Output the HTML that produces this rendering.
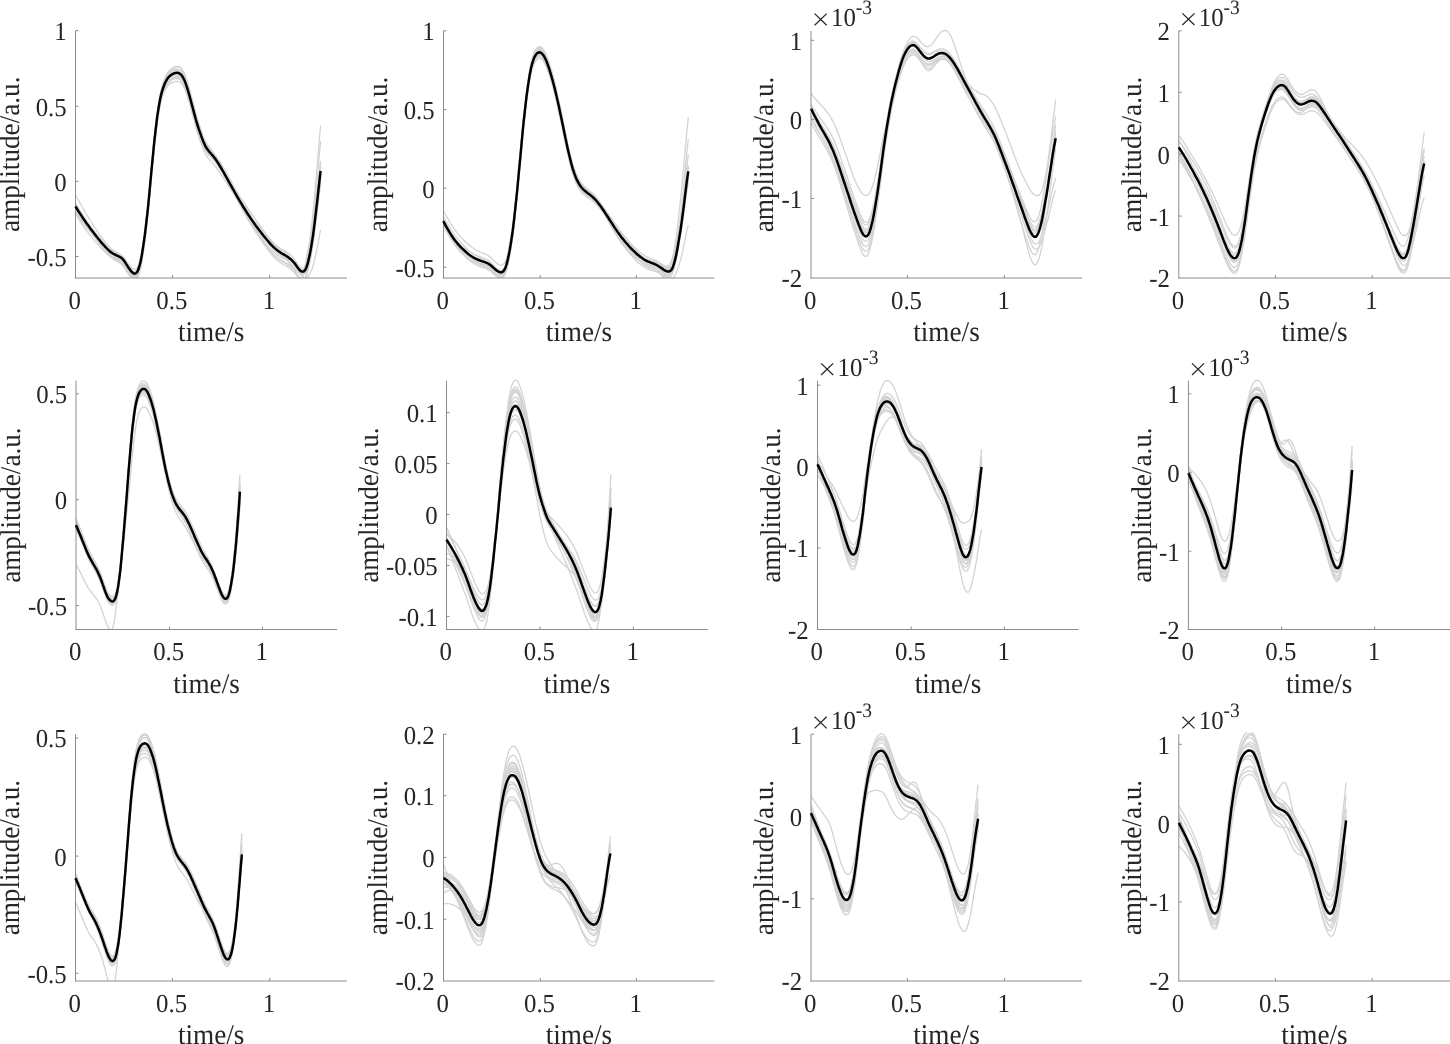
<!DOCTYPE html>
<html><head><meta charset="utf-8"><title>figure</title>
<style>
html,body{margin:0;padding:0;background:#fff;}
body{width:1450px;height:1044px;overflow:hidden;}
svg{display:block;will-change:transform;}
text{font-family:"Liberation Serif",serif;fill:#262626;text-rendering:geometricPrecision;}
.t{font-size:24.8px;}
.l{font-size:27.2px;}
.s{font-size:19.5px;}
.g{fill:none;stroke:#d3d3d3;stroke-width:1.3;stroke-linejoin:round;stroke-linecap:butt;}
.b{fill:none;stroke:#000;stroke-width:2.45;stroke-linejoin:round;stroke-linecap:butt;}
.a{stroke:#8c8c8c;stroke-width:1;fill:none;}
</style></head><body>
<svg width="1450" height="1044" viewBox="0 0 1450 1044">
<rect width="1450" height="1044" fill="#fff"/>

<g id="p1">
<clipPath id="c0"><rect x="75.5" y="28.6" width="271.5" height="249.4"/></clipPath>
<g clip-path="url(#c0)">
<path class="g" d="M75.5,194.5 77.1,197.5 78.6,200.4 80.2,203.3 81.7,206.0 83.2,208.7 84.8,211.4 86.3,214.0 87.9,216.5 89.4,219.0 90.9,221.5 92.5,223.9 94.0,226.3 95.6,228.6 97.1,231.0 98.7,233.2 100.2,235.4 101.7,237.5 103.3,239.5 104.8,241.5 106.4,243.4 107.9,245.2 109.4,246.9 111.0,248.4 112.5,249.7 114.1,250.8 115.6,251.7 117.1,252.6 118.7,253.5 120.2,254.4 121.8,255.7 123.3,257.3 124.8,259.5 126.4,262.0 127.9,264.6 129.5,267.0 131.0,269.0 132.6,270.7 134.1,271.6 135.6,271.5 137.2,269.9 138.7,266.4 140.3,260.8 141.8,253.0 143.3,243.2 144.9,232.0 146.4,219.2 148.0,204.7 149.5,188.8 151.0,172.1 152.6,155.5 154.1,139.7 155.7,125.4 157.2,112.8 158.8,102.2 160.3,93.9 161.8,87.4 163.4,82.3 164.9,78.2 166.5,75.0 168.0,72.5 169.5,70.6 171.1,69.2 172.6,68.1 174.2,67.4 175.7,66.9 177.2,66.8 178.8,67.0 180.3,67.9 181.9,69.6 183.4,72.2 185.0,75.7 186.5,80.0 188.0,85.0 189.6,90.5 191.1,96.3 192.7,102.2 194.2,108.2 195.7,113.9 197.3,119.4 198.8,124.4 200.4,129.1 201.9,133.5 203.4,137.7 205.0,141.3 206.5,144.3 208.1,146.7 209.6,148.8 211.1,150.7 212.7,152.7 214.2,154.9 215.8,157.2 217.3,159.7 218.9,162.3 220.4,165.1 221.9,167.9 223.5,170.8 225.0,173.7 226.6,176.7 228.1,179.7 229.6,182.7 231.2,185.7 232.7,188.7 234.3,191.7 235.8,194.7 237.3,197.6 238.9,200.5 240.4,203.4 242.0,206.3 243.5,209.0 245.1,211.8 246.6,214.5 248.1,217.1 249.7,219.7 251.2,222.2 252.8,224.7 254.3,227.1 255.8,229.4 257.4,231.7 258.9,233.9 260.5,236.1 262.0,238.2 263.5,240.2 265.1,242.3 266.6,244.2 268.2,246.1 269.7,248.0 271.3,249.7 272.8,251.3 274.3,252.8 275.9,254.1 277.4,255.2 279.0,256.2 280.5,257.1 282.0,257.9 283.6,258.6 285.1,259.2 286.7,259.8 288.2,260.5 289.7,261.2 291.3,262.1 292.8,263.2 294.4,264.5 295.9,266.0 297.4,267.6 299.0,269.0 300.5,269.9 302.1,269.9 303.6,268.9 305.2,265.8 306.7,260.0 308.2,251.5 309.8,240.9 311.3,228.4 312.9,214.0 314.4,197.8 315.9,180.3 317.5,162.0 319.0,143.4 320.6,125.0"/>
<path class="g" d="M75.5,203.5 77.1,206.3 78.6,209.1 80.2,211.7 81.7,214.3 83.2,216.8 84.8,219.3 86.3,221.7 87.9,224.1 89.4,226.4 90.9,228.7 92.5,230.9 94.0,233.2 95.6,235.4 97.1,237.5 98.7,239.6 100.2,241.6 101.7,243.6 103.3,245.5 104.8,247.3 106.4,249.1 107.9,250.7 109.4,252.3 111.0,253.7 112.5,254.8 114.1,255.8 115.6,256.6 117.1,257.4 118.7,258.1 120.2,259.0 121.8,260.1 123.3,261.7 124.8,263.8 126.4,266.3 127.9,268.8 129.5,271.1 131.0,273.1 132.6,274.7 134.1,275.6 135.6,275.5 137.2,273.8 138.7,270.3 140.3,264.7 141.8,256.8 143.3,247.0 144.9,235.7 146.4,222.9 148.0,208.4 149.5,192.4 151.0,175.7 152.6,159.0 154.1,143.2 155.7,128.8 157.2,116.2 158.8,105.6 160.3,97.2 161.8,90.7 163.4,85.5 164.9,81.4 166.5,78.1 168.0,75.6 169.5,73.7 171.1,72.3 172.6,71.2 174.2,70.4 175.7,69.9 177.2,69.8 178.8,70.0 180.3,70.9 181.9,72.6 183.4,75.2 185.0,78.6 186.5,82.9 188.0,87.8 189.6,93.3 191.1,99.0 192.7,105.0 194.2,110.8 195.7,116.5 197.3,122.0 198.8,127.0 200.4,131.6 201.9,136.0 203.4,140.1 205.0,143.7 206.5,146.6 208.1,149.0 209.6,151.0 211.1,152.9 212.7,154.9 214.2,157.0 215.8,159.3 217.3,161.8 218.9,164.3 220.4,167.1 221.9,169.9 223.5,172.8 225.0,175.7 226.6,178.7 228.1,181.7 229.6,184.7 231.2,187.7 232.7,190.7 234.3,193.7 235.8,196.7 237.3,199.7 238.9,202.6 240.4,205.4 242.0,208.3 243.5,211.1 245.1,213.8 246.6,216.5 248.1,219.1 249.7,221.7 251.2,224.2 252.8,226.7 254.3,229.1 255.8,231.4 257.4,233.7 258.9,236.0 260.5,238.1 262.0,240.3 263.5,242.4 265.1,244.4 266.6,246.4 268.2,248.4 269.7,250.3 271.3,252.0 272.8,253.7 274.3,255.2 275.9,256.6 277.4,257.8 279.0,258.9 280.5,259.8 282.0,260.7 283.6,261.5 285.1,262.3 286.7,263.0 288.2,263.8 289.7,264.7 291.3,265.7 292.8,266.9 294.4,268.4 295.9,270.1 297.4,271.9 299.0,273.5 300.5,274.6 302.1,274.8 303.6,274.1 305.2,271.4 306.7,266.2 308.2,258.5 309.8,248.9 311.3,237.4 312.9,224.1 314.4,209.1 315.9,192.8 317.5,175.7 319.0,158.3 320.6,141.0"/>
<path class="g" d="M75.5,209.5 77.1,212.0 78.6,214.5 80.2,216.9 81.7,219.2 83.2,221.5 84.8,223.7 86.3,225.9 87.9,228.0 89.4,230.1 90.9,232.2 92.5,234.3 94.0,236.3 95.6,238.3 97.1,240.3 98.7,242.2 100.2,244.1 101.7,245.9 103.3,247.6 104.8,249.3 106.4,251.0 107.9,252.5 109.4,254.0 111.0,255.2 112.5,256.3 114.1,257.2 115.6,257.9 117.1,258.6 118.7,259.3 120.2,260.1 121.8,261.2 123.3,262.8 124.8,264.9 126.4,267.3 127.9,269.7 129.5,272.1 131.0,274.1 132.6,275.7 134.1,276.6 135.6,276.5 137.2,274.9 138.7,271.5 140.3,266.0 141.8,258.3 143.3,248.7 144.9,237.7 146.4,225.1 148.0,210.8 149.5,195.2 151.0,178.7 152.6,162.3 154.1,146.9 155.7,132.8 157.2,120.5 158.8,110.2 160.3,102.2 161.8,96.0 163.4,91.1 164.9,87.3 166.5,84.3 168.0,82.1 169.5,80.4 171.1,79.2 172.6,78.3 174.2,77.7 175.7,77.3 177.2,77.3 178.8,77.6 180.3,78.6 181.9,80.3 183.4,82.8 185.0,86.3 186.5,90.5 188.0,95.4 189.6,100.7 191.1,106.4 192.7,112.2 194.2,117.9 195.7,123.5 197.3,128.7 198.8,133.6 200.4,138.0 201.9,142.1 203.4,146.0 205.0,149.3 206.5,152.0 208.1,154.1 209.6,155.8 211.1,157.4 212.7,159.0 214.2,160.8 215.8,162.8 217.3,164.9 218.9,167.1 220.4,169.5 221.9,171.9 223.5,174.4 225.0,176.9 226.6,179.5 228.1,182.0 229.6,184.6 231.2,187.2 232.7,189.7 234.3,192.2 235.8,194.6 237.3,197.0 238.9,199.4 240.4,201.7 242.0,204.0 243.5,206.2 245.1,208.4 246.6,210.5 248.1,212.6 249.7,214.6 251.2,216.7 252.8,218.6 254.3,220.6 255.8,222.4 257.4,224.3 258.9,226.1 260.5,227.9 262.0,229.7 263.5,231.5 265.1,233.3 266.6,235.1 268.2,236.9 269.7,238.6 271.3,240.3 272.8,241.9 274.3,243.5 275.9,244.9 277.4,246.3 279.0,247.6 280.5,248.8 282.0,250.0 283.6,251.3 285.1,252.5 286.7,253.8 288.2,255.3 289.7,256.9 291.3,258.7 292.8,260.9 294.4,263.3 295.9,266.1 297.4,269.0 299.0,272.0 300.5,274.4 302.1,276.2 303.6,277.3 305.2,278.1 306.7,277.8 308.2,276.3 309.8,274.0 311.3,270.7 312.9,266.3 314.4,260.5 315.9,253.8 317.5,246.3 319.0,238.2 320.6,230.0"/>
<path class="g" d="M75.5,208.5 77.1,210.8 78.6,213.0 80.2,215.2 81.7,217.3 83.2,219.4 84.8,221.4 86.3,223.4 87.9,225.3 89.4,227.3 90.9,229.2 92.5,231.1 94.0,233.0 95.6,234.9 97.1,236.7 98.7,238.5 100.2,240.3 101.7,242.0 103.3,243.7 104.8,245.3 106.4,246.9 107.9,248.3 109.4,249.7 111.0,251.0 112.5,252.0 114.1,252.8 115.6,253.6 117.1,254.2 118.7,254.9 120.2,255.7 121.8,256.8 123.3,258.4 124.8,260.5 126.4,263.0 127.9,265.5 129.5,267.8 131.0,269.9 132.6,271.6 134.1,272.6 135.6,272.6 137.2,271.1 138.7,267.9 140.3,262.6 141.8,255.2 143.3,246.0 144.9,235.2 146.4,223.0 148.0,209.2 149.5,193.9 151.0,177.9 152.6,161.9 154.1,146.9 155.7,133.3 157.2,121.5 158.8,111.6 160.3,103.9 161.8,98.1 163.4,93.6 164.9,90.1 166.5,87.5 168.0,85.5 169.5,84.1 171.1,83.1 172.6,82.3 174.2,81.8 175.7,81.4 177.2,81.4 178.8,81.6 180.3,82.4 181.9,84.0 183.4,86.3 185.0,89.5 186.5,93.5 188.0,98.1 189.6,103.1 191.1,108.5 192.7,113.9 194.2,119.3 195.7,124.5 197.3,129.4 198.8,133.8 200.4,137.9 201.9,141.6 203.4,145.1 205.0,148.1 206.5,150.5 208.1,152.2 209.6,153.6 211.1,155.0 212.7,156.4 214.2,158.0 215.8,159.8 217.3,161.7 218.9,163.9 220.4,166.2 221.9,168.6 223.5,171.2 225.0,173.8 226.6,176.6 228.1,179.3 229.6,182.1 231.2,185.0 232.7,187.8 234.3,190.6 235.8,193.4 237.3,196.1 238.9,198.9 240.4,201.6 242.0,204.2 243.5,206.9 245.1,209.5 246.6,212.0 248.1,214.5 249.7,217.0 251.2,219.4 252.8,221.8 254.3,224.1 255.8,226.4 257.4,228.6 258.9,230.8 260.5,232.9 262.0,235.1 263.5,237.1 265.1,239.2 266.6,241.2 268.2,243.2 269.7,245.1 271.3,246.9 272.8,248.6 274.3,250.2 275.9,251.7 277.4,253.0 279.0,254.2 280.5,255.3 282.0,256.3 283.6,257.2 285.1,258.2 286.7,259.1 288.2,260.1 289.7,261.2 291.3,262.5 292.8,263.9 294.4,265.7 295.9,267.6 297.4,269.7 299.0,271.7 300.5,273.1 302.1,273.7 303.6,273.3 305.2,271.5 306.7,267.5 308.2,261.3 309.8,253.4 311.3,244.0 312.9,232.8 314.4,220.1 315.9,206.1 317.5,191.3 319.0,176.1 320.6,161.0"/>
<path class="g" d="M75.5,206.5 77.1,209.2 78.6,211.9 80.2,214.5 81.7,217.0 83.2,219.4 84.8,221.8 86.3,224.2 87.9,226.5 89.4,228.8 90.9,231.0 92.5,233.2 94.0,235.4 95.6,237.6 97.1,239.7 98.7,241.7 100.2,243.7 101.7,245.7 103.3,247.5 104.8,249.3 106.4,251.1 107.9,252.7 109.4,254.3 111.0,255.6 112.5,256.8 114.1,257.8 115.6,258.6 117.1,259.3 118.7,260.1 120.2,260.9 121.8,262.1 123.3,263.7 124.8,265.8 126.4,268.2 127.9,270.7 129.5,273.1 131.0,275.1 132.6,276.7 134.1,277.6 135.6,277.5 137.2,275.9 138.7,272.4 140.3,266.8 141.8,259.0 143.3,249.3 144.9,238.1 146.4,225.4 148.0,211.0 149.5,195.2 151.0,178.6 152.6,162.0 154.1,146.4 155.7,132.2 157.2,119.7 158.8,109.2 160.3,100.9 161.8,94.6 163.4,89.6 164.9,85.6 166.5,82.4 168.0,80.1 169.5,78.3 171.1,77.0 172.6,76.0 174.2,75.3 175.7,74.9 177.2,74.8 178.8,75.1 180.3,76.0 181.9,77.7 183.4,80.3 185.0,83.7 186.5,88.0 188.0,92.9 189.6,98.4 191.1,104.1 192.7,109.9 194.2,115.8 195.7,121.4 197.3,126.7 198.8,131.6 200.4,136.2 201.9,140.4 203.4,144.3 205.0,147.8 206.5,150.6 208.1,152.8 209.6,154.6 211.1,156.3 212.7,158.1 214.2,160.0 215.8,162.1 217.3,164.3 218.9,166.6 220.4,169.1 221.9,171.6 223.5,174.2 225.0,176.9 226.6,179.5 228.1,182.2 229.6,184.9 231.2,187.6 232.7,190.2 234.3,192.8 235.8,195.4 237.3,198.0 238.9,200.5 240.4,203.0 242.0,205.4 243.5,207.8 245.1,210.2 246.6,212.5 248.1,214.7 249.7,217.0 251.2,219.1 252.8,221.3 254.3,223.4 255.8,225.5 257.4,227.5 258.9,229.5 260.5,231.5 262.0,233.5 263.5,235.4 265.1,237.4 266.6,239.3 268.2,241.3 269.7,243.2 271.3,245.0 272.8,246.8 274.3,248.5 275.9,250.1 277.4,251.5 279.0,253.0 280.5,254.3 282.0,255.6 283.6,256.9 285.1,258.3 286.7,259.7 288.2,261.2 289.7,262.8 291.3,264.7 292.8,266.9 294.4,269.4 295.9,272.5 297.4,275.7 299.0,278.4 300.5,279.9 302.1,278.2 303.6,272.7 305.2,265.0 306.7,256.6 308.2,249.3 309.8,242.1 311.3,234.3 312.9,225.6 314.4,216.3 315.9,206.7 317.5,197.3 319.0,188.6 320.6,181.0"/>
<path class="g" d="M75.5,210.5 77.1,213.1 78.6,215.5 80.2,217.8 81.7,220.0 83.2,222.1 84.8,224.1 86.3,226.0 87.9,227.8 89.4,229.6 90.9,231.3 92.5,233.0 94.0,234.6 95.6,236.2 97.1,237.8 98.7,239.4 100.2,240.9 101.7,242.3 103.3,243.8 104.8,245.2 106.4,246.6 107.9,247.9 109.4,249.2 111.0,250.3 112.5,251.3 114.1,252.1 115.6,252.8 117.1,253.5 118.7,254.2 120.2,255.1 121.8,256.3 123.3,257.9 124.8,260.1 126.4,262.7 127.9,265.3 129.5,267.8 131.0,270.0 132.6,271.7 134.1,272.8 135.6,272.8 137.2,271.3 138.7,267.9 140.3,262.4 141.8,254.7 143.3,245.1 144.9,233.9 146.4,221.3 148.0,206.8 149.5,191.0 151.0,174.4 152.6,157.7 154.1,142.0 155.7,127.7 157.2,115.2 158.8,104.6 160.3,96.3 161.8,89.9 163.4,84.8 164.9,80.7 166.5,77.5 168.0,75.1 169.5,73.3 171.1,72.0 172.6,71.1 174.2,70.4 175.7,70.1 177.2,70.2 178.8,70.7 180.3,71.8 181.9,73.7 183.4,76.5 185.0,80.3 186.5,84.8 188.0,90.1 189.6,95.9 191.1,102.0 192.7,108.2 194.2,114.4 195.7,120.3 197.3,126.0 198.8,131.3 200.4,136.1 201.9,140.6 203.4,144.8 205.0,148.4 206.5,151.3 208.1,153.6 209.6,155.5 211.1,157.2 212.7,159.0 214.2,160.8 215.8,162.7 217.3,164.7 218.9,166.8 220.4,169.0 221.9,171.2 223.5,173.5 225.0,175.7 226.6,178.0 228.1,180.2 229.6,182.5 231.2,184.8 232.7,187.0 234.3,189.2 235.8,191.4 237.3,193.6 238.9,195.8 240.4,197.9 242.0,200.1 243.5,202.2 245.1,204.4 246.6,206.6 248.1,208.7 249.7,210.9 251.2,213.1 252.8,215.3 254.3,217.4 255.8,219.6 257.4,221.8 258.9,224.0 260.5,226.2 262.0,228.4 263.5,230.6 265.1,232.8 266.6,235.0 268.2,237.2 269.7,239.3 271.3,241.3 272.8,243.3 274.3,245.1 275.9,246.8 277.4,248.3 279.0,249.7 280.5,251.0 282.0,252.2 283.6,253.3 285.1,254.4 286.7,255.5 288.2,256.6 289.7,257.8 291.3,259.1 292.8,260.6 294.4,262.4 295.9,264.4 297.4,266.6 299.0,268.6 300.5,270.1 302.1,270.8 303.6,270.7 305.2,269.2 306.7,265.6 308.2,259.9 309.8,252.6 311.3,243.7 312.9,233.1 314.4,220.9 315.9,207.5 317.5,193.1 319.0,178.2 320.6,163.3"/>
<path class="g" d="M75.5,213.8 77.1,216.4 78.6,219.0 80.2,221.4 81.7,223.8 83.2,226.0 84.8,228.2 86.3,230.3 87.9,232.3 89.4,234.3 90.9,236.3 92.5,238.2 94.0,240.1 95.6,241.9 97.1,243.7 98.7,245.5 100.2,247.2 101.7,248.8 103.3,250.4 104.8,251.9 106.4,253.4 107.9,254.9 109.4,256.2 111.0,257.3 112.5,258.3 114.1,259.1 115.6,259.8 117.1,260.4 118.7,261.1 120.2,261.9 121.8,262.9 123.3,264.5 124.8,266.5 126.4,268.9 127.9,271.4 129.5,273.7 131.0,275.7 132.6,277.3 134.1,278.3 135.6,278.1 137.2,276.6 138.7,273.2 140.3,267.7 141.8,260.0 143.3,250.4 144.9,239.4 146.4,226.8 148.0,212.6 149.5,197.0 151.0,180.5 152.6,164.1 154.1,148.7 155.7,134.6 157.2,122.3 158.8,111.9 160.3,103.8 161.8,97.6 163.4,92.6 164.9,88.7 166.5,85.7 168.0,83.4 169.5,81.7 171.1,80.4 172.6,79.5 174.2,78.9 175.7,78.6 177.2,78.6 178.8,79.0 180.3,80.1 181.9,81.9 183.4,84.5 185.0,88.1 186.5,92.5 188.0,97.5 189.6,103.0 191.1,108.9 192.7,114.9 194.2,120.8 195.7,126.5 197.3,131.9 198.8,136.9 200.4,141.5 201.9,145.8 203.4,149.7 205.0,153.2 206.5,156.0 208.1,158.2 209.6,160.0 211.1,161.6 212.7,163.3 214.2,165.1 215.8,167.0 217.3,169.0 218.9,171.2 220.4,173.4 221.9,175.7 223.5,178.1 225.0,180.5 226.6,182.9 228.1,185.3 229.6,187.7 231.2,190.1 232.7,192.5 234.3,194.9 235.8,197.2 237.3,199.5 238.9,201.8 240.4,204.0 242.0,206.3 243.5,208.5 245.1,210.7 246.6,212.9 248.1,215.0 249.7,217.1 251.2,219.2 252.8,221.3 254.3,223.4 255.8,225.4 257.4,227.5 258.9,229.5 260.5,231.5 262.0,233.5 263.5,235.5 265.1,237.5 266.6,239.4 268.2,241.4 269.7,243.3 271.3,245.1 272.8,246.9 274.3,248.5 275.9,250.0 277.4,251.4 279.0,252.7 280.5,253.9 282.0,255.0 283.6,256.1 285.1,257.1 286.7,258.2 288.2,259.3 289.7,260.6 291.3,262.0 292.8,263.6 294.4,265.5 295.9,267.6 297.4,269.9 299.0,272.1 300.5,273.7 302.1,274.6 303.6,274.6 305.2,273.4 306.7,270.2 308.2,265.0 309.8,258.3 311.3,250.2 312.9,240.5 314.4,229.3 315.9,216.9 317.5,203.7 319.0,190.2 320.6,176.6"/>
<path class="g" d="M75.5,206.4 77.1,208.7 78.6,211.0 80.2,213.2 81.7,215.4 83.2,217.5 84.8,219.5 86.3,221.5 87.9,223.5 89.4,225.4 90.9,227.3 92.5,229.3 94.0,231.2 95.6,233.1 97.1,235.0 98.7,236.8 100.2,238.6 101.7,240.4 103.3,242.1 104.8,243.7 106.4,245.4 107.9,246.9 109.4,248.4 111.0,249.7 112.5,250.8 114.1,251.7 115.6,252.5 117.1,253.2 118.7,254.0 120.2,254.9 121.8,256.1 123.3,257.7 124.8,259.9 126.4,262.4 127.9,265.0 129.5,267.5 131.0,269.6 132.6,271.3 134.1,272.4 135.6,272.3 137.2,270.8 138.7,267.5 140.3,262.0 141.8,254.3 143.3,244.7 144.9,233.6 146.4,221.0 148.0,206.7 149.5,190.9 151.0,174.3 152.6,157.8 154.1,142.3 155.7,128.1 157.2,115.7 158.8,105.4 160.3,97.2 161.8,91.0 163.4,86.1 164.9,82.2 166.5,79.2 168.0,76.9 169.5,75.3 171.1,74.0 172.6,73.1 174.2,72.4 175.7,72.0 177.2,72.0 178.8,72.3 180.3,73.2 181.9,74.8 183.4,77.3 185.0,80.7 186.5,84.9 188.0,89.8 189.6,95.1 191.1,100.7 192.7,106.5 194.2,112.2 195.7,117.6 197.3,122.8 198.8,127.6 200.4,131.9 201.9,136.0 203.4,139.7 205.0,143.0 206.5,145.6 208.1,147.6 209.6,149.2 211.1,150.7 212.7,152.4 214.2,154.1 215.8,156.0 217.3,158.1 218.9,160.4 220.4,162.7 221.9,165.2 223.5,167.8 225.0,170.4 226.6,173.1 228.1,175.9 229.6,178.6 231.2,181.4 232.7,184.2 234.3,187.0 235.8,189.8 237.3,192.5 238.9,195.3 240.4,198.0 242.0,200.7 243.5,203.3 245.1,206.0 246.6,208.6 248.1,211.1 249.7,213.7 251.2,216.2 252.8,218.6 254.3,221.0 255.8,223.4 257.4,225.7 258.9,227.9 260.5,230.2 262.0,232.4 263.5,234.5 265.1,236.6 266.6,238.7 268.2,240.8 269.7,242.8 271.3,244.6 272.8,246.4 274.3,248.1 275.9,249.6 277.4,250.9 279.0,252.2 280.5,253.3 282.0,254.4 283.6,255.4 285.1,256.4 286.7,257.4 288.2,258.4 289.7,259.6 291.3,260.9 292.8,262.5 294.4,264.3 295.9,266.3 297.4,268.6 299.0,270.6 300.5,272.2 302.1,272.9 303.6,272.8 305.2,271.4 306.7,268.0 308.2,262.6 309.8,255.7 311.3,247.3 312.9,237.3 314.4,225.7 315.9,213.0 317.5,199.5 319.0,185.6 320.6,171.7"/>
<path class="g" d="M75.5,204.4 77.1,207.0 78.6,209.5 80.2,212.0 81.7,214.4 83.2,216.8 84.8,219.1 86.3,221.3 87.9,223.6 89.4,225.8 90.9,227.9 92.5,230.1 94.0,232.2 95.6,234.4 97.1,236.4 98.7,238.4 100.2,240.4 101.7,242.3 103.3,244.2 104.8,245.9 106.4,247.7 107.9,249.3 109.4,250.8 111.0,252.1 112.5,253.3 114.1,254.2 115.6,255.0 117.1,255.7 118.7,256.4 120.2,257.3 121.8,258.4 123.3,259.9 124.8,262.0 126.4,264.4 127.9,266.8 129.5,269.1 131.0,271.1 132.6,272.6 134.1,273.5 135.6,273.2 137.2,271.5 138.7,268.0 140.3,262.3 141.8,254.4 143.3,244.5 144.9,233.2 146.4,220.4 148.0,205.8 149.5,189.8 151.0,173.0 152.6,156.3 154.1,140.4 155.7,126.0 157.2,113.4 158.8,102.7 160.3,94.3 161.8,87.8 163.4,82.6 164.9,78.5 166.5,75.2 168.0,72.6 169.5,70.7 171.1,69.2 172.6,68.1 174.2,67.2 175.7,66.7 177.2,66.4 178.8,66.6 180.3,67.4 181.9,69.0 183.4,71.5 185.0,74.9 186.5,79.1 188.0,84.0 189.6,89.4 191.1,95.2 192.7,101.1 194.2,107.0 195.7,112.7 197.3,118.1 198.8,123.2 200.4,127.9 201.9,132.3 203.4,136.4 205.0,140.0 206.5,143.0 208.1,145.5 209.6,147.5 211.1,149.5 212.7,151.6 214.2,153.8 215.8,156.2 217.3,158.7 218.9,161.4 220.4,164.2 221.9,167.0 223.5,170.0 225.0,173.0 226.6,176.0 228.1,179.1 229.6,182.1 231.2,185.2 232.7,188.2 234.3,191.2 235.8,194.1 237.3,197.0 238.9,199.8 240.4,202.6 242.0,205.4 243.5,208.0 245.1,210.7 246.6,213.2 248.1,215.7 249.7,218.1 251.2,220.5 252.8,222.8 254.3,225.0 255.8,227.2 257.4,229.3 258.9,231.4 260.5,233.4 262.0,235.3 263.5,237.2 265.1,239.1 266.6,240.9 268.2,242.7 269.7,244.4 271.3,246.1 272.8,247.6 274.3,249.0 275.9,250.2 277.4,251.3 279.0,252.3 280.5,253.2 282.0,254.0 283.6,254.8 285.1,255.6 286.7,256.4 288.2,257.2 289.7,258.2 291.3,259.3 292.8,260.7 294.4,262.3 295.9,264.2 297.4,266.3 299.0,268.2 300.5,269.6 302.1,270.3 303.6,270.1 305.2,268.7 306.7,265.4 308.2,260.3 309.8,253.8 311.3,246.0 312.9,236.7 314.4,226.0 315.9,214.2 317.5,201.8 319.0,189.2 320.6,176.7"/>
<path class="g" d="M75.5,210.4 77.1,212.9 78.6,215.4 80.2,217.7 81.7,220.0 83.2,222.2 84.8,224.3 86.3,226.3 87.9,228.3 89.4,230.3 90.9,232.2 92.5,234.1 94.0,236.0 95.6,237.9 97.1,239.8 98.7,241.6 100.2,243.4 101.7,245.2 103.3,246.9 104.8,248.6 106.4,250.2 107.9,251.8 109.4,253.3 111.0,254.7 112.5,255.9 114.1,256.9 115.6,257.8 117.1,258.6 118.7,259.5 120.2,260.5 121.8,261.8 123.3,263.6 124.8,265.9 126.4,268.5 127.9,271.2 129.5,273.7 131.0,275.9 132.6,277.7 134.1,278.8 135.6,278.7 137.2,277.2 138.7,273.9 140.3,268.4 141.8,260.6 143.3,250.9 144.9,239.7 146.4,226.9 148.0,212.5 149.5,196.5 151.0,179.8 152.6,163.1 154.1,147.2 155.7,132.9 157.2,120.2 158.8,109.5 160.3,101.1 161.8,94.6 163.4,89.4 164.9,85.2 166.5,81.9 168.0,79.3 169.5,77.4 171.1,75.9 172.6,74.8 174.2,74.0 175.7,73.4 177.2,73.2 178.8,73.5 180.3,74.3 181.9,76.0 183.4,78.5 185.0,82.0 186.5,86.2 188.0,91.2 189.6,96.7 191.1,102.5 192.7,108.4 194.2,114.3 195.7,120.0 197.3,125.4 198.8,130.4 200.4,135.0 201.9,139.3 203.4,143.3 205.0,146.8 206.5,149.6 208.1,151.8 209.6,153.6 211.1,155.3 212.7,157.0 214.2,158.9 215.8,160.9 217.3,163.0 218.9,165.2 220.4,167.6 221.9,170.0 223.5,172.5 225.0,175.0 226.6,177.6 228.1,180.1 229.6,182.7 231.2,185.3 232.7,187.9 234.3,190.5 235.8,193.0 237.3,195.5 238.9,198.1 240.4,200.6 242.0,203.1 243.5,205.5 245.1,208.0 246.6,210.4 248.1,212.8 249.7,215.2 251.2,217.6 252.8,220.0 254.3,222.3 255.8,224.6 257.4,226.9 258.9,229.1 260.5,231.4 262.0,233.6 263.5,235.7 265.1,237.9 266.6,240.1 268.2,242.2 269.7,244.2 271.3,246.1 272.8,248.0 274.3,249.7 275.9,251.2 277.4,252.6 279.0,253.9 280.5,255.0 282.0,256.1 283.6,257.0 285.1,258.0 286.7,258.9 288.2,259.9 289.7,261.0 291.3,262.2 292.8,263.7 294.4,265.4 295.9,267.3 297.4,269.4 299.0,271.4 300.5,272.8 302.1,273.5 303.6,273.3 305.2,271.8 306.7,268.6 308.2,263.4 309.8,256.8 311.3,248.8 312.9,239.4 314.4,228.5 315.9,216.6 317.5,204.0 319.0,191.1 320.6,178.4"/>
<path class="g" d="M75.5,211.7 77.1,214.1 78.6,216.4 80.2,218.6 81.7,220.7 83.2,222.8 84.8,224.8 86.3,226.7 87.9,228.6 89.4,230.5 90.9,232.4 92.5,234.3 94.0,236.2 95.6,238.0 97.1,239.8 98.7,241.6 100.2,243.3 101.7,245.0 103.3,246.7 104.8,248.3 106.4,249.9 107.9,251.5 109.4,252.9 111.0,254.2 112.5,255.3 114.1,256.2 115.6,257.0 117.1,257.8 118.7,258.5 120.2,259.5 121.8,260.7 123.3,262.4 124.8,264.6 126.4,267.2 127.9,269.8 129.5,272.3 131.0,274.5 132.6,276.3 134.1,277.4 135.6,277.3 137.2,275.9 138.7,272.5 140.3,267.0 141.8,259.2 143.3,249.5 144.9,238.3 146.4,225.5 148.0,211.0 149.5,195.1 151.0,178.3 152.6,161.6 154.1,145.8 155.7,131.4 157.2,118.7 158.8,108.1 160.3,99.7 161.8,93.2 163.4,88.1 164.9,83.9 166.5,80.6 168.0,78.1 169.5,76.2 171.1,74.7 172.6,73.6 174.2,72.7 175.7,72.2 177.2,71.9 178.8,72.1 180.3,72.9 181.9,74.4 183.4,76.9 185.0,80.3 186.5,84.5 188.0,89.4 189.6,94.8 191.1,100.5 192.7,106.4 194.2,112.3 195.7,118.0 197.3,123.3 198.8,128.3 200.4,133.0 201.9,137.3 203.4,141.3 205.0,144.9 206.5,147.8 208.1,150.1 209.6,152.1 211.1,153.9 212.7,155.9 214.2,158.0 215.8,160.2 217.3,162.6 218.9,165.2 220.4,167.9 221.9,170.7 223.5,173.5 225.0,176.4 226.6,179.4 228.1,182.4 229.6,185.4 231.2,188.4 232.7,191.3 234.3,194.3 235.8,197.3 237.3,200.2 238.9,203.1 240.4,205.9 242.0,208.7 243.5,211.5 245.1,214.3 246.6,217.0 248.1,219.6 249.7,222.3 251.2,224.8 252.8,227.4 254.3,229.8 255.8,232.3 257.4,234.7 258.9,237.0 260.5,239.3 262.0,241.5 263.5,243.8 265.1,245.9 266.6,248.1 268.2,250.2 269.7,252.2 271.3,254.1 272.8,255.9 274.3,257.6 275.9,259.1 277.4,260.4 279.0,261.6 280.5,262.7 282.0,263.7 283.6,264.6 285.1,265.5 286.7,266.4 288.2,267.3 289.7,268.3 291.3,269.5 292.8,270.9 294.4,272.5 295.9,274.3 297.4,276.3 299.0,278.2 300.5,279.5 302.1,280.0 303.6,279.6 305.2,277.9 306.7,274.1 308.2,268.2 309.8,260.8 311.3,251.8 312.9,241.1 314.4,228.8 315.9,215.3 317.5,200.9 319.0,186.1 320.6,171.2"/>
<path class="g" d="M75.5,203.4 77.1,205.9 78.6,208.4 80.2,210.8 81.7,213.2 83.2,215.6 84.8,217.9 86.3,220.1 87.9,222.4 89.4,224.6 90.9,226.8 92.5,229.0 94.0,231.2 95.6,233.3 97.1,235.4 98.7,237.5 100.2,239.4 101.7,241.3 103.3,243.2 104.8,244.9 106.4,246.6 107.9,248.1 109.4,249.5 111.0,250.8 112.5,251.8 114.1,252.5 115.6,253.2 117.1,253.7 118.7,254.2 120.2,254.9 121.8,255.8 123.3,257.1 124.8,258.9 126.4,261.1 127.9,263.4 129.5,265.5 131.0,267.3 132.6,268.7 134.1,269.4 135.6,269.1 137.2,267.4 138.7,263.9 140.3,258.4 141.8,250.7 143.3,241.1 144.9,230.0 146.4,217.6 148.0,203.5 149.5,188.0 151.0,171.7 152.6,155.5 154.1,140.3 155.7,126.6 157.2,114.5 158.8,104.5 160.3,96.7 161.8,90.9 163.4,86.3 164.9,82.7 166.5,80.0 168.0,78.1 169.5,76.7 171.1,75.8 172.6,75.1 174.2,74.7 175.7,74.6 177.2,74.7 178.8,75.2 180.3,76.3 181.9,78.1 183.4,80.8 185.0,84.3 186.5,88.5 188.0,93.4 189.6,98.8 191.1,104.4 192.7,110.1 194.2,115.8 195.7,121.2 197.3,126.4 198.8,131.1 200.4,135.5 201.9,139.5 203.4,143.2 205.0,146.5 206.5,149.1 208.1,151.2 209.6,152.9 211.1,154.5 212.7,156.1 214.2,158.0 215.8,160.0 217.3,162.2 218.9,164.5 220.4,167.0 221.9,169.6 223.5,172.3 225.0,175.0 226.6,177.8 228.1,180.6 229.6,183.4 231.2,186.3 232.7,189.1 234.3,191.9 235.8,194.7 237.3,197.4 238.9,200.1 240.4,202.7 242.0,205.2 243.5,207.8 245.1,210.2 246.6,212.6 248.1,214.9 249.7,217.1 251.2,219.3 252.8,221.3 254.3,223.3 255.8,225.3 257.4,227.2 258.9,229.0 260.5,230.7 262.0,232.4 263.5,234.1 265.1,235.7 266.6,237.4 268.2,238.9 269.7,240.4 271.3,241.9 272.8,243.2 274.3,244.5 275.9,245.7 277.4,246.7 279.0,247.7 280.5,248.6 282.0,249.4 283.6,250.3 285.1,251.1 286.7,252.1 288.2,253.1 289.7,254.3 291.3,255.6 292.8,257.3 294.4,259.2 295.9,261.4 297.4,263.7 299.0,266.0 300.5,267.8 302.1,268.8 303.6,268.9 305.2,267.8 306.7,264.8 308.2,259.8 309.8,253.3 311.3,245.4 312.9,235.8 314.4,224.8 315.9,212.6 317.5,199.6 319.0,186.2 320.6,172.8"/>
<path class="g" d="M75.5,207.2 77.1,209.9 78.6,212.5 80.2,215.0 81.7,217.5 83.2,219.9 84.8,222.3 86.3,224.6 87.9,226.9 89.4,229.2 90.9,231.5 92.5,233.7 94.0,236.0 95.6,238.2 97.1,240.3 98.7,242.5 100.2,244.5 101.7,246.6 103.3,248.5 104.8,250.4 106.4,252.3 107.9,254.1 109.4,255.7 111.0,257.2 112.5,258.5 114.1,259.6 115.6,260.5 117.1,261.4 118.7,262.2 120.2,263.2 121.8,264.5 123.3,266.2 124.8,268.4 126.4,270.9 127.9,273.5 129.5,275.9 131.0,278.0 132.6,279.7 134.1,280.7 135.6,280.6 137.2,279.1 138.7,275.6 140.3,270.1 141.8,262.4 143.3,252.7 144.9,241.5 146.4,228.9 148.0,214.5 149.5,198.7 151.0,182.0 152.6,165.5 154.1,149.8 155.7,135.6 157.2,123.0 158.8,112.5 160.3,104.2 161.8,97.8 163.4,92.7 164.9,88.6 166.5,85.4 168.0,82.9 169.5,81.0 171.1,79.5 172.6,78.4 174.2,77.5 175.7,76.9 177.2,76.7 178.8,76.8 180.3,77.6 181.9,79.1 183.4,81.5 185.0,84.8 186.5,88.9 188.0,93.7 189.6,98.9 191.1,104.5 192.7,110.2 194.2,115.9 195.7,121.4 197.3,126.6 198.8,131.5 200.4,135.9 201.9,140.1 203.4,143.9 205.0,147.3 206.5,150.0 208.1,152.2 209.6,154.0 211.1,155.7 212.7,157.5 214.2,159.4 215.8,161.5 217.3,163.7 218.9,166.1 220.4,168.6 221.9,171.2 223.5,173.9 225.0,176.6 226.6,179.4 228.1,182.1 229.6,184.9 231.2,187.7 232.7,190.5 234.3,193.3 235.8,196.0 237.3,198.7 238.9,201.3 240.4,204.0 242.0,206.5 243.5,209.0 245.1,211.5 246.6,213.9 248.1,216.3 249.7,218.6 251.2,220.9 252.8,223.1 254.3,225.3 255.8,227.4 257.4,229.4 258.9,231.4 260.5,233.4 262.0,235.3 263.5,237.2 265.1,239.0 266.6,240.9 268.2,242.7 269.7,244.4 271.3,246.0 272.8,247.5 274.3,248.9 275.9,250.2 277.4,251.4 279.0,252.4 280.5,253.3 282.0,254.2 283.6,255.0 285.1,255.9 286.7,256.7 288.2,257.6 289.7,258.6 291.3,259.9 292.8,261.3 294.4,263.0 295.9,265.0 297.4,267.1 299.0,269.2 300.5,270.7 302.1,271.4 303.6,271.3 305.2,269.9 306.7,266.4 308.2,260.9 309.8,253.7 311.3,245.0 312.9,234.7 314.4,222.7 315.9,209.5 317.5,195.3 319.0,180.8 320.6,166.1"/>
<path class="g" d="M75.5,212.8 77.1,215.0 78.6,217.2 80.2,219.3 81.7,221.3 83.2,223.2 84.8,225.1 86.3,227.0 87.9,228.9 89.4,230.7 90.9,232.6 92.5,234.4 94.0,236.3 95.6,238.1 97.1,240.0 98.7,241.8 100.2,243.5 101.7,245.3 103.3,247.0 104.8,248.7 106.4,250.3 107.9,251.9 109.4,253.4 111.0,254.7 112.5,255.8 114.1,256.7 115.6,257.5 117.1,258.3 118.7,259.0 120.2,259.9 121.8,261.1 123.3,262.7 124.8,264.9 126.4,267.4 127.9,269.9 129.5,272.3 131.0,274.3 132.6,276.0 134.1,276.9 135.6,276.8 137.2,275.2 138.7,271.7 140.3,266.1 141.8,258.2 143.3,248.4 144.9,237.2 146.4,224.4 148.0,209.9 149.5,193.9 151.0,177.2 152.6,160.5 154.1,144.8 155.7,130.6 157.2,118.1 158.8,107.7 160.3,99.5 161.8,93.3 163.4,88.4 164.9,84.6 166.5,81.7 168.0,79.5 169.5,77.9 171.1,76.8 172.6,76.0 174.2,75.5 175.7,75.3 177.2,75.4 178.8,76.0 180.3,77.1 181.9,78.9 183.4,81.7 185.0,85.3 186.5,89.7 188.0,94.7 189.6,100.3 191.1,106.1 192.7,112.1 194.2,117.9 195.7,123.6 197.3,128.9 198.8,133.7 200.4,138.2 201.9,142.3 203.4,146.1 205.0,149.5 206.5,152.1 208.1,154.1 209.6,155.7 211.1,157.2 212.7,158.8 214.2,160.5 215.8,162.4 217.3,164.4 218.9,166.6 220.4,169.0 221.9,171.4 223.5,173.9 225.0,176.6 226.6,179.2 228.1,181.9 229.6,184.7 231.2,187.5 232.7,190.3 234.3,193.1 235.8,195.9 237.3,198.7 238.9,201.5 240.4,204.3 242.0,207.0 243.5,209.8 245.1,212.5 246.6,215.2 248.1,217.9 249.7,220.5 251.2,223.1 252.8,225.6 254.3,228.1 255.8,230.6 257.4,233.0 258.9,235.3 260.5,237.6 262.0,239.8 263.5,242.0 265.1,244.2 266.6,246.3 268.2,248.4 269.7,250.3 271.3,252.2 272.8,253.9 274.3,255.6 275.9,257.0 277.4,258.3 279.0,259.5 280.5,260.5 282.0,261.5 283.6,262.4 285.1,263.3 286.7,264.2 288.2,265.1 289.7,266.2 291.3,267.4 292.8,268.9 294.4,270.7 295.9,272.6 297.4,274.8 299.0,276.9 300.5,278.4 302.1,279.1 303.6,279.0 305.2,277.6 306.7,274.4 308.2,269.3 309.8,262.8 311.3,254.9 312.9,245.5 314.4,234.7 315.9,222.8 317.5,210.2 319.0,197.3 320.6,184.6"/>
<path class="g" d="M75.5,206.3 77.1,208.7 78.6,211.0 80.2,213.2 81.7,215.3 83.2,217.4 84.8,219.4 86.3,221.4 87.9,223.4 89.4,225.3 90.9,227.3 92.5,229.3 94.0,231.2 95.6,233.2 97.1,235.1 98.7,237.1 100.2,239.0 101.7,240.9 103.3,242.7 104.8,244.5 106.4,246.3 107.9,248.1 109.4,249.7 111.0,251.2 112.5,252.5 114.1,253.6 115.6,254.5 117.1,255.4 118.7,256.3 120.2,257.4 121.8,258.7 123.3,260.5 124.8,262.8 126.4,265.4 127.9,268.1 129.5,270.5 131.0,272.7 132.6,274.4 134.1,275.4 135.6,275.2 137.2,273.6 138.7,270.0 140.3,264.3 141.8,256.3 143.3,246.3 144.9,234.7 146.4,221.7 148.0,206.8 149.5,190.6 151.0,173.5 152.6,156.4 154.1,140.4 155.7,125.8 157.2,113.0 158.8,102.3 160.3,93.9 161.8,87.5 163.4,82.4 164.9,78.4 166.5,75.4 168.0,73.1 169.5,71.5 171.1,70.3 172.6,69.5 174.2,69.1 175.7,68.9 177.2,69.1 178.8,69.7 180.3,70.9 181.9,72.9 183.4,75.8 185.0,79.7 186.5,84.3 188.0,89.6 189.6,95.4 191.1,101.5 192.7,107.8 194.2,113.9 195.7,119.8 197.3,125.4 198.8,130.6 200.4,135.3 201.9,139.7 203.4,143.7 205.0,147.2 206.5,150.0 208.1,152.1 209.6,153.9 211.1,155.5 212.7,157.1 214.2,158.9 215.8,160.8 217.3,162.9 218.9,165.1 220.4,167.4 221.9,169.8 223.5,172.3 225.0,174.8 226.6,177.4 228.1,180.0 229.6,182.6 231.2,185.3 232.7,187.9 234.3,190.6 235.8,193.2 237.3,195.9 238.9,198.6 240.4,201.2 242.0,203.8 243.5,206.4 245.1,209.0 246.6,211.6 248.1,214.1 249.7,216.6 251.2,219.1 252.8,221.5 254.3,223.9 255.8,226.2 257.4,228.5 258.9,230.8 260.5,233.0 262.0,235.1 263.5,237.2 265.1,239.3 266.6,241.3 268.2,243.3 269.7,245.1 271.3,246.9 272.8,248.5 274.3,250.0 275.9,251.3 277.4,252.5 279.0,253.5 280.5,254.4 282.0,255.2 283.6,255.9 285.1,256.7 286.7,257.4 288.2,258.2 289.7,259.1 291.3,260.2 292.8,261.6 294.4,263.2 295.9,265.1 297.4,267.1 299.0,269.1 300.5,270.6 302.1,271.2 303.6,271.0 305.2,269.5 306.7,266.0 308.2,260.4 309.8,253.2 311.3,244.5 312.9,234.1 314.4,222.1 315.9,208.9 317.5,194.9 319.0,180.4 320.6,165.9"/>
</g>
<path class="a" d="M75.5,30.6 L75.5,278.5 M75.0,278.0 L347.0,278.0"/>
<path class="a" d="M172.6,278.0 L172.6,275.0 M269.7,278.0 L269.7,275.0 M75.5,30.6 L78.5,30.6 M75.5,106.3 L78.5,106.3 M75.5,181.4 L78.5,181.4 M75.5,256.5 L78.5,256.5"/>
<path class="b" d="M75.5,206.5 77.1,209.0 78.6,211.5 80.2,213.9 81.7,216.2 83.2,218.5 84.8,220.7 86.3,222.9 87.9,225.0 89.4,227.1 90.9,229.2 92.5,231.3 94.0,233.3 95.6,235.3 97.1,237.3 98.7,239.2 100.2,241.1 101.7,242.9 103.3,244.6 104.8,246.3 106.4,248.0 107.9,249.5 109.4,251.0 111.0,252.2 112.5,253.3 114.1,254.2 115.6,254.9 117.1,255.6 118.7,256.3 120.2,257.1 121.8,258.2 123.3,259.8 124.8,261.8 126.4,264.3 127.9,266.7 129.5,269.1 131.0,271.1 132.6,272.7 134.1,273.6 135.6,273.5 137.2,271.9 138.7,268.5 140.3,263.0 141.8,255.2 143.3,245.6 144.9,234.5 146.4,221.9 148.0,207.6 149.5,191.9 151.0,175.3 152.6,158.9 154.1,143.3 155.7,129.2 157.2,116.9 158.8,106.5 160.3,98.3 161.8,92.1 163.4,87.2 164.9,83.3 166.5,80.2 168.0,77.9 169.5,76.2 171.1,74.9 172.6,73.9 174.2,73.3 175.7,72.9 177.2,72.8 178.8,73.1 180.3,74.0 181.9,75.7 183.4,78.2 185.0,81.6 186.5,85.8 188.0,90.7 189.6,96.1 191.1,101.8 192.7,107.7 194.2,113.4 195.7,119.0 197.3,124.3 198.8,129.2 200.4,133.7 201.9,137.9 203.4,141.8 205.0,145.3 206.5,148.1 208.1,150.2 209.6,152.1 211.1,153.8 212.7,155.6 214.2,157.5 215.8,159.6 217.3,161.9 218.9,164.3 220.4,166.8 221.9,169.4 223.5,172.1 225.0,174.8 226.6,177.6 228.1,180.4 229.6,183.2 231.2,185.9 232.7,188.7 234.3,191.5 235.8,194.2 237.3,196.9 238.9,199.5 240.4,202.2 242.0,204.7 243.5,207.3 245.1,209.7 246.6,212.2 248.1,214.5 249.7,216.9 251.2,219.1 252.8,221.4 254.3,223.5 255.8,225.7 257.4,227.7 258.9,229.8 260.5,231.8 262.0,233.7 263.5,235.7 265.1,237.6 266.6,239.5 268.2,241.3 269.7,243.1 271.3,244.8 272.8,246.4 274.3,247.8 275.9,249.2 277.4,250.4 279.0,251.5 280.5,252.6 282.0,253.5 283.6,254.4 285.1,255.3 286.7,256.3 288.2,257.3 289.7,258.4 291.3,259.6 292.8,261.2 294.4,263.0 295.9,265.0 297.4,267.2 299.0,269.3 300.5,270.8 302.1,271.6 303.6,271.5 305.2,270.1 306.7,266.8 308.2,261.4 309.8,254.6 311.3,246.2 312.9,236.3 314.4,224.8 315.9,212.2 317.5,198.7 319.0,184.8 320.6,171.0"/>
<text class="t" transform="translate(74.7,308.8) scale(1,1.05)" text-anchor="middle">0</text>
<text class="t" transform="translate(171.8,308.8) scale(1,1.05)" text-anchor="middle">0.5</text>
<text class="t" transform="translate(268.9,308.8) scale(1,1.05)" text-anchor="middle">1</text>
<text class="t" transform="translate(66.7,40.0) scale(1,1.05)" text-anchor="end">1</text>
<text class="t" transform="translate(66.7,115.7) scale(1,1.05)" text-anchor="end">0.5</text>
<text class="t" transform="translate(66.7,190.8) scale(1,1.05)" text-anchor="end">0</text>
<text class="t" transform="translate(66.7,265.9) scale(1,1.05)" text-anchor="end">-0.5</text>
<text class="l" transform="translate(211.2,341.0) scale(1,1.05)" text-anchor="middle">time/s</text>
<text class="l" transform="translate(19.1,154.3) rotate(-90) scale(1,1.05)" text-anchor="middle">amplitude/a.u.</text>
</g>
<g id="p2">
<clipPath id="c1"><rect x="443.5" y="28.8" width="270.79999999999995" height="249.2"/></clipPath>
<g clip-path="url(#c1)">
<path class="g" d="M443.3,210.2 444.9,213.2 446.4,216.1 448.0,218.9 449.5,221.6 451.0,224.1 452.6,226.5 454.1,228.8 455.7,230.9 457.2,232.9 458.7,234.8 460.3,236.6 461.8,238.2 463.4,239.8 464.9,241.3 466.4,242.8 468.0,244.2 469.5,245.5 471.1,246.7 472.6,247.8 474.1,248.8 475.7,249.7 477.2,250.5 478.8,251.3 480.3,252.0 481.8,252.6 483.4,253.3 484.9,253.9 486.5,254.6 488.0,255.4 489.5,256.4 491.1,257.7 492.6,259.2 494.2,260.8 495.7,262.3 497.3,263.6 498.8,264.5 500.3,265.2 501.9,265.2 503.4,264.3 505.0,262.1 506.5,258.0 508.0,252.1 509.6,244.6 511.1,235.6 512.7,225.0 514.2,212.8 515.7,199.0 517.3,183.7 518.8,167.5 520.4,151.0 521.9,134.7 523.4,119.1 525.0,104.7 526.5,91.8 528.1,80.5 529.6,71.1 531.1,63.4 532.7,57.6 534.2,53.4 535.8,50.7 537.3,49.0 538.8,48.3 540.4,48.5 541.9,49.6 543.5,51.5 545.0,54.3 546.6,57.7 548.1,61.8 549.6,66.4 551.2,71.5 552.7,77.0 554.3,83.0 555.8,89.3 557.3,95.9 558.9,102.9 560.4,110.1 562.0,117.5 563.5,125.0 565.0,132.5 566.6,139.8 568.1,146.8 569.7,153.5 571.2,159.6 572.7,165.0 574.3,169.8 575.8,174.0 577.4,177.4 578.9,180.3 580.4,182.7 582.0,184.7 583.5,186.4 585.1,187.9 586.6,189.2 588.1,190.5 589.7,191.7 591.2,193.0 592.8,194.5 594.3,196.1 595.9,197.8 597.4,199.8 598.9,201.8 600.5,204.1 602.0,206.4 603.6,208.8 605.1,211.4 606.6,213.9 608.2,216.5 609.7,219.1 611.3,221.7 612.8,224.3 614.3,226.9 615.9,229.4 617.4,231.8 619.0,234.2 620.5,236.5 622.0,238.7 623.6,240.8 625.1,242.8 626.7,244.8 628.2,246.7 629.7,248.5 631.3,250.2 632.8,251.9 634.4,253.4 635.9,254.9 637.4,256.3 639.0,257.5 640.5,258.7 642.1,259.8 643.6,260.7 645.2,261.5 646.7,262.1 648.2,262.6 649.8,262.9 651.3,263.2 652.9,263.5 654.4,263.7 655.9,264.0 657.5,264.4 659.0,264.8 660.6,265.3 662.1,265.8 663.6,266.2 665.2,266.4 666.7,266.2 668.3,265.7 669.8,264.4 671.3,261.4 672.9,256.0 674.4,248.2 676.0,238.2 677.5,226.4 679.0,213.2 680.6,199.1 682.1,183.7 683.7,167.1 685.2,149.8 686.7,132.9 688.3,117.4"/>
<path class="g" d="M443.3,219.2 444.9,222.4 446.4,225.5 448.0,228.5 449.5,231.4 451.0,234.1 452.6,236.6 454.1,239.1 455.7,241.4 457.2,243.5 458.7,245.5 460.3,247.4 461.8,249.1 463.4,250.8 464.9,252.4 466.4,253.9 468.0,255.3 469.5,256.7 471.1,257.9 472.6,259.0 474.1,260.1 475.7,261.0 477.2,261.8 478.8,262.6 480.3,263.2 481.8,263.9 483.4,264.4 484.9,265.0 486.5,265.7 488.0,266.4 489.5,267.3 491.1,268.5 492.6,270.0 494.2,271.4 495.7,272.8 497.3,274.0 498.8,274.8 500.3,275.3 501.9,275.2 503.4,274.1 505.0,271.7 506.5,267.4 508.0,261.2 509.6,253.3 511.1,244.0 512.7,233.0 514.2,220.4 515.7,206.2 517.3,190.5 518.8,173.9 520.4,156.9 521.9,140.2 523.4,124.2 525.0,109.4 526.5,96.0 528.1,84.4 529.6,74.6 531.1,66.6 532.7,60.5 534.2,56.0 535.8,53.1 537.3,51.2 538.8,50.4 540.4,50.4 541.9,51.5 543.5,53.3 545.0,56.0 546.6,59.4 548.1,63.4 549.6,68.0 551.2,73.1 552.7,78.6 554.3,84.6 555.8,90.9 557.3,97.6 558.9,104.6 560.4,111.9 562.0,119.3 563.5,126.9 565.0,134.4 566.6,141.9 568.1,149.0 569.7,155.7 571.2,161.9 572.7,167.4 574.3,172.3 575.8,176.6 577.4,180.1 578.9,183.1 580.4,185.6 582.0,187.7 583.5,189.5 585.1,191.1 586.6,192.5 588.1,193.9 589.7,195.2 591.2,196.6 592.8,198.1 594.3,199.8 595.9,201.6 597.4,203.7 598.9,205.8 600.5,208.1 602.0,210.5 603.6,212.9 605.1,215.5 606.6,218.1 608.2,220.8 609.7,223.4 611.3,226.1 612.8,228.7 614.3,231.3 615.9,233.9 617.4,236.4 619.0,238.8 620.5,241.1 622.0,243.4 623.6,245.6 625.1,247.7 626.7,249.7 628.2,251.7 629.7,253.6 631.3,255.4 632.8,257.1 634.4,258.8 635.9,260.4 637.4,261.9 639.0,263.3 640.5,264.6 642.1,265.8 643.6,266.8 645.2,267.8 646.7,268.6 648.2,269.2 649.8,269.8 651.3,270.2 652.9,270.7 654.4,271.2 655.9,271.7 657.5,272.3 659.0,272.9 660.6,273.7 662.1,274.5 663.6,275.2 665.2,275.7 666.7,275.8 668.3,275.6 669.8,274.7 671.3,272.2 672.9,267.5 674.4,260.5 676.0,251.4 677.5,240.5 679.0,228.4 680.6,215.4 682.1,201.2 683.7,185.7 685.2,169.5 686.7,153.7 688.3,139.4"/>
<path class="g" d="M443.3,225.2 444.9,228.2 446.4,231.0 448.0,233.7 449.5,236.3 451.0,238.8 452.6,241.1 454.1,243.3 455.7,245.4 457.2,247.3 458.7,249.1 460.3,250.8 461.8,252.4 463.4,253.9 464.9,255.4 466.4,256.8 468.0,258.1 469.5,259.3 471.1,260.4 472.6,261.4 474.1,262.4 475.7,263.2 477.2,264.0 478.8,264.6 480.3,265.2 481.8,265.8 483.4,266.4 484.9,266.9 486.5,267.5 488.0,268.2 489.5,269.2 491.1,270.4 492.6,271.8 494.2,273.3 495.7,274.7 497.3,275.8 498.8,276.7 500.3,277.2 501.9,277.2 503.4,276.2 505.0,273.9 506.5,269.7 508.0,263.7 509.6,256.1 511.1,247.0 512.7,236.3 514.2,224.0 515.7,210.1 517.3,194.7 518.8,178.4 520.4,161.7 521.9,145.3 523.4,129.7 525.0,115.2 526.5,102.2 528.1,90.9 529.6,81.3 531.1,73.6 532.7,67.7 534.2,63.5 535.8,60.8 537.3,59.1 538.8,58.3 540.4,58.5 541.9,59.6 543.5,61.5 545.0,64.2 546.6,67.6 548.1,71.7 549.6,76.3 551.2,81.3 552.7,86.8 554.3,92.7 555.8,99.0 557.3,105.6 558.9,112.5 560.4,119.7 562.0,127.0 563.5,134.4 565.0,141.9 566.6,149.1 568.1,156.1 569.7,162.6 571.2,168.6 572.7,173.9 574.3,178.6 575.8,182.6 577.4,186.0 578.9,188.7 580.4,190.9 582.0,192.7 583.5,194.3 585.1,195.5 586.6,196.7 588.1,197.7 589.7,198.7 591.2,199.8 592.8,200.9 594.3,202.3 595.9,203.7 597.4,205.4 598.9,207.1 600.5,209.0 602.0,211.0 603.6,213.1 605.1,215.2 606.6,217.3 608.2,219.5 609.7,221.7 611.3,223.9 612.8,226.0 614.3,228.1 615.9,230.2 617.4,232.2 619.0,234.2 620.5,236.1 622.0,237.9 623.6,239.6 625.1,241.3 626.7,243.0 628.2,244.6 629.7,246.2 631.3,247.7 632.8,249.2 634.4,250.6 635.9,252.0 637.4,253.3 639.0,254.6 640.5,255.9 642.1,257.1 643.6,258.2 645.2,259.2 646.7,260.2 648.2,261.1 649.8,261.9 651.3,262.7 652.9,263.6 654.4,264.6 655.9,265.7 657.5,266.9 659.0,268.3 660.6,269.9 662.1,271.6 663.6,273.3 665.2,274.9 666.7,276.3 668.3,277.3 669.8,278.2 671.3,278.8 672.9,278.3 674.4,276.5 676.0,273.6 677.5,269.6 679.0,265.0 680.6,259.9 682.1,253.9 683.7,246.9 685.2,239.1 686.7,231.7 688.3,225.4"/>
<path class="g" d="M443.3,223.2 444.9,226.1 446.4,228.9 448.0,231.6 449.5,234.2 451.0,236.6 452.6,239.0 454.1,241.1 455.7,243.2 457.2,245.1 458.7,246.9 460.3,248.5 461.8,250.1 463.4,251.6 464.9,253.0 466.4,254.4 468.0,255.6 469.5,256.8 471.1,257.9 472.6,258.9 474.1,259.8 475.7,260.6 477.2,261.4 478.8,262.0 480.3,262.6 481.8,263.1 483.4,263.7 484.9,264.2 486.5,264.8 488.0,265.5 489.5,266.4 491.1,267.5 492.6,268.9 494.2,270.4 495.7,271.8 497.3,272.9 498.8,273.8 500.3,274.3 501.9,274.2 503.4,273.2 505.0,270.8 506.5,266.6 508.0,260.6 509.6,252.9 511.1,243.8 512.7,233.0 514.2,220.7 515.7,206.8 517.3,191.3 518.8,175.0 520.4,158.3 521.9,141.9 523.4,126.2 525.0,111.6 526.5,98.6 528.1,87.2 529.6,77.6 531.1,69.9 532.7,63.9 534.2,59.7 535.8,56.9 537.3,55.1 538.8,54.3 540.4,54.5 541.9,55.5 543.5,57.4 545.0,60.0 546.6,63.3 548.1,67.3 549.6,71.9 551.2,76.8 552.7,82.3 554.3,88.1 555.8,94.3 557.3,100.8 558.9,107.6 560.4,114.7 562.0,121.9 563.5,129.3 565.0,136.6 566.6,143.8 568.1,150.7 569.7,157.1 571.2,163.0 572.7,168.4 574.3,173.0 575.8,176.9 577.4,180.2 578.9,182.9 580.4,185.1 582.0,187.0 583.5,188.5 585.1,189.8 586.6,190.9 588.1,192.0 589.7,193.0 591.2,194.2 592.8,195.4 594.3,196.8 595.9,198.4 597.4,200.1 598.9,202.0 600.5,204.0 602.0,206.2 603.6,208.4 605.1,210.7 606.6,213.1 608.2,215.5 609.7,217.9 611.3,220.3 612.8,222.7 614.3,225.0 615.9,227.3 617.4,229.6 619.0,231.8 620.5,233.9 622.0,236.0 623.6,238.0 625.1,239.9 626.7,241.8 628.2,243.6 629.7,245.4 631.3,247.1 632.8,248.7 634.4,250.3 635.9,251.8 637.4,253.3 639.0,254.7 640.5,256.0 642.1,257.2 643.6,258.4 645.2,259.4 646.7,260.4 648.2,261.2 649.8,262.0 651.3,262.7 652.9,263.4 654.4,264.2 655.9,265.1 657.5,266.1 659.0,267.2 660.6,268.4 662.1,269.7 663.6,271.0 665.2,272.1 666.7,273.0 668.3,273.5 669.8,273.5 671.3,272.6 672.9,270.0 674.4,265.7 676.0,259.6 677.5,252.2 679.0,243.8 680.6,234.7 682.1,224.6 683.7,213.3 685.2,201.4 686.7,189.7 688.3,179.4"/>
<path class="g" d="M443.3,224.2 444.9,227.4 446.4,230.4 448.0,233.3 449.5,236.1 451.0,238.7 452.6,241.2 454.1,243.6 455.7,245.8 457.2,247.9 458.7,249.8 460.3,251.6 461.8,253.3 463.4,254.9 464.9,256.5 466.4,257.9 468.0,259.3 469.5,260.6 471.1,261.8 472.6,262.8 474.1,263.8 475.7,264.7 477.2,265.5 478.8,266.2 480.3,266.8 481.8,267.4 483.4,267.9 484.9,268.4 486.5,269.0 488.0,269.7 489.5,270.6 491.1,271.8 492.6,273.2 494.2,274.6 495.7,275.9 497.3,277.1 498.8,277.9 500.3,278.3 501.9,278.2 503.4,277.1 505.0,274.6 506.5,270.2 508.0,263.9 509.6,256.1 511.1,246.6 512.7,235.6 514.2,222.9 515.7,208.6 517.3,192.9 518.8,176.1 520.4,159.1 521.9,142.3 523.4,126.3 525.0,111.4 526.5,98.0 528.1,86.3 529.6,76.5 531.1,68.5 532.7,62.4 534.2,57.9 535.8,55.0 537.3,53.2 538.8,52.3 540.4,52.5 541.9,53.6 543.5,55.5 545.0,58.3 546.6,61.8 548.1,66.0 549.6,70.7 551.2,76.0 552.7,81.6 554.3,87.7 555.8,94.2 557.3,101.0 558.9,108.1 560.4,115.5 562.0,123.1 563.5,130.7 565.0,138.4 566.6,145.8 568.1,153.0 569.7,159.7 571.2,165.9 572.7,171.4 574.3,176.3 575.8,180.4 577.4,183.9 578.9,186.7 580.4,189.0 582.0,190.9 583.5,192.5 585.1,193.9 586.6,195.0 588.1,196.1 589.7,197.2 591.2,198.3 592.8,199.5 594.3,200.9 595.9,202.4 597.4,204.0 598.9,205.9 600.5,207.8 602.0,209.8 603.6,211.9 605.1,214.1 606.6,216.4 608.2,218.6 609.7,220.9 611.3,223.2 612.8,225.5 614.3,227.7 615.9,229.9 617.4,232.1 619.0,234.2 620.5,236.2 622.0,238.2 623.6,240.1 625.1,241.9 626.7,243.7 628.2,245.5 629.7,247.2 631.3,248.9 632.8,250.5 634.4,252.1 635.9,253.6 637.4,255.1 639.0,256.6 640.5,257.9 642.1,259.3 643.6,260.5 645.2,261.7 646.7,262.8 648.2,263.8 649.8,264.8 651.3,265.7 652.9,266.7 654.4,267.8 655.9,269.0 657.5,270.3 659.0,271.8 660.6,273.9 662.1,276.2 663.6,278.3 665.2,279.7 666.7,280.0 668.3,277.5 669.8,272.7 671.3,266.5 672.9,259.3 674.4,252.4 676.0,245.3 677.5,237.1 679.0,228.2 680.6,218.9 682.1,208.8 683.7,197.8 685.2,186.4 686.7,175.6 688.3,166.4"/>
<path class="g" d="M443.3,221.0 444.9,223.7 446.4,226.4 448.0,228.9 449.5,231.4 451.0,233.8 452.6,236.1 454.1,238.4 455.7,240.5 457.2,242.5 458.7,244.4 460.3,246.3 461.8,248.0 463.4,249.7 464.9,251.4 466.4,253.1 468.0,254.6 469.5,256.1 471.1,257.5 472.6,258.8 474.1,260.0 475.7,261.1 477.2,262.1 478.8,263.1 480.3,263.9 481.8,264.7 483.4,265.4 484.9,266.1 486.5,266.8 488.0,267.6 489.5,268.6 491.1,269.9 492.6,271.3 494.2,272.7 495.7,274.1 497.3,275.1 498.8,275.9 500.3,276.3 501.9,276.1 503.4,275.0 505.0,272.5 506.5,268.2 508.0,262.0 509.6,254.3 511.1,245.0 512.7,234.2 514.2,221.8 515.7,207.9 517.3,192.4 518.8,176.1 520.4,159.5 521.9,143.1 523.4,127.5 525.0,113.0 526.5,100.0 528.1,88.7 529.6,79.2 531.1,71.6 532.7,65.7 534.2,61.6 535.8,58.8 537.3,57.2 538.8,56.5 540.4,56.7 541.9,57.8 543.5,59.7 545.0,62.4 546.6,65.8 548.1,69.9 549.6,74.4 551.2,79.5 552.7,84.9 554.3,90.7 555.8,96.9 557.3,103.4 558.9,110.2 560.4,117.2 562.0,124.4 563.5,131.6 565.0,138.9 566.6,146.0 568.1,152.8 569.7,159.1 571.2,165.0 572.7,170.2 574.3,174.7 575.8,178.6 577.4,181.9 578.9,184.6 580.4,186.8 582.0,188.6 583.5,190.2 585.1,191.6 586.6,192.8 588.1,194.0 589.7,195.3 591.2,196.5 592.8,198.0 594.3,199.6 595.9,201.4 597.4,203.4 598.9,205.6 600.5,207.9 602.0,210.4 603.6,212.9 605.1,215.5 606.6,218.2 608.2,220.9 609.7,223.6 611.3,226.3 612.8,229.0 614.3,231.6 615.9,234.2 617.4,236.6 619.0,239.0 620.5,241.3 622.0,243.5 623.6,245.5 625.1,247.5 626.7,249.4 628.2,251.1 629.7,252.8 631.3,254.4 632.8,255.8 634.4,257.2 635.9,258.5 637.4,259.6 639.0,260.7 640.5,261.7 642.1,262.6 643.6,263.3 645.2,264.0 646.7,264.5 648.2,264.9 649.8,265.2 651.3,265.5 652.9,265.8 654.4,266.1 655.9,266.6 657.5,267.2 659.0,267.9 660.6,268.8 662.1,269.7 663.6,270.6 665.2,271.4 666.7,272.0 668.3,272.2 669.8,272.0 671.3,270.7 672.9,267.9 674.4,263.1 676.0,256.6 677.5,248.7 679.0,239.7 680.6,230.0 682.1,219.3 683.7,207.3 685.2,194.6 686.7,182.2 688.3,171.1"/>
<path class="g" d="M443.3,223.6 444.9,226.3 446.4,228.8 448.0,231.3 449.5,233.7 451.0,235.9 452.6,238.0 454.1,240.0 455.7,241.9 457.2,243.6 458.7,245.2 460.3,246.7 461.8,248.2 463.4,249.5 464.9,250.8 466.4,252.1 468.0,253.3 469.5,254.5 471.1,255.5 472.6,256.5 474.1,257.4 475.7,258.3 477.2,259.0 478.8,259.7 480.3,260.4 481.8,261.0 483.4,261.6 484.9,262.3 486.5,263.0 488.0,263.8 489.5,264.9 491.1,266.2 492.6,267.8 494.2,269.5 495.7,271.1 497.3,272.5 498.8,273.6 500.3,274.3 501.9,274.4 503.4,273.7 505.0,271.5 506.5,267.5 508.0,261.6 509.6,254.0 511.1,245.0 512.7,234.3 514.2,222.0 515.7,208.1 517.3,192.6 518.8,176.2 520.4,159.5 521.9,143.0 523.4,127.2 525.0,112.6 526.5,99.5 528.1,88.1 529.6,78.4 531.1,70.7 532.7,64.8 534.2,60.5 535.8,57.7 537.3,55.9 538.8,55.1 540.4,55.3 541.9,56.3 543.5,58.1 545.0,60.8 546.6,64.1 548.1,68.1 549.6,72.6 551.2,77.6 552.7,83.0 554.3,88.8 555.8,94.9 557.3,101.4 558.9,108.2 560.4,115.3 562.0,122.5 563.5,129.8 565.0,137.1 566.6,144.2 568.1,151.1 569.7,157.5 571.2,163.3 572.7,168.6 574.3,173.1 575.8,177.0 577.4,180.3 578.9,182.9 580.4,185.0 582.0,186.8 583.5,188.3 585.1,189.5 586.6,190.6 588.1,191.7 589.7,192.8 591.2,193.9 592.8,195.2 594.3,196.7 595.9,198.3 597.4,200.2 598.9,202.2 600.5,204.3 602.0,206.6 603.6,209.0 605.1,211.5 606.6,214.0 608.2,216.7 609.7,219.3 611.3,221.9 612.8,224.5 614.3,227.2 615.9,229.7 617.4,232.3 619.0,234.7 620.5,237.1 622.0,239.4 623.6,241.7 625.1,243.9 626.7,246.0 628.2,248.0 629.7,250.0 631.3,251.9 632.8,253.8 634.4,255.5 635.9,257.2 637.4,258.9 639.0,260.4 640.5,261.9 642.1,263.2 643.6,264.4 645.2,265.6 646.7,266.5 648.2,267.4 649.8,268.1 651.3,268.8 652.9,269.5 654.4,270.2 655.9,271.0 657.5,271.8 659.0,272.8 660.6,273.9 662.1,275.0 663.6,276.0 665.2,276.9 666.7,277.5 668.3,277.7 669.8,277.4 671.3,276.0 672.9,272.9 674.4,267.8 676.0,260.9 677.5,252.6 679.0,243.2 680.6,233.0 682.1,221.7 683.7,209.1 685.2,195.9 686.7,182.9 688.3,171.2"/>
<path class="g" d="M443.3,225.3 444.9,228.1 446.4,230.8 448.0,233.3 449.5,235.8 451.0,238.1 452.6,240.2 454.1,242.3 455.7,244.2 457.2,245.9 458.7,247.6 460.3,249.1 461.8,250.6 463.4,252.0 464.9,253.3 466.4,254.6 468.0,255.8 469.5,257.0 471.1,258.0 472.6,259.0 474.1,259.9 475.7,260.7 477.2,261.5 478.8,262.1 480.3,262.8 481.8,263.3 483.4,263.9 484.9,264.5 486.5,265.1 488.0,265.9 489.5,266.8 491.1,268.0 492.6,269.5 494.2,271.0 495.7,272.3 497.3,273.5 498.8,274.4 500.3,274.8 501.9,274.7 503.4,273.7 505.0,271.3 506.5,267.0 508.0,260.9 509.6,253.1 511.1,243.9 512.7,233.0 514.2,220.5 515.7,206.5 517.3,190.9 518.8,174.4 520.4,157.6 521.9,141.0 523.4,125.1 525.0,110.5 526.5,97.3 528.1,85.7 529.6,76.0 531.1,68.2 532.7,62.1 534.2,57.8 535.8,54.8 537.3,53.0 538.8,52.2 540.4,52.3 541.9,53.3 543.5,55.2 545.0,57.8 546.6,61.2 548.1,65.3 549.6,69.9 551.2,75.0 552.7,80.5 554.3,86.5 555.8,92.9 557.3,99.5 558.9,106.5 560.4,113.8 562.0,121.2 563.5,128.8 565.0,136.3 566.6,143.6 568.1,150.7 569.7,157.3 571.2,163.4 572.7,168.9 574.3,173.7 575.8,177.8 577.4,181.2 578.9,184.0 580.4,186.4 582.0,188.3 583.5,189.9 585.1,191.3 586.6,192.5 588.1,193.7 589.7,194.8 591.2,196.0 592.8,197.3 594.3,198.7 595.9,200.4 597.4,202.2 598.9,204.1 600.5,206.2 602.0,208.4 603.6,210.7 605.1,213.1 606.6,215.6 608.2,218.1 609.7,220.6 611.3,223.2 612.8,225.7 614.3,228.2 615.9,230.6 617.4,233.1 619.0,235.4 620.5,237.7 622.0,240.0 623.6,242.1 625.1,244.2 626.7,246.2 628.2,248.2 629.7,250.1 631.3,251.9 632.8,253.6 634.4,255.3 635.9,256.9 637.4,258.4 639.0,259.8 640.5,261.2 642.1,262.4 643.6,263.5 645.2,264.5 646.7,265.3 648.2,266.1 649.8,266.7 651.3,267.2 652.9,267.8 654.4,268.4 655.9,269.0 657.5,269.8 659.0,270.6 660.6,271.6 662.1,272.6 663.6,273.6 665.2,274.4 666.7,274.9 668.3,275.1 669.8,274.8 671.3,273.5 672.9,270.7 674.4,266.0 676.0,259.8 677.5,252.4 679.0,244.0 680.6,235.1 682.1,225.3 683.7,214.4 685.2,203.0 686.7,192.1 688.3,182.6"/>
<path class="g" d="M443.3,219.1 444.9,222.0 446.4,224.9 448.0,227.6 449.5,230.3 451.0,232.8 452.6,235.2 454.1,237.5 455.7,239.7 457.2,241.7 458.7,243.6 460.3,245.4 461.8,247.1 463.4,248.7 464.9,250.3 466.4,251.7 468.0,253.1 469.5,254.4 471.1,255.6 472.6,256.7 474.1,257.7 475.7,258.6 477.2,259.4 478.8,260.1 480.3,260.7 481.8,261.2 483.4,261.7 484.9,262.2 486.5,262.7 488.0,263.4 489.5,264.1 491.1,265.2 492.6,266.4 494.2,267.7 495.7,268.9 497.3,269.8 498.8,270.5 500.3,270.7 501.9,270.3 503.4,269.1 505.0,266.5 506.5,262.0 508.0,255.7 509.6,247.8 511.1,238.5 512.7,227.5 514.2,215.0 515.7,200.8 517.3,185.3 518.8,168.8 520.4,152.0 521.9,135.4 523.4,119.6 525.0,105.0 526.5,91.8 528.1,80.3 529.6,70.6 531.1,62.8 532.7,56.7 534.2,52.4 535.8,49.4 537.3,47.6 538.8,46.8 540.4,46.9 541.9,47.9 543.5,49.7 545.0,52.4 546.6,55.8 548.1,59.9 549.6,64.5 551.2,69.6 552.7,75.2 554.3,81.2 555.8,87.6 557.3,94.3 558.9,101.4 560.4,108.7 562.0,116.2 563.5,123.8 565.0,131.4 566.6,138.9 568.1,146.1 569.7,152.9 571.2,159.2 572.7,164.9 574.3,169.9 575.8,174.2 577.4,177.9 578.9,181.0 580.4,183.6 582.0,185.8 583.5,187.7 585.1,189.4 586.6,190.9 588.1,192.4 589.7,193.8 591.2,195.3 592.8,196.8 594.3,198.6 595.9,200.4 597.4,202.5 598.9,204.6 600.5,206.9 602.0,209.2 603.6,211.7 605.1,214.2 606.6,216.7 608.2,219.2 609.7,221.7 611.3,224.2 612.8,226.7 614.3,229.1 615.9,231.5 617.4,233.7 619.0,235.9 620.5,238.0 622.0,240.0 623.6,241.9 625.1,243.7 626.7,245.4 628.2,247.0 629.7,248.6 631.3,250.1 632.8,251.5 634.4,252.8 635.9,254.0 637.4,255.2 639.0,256.3 640.5,257.3 642.1,258.2 643.6,259.0 645.2,259.6 646.7,260.2 648.2,260.7 649.8,261.0 651.3,261.4 652.9,261.7 654.4,262.1 655.9,262.6 657.5,263.2 659.0,264.0 660.6,264.9 662.1,265.8 663.6,266.7 665.2,267.5 666.7,268.1 668.3,268.3 669.8,268.0 671.3,266.8 672.9,263.7 674.4,258.6 676.0,251.5 677.5,242.9 679.0,233.0 680.6,222.1 682.1,210.0 683.7,196.4 685.2,182.0 686.7,167.6 688.3,154.4"/>
<path class="g" d="M443.3,221.0 444.9,223.9 446.4,226.7 448.0,229.4 449.5,231.8 451.0,234.2 452.6,236.3 454.1,238.3 455.7,240.2 457.2,241.9 458.7,243.4 460.3,244.8 461.8,246.1 463.4,247.3 464.9,248.5 466.4,249.6 468.0,250.7 469.5,251.6 471.1,252.5 472.6,253.4 474.1,254.1 475.7,254.9 477.2,255.5 478.8,256.1 480.3,256.7 481.8,257.3 483.4,257.9 484.9,258.6 486.5,259.3 488.0,260.1 489.5,261.2 491.1,262.6 492.6,264.3 494.2,265.9 495.7,267.5 497.3,268.9 498.8,270.0 500.3,270.8 501.9,270.9 503.4,270.1 505.0,268.0 506.5,263.9 508.0,258.1 509.6,250.6 511.1,241.5 512.7,230.9 514.2,218.6 515.7,204.7 517.3,189.3 518.8,173.0 520.4,156.2 521.9,139.7 523.4,123.9 525.0,109.2 526.5,95.9 528.1,84.3 529.6,74.4 531.1,66.4 532.7,60.2 534.2,55.6 535.8,52.4 537.3,50.4 538.8,49.2 540.4,49.1 541.9,49.9 543.5,51.5 545.0,53.9 546.6,57.2 548.1,61.1 549.6,65.5 551.2,70.5 552.7,76.0 554.3,81.9 555.8,88.3 557.3,95.0 558.9,102.1 560.4,109.4 562.0,117.0 563.5,124.6 565.0,132.3 566.6,139.9 568.1,147.2 569.7,154.0 571.2,160.3 572.7,166.0 574.3,171.0 575.8,175.4 577.4,179.0 578.9,182.0 580.4,184.5 582.0,186.6 583.5,188.3 585.1,189.8 586.6,191.1 588.1,192.2 589.7,193.4 591.2,194.5 592.8,195.7 594.3,197.0 595.9,198.4 597.4,200.0 598.9,201.7 600.5,203.5 602.0,205.5 603.6,207.5 605.1,209.5 606.6,211.6 608.2,213.8 609.7,216.0 611.3,218.2 612.8,220.4 614.3,222.6 615.9,224.8 617.4,227.0 619.0,229.1 620.5,231.2 622.0,233.3 623.6,235.3 625.1,237.3 626.7,239.3 628.2,241.2 629.7,243.1 631.3,245.0 632.8,246.8 634.4,248.6 635.9,250.3 637.4,251.9 639.0,253.5 640.5,255.0 642.1,256.4 643.6,257.6 645.2,258.8 646.7,259.7 648.2,260.6 649.8,261.3 651.3,262.0 652.9,262.6 654.4,263.2 655.9,263.9 657.5,264.6 659.0,265.4 660.6,266.3 662.1,267.3 663.6,268.1 665.2,268.7 666.7,269.1 668.3,269.1 669.8,268.6 671.3,267.1 672.9,264.0 674.4,258.9 676.0,252.2 677.5,244.1 679.0,234.9 680.6,225.1 682.1,214.2 683.7,202.2 685.2,189.6 686.7,177.3 688.3,166.3"/>
<path class="g" d="M443.3,223.5 444.9,226.6 446.4,229.6 448.0,232.4 449.5,235.1 451.0,237.6 452.6,240.0 454.1,242.2 455.7,244.3 457.2,246.2 458.7,248.0 460.3,249.6 461.8,251.1 463.4,252.5 464.9,253.8 466.4,255.0 468.0,256.2 469.5,257.2 471.1,258.2 472.6,259.0 474.1,259.7 475.7,260.4 477.2,261.0 478.8,261.5 480.3,262.0 481.8,262.4 483.4,262.8 484.9,263.3 486.5,263.8 488.0,264.4 489.5,265.3 491.1,266.5 492.6,268.0 494.2,269.5 495.7,270.9 497.3,272.2 498.8,273.1 500.3,273.8 501.9,273.8 503.4,272.9 505.0,270.7 506.5,266.6 508.0,260.7 509.6,253.1 511.1,244.0 512.7,233.4 514.2,221.1 515.7,207.1 517.3,191.7 518.8,175.3 520.4,158.5 521.9,142.0 523.4,126.2 525.0,111.6 526.5,98.4 528.1,86.9 529.6,77.2 531.1,69.3 532.7,63.3 534.2,58.9 535.8,55.9 537.3,54.1 538.8,53.1 540.4,53.2 541.9,54.1 543.5,55.9 545.0,58.4 546.6,61.7 548.1,65.7 549.6,70.2 551.2,75.2 552.7,80.7 554.3,86.6 555.8,92.9 557.3,99.6 558.9,106.6 560.4,113.9 562.0,121.4 563.5,129.0 565.0,136.6 566.6,144.0 568.1,151.2 569.7,158.0 571.2,164.3 572.7,169.9 574.3,174.9 575.8,179.1 577.4,182.8 578.9,185.8 580.4,188.3 582.0,190.3 583.5,192.1 585.1,193.6 586.6,195.0 588.1,196.2 589.7,197.4 591.2,198.7 592.8,200.0 594.3,201.4 595.9,203.0 597.4,204.7 598.9,206.6 600.5,208.5 602.0,210.6 603.6,212.7 605.1,214.9 606.6,217.0 608.2,219.3 609.7,221.5 611.3,223.7 612.8,225.9 614.3,228.0 615.9,230.1 617.4,232.2 619.0,234.2 620.5,236.2 622.0,238.1 623.6,239.9 625.1,241.7 626.7,243.5 628.2,245.2 629.7,246.9 631.3,248.5 632.8,250.1 634.4,251.7 635.9,253.2 637.4,254.6 639.0,256.1 640.5,257.4 642.1,258.7 643.6,259.9 645.2,261.0 646.7,262.0 648.2,262.8 649.8,263.6 651.3,264.4 652.9,265.1 654.4,265.9 655.9,266.7 657.5,267.7 659.0,268.7 660.6,269.9 662.1,271.1 663.6,272.2 665.2,273.1 666.7,273.7 668.3,274.0 669.8,273.8 671.3,272.5 672.9,269.4 674.4,264.4 676.0,257.5 677.5,249.0 679.0,239.5 680.6,229.1 682.1,217.5 683.7,204.7 685.2,191.1 686.7,177.7 688.3,165.5"/>
<path class="g" d="M443.3,221.2 444.9,224.1 446.4,227.0 448.0,229.7 449.5,232.3 451.0,234.9 452.6,237.3 454.1,239.6 455.7,241.7 457.2,243.8 458.7,245.7 460.3,247.5 461.8,249.2 463.4,250.9 464.9,252.5 466.4,254.1 468.0,255.6 469.5,257.0 471.1,258.3 472.6,259.5 474.1,260.7 475.7,261.7 477.2,262.7 478.8,263.5 480.3,264.4 481.8,265.1 483.4,265.8 484.9,266.6 486.5,267.3 488.0,268.2 489.5,269.2 491.1,270.6 492.6,272.1 494.2,273.7 495.7,275.1 497.3,276.4 498.8,277.3 500.3,277.8 501.9,277.7 503.4,276.7 505.0,274.2 506.5,269.8 508.0,263.6 509.6,255.7 511.1,246.3 512.7,235.2 514.2,222.5 515.7,208.1 517.3,192.2 518.8,175.3 520.4,158.2 521.9,141.2 523.4,125.1 525.0,110.1 526.5,96.6 528.1,84.8 529.6,74.9 531.1,66.9 532.7,60.7 534.2,56.2 535.8,53.2 537.3,51.3 538.8,50.4 540.4,50.5 541.9,51.5 543.5,53.3 545.0,56.0 546.6,59.4 548.1,63.5 549.6,68.1 551.2,73.2 552.7,78.8 554.3,84.8 555.8,91.2 557.3,97.9 558.9,105.0 560.4,112.3 562.0,119.8 563.5,127.4 565.0,135.0 566.6,142.4 568.1,149.5 569.7,156.2 571.2,162.4 572.7,168.0 574.3,172.8 575.8,177.0 577.4,180.5 578.9,183.4 580.4,185.7 582.0,187.7 583.5,189.4 585.1,190.9 586.6,192.2 588.1,193.4 589.7,194.7 591.2,196.0 592.8,197.4 594.3,199.0 595.9,200.7 597.4,202.7 598.9,204.8 600.5,207.0 602.0,209.3 603.6,211.8 605.1,214.3 606.6,216.8 608.2,219.4 609.7,222.0 611.3,224.6 612.8,227.2 614.3,229.7 615.9,232.2 617.4,234.6 619.0,236.9 620.5,239.2 622.0,241.3 623.6,243.4 625.1,245.4 626.7,247.3 628.2,249.1 629.7,250.9 631.3,252.5 632.8,254.1 634.4,255.6 635.9,257.0 637.4,258.4 639.0,259.6 640.5,260.7 642.1,261.8 643.6,262.7 645.2,263.5 646.7,264.2 648.2,264.7 649.8,265.2 651.3,265.6 652.9,266.0 654.4,266.5 655.9,267.0 657.5,267.7 659.0,268.4 660.6,269.4 662.1,270.3 663.6,271.3 665.2,272.1 666.7,272.6 668.3,272.8 669.8,272.5 671.3,271.1 672.9,268.1 674.4,263.2 676.0,256.5 677.5,248.5 679.0,239.5 680.6,229.6 682.1,218.9 683.7,206.8 685.2,194.2 686.7,181.8 688.3,170.9"/>
<path class="g" d="M443.3,219.9 444.9,222.9 446.4,225.8 448.0,228.5 449.5,231.1 451.0,233.6 452.6,235.9 454.1,238.1 455.7,240.2 457.2,242.1 458.7,243.9 460.3,245.6 461.8,247.1 463.4,248.6 464.9,250.1 466.4,251.5 468.0,252.8 469.5,254.0 471.1,255.2 472.6,256.2 474.1,257.2 475.7,258.1 477.2,258.9 478.8,259.7 480.3,260.4 481.8,261.0 483.4,261.7 484.9,262.3 486.5,263.0 488.0,263.9 489.5,264.9 491.1,266.2 492.6,267.7 494.2,269.3 495.7,270.8 497.3,272.1 498.8,273.0 500.3,273.6 501.9,273.6 503.4,272.7 505.0,270.5 506.5,266.3 508.0,260.3 509.6,252.8 511.1,243.7 512.7,233.1 514.2,220.8 515.7,206.9 517.3,191.6 518.8,175.3 520.4,158.7 521.9,142.3 523.4,126.6 525.0,112.1 526.5,99.1 528.1,87.7 529.6,78.1 531.1,70.4 532.7,64.4 534.2,60.1 535.8,57.3 537.3,55.5 538.8,54.7 540.4,54.8 541.9,55.8 543.5,57.7 545.0,60.3 546.6,63.7 548.1,67.7 549.6,72.3 551.2,77.3 552.7,82.8 554.3,88.7 555.8,95.0 557.3,101.6 558.9,108.6 560.4,115.7 562.0,123.1 563.5,130.5 565.0,137.9 566.6,145.2 568.1,152.2 569.7,158.7 571.2,164.7 572.7,170.0 574.3,174.7 575.8,178.7 577.4,182.0 578.9,184.7 580.4,186.8 582.0,188.6 583.5,190.1 585.1,191.3 586.6,192.3 588.1,193.3 589.7,194.2 591.2,195.2 592.8,196.2 594.3,197.5 595.9,198.8 597.4,200.4 598.9,202.0 600.5,203.9 602.0,205.8 603.6,207.8 605.1,209.9 606.6,212.0 608.2,214.2 609.7,216.4 611.3,218.6 612.8,220.8 614.3,223.0 615.9,225.2 617.4,227.3 619.0,229.4 620.5,231.4 622.0,233.4 623.6,235.3 625.1,237.1 626.7,238.9 628.2,240.7 629.7,242.4 631.3,244.0 632.8,245.6 634.4,247.2 635.9,248.6 637.4,250.0 639.0,251.4 640.5,252.7 642.1,253.8 643.6,254.9 645.2,255.9 646.7,256.7 648.2,257.4 649.8,258.1 651.3,258.7 652.9,259.3 654.4,259.9 655.9,260.6 657.5,261.4 659.0,262.3 660.6,263.4 662.1,264.5 663.6,265.6 665.2,266.5 666.7,267.1 668.3,267.4 669.8,267.2 671.3,266.1 672.9,263.2 674.4,258.4 676.0,251.9 677.5,243.9 679.0,235.0 680.6,225.2 682.1,214.4 683.7,202.3 685.2,189.5 686.7,177.1 688.3,165.9"/>
<path class="g" d="M443.3,220.9 444.9,223.9 446.4,226.8 448.0,229.6 449.5,232.3 451.0,234.9 452.6,237.3 454.1,239.6 455.7,241.8 457.2,243.8 458.7,245.6 460.3,247.4 461.8,249.0 463.4,250.6 464.9,252.1 466.4,253.5 468.0,254.9 469.5,256.1 471.1,257.3 472.6,258.3 474.1,259.2 475.7,260.1 477.2,260.8 478.8,261.5 480.3,262.1 481.8,262.7 483.4,263.2 484.9,263.7 486.5,264.3 488.0,264.9 489.5,265.8 491.1,267.0 492.6,268.3 494.2,269.8 495.7,271.1 497.3,272.2 498.8,273.0 500.3,273.4 501.9,273.2 503.4,272.2 505.0,269.7 506.5,265.4 508.0,259.2 509.6,251.5 511.1,242.2 512.7,231.3 514.2,218.8 515.7,204.7 517.3,189.1 518.8,172.6 520.4,155.8 521.9,139.2 523.4,123.3 525.0,108.6 526.5,95.4 528.1,83.8 529.6,74.0 531.1,66.2 532.7,60.1 534.2,55.7 535.8,52.7 537.3,50.8 538.8,49.9 540.4,49.9 541.9,50.9 543.5,52.6 545.0,55.2 546.6,58.5 548.1,62.5 549.6,67.0 551.2,72.1 552.7,77.5 554.3,83.4 555.8,89.6 557.3,96.3 558.9,103.2 560.4,110.4 562.0,117.8 563.5,125.3 565.0,132.8 566.6,140.1 568.1,147.2 569.7,153.9 571.2,160.0 572.7,165.5 574.3,170.3 575.8,174.5 577.4,178.0 578.9,180.9 580.4,183.3 582.0,185.3 583.5,187.0 585.1,188.5 586.6,189.8 588.1,191.0 589.7,192.2 591.2,193.5 592.8,194.9 594.3,196.4 595.9,198.1 597.4,199.9 598.9,201.9 600.5,204.0 602.0,206.2 603.6,208.5 605.1,210.8 606.6,213.2 608.2,215.6 609.7,218.0 611.3,220.4 612.8,222.8 614.3,225.2 615.9,227.5 617.4,229.7 619.0,231.9 620.5,234.0 622.0,236.0 623.6,238.0 625.1,239.9 626.7,241.7 628.2,243.4 629.7,245.1 631.3,246.8 632.8,248.3 634.4,249.8 635.9,251.3 637.4,252.7 639.0,254.0 640.5,255.2 642.1,256.3 643.6,257.4 645.2,258.3 646.7,259.2 648.2,259.9 649.8,260.5 651.3,261.1 652.9,261.7 654.4,262.3 655.9,263.1 657.5,263.9 659.0,264.9 660.6,266.0 662.1,267.1 663.6,268.2 665.2,269.1 666.7,269.8 668.3,270.1 669.8,270.0 671.3,268.8 672.9,266.0 674.4,261.4 676.0,255.2 677.5,247.7 679.0,239.3 680.6,230.2 682.1,220.3 683.7,209.2 685.2,197.5 686.7,186.3 688.3,176.5"/>
<path class="g" d="M443.3,216.4 444.9,219.2 446.4,222.0 448.0,224.7 449.5,227.2 451.0,229.7 452.6,232.0 454.1,234.3 455.7,236.4 457.2,238.3 458.7,240.2 460.3,242.0 461.8,243.6 463.4,245.3 464.9,246.8 466.4,248.3 468.0,249.8 469.5,251.1 471.1,252.4 472.6,253.6 474.1,254.7 475.7,255.7 477.2,256.6 478.8,257.5 480.3,258.2 481.8,258.9 483.4,259.6 484.9,260.3 486.5,261.0 488.0,261.8 489.5,262.9 491.1,264.1 492.6,265.6 494.2,267.2 495.7,268.6 497.3,269.7 498.8,270.6 500.3,271.1 501.9,270.9 503.4,269.9 505.0,267.5 506.5,263.1 508.0,256.9 509.6,249.2 511.1,239.8 512.7,228.9 514.2,216.4 515.7,202.2 517.3,186.5 518.8,170.0 520.4,153.0 521.9,136.4 523.4,120.5 525.0,105.7 526.5,92.4 528.1,80.9 529.6,71.1 531.1,63.2 532.7,57.1 534.2,52.8 535.8,49.8 537.3,48.0 538.8,47.1 540.4,47.2 541.9,48.2 543.5,50.1 545.0,52.7 546.6,56.1 548.1,60.2 549.6,64.8 551.2,69.9 552.7,75.4 554.3,81.4 555.8,87.7 557.3,94.4 558.9,101.4 560.4,108.7 562.0,116.1 563.5,123.7 565.0,131.2 566.6,138.6 568.1,145.7 569.7,152.4 571.2,158.5 572.7,164.0 574.3,168.8 575.8,173.0 577.4,176.5 578.9,179.4 580.4,181.8 582.0,183.8 583.5,185.5 585.1,187.0 586.6,188.4 588.1,189.6 589.7,190.9 591.2,192.2 592.8,193.6 594.3,195.2 595.9,197.0 597.4,198.9 598.9,201.0 600.5,203.2 602.0,205.5 603.6,207.9 605.1,210.4 606.6,212.9 608.2,215.5 609.7,218.0 611.3,220.6 612.8,223.1 614.3,225.6 615.9,228.1 617.4,230.4 619.0,232.7 620.5,234.9 622.0,237.0 623.6,239.1 625.1,241.0 626.7,242.9 628.2,244.7 629.7,246.4 631.3,248.0 632.8,249.5 634.4,251.0 635.9,252.4 637.4,253.6 639.0,254.8 640.5,255.9 642.1,256.9 643.6,257.8 645.2,258.6 646.7,259.2 648.2,259.7 649.8,260.1 651.3,260.5 652.9,260.8 654.4,261.2 655.9,261.7 657.5,262.3 659.0,263.1 660.6,263.9 662.1,264.9 663.6,265.8 665.2,266.5 666.7,267.0 668.3,267.1 669.8,266.8 671.3,265.5 672.9,262.6 674.4,258.1 676.0,252.1 677.5,244.9 679.0,236.9 680.6,228.4 682.1,219.1 683.7,208.8 685.2,198.1 686.7,188.0 688.3,179.3"/>
</g>
<path class="a" d="M443.5,30.8 L443.5,278.5 M443.0,278.0 L714.3,278.0"/>
<path class="a" d="M540.2,278.0 L540.2,275.0 M636.4,278.0 L636.4,275.0 M443.5,30.8 L446.5,30.8 M443.5,109.6 L446.5,109.6 M443.5,188.2 L446.5,188.2 M443.5,267.3 L446.5,267.3"/>
<path class="b" d="M443.3,221.2 444.9,224.1 446.4,226.9 448.0,229.6 449.5,232.2 451.0,234.6 452.6,237.0 454.1,239.2 455.7,241.2 457.2,243.1 458.7,244.9 460.3,246.6 461.8,248.1 463.4,249.6 464.9,251.0 466.4,252.4 468.0,253.7 469.5,254.9 471.1,256.0 472.6,257.0 474.1,257.9 475.7,258.7 477.2,259.4 478.8,260.0 480.3,260.6 481.8,261.2 483.4,261.7 484.9,262.2 486.5,262.8 488.0,263.5 489.5,264.4 491.1,265.6 492.6,267.0 494.2,268.4 495.7,269.8 497.3,270.9 498.8,271.8 500.3,272.3 501.9,272.2 503.4,271.2 505.0,268.8 506.5,264.6 508.0,258.6 509.6,250.9 511.1,241.8 512.7,231.0 514.2,218.7 515.7,204.7 517.3,189.3 518.8,172.9 520.4,156.3 521.9,139.8 523.4,124.1 525.0,109.6 526.5,96.5 528.1,85.1 529.6,75.6 531.1,67.8 532.7,61.9 534.2,57.7 535.8,54.8 537.3,53.1 538.8,52.3 540.4,52.5 541.9,53.5 543.5,55.4 545.0,58.1 546.6,61.5 548.1,65.6 549.6,70.2 551.2,75.3 552.7,80.8 554.3,86.7 555.8,93.0 557.3,99.6 558.9,106.6 560.4,113.8 562.0,121.2 563.5,128.6 565.0,136.1 566.6,143.4 568.1,150.4 569.7,157.0 571.2,163.1 572.7,168.6 574.3,173.3 575.8,177.4 577.4,180.9 578.9,183.7 580.4,186.0 582.0,188.0 583.5,189.6 585.1,191.0 586.6,192.3 588.1,193.5 589.7,194.6 591.2,195.8 592.8,197.1 594.3,198.6 595.9,200.2 597.4,202.0 598.9,204.0 600.5,206.0 602.0,208.2 603.6,210.5 605.1,212.8 606.6,215.2 608.2,217.5 609.7,220.0 611.3,222.4 612.8,224.7 614.3,227.1 615.9,229.4 617.4,231.6 619.0,233.8 620.5,235.9 622.0,237.9 623.6,239.8 625.1,241.7 626.7,243.5 628.2,245.3 629.7,247.0 631.3,248.6 632.8,250.2 634.4,251.7 635.9,253.1 637.4,254.5 639.0,255.8 640.5,257.0 642.1,258.1 643.6,259.2 645.2,260.1 646.7,260.9 648.2,261.6 649.8,262.2 651.3,262.8 652.9,263.4 654.4,264.0 655.9,264.7 657.5,265.5 659.0,266.5 660.6,267.5 662.1,268.6 663.6,269.7 665.2,270.6 666.7,271.2 668.3,271.5 669.8,271.3 671.3,270.1 672.9,267.2 674.4,262.4 676.0,255.9 677.5,248.0 679.0,239.1 680.6,229.5 682.1,218.9 683.7,207.0 685.2,194.5 686.7,182.3 688.3,171.4"/>
<text class="t" transform="translate(442.7,308.8) scale(1,1.05)" text-anchor="middle">0</text>
<text class="t" transform="translate(539.4,308.8) scale(1,1.05)" text-anchor="middle">0.5</text>
<text class="t" transform="translate(635.6,308.8) scale(1,1.05)" text-anchor="middle">1</text>
<text class="t" transform="translate(434.7,40.2) scale(1,1.05)" text-anchor="end">1</text>
<text class="t" transform="translate(434.7,119.0) scale(1,1.05)" text-anchor="end">0.5</text>
<text class="t" transform="translate(434.7,197.6) scale(1,1.05)" text-anchor="end">0</text>
<text class="t" transform="translate(434.7,276.7) scale(1,1.05)" text-anchor="end">-0.5</text>
<text class="l" transform="translate(578.9,341.0) scale(1,1.05)" text-anchor="middle">time/s</text>
<text class="l" transform="translate(387.1,154.4) rotate(-90) scale(1,1.05)" text-anchor="middle">amplitude/a.u.</text>
</g>
<g id="p3">
<clipPath id="c2"><rect x="811.0" y="29.0" width="271.0" height="249.0"/></clipPath>
<g clip-path="url(#c2)">
<path class="g" d="M811.2,93.7 812.7,95.6 814.2,97.5 815.8,99.3 817.3,101.0 818.8,102.7 820.4,104.4 821.9,106.1 823.5,107.8 825.0,109.5 826.5,111.3 828.1,113.3 829.6,115.5 831.1,118.1 832.7,120.9 834.2,124.0 835.8,127.5 837.3,131.2 838.8,135.1 840.4,139.3 841.9,143.6 843.4,147.9 845.0,152.3 846.5,156.8 848.1,161.2 849.6,165.7 851.1,170.2 852.7,174.5 854.2,178.6 855.8,182.3 857.3,185.5 858.8,188.3 860.4,190.9 861.9,193.0 863.4,194.5 865.0,195.3 866.5,195.5 868.1,195.0 869.6,193.2 871.1,190.1 872.7,185.8 874.2,180.6 875.7,174.5 877.3,167.7 878.8,160.1 880.4,151.9 881.9,143.8 883.4,136.3 885.0,129.3 886.5,122.5 888.1,115.6 889.6,108.3 891.1,101.0 892.7,94.3 894.2,88.1 895.7,82.2 897.3,76.6 898.8,71.1 900.4,66.0 901.9,61.3 903.4,57.3 905.0,53.9 906.5,51.1 908.0,48.8 909.6,47.0 911.1,45.8 912.7,45.2 914.2,45.3 915.7,46.2 917.3,47.6 918.8,49.4 920.3,51.4 921.9,53.4 923.4,55.2 925.0,56.6 926.5,57.6 928.0,58.2 929.6,58.2 931.1,57.7 932.7,56.9 934.2,55.9 935.7,54.9 937.3,54.0 938.8,53.4 940.3,53.0 941.9,52.9 943.4,53.2 945.0,53.7 946.5,54.6 948.0,55.8 949.6,57.3 951.1,59.1 952.6,61.0 954.2,63.2 955.7,65.4 957.3,67.8 958.8,70.2 960.3,72.6 961.9,75.1 963.4,77.5 965.0,79.9 966.5,82.2 968.0,84.1 969.6,85.7 971.1,87.1 972.6,88.4 974.2,89.6 975.7,90.8 977.3,91.9 978.8,92.9 980.3,93.6 981.9,94.1 983.4,94.5 984.9,95.1 986.5,96.0 988.0,97.4 989.6,99.1 991.1,101.0 992.6,103.2 994.2,105.7 995.7,108.6 997.2,111.9 998.8,115.4 1000.3,119.1 1001.9,122.9 1003.4,126.7 1004.9,130.6 1006.5,134.5 1008.0,138.5 1009.6,142.5 1011.1,146.6 1012.6,150.7 1014.2,154.9 1015.7,158.9 1017.2,162.9 1018.8,166.7 1020.3,170.3 1021.9,173.7 1023.4,176.9 1024.9,180.0 1026.5,183.1 1028.0,186.0 1029.5,188.8 1031.1,191.3 1032.6,193.3 1034.2,194.6 1035.7,195.3 1037.2,195.7 1038.8,195.3 1040.3,193.7 1041.9,190.5 1043.4,185.6 1044.9,179.1 1046.5,171.0 1048.0,161.2 1049.5,149.9 1051.1,137.3 1052.6,124.1 1054.2,111.2 1055.7,99.3"/>
<path class="g" d="M811.2,104.7 812.7,107.1 814.2,109.4 815.8,111.7 817.3,113.9 818.8,116.1 820.4,118.3 821.9,120.4 823.5,122.5 825.0,124.6 826.5,126.8 828.1,129.2 829.6,131.7 831.1,134.6 832.7,137.7 834.2,141.1 835.8,144.8 837.3,148.7 838.8,152.8 840.4,157.1 841.9,161.6 843.4,166.0 845.0,170.5 846.5,175.0 848.1,179.5 849.6,184.0 851.1,188.6 852.7,193.2 854.2,197.7 855.8,202.0 857.3,206.3 858.8,210.4 860.4,214.5 861.9,218.0 863.4,220.6 865.0,222.2 866.5,222.5 868.1,221.5 869.6,218.8 871.1,214.4 872.7,208.5 874.2,201.5 875.7,193.6 877.3,184.8 878.8,175.3 880.4,165.2 881.9,154.7 883.4,144.3 885.0,134.5 886.5,125.1 888.1,116.3 889.6,107.9 891.1,100.1 892.7,92.7 894.2,85.9 895.7,79.4 897.3,73.1 898.8,66.9 900.4,61.1 901.9,55.9 903.4,51.3 905.0,47.3 906.5,44.0 908.0,41.2 909.6,38.9 911.1,37.3 912.7,36.4 914.2,36.3 915.7,36.9 917.3,38.1 918.8,39.7 920.3,41.5 921.9,43.3 923.4,44.8 925.0,45.9 926.5,46.6 928.0,46.7 929.6,46.1 931.1,45.0 932.7,43.4 934.2,41.3 935.7,39.0 937.3,36.8 938.8,34.7 940.3,32.9 941.9,31.6 943.4,30.7 945.0,30.4 946.5,30.7 948.0,31.8 949.6,33.7 951.1,36.6 952.6,40.2 954.2,44.3 955.7,48.9 957.3,53.7 958.8,58.6 960.3,63.4 961.9,68.0 963.4,72.3 965.0,76.4 966.5,80.4 968.0,84.3 969.6,88.2 971.1,91.9 972.6,95.5 974.2,99.0 975.7,102.3 977.3,105.4 978.8,108.2 980.3,111.0 981.9,113.6 983.4,116.1 984.9,118.5 986.5,120.9 988.0,123.2 989.6,125.6 991.1,128.0 992.6,130.5 994.2,133.3 995.7,136.3 997.2,139.6 998.8,143.1 1000.3,146.6 1001.9,150.3 1003.4,153.9 1004.9,157.4 1006.5,161.0 1008.0,164.6 1009.6,168.3 1011.1,172.1 1012.6,175.9 1014.2,179.7 1015.7,183.5 1017.2,187.4 1018.8,191.1 1020.3,194.8 1021.9,198.6 1023.4,202.3 1024.9,206.1 1026.5,209.8 1028.0,213.3 1029.5,216.5 1031.1,219.2 1032.6,221.1 1034.2,222.0 1035.7,221.5 1037.2,219.5 1038.8,215.7 1040.3,210.3 1041.9,203.1 1043.4,194.7 1044.9,185.5 1046.5,176.1 1048.0,166.4 1049.5,155.9 1051.1,145.0 1052.6,134.3 1054.2,124.5 1055.7,116.3"/>
<path class="g" d="M811.2,111.7 812.7,115.0 814.2,118.2 815.8,121.3 817.3,124.4 818.8,127.3 820.4,130.2 821.9,133.0 823.5,135.8 825.0,138.5 826.5,141.3 828.1,144.2 829.6,147.3 831.1,150.6 832.7,154.2 834.2,158.0 835.8,162.1 837.3,166.3 838.8,170.8 840.4,175.4 841.9,180.1 843.4,184.8 845.0,189.5 846.5,194.1 848.1,198.8 849.6,203.5 851.1,208.1 852.7,212.8 854.2,217.3 855.8,221.7 857.3,225.9 858.8,230.0 860.4,233.9 861.9,237.3 863.4,239.9 865.0,241.2 866.5,241.4 868.1,240.0 869.6,236.8 871.1,231.7 872.7,225.0 874.2,217.2 875.7,208.3 877.3,198.5 878.8,188.1 880.4,177.0 881.9,165.5 883.4,154.3 885.0,143.6 886.5,133.5 888.1,124.1 889.6,115.3 891.1,107.2 892.7,99.8 894.2,93.0 895.7,86.7 897.3,80.6 898.8,74.8 900.4,69.5 901.9,64.7 903.4,60.6 905.0,57.2 906.5,54.4 908.0,52.2 909.6,50.5 911.1,49.5 912.7,49.0 914.2,49.4 915.7,50.4 917.3,52.1 918.8,54.3 920.3,56.7 921.9,59.0 923.4,61.1 925.0,62.8 926.5,64.0 928.0,64.6 929.6,64.5 931.1,63.8 932.7,62.7 934.2,61.3 935.7,59.8 937.3,58.4 938.8,57.3 940.3,56.5 941.9,56.1 943.4,56.2 945.0,56.6 946.5,57.4 948.0,58.6 949.6,60.2 951.1,62.0 952.6,64.1 954.2,66.4 955.7,68.9 957.3,71.5 958.8,74.3 960.3,77.1 961.9,79.9 963.4,82.8 965.0,85.7 966.5,88.5 968.0,91.4 969.6,94.2 971.1,97.1 972.6,99.9 974.2,102.8 975.7,105.7 977.3,108.6 978.8,111.4 980.3,114.1 981.9,116.7 983.4,119.3 984.9,121.8 986.5,124.2 988.0,126.7 989.6,129.2 991.1,131.8 992.6,134.6 994.2,137.6 995.7,140.9 997.2,144.5 998.8,148.3 1000.3,152.2 1001.9,156.2 1003.4,160.2 1004.9,164.3 1006.5,168.3 1008.0,172.4 1009.6,176.7 1011.1,181.0 1012.6,185.4 1014.2,189.9 1015.7,194.4 1017.2,198.9 1018.8,203.4 1020.3,207.9 1021.9,212.4 1023.4,217.0 1024.9,221.6 1026.5,226.2 1028.0,230.7 1029.5,234.9 1031.1,238.6 1032.6,241.6 1034.2,243.5 1035.7,244.2 1037.2,243.7 1038.8,241.9 1040.3,238.7 1041.9,234.2 1043.4,228.7 1044.9,222.6 1046.5,216.5 1048.0,210.2 1049.5,203.3 1051.1,196.1 1052.6,189.0 1054.2,182.9 1055.7,178.3"/>
<path class="g" d="M811.2,115.7 812.7,119.0 814.2,122.3 815.8,125.5 817.3,128.6 818.8,131.6 820.4,134.5 821.9,137.4 823.5,140.2 825.0,143.0 826.5,145.8 828.1,148.8 829.6,151.9 831.1,155.2 832.7,158.8 834.2,162.7 835.8,166.8 837.3,171.1 838.8,175.6 840.4,180.3 841.9,185.0 843.4,189.7 845.0,194.4 846.5,199.0 848.1,203.7 849.6,208.4 851.1,213.1 852.7,217.8 854.2,222.3 855.8,226.7 857.3,230.9 858.8,235.0 860.4,238.9 861.9,242.4 863.4,244.9 865.0,246.2 866.5,246.4 868.1,245.0 869.6,241.8 871.1,236.6 872.7,229.9 874.2,222.0 875.7,213.1 877.3,203.3 878.8,192.8 880.4,181.7 881.9,170.2 883.4,158.9 885.0,148.2 886.5,138.0 888.1,128.6 889.6,119.8 891.1,111.6 892.7,104.1 894.2,97.3 895.7,90.9 897.3,84.8 898.8,79.0 900.4,73.6 901.9,68.8 903.4,64.7 905.0,61.3 906.5,58.5 908.0,56.2 909.6,54.5 911.1,53.4 912.7,53.0 914.2,53.4 915.7,54.4 917.3,56.2 918.8,58.3 920.3,60.7 921.9,63.0 923.4,65.1 925.0,66.8 926.5,68.0 928.0,68.6 929.6,68.5 931.1,67.6 932.7,66.3 934.2,64.6 935.7,62.8 937.3,61.1 938.8,59.7 940.3,58.7 941.9,58.2 943.4,58.2 945.0,58.6 946.5,59.4 948.0,60.7 949.6,62.3 951.1,64.2 952.6,66.5 954.2,68.9 955.7,71.5 957.3,74.3 958.8,77.2 960.3,80.2 961.9,83.2 963.4,86.3 965.0,89.4 966.5,92.4 968.0,95.5 969.6,98.5 971.1,101.5 972.6,104.5 974.2,107.5 975.7,110.5 977.3,113.4 978.8,116.3 980.3,119.0 981.9,121.7 983.4,124.3 984.9,126.8 986.5,129.2 988.0,131.7 989.6,134.2 991.1,136.8 992.6,139.6 994.2,142.6 995.7,145.9 997.2,149.4 998.8,153.2 1000.3,157.1 1001.9,161.1 1003.4,165.1 1004.9,169.1 1006.5,173.1 1008.0,177.2 1009.6,181.4 1011.1,185.7 1012.6,190.1 1014.2,194.6 1015.7,199.1 1017.2,203.6 1018.8,208.1 1020.3,212.6 1021.9,217.1 1023.4,221.7 1024.9,226.3 1026.5,231.0 1028.0,235.5 1029.5,239.7 1031.1,243.5 1032.6,246.5 1034.2,248.5 1035.7,249.2 1037.2,249.0 1038.8,247.5 1040.3,244.7 1041.9,240.7 1043.4,235.6 1044.9,230.1 1046.5,224.6 1048.0,219.0 1049.5,212.8 1051.1,206.2 1052.6,199.8 1054.2,194.3 1055.7,190.3"/>
<path class="g" d="M811.2,118.7 812.7,121.6 814.2,124.4 815.8,127.1 817.3,129.8 818.8,132.5 820.4,135.0 821.9,137.6 823.5,140.2 825.0,142.7 826.5,145.3 828.1,148.1 829.6,151.1 831.1,154.4 832.7,158.0 834.2,161.9 835.8,166.1 837.3,170.6 838.8,175.4 840.4,180.3 841.9,185.3 843.4,190.4 845.0,195.5 846.5,200.6 848.1,205.7 849.6,210.8 851.1,215.9 852.7,220.9 854.2,225.8 855.8,230.5 857.3,235.1 858.8,239.4 860.4,243.6 861.9,247.2 863.4,249.8 865.0,251.2 866.5,251.3 868.1,249.8 869.6,246.2 871.1,240.6 872.7,233.4 874.2,224.9 875.7,215.3 877.3,204.8 878.8,193.5 880.4,181.5 881.9,169.2 883.4,157.1 885.0,145.6 886.5,134.7 888.1,124.6 889.6,115.1 891.1,106.4 892.7,98.5 894.2,91.2 895.7,84.4 897.3,77.8 898.8,71.6 900.4,65.8 901.9,60.6 903.4,56.2 905.0,52.4 906.5,49.2 908.0,46.6 909.6,44.5 911.1,43.1 912.7,42.3 914.2,42.3 915.7,43.0 917.3,44.2 918.8,45.8 920.3,47.6 921.9,49.3 923.4,50.9 925.0,52.2 926.5,53.1 928.0,53.6 929.6,53.5 931.1,53.1 932.7,52.4 934.2,51.5 935.7,50.6 937.3,49.8 938.8,49.2 940.3,48.9 941.9,48.9 943.4,49.2 945.0,49.7 946.5,50.6 948.0,51.8 949.6,53.4 951.1,55.3 952.6,57.4 954.2,59.7 955.7,62.1 957.3,64.7 958.8,67.4 960.3,70.2 961.9,73.0 963.4,75.8 965.0,78.7 966.5,81.5 968.0,84.3 969.6,87.1 971.1,89.9 972.6,92.8 974.2,95.6 975.7,98.5 977.3,101.4 978.8,104.3 980.3,107.2 981.9,110.1 983.4,113.0 984.9,116.0 986.5,119.0 988.0,122.1 989.6,125.3 991.1,128.7 992.6,132.2 994.2,136.0 995.7,140.1 997.2,144.5 998.8,149.1 1000.3,153.9 1001.9,158.7 1003.4,163.4 1004.9,168.3 1006.5,173.2 1008.0,178.2 1009.6,183.2 1011.1,188.4 1012.6,193.7 1014.2,199.0 1015.7,204.3 1017.2,209.5 1018.8,214.7 1020.3,219.7 1021.9,224.7 1023.4,229.7 1024.9,234.6 1026.5,239.3 1028.0,243.8 1029.5,247.8 1031.1,251.2 1032.6,253.6 1034.2,254.9 1035.7,254.5 1037.2,252.3 1038.8,247.9 1040.3,241.4 1041.9,232.9 1043.4,222.8 1044.9,211.7 1046.5,200.1 1048.0,188.0 1049.5,175.0 1051.1,161.5 1052.6,148.0 1054.2,135.4 1055.7,124.3"/>
<path class="g" d="M811.2,122.7 812.7,125.5 814.2,128.4 815.8,131.1 817.3,133.8 818.8,136.4 820.4,139.0 821.9,141.6 823.5,144.1 825.0,146.7 826.5,149.3 828.1,152.1 829.6,155.1 831.1,158.4 832.7,162.0 834.2,166.0 835.8,170.2 837.3,174.8 838.8,179.6 840.4,184.6 841.9,189.7 843.4,194.9 845.0,200.0 846.5,205.2 848.1,210.3 849.6,215.5 851.1,220.7 852.7,225.8 854.2,230.8 855.8,235.5 857.3,240.1 858.8,244.5 860.4,248.7 861.9,252.3 863.4,254.9 865.0,256.3 866.5,256.3 868.1,254.5 869.6,250.7 871.1,244.8 872.7,237.2 874.2,228.3 875.7,218.2 877.3,207.3 878.8,195.5 880.4,183.2 881.9,170.5 883.4,158.1 885.0,146.3 886.5,135.3 888.1,125.1 889.6,115.7 891.1,107.2 892.7,99.7 894.2,92.8 895.7,86.4 897.3,80.3 898.8,74.5 900.4,69.2 901.9,64.5 903.4,60.5 905.0,57.2 906.5,54.5 908.0,52.4 909.6,50.9 911.1,50.0 912.7,49.9 914.2,50.4 915.7,51.9 917.3,54.1 918.8,56.9 920.3,60.0 921.9,63.0 923.4,65.8 925.0,68.1 926.5,69.7 928.0,70.5 929.6,70.5 931.1,69.6 932.7,68.2 934.2,66.4 935.7,64.4 937.3,62.6 938.8,61.0 940.3,59.9 941.9,59.2 943.4,59.2 945.0,59.6 946.5,60.5 948.0,61.8 949.6,63.4 951.1,65.5 952.6,67.8 954.2,70.3 955.7,73.0 957.3,75.9 958.8,78.8 960.3,81.8 961.9,84.8 963.4,87.8 965.0,90.7 966.5,93.6 968.0,96.4 969.6,99.0 971.1,101.7 972.6,104.3 974.2,106.9 975.7,109.4 977.3,112.0 978.8,114.5 980.3,116.9 981.9,119.3 983.4,121.6 984.9,123.9 986.5,126.3 988.0,128.7 989.6,131.2 991.1,133.9 992.6,136.8 994.2,139.9 995.7,143.4 997.2,147.2 998.8,151.2 1000.3,155.4 1001.9,159.8 1003.4,164.1 1004.9,168.6 1006.5,173.0 1008.0,177.6 1009.6,182.3 1011.1,187.2 1012.6,192.1 1014.2,197.2 1015.7,202.4 1017.2,207.9 1018.8,213.7 1020.3,219.6 1021.9,225.7 1023.4,231.9 1024.9,238.0 1026.5,244.1 1028.0,249.8 1029.5,255.1 1031.1,259.5 1032.6,262.8 1034.2,264.7 1035.7,264.8 1037.2,263.1 1038.8,259.4 1040.3,253.8 1041.9,246.4 1043.4,237.5 1044.9,227.6 1046.5,217.2 1048.0,206.4 1049.5,194.7 1051.1,182.4 1052.6,170.0 1054.2,158.5 1055.7,148.3"/>
<path class="g" d="M811.2,106.7 812.7,109.6 814.2,112.5 815.8,115.3 817.3,117.9 818.8,120.6 820.4,123.1 821.9,125.6 823.5,128.1 825.0,130.5 826.5,133.0 828.1,135.6 829.6,138.4 831.1,141.5 832.7,144.8 834.2,148.3 835.8,152.2 837.3,156.2 838.8,160.5 840.4,164.9 841.9,169.4 843.4,173.9 845.0,178.4 846.5,182.9 848.1,187.4 849.6,192.0 851.1,196.5 852.7,201.1 854.2,205.5 855.8,209.8 857.3,213.9 858.8,218.0 860.4,221.9 861.9,225.3 863.4,227.8 865.0,229.2 866.5,229.4 868.1,228.1 869.6,224.9 871.1,219.9 872.7,213.4 874.2,205.7 875.7,196.9 877.3,187.4 878.8,177.1 880.4,166.1 881.9,154.9 883.4,143.8 885.0,133.3 886.5,123.5 888.1,114.3 889.6,105.7 891.1,97.8 892.7,90.6 894.2,84.0 895.7,77.8 897.3,71.9 898.8,66.3 900.4,61.1 901.9,56.4 903.4,52.5 905.0,49.2 906.5,46.4 908.0,44.3 909.6,42.6 911.1,41.5 912.7,41.1 914.2,41.3 915.7,42.3 917.3,43.8 918.8,45.6 920.3,47.7 921.9,49.7 923.4,51.5 925.0,53.0 926.5,54.0 928.0,54.6 929.6,54.6 931.1,54.2 932.7,53.6 934.2,52.8 935.7,52.0 937.3,51.4 938.8,51.0 940.3,50.8 941.9,50.9 943.4,51.2 945.0,51.7 946.5,52.6 948.0,53.9 949.6,55.5 951.1,57.4 952.6,59.5 954.2,61.8 955.7,64.3 957.3,66.9 958.8,69.6 960.3,72.3 961.9,75.1 963.4,78.0 965.0,80.8 966.5,83.6 968.0,86.3 969.6,89.1 971.1,91.8 972.6,94.6 974.2,97.4 975.7,100.2 977.3,103.0 978.8,105.7 980.3,108.3 981.9,110.9 983.4,113.4 984.9,115.8 986.5,118.3 988.0,120.7 989.6,123.2 991.1,125.7 992.6,128.5 994.2,131.4 995.7,134.6 997.2,138.1 998.8,141.8 1000.3,145.6 1001.9,149.5 1003.4,153.4 1004.9,157.3 1006.5,161.2 1008.0,165.1 1009.6,169.1 1011.1,173.2 1012.6,177.4 1014.2,181.6 1015.7,185.8 1017.2,190.1 1018.8,194.2 1020.3,198.4 1021.9,202.5 1023.4,206.7 1024.9,211.0 1026.5,215.1 1028.0,219.1 1029.5,222.8 1031.1,226.0 1032.6,228.4 1034.2,229.7 1035.7,229.8 1037.2,228.3 1038.8,225.1 1040.3,220.2 1041.9,213.8 1043.4,206.0 1044.9,197.5 1046.5,188.7 1048.0,179.7 1049.5,170.0 1051.1,159.8 1052.6,149.8 1054.2,140.8 1055.7,133.3"/>
<path class="g" d="M811.2,107.4 812.7,110.4 814.2,113.2 815.8,116.0 817.3,118.7 818.8,121.4 820.4,124.0 821.9,126.5 823.5,129.0 825.0,131.5 826.5,134.1 828.1,136.7 829.6,139.6 831.1,142.7 832.7,146.0 834.2,149.6 835.8,153.5 837.3,157.6 838.8,161.9 840.4,166.3 841.9,170.8 843.4,175.3 845.0,179.9 846.5,184.4 848.1,188.9 849.6,193.5 851.1,198.2 852.7,202.7 854.2,207.2 855.8,211.6 857.3,215.8 858.8,219.9 860.4,223.9 861.9,227.4 863.4,230.1 865.0,231.7 866.5,232.1 868.1,231.1 869.6,228.4 871.1,223.8 872.7,217.9 874.2,210.8 875.7,202.7 877.3,193.8 878.8,184.2 880.4,174.0 881.9,163.5 883.4,153.2 885.0,143.3 886.5,134.1 888.1,125.4 889.6,117.3 891.1,109.8 892.7,103.0 894.2,96.7 895.7,90.8 897.3,85.2 898.8,79.8 900.4,74.8 901.9,70.3 903.4,66.4 905.0,63.2 906.5,60.4 908.0,58.2 909.6,56.5 911.1,55.4 912.7,54.8 914.2,54.9 915.7,55.7 917.3,56.9 918.8,58.6 920.3,60.3 921.9,62.1 923.4,63.6 925.0,64.8 926.5,65.5 928.0,65.8 929.6,65.6 931.1,64.9 932.7,64.0 934.2,62.8 935.7,61.6 937.3,60.5 938.8,59.7 940.3,59.1 941.9,58.8 943.4,58.8 945.0,59.2 946.5,59.8 948.0,60.8 949.6,62.1 951.1,63.7 952.6,65.6 954.2,67.6 955.7,69.9 957.3,72.2 958.8,74.6 960.3,77.2 961.9,79.7 963.4,82.4 965.0,85.0 966.5,87.6 968.0,90.2 969.6,92.8 971.1,95.4 972.6,98.1 974.2,100.7 975.7,103.4 977.3,106.1 978.8,108.8 980.3,111.4 981.9,113.9 983.4,116.3 984.9,118.7 986.5,121.2 988.0,123.6 989.6,126.0 991.1,128.6 992.6,131.3 994.2,134.3 995.7,137.5 997.2,141.0 998.8,144.7 1000.3,148.5 1001.9,152.4 1003.4,156.2 1004.9,160.1 1006.5,163.9 1008.0,167.9 1009.6,171.8 1011.1,175.9 1012.6,180.0 1014.2,184.1 1015.7,188.2 1017.2,192.3 1018.8,196.3 1020.3,200.3 1021.9,204.3 1023.4,208.3 1024.9,212.3 1026.5,216.2 1028.0,220.0 1029.5,223.4 1031.1,226.4 1032.6,228.5 1034.2,229.7 1035.7,229.6 1037.2,228.0 1038.8,224.8 1040.3,220.1 1041.9,214.0 1043.4,206.7 1044.9,198.9 1046.5,191.0 1048.0,182.9 1049.5,174.4 1051.1,165.5 1052.6,157.0 1054.2,149.4 1055.7,143.6"/>
<path class="g" d="M811.2,108.1 812.7,111.1 814.2,114.0 815.8,116.8 817.3,119.6 818.8,122.2 820.4,124.8 821.9,127.4 823.5,129.9 825.0,132.4 826.5,134.9 828.1,137.6 829.6,140.5 831.1,143.6 832.7,147.0 834.2,150.6 835.8,154.5 837.3,158.7 838.8,163.1 840.4,167.5 841.9,172.1 843.4,176.7 845.0,181.3 846.5,185.9 848.1,190.5 849.6,195.1 851.1,199.7 852.7,204.3 854.2,208.8 855.8,213.1 857.3,217.2 858.8,221.3 860.4,225.2 861.9,228.6 863.4,231.0 865.0,232.3 866.5,232.4 868.1,231.0 869.6,227.8 871.1,222.6 872.7,216.0 874.2,208.1 875.7,199.2 877.3,189.5 878.8,179.0 880.4,168.0 881.9,156.6 883.4,145.4 885.0,134.7 886.5,124.8 888.1,115.4 889.6,106.8 891.1,98.8 892.7,91.5 894.2,84.9 895.7,78.7 897.3,72.8 898.8,67.2 900.4,62.1 901.9,57.5 903.4,53.6 905.0,50.5 906.5,47.9 908.0,45.8 909.6,44.4 911.1,43.5 912.7,43.2 914.2,43.7 915.7,44.9 917.3,46.6 918.8,48.7 920.3,51.0 921.9,53.2 923.4,55.1 925.0,56.7 926.5,57.9 928.0,58.5 929.6,58.6 931.1,58.2 932.7,57.4 934.2,56.4 935.7,55.3 937.3,54.4 938.8,53.7 940.3,53.2 941.9,53.0 943.4,53.2 945.0,53.6 946.5,54.4 948.0,55.5 949.6,56.9 951.1,58.7 952.6,60.7 954.2,62.9 955.7,65.2 957.3,67.7 958.8,70.3 960.3,73.0 961.9,75.8 963.4,78.5 965.0,81.3 966.5,84.1 968.0,86.9 969.6,89.7 971.1,92.5 972.6,95.4 974.2,98.3 975.7,101.2 977.3,104.1 978.8,107.0 980.3,109.8 981.9,112.5 983.4,115.2 984.9,117.8 986.5,120.4 988.0,123.0 989.6,125.7 991.1,128.5 992.6,131.4 994.2,134.6 995.7,138.0 997.2,141.7 998.8,145.6 1000.3,149.7 1001.9,153.7 1003.4,157.8 1004.9,161.9 1006.5,165.9 1008.0,170.0 1009.6,174.2 1011.1,178.5 1012.6,182.8 1014.2,187.1 1015.7,191.4 1017.2,195.8 1018.8,200.0 1020.3,204.2 1021.9,208.5 1023.4,212.7 1024.9,217.0 1026.5,221.2 1028.0,225.2 1029.5,229.0 1031.1,232.1 1032.6,234.5 1034.2,235.9 1035.7,235.9 1037.2,234.4 1038.8,231.2 1040.3,226.2 1041.9,219.4 1043.4,211.3 1044.9,202.3 1046.5,193.0 1048.0,183.3 1049.5,172.8 1051.1,161.8 1052.6,150.8 1054.2,140.6 1055.7,131.9"/>
<path class="g" d="M811.2,111.5 812.7,114.4 814.2,117.3 815.8,120.1 817.3,122.8 818.8,125.5 820.4,128.0 821.9,130.6 823.5,133.0 825.0,135.5 826.5,138.0 828.1,140.6 829.6,143.4 831.1,146.4 832.7,149.6 834.2,153.1 835.8,156.8 837.3,160.8 838.8,164.9 840.4,169.1 841.9,173.4 843.4,177.7 845.0,182.0 846.5,186.3 848.1,190.6 849.6,194.9 851.1,199.3 852.7,203.6 854.2,207.8 855.8,211.8 857.3,215.7 858.8,219.5 860.4,223.2 861.9,226.4 863.4,228.7 865.0,230.0 866.5,230.1 868.1,228.8 869.6,225.9 871.1,221.1 872.7,214.9 874.2,207.6 875.7,199.3 877.3,190.3 878.8,180.5 880.4,170.2 881.9,159.6 883.4,149.1 885.0,139.2 886.5,129.8 888.1,121.1 889.6,112.9 891.1,105.4 892.7,98.5 894.2,92.2 895.7,86.3 897.3,80.7 898.8,75.3 900.4,70.3 901.9,65.9 903.4,62.1 905.0,58.9 906.5,56.3 908.0,54.2 909.6,52.6 911.1,51.6 912.7,51.2 914.2,51.4 915.7,52.3 917.3,53.7 918.8,55.4 920.3,57.4 921.9,59.3 923.4,60.9 925.0,62.3 926.5,63.3 928.0,63.8 929.6,63.8 931.1,63.3 932.7,62.5 934.2,61.5 935.7,60.6 937.3,59.7 938.8,59.1 940.3,58.7 941.9,58.6 943.4,58.8 945.0,59.3 946.5,60.1 948.0,61.2 949.6,62.7 951.1,64.5 952.6,66.4 954.2,68.6 955.7,70.9 957.3,73.4 958.8,75.9 960.3,78.5 961.9,81.2 963.4,83.9 965.0,86.6 966.5,89.2 968.0,91.9 969.6,94.6 971.1,97.2 972.6,99.9 974.2,102.6 975.7,105.3 977.3,108.0 978.8,110.6 980.3,113.2 981.9,115.7 983.4,118.1 984.9,120.5 986.5,122.9 988.0,125.3 989.6,127.7 991.1,130.2 992.6,132.9 994.2,135.8 995.7,139.0 997.2,142.4 998.8,146.1 1000.3,149.8 1001.9,153.6 1003.4,157.4 1004.9,161.2 1006.5,165.0 1008.0,168.9 1009.6,172.8 1011.1,176.8 1012.6,180.9 1014.2,185.0 1015.7,189.1 1017.2,193.2 1018.8,197.2 1020.3,201.3 1021.9,205.3 1023.4,209.3 1024.9,213.3 1026.5,217.3 1028.0,221.1 1029.5,224.7 1031.1,227.7 1032.6,229.9 1034.2,231.2 1035.7,231.2 1037.2,229.8 1038.8,226.8 1040.3,222.1 1041.9,215.9 1043.4,208.4 1044.9,200.3 1046.5,191.8 1048.0,183.1 1049.5,173.7 1051.1,163.8 1052.6,154.1 1054.2,145.2 1055.7,137.8"/>
<path class="g" d="M811.2,108.7 812.7,111.6 814.2,114.4 815.8,117.1 817.3,119.6 818.8,122.1 820.4,124.5 821.9,126.8 823.5,129.1 825.0,131.3 826.5,133.6 828.1,136.0 829.6,138.6 831.1,141.4 832.7,144.5 834.2,147.8 835.8,151.4 837.3,155.2 838.8,159.3 840.4,163.4 841.9,167.7 843.4,172.0 845.0,176.3 846.5,180.5 848.1,184.9 849.6,189.2 851.1,193.6 852.7,198.0 854.2,202.2 855.8,206.3 857.3,210.3 858.8,214.2 860.4,217.9 861.9,221.2 863.4,223.6 865.0,224.9 866.5,225.0 868.1,223.8 869.6,220.8 871.1,215.9 872.7,209.7 874.2,202.2 875.7,193.9 877.3,184.7 878.8,174.8 880.4,164.3 881.9,153.5 883.4,142.9 885.0,132.8 886.5,123.3 888.1,114.4 889.6,106.2 891.1,98.6 892.7,91.7 894.2,85.3 895.7,79.4 897.3,73.8 898.8,68.5 900.4,63.6 901.9,59.2 903.4,55.6 905.0,52.5 906.5,50.1 908.0,48.2 909.6,46.8 911.1,46.1 912.7,45.9 914.2,46.4 915.7,47.6 917.3,49.3 918.8,51.4 920.3,53.7 921.9,55.9 923.4,57.8 925.0,59.5 926.5,60.7 928.0,61.4 929.6,61.6 931.1,61.2 932.7,60.6 934.2,59.7 935.7,58.8 937.3,57.9 938.8,57.2 940.3,56.8 941.9,56.6 943.4,56.6 945.0,56.9 946.5,57.5 948.0,58.4 949.6,59.7 951.1,61.1 952.6,62.8 954.2,64.6 955.7,66.6 957.3,68.7 958.8,70.9 960.3,73.2 961.9,75.5 963.4,77.8 965.0,80.1 966.5,82.5 968.0,84.8 969.6,87.2 971.1,89.6 972.6,92.0 974.2,94.5 975.7,97.0 977.3,99.5 978.8,102.0 980.3,104.5 981.9,107.0 983.4,109.4 984.9,111.8 986.5,114.2 988.0,116.7 989.6,119.2 991.1,121.8 992.6,124.6 994.2,127.7 995.7,131.0 997.2,134.6 998.8,138.5 1000.3,142.4 1001.9,146.4 1003.4,150.4 1004.9,154.4 1006.5,158.5 1008.0,162.5 1009.6,166.6 1011.1,170.8 1012.6,175.1 1014.2,179.3 1015.7,183.6 1017.2,187.8 1018.8,192.0 1020.3,196.1 1021.9,200.2 1023.4,204.4 1024.9,208.5 1026.5,212.6 1028.0,216.5 1029.5,220.1 1031.1,223.2 1032.6,225.5 1034.2,226.8 1035.7,226.9 1037.2,225.5 1038.8,222.5 1040.3,217.9 1041.9,211.8 1043.4,204.5 1044.9,196.5 1046.5,188.3 1048.0,179.8 1049.5,170.7 1051.1,161.1 1052.6,151.8 1054.2,143.4 1055.7,136.5"/>
<path class="g" d="M811.2,107.6 812.7,110.8 814.2,113.8 815.8,116.8 817.3,119.6 818.8,122.4 820.4,125.1 821.9,127.7 823.5,130.3 825.0,132.9 826.5,135.5 828.1,138.2 829.6,141.1 831.1,144.3 832.7,147.7 834.2,151.4 835.8,155.4 837.3,159.6 838.8,164.0 840.4,168.5 841.9,173.1 843.4,177.7 845.0,182.4 846.5,187.0 848.1,191.6 849.6,196.3 851.1,200.9 852.7,205.6 854.2,210.1 855.8,214.4 857.3,218.6 858.8,222.7 860.4,226.7 861.9,230.1 863.4,232.6 865.0,234.0 866.5,234.2 868.1,232.8 869.6,229.6 871.1,224.5 872.7,217.9 874.2,210.1 875.7,201.3 877.3,191.6 878.8,181.2 880.4,170.1 881.9,158.7 883.4,147.5 885.0,136.8 886.5,126.8 888.1,117.4 889.6,108.6 891.1,100.5 892.7,93.1 894.2,86.3 895.7,79.9 897.3,73.9 898.8,68.1 900.4,62.8 901.9,58.1 903.4,54.0 905.0,50.7 906.5,47.9 908.0,45.7 909.6,44.1 911.1,43.1 912.7,42.8 914.2,43.2 915.7,44.3 917.3,46.0 918.8,48.0 920.3,50.3 921.9,52.5 923.4,54.5 925.0,56.2 926.5,57.5 928.0,58.3 929.6,58.5 931.1,58.2 932.7,57.6 934.2,56.9 935.7,56.1 937.3,55.3 938.8,54.9 940.3,54.6 941.9,54.7 943.4,55.0 945.0,55.7 946.5,56.6 948.0,57.9 949.6,59.6 951.1,61.5 952.6,63.6 954.2,65.9 955.7,68.3 957.3,70.9 958.8,73.6 960.3,76.3 961.9,79.0 963.4,81.8 965.0,84.6 966.5,87.3 968.0,90.0 969.6,92.7 971.1,95.4 972.6,98.2 974.2,101.0 975.7,103.7 977.3,106.5 978.8,109.2 980.3,111.9 981.9,114.5 983.4,117.0 984.9,119.5 986.5,121.9 988.0,124.4 989.6,127.0 991.1,129.6 992.6,132.4 994.2,135.4 995.7,138.8 997.2,142.3 998.8,146.1 1000.3,150.1 1001.9,154.0 1003.4,158.0 1004.9,162.0 1006.5,165.9 1008.0,169.9 1009.6,174.0 1011.1,178.1 1012.6,182.3 1014.2,186.5 1015.7,190.7 1017.2,194.9 1018.8,199.0 1020.3,203.1 1021.9,207.2 1023.4,211.3 1024.9,215.4 1026.5,219.4 1028.0,223.3 1029.5,226.9 1031.1,229.9 1032.6,232.2 1034.2,233.4 1035.7,233.2 1037.2,231.6 1038.8,228.3 1040.3,223.4 1041.9,216.9 1043.4,209.3 1044.9,201.0 1046.5,192.6 1048.0,184.0 1049.5,174.8 1051.1,165.3 1052.6,156.1 1054.2,147.8 1055.7,141.3"/>
</g>
<path class="a" d="M811.0,31.0 L811.0,278.5 M810.5,278.0 L1082.0,278.0"/>
<path class="a" d="M907.3,278.0 L907.3,275.0 M1004.4,278.0 L1004.4,275.0 M811.0,40.3 L814.0,40.3 M811.0,119.4 L814.0,119.4 M811.0,198.5 L814.0,198.5"/>
<path class="b" d="M811.2,108.7 812.7,111.9 814.2,115.0 815.8,118.0 817.3,120.9 818.8,123.8 820.4,126.6 821.9,129.3 823.5,132.0 825.0,134.6 826.5,137.3 828.1,140.1 829.6,143.1 831.1,146.4 832.7,149.8 834.2,153.6 835.8,157.6 837.3,161.8 838.8,166.2 840.4,170.8 841.9,175.4 843.4,180.0 845.0,184.7 846.5,189.3 848.1,193.9 849.6,198.5 851.1,203.2 852.7,207.8 854.2,212.3 855.8,216.6 857.3,220.8 858.8,224.9 860.4,228.9 861.9,232.3 863.4,234.8 865.0,236.2 866.5,236.4 868.1,235.1 869.6,231.9 871.1,226.8 872.7,220.2 874.2,212.4 875.7,203.6 877.3,193.9 878.8,183.5 880.4,172.4 881.9,161.0 883.4,149.8 885.0,139.2 886.5,129.2 888.1,119.9 889.6,111.2 891.1,103.1 892.7,95.8 894.2,89.0 895.7,82.7 897.3,76.7 898.8,71.0 900.4,65.6 901.9,60.9 903.4,56.8 905.0,53.4 906.5,50.6 908.0,48.4 909.6,46.7 911.1,45.6 912.7,45.1 914.2,45.3 915.7,46.3 917.3,47.8 918.8,49.7 920.3,51.7 921.9,53.8 923.4,55.6 925.0,57.0 926.5,58.0 928.0,58.6 929.6,58.5 931.1,58.0 932.7,57.2 934.2,56.2 935.7,55.1 937.3,54.2 938.8,53.5 940.3,53.1 941.9,53.0 943.4,53.2 945.0,53.7 946.5,54.6 948.0,55.8 949.6,57.4 951.1,59.2 952.6,61.3 954.2,63.6 955.7,66.1 957.3,68.7 958.8,71.4 960.3,74.2 961.9,77.0 963.4,79.9 965.0,82.8 966.5,85.6 968.0,88.4 969.6,91.2 971.1,94.0 972.6,96.9 974.2,99.7 975.7,102.6 977.3,105.4 978.8,108.2 980.3,110.9 981.9,113.6 983.4,116.2 984.9,118.7 986.5,121.2 988.0,123.7 989.6,126.3 991.1,129.0 992.6,131.8 994.2,134.9 995.7,138.3 997.2,141.9 998.8,145.8 1000.3,149.8 1001.9,153.8 1003.4,157.9 1004.9,161.9 1006.5,166.0 1008.0,170.1 1009.6,174.3 1011.1,178.6 1012.6,183.0 1014.2,187.3 1015.7,191.7 1017.2,196.1 1018.8,200.4 1020.3,204.7 1021.9,209.0 1023.4,213.3 1024.9,217.7 1026.5,221.9 1028.0,226.0 1029.5,229.8 1031.1,233.0 1032.6,235.4 1034.2,236.8 1035.7,236.8 1037.2,235.3 1038.8,232.0 1040.3,227.0 1041.9,220.4 1043.4,212.5 1044.9,203.9 1046.5,195.0 1048.0,185.7 1049.5,175.8 1051.1,165.5 1052.6,155.3 1054.2,146.0 1055.7,138.3"/>
<text class="t" transform="translate(810.2,308.8) scale(1,1.05)" text-anchor="middle">0</text>
<text class="t" transform="translate(906.5,308.8) scale(1,1.05)" text-anchor="middle">0.5</text>
<text class="t" transform="translate(1003.6,308.8) scale(1,1.05)" text-anchor="middle">1</text>
<text class="t" transform="translate(802.2,49.7) scale(1,1.05)" text-anchor="end">1</text>
<text class="t" transform="translate(802.2,128.8) scale(1,1.05)" text-anchor="end">0</text>
<text class="t" transform="translate(802.2,207.9) scale(1,1.05)" text-anchor="end">-1</text>
<text class="t" transform="translate(802.2,287.0) scale(1,1.05)" text-anchor="end">-2</text>
<text class="l" transform="translate(946.5,341.0) scale(1,1.05)" text-anchor="middle">time/s</text>
<text class="l" transform="translate(773.2,154.5) rotate(-90) scale(1,1.05)" text-anchor="middle">amplitude/a.u.</text>
<path d="M814.6,13.6 L826.7,25.2 M826.7,13.6 L814.6,25.2" stroke="#262626" stroke-width="1.25" fill="none"/>
<text class="t" transform="translate(831.0,26.2) scale(1,1.05)">10<tspan class="s" dy="-11.9">-3</tspan></text>
</g>
<g id="p4">
<clipPath id="c3"><rect x="1178.8" y="28.8" width="271.20000000000005" height="249.2"/></clipPath>
<g clip-path="url(#c3)">
<path class="g" d="M1178.7,135.4 1180.2,137.3 1181.7,139.3 1183.3,141.6 1184.8,143.9 1186.4,146.4 1187.9,148.9 1189.5,151.5 1191.0,154.0 1192.6,156.5 1194.1,159.0 1195.6,161.5 1197.2,164.0 1198.7,166.6 1200.3,169.4 1201.8,172.2 1203.4,175.0 1204.9,177.9 1206.5,180.9 1208.0,183.9 1209.5,187.0 1211.1,190.1 1212.6,193.3 1214.2,196.5 1215.7,199.9 1217.3,203.3 1218.8,206.9 1220.4,210.5 1221.9,214.1 1223.4,217.7 1225.0,221.3 1226.5,224.7 1228.1,227.9 1229.6,230.7 1231.2,233.0 1232.7,234.5 1234.3,235.2 1235.8,235.2 1237.3,234.1 1238.9,231.5 1240.4,227.1 1242.0,221.2 1243.5,214.1 1245.1,205.8 1246.6,196.4 1248.1,186.5 1249.7,176.5 1251.2,166.7 1252.8,157.3 1254.3,148.7 1255.9,141.1 1257.4,134.5 1259.0,128.7 1260.5,123.5 1262.0,118.7 1263.6,114.0 1265.1,109.4 1266.7,105.1 1268.2,100.9 1269.8,97.0 1271.3,93.5 1272.9,90.5 1274.4,88.1 1275.9,86.2 1277.5,84.8 1279.0,83.8 1280.6,83.2 1282.1,83.1 1283.7,83.6 1285.2,84.9 1286.8,86.8 1288.3,89.1 1289.8,91.6 1291.4,94.0 1292.9,96.3 1294.5,98.4 1296.0,100.1 1297.6,101.3 1299.1,102.1 1300.7,102.4 1302.2,102.3 1303.7,101.9 1305.3,101.2 1306.8,100.3 1308.4,99.5 1309.9,99.0 1311.5,98.8 1313.0,98.9 1314.5,99.3 1316.1,100.2 1317.6,101.5 1319.2,103.3 1320.7,105.3 1322.3,107.4 1323.8,109.5 1325.4,111.7 1326.9,113.8 1328.4,116.0 1330.0,118.2 1331.5,120.3 1333.1,122.4 1334.6,124.5 1336.2,126.5 1337.7,128.4 1339.3,130.3 1340.8,132.3 1342.3,134.2 1343.9,136.1 1345.4,137.9 1347.0,139.6 1348.5,141.3 1350.1,142.8 1351.6,144.4 1353.2,146.0 1354.7,147.6 1356.2,149.3 1357.8,151.0 1359.3,152.9 1360.9,154.8 1362.4,156.8 1364.0,159.0 1365.5,161.3 1367.0,163.7 1368.6,166.3 1370.1,169.0 1371.7,171.8 1373.2,174.7 1374.8,177.7 1376.3,180.7 1377.9,183.8 1379.4,187.0 1380.9,190.2 1382.5,193.5 1384.0,196.9 1385.6,200.3 1387.1,203.8 1388.7,207.3 1390.2,210.9 1391.8,214.4 1393.3,217.9 1394.8,221.5 1396.4,225.0 1397.9,228.3 1399.5,231.3 1401.0,233.5 1402.6,234.9 1404.1,235.5 1405.7,235.5 1407.2,234.3 1408.7,231.2 1410.3,226.5 1411.8,220.4 1413.4,213.0 1414.9,204.0 1416.5,193.6 1418.0,182.0 1419.6,169.6 1421.1,156.9 1422.6,144.3 1424.2,132.4"/>
<path class="g" d="M1178.7,141.4 1180.2,143.0 1181.7,144.8 1183.3,146.8 1184.8,149.0 1186.4,151.2 1187.9,153.6 1189.5,156.0 1191.0,158.5 1192.6,160.9 1194.1,163.3 1195.6,165.7 1197.2,168.3 1198.7,171.0 1200.3,173.8 1201.8,176.7 1203.4,179.7 1204.9,182.8 1206.5,185.9 1208.0,189.2 1209.5,192.6 1211.1,196.0 1212.6,199.6 1214.2,203.3 1215.7,207.1 1217.3,211.0 1218.8,215.0 1220.4,219.0 1221.9,223.1 1223.4,227.1 1225.0,231.1 1226.5,234.8 1228.1,238.3 1229.6,241.4 1231.2,243.8 1232.7,245.5 1234.3,246.2 1235.8,246.1 1237.3,244.7 1238.9,241.5 1240.4,236.4 1242.0,229.7 1243.5,221.7 1245.1,212.5 1246.6,202.3 1248.1,191.7 1249.7,181.1 1251.2,171.0 1252.8,161.5 1254.3,152.9 1255.9,145.1 1257.4,138.3 1259.0,132.2 1260.5,126.5 1262.0,121.0 1263.6,115.4 1265.1,110.0 1266.7,104.5 1268.2,99.2 1269.8,94.2 1271.3,89.6 1272.9,85.6 1274.4,82.1 1275.9,79.3 1277.5,77.1 1279.0,75.5 1280.6,74.4 1282.1,74.1 1283.7,74.6 1285.2,75.9 1286.8,77.8 1288.3,80.2 1289.8,82.9 1291.4,85.4 1292.9,87.9 1294.5,90.1 1296.0,91.9 1297.6,93.3 1299.1,94.1 1300.7,94.5 1302.2,94.3 1303.7,93.8 1305.3,92.9 1306.8,91.8 1308.4,90.8 1309.9,90.1 1311.5,89.8 1313.0,89.9 1314.5,90.6 1316.1,91.8 1317.6,93.8 1319.2,96.2 1320.7,99.1 1322.3,102.1 1323.8,105.2 1325.4,108.4 1326.9,111.5 1328.4,114.6 1330.0,117.6 1331.5,120.4 1333.1,123.1 1334.6,125.6 1336.2,128.0 1337.7,130.4 1339.3,132.7 1340.8,135.0 1342.3,137.3 1343.9,139.7 1345.4,142.1 1347.0,144.4 1348.5,146.8 1350.1,149.2 1351.6,151.5 1353.2,153.7 1354.7,155.9 1356.2,158.2 1357.8,160.4 1359.3,162.7 1360.9,165.0 1362.4,167.4 1364.0,169.9 1365.5,172.6 1367.0,175.3 1368.6,178.1 1370.1,181.1 1371.7,184.1 1373.2,187.3 1374.8,190.4 1376.3,193.6 1377.9,196.8 1379.4,200.1 1380.9,203.4 1382.5,206.8 1384.0,210.3 1385.6,213.9 1387.1,217.4 1388.7,221.0 1390.2,224.6 1391.8,228.1 1393.3,231.5 1394.8,234.8 1396.4,238.1 1397.9,241.2 1399.5,243.7 1401.0,245.4 1402.6,246.3 1404.1,246.0 1405.7,244.5 1407.2,241.0 1408.7,235.5 1410.3,228.4 1411.8,220.4 1413.4,211.6 1414.9,202.4 1416.5,192.9 1418.0,183.3 1419.6,173.6 1421.1,164.3 1422.6,155.8 1424.2,148.4"/>
<path class="g" d="M1178.7,147.4 1180.2,149.3 1181.7,151.4 1183.3,153.7 1184.8,156.1 1186.4,158.6 1187.9,161.2 1189.5,163.8 1191.0,166.4 1192.6,169.0 1194.1,171.6 1195.6,174.2 1197.2,176.8 1198.7,179.6 1200.3,182.5 1201.8,185.4 1203.4,188.5 1204.9,191.6 1206.5,194.8 1208.0,198.1 1209.5,201.5 1211.1,204.9 1212.6,208.4 1214.2,212.1 1215.7,215.8 1217.3,219.6 1218.8,223.5 1220.4,227.5 1221.9,231.4 1223.4,235.3 1225.0,239.2 1226.5,242.8 1228.1,246.1 1229.6,249.0 1231.2,251.2 1232.7,252.7 1234.3,253.3 1235.8,252.8 1237.3,251.0 1238.9,247.3 1240.4,241.5 1242.0,234.0 1243.5,225.2 1245.1,215.1 1246.6,204.0 1248.1,192.5 1249.7,181.1 1251.2,170.1 1252.8,159.9 1254.3,150.6 1255.9,142.4 1257.4,135.2 1259.0,128.9 1260.5,123.2 1262.0,117.9 1263.6,112.8 1265.1,107.9 1266.7,103.2 1268.2,98.7 1269.8,94.6 1271.3,90.9 1272.9,87.8 1274.4,85.2 1275.9,83.2 1277.5,81.7 1279.0,80.7 1280.6,80.1 1282.1,80.1 1283.7,80.7 1285.2,82.1 1286.8,84.2 1288.3,86.7 1289.8,89.4 1291.4,92.1 1292.9,94.6 1294.5,96.9 1296.0,98.8 1297.6,100.2 1299.1,101.1 1300.7,101.5 1302.2,101.3 1303.7,100.8 1305.3,99.9 1306.8,98.9 1308.4,97.9 1309.9,97.1 1311.5,96.8 1313.0,96.9 1314.5,97.4 1316.1,98.3 1317.6,99.8 1319.2,101.8 1320.7,104.0 1322.3,106.4 1323.8,108.9 1325.4,111.5 1326.9,114.1 1328.4,116.7 1330.0,119.3 1331.5,122.0 1333.1,124.6 1334.6,127.2 1336.2,129.8 1337.7,132.3 1339.3,134.8 1340.8,137.3 1342.3,139.7 1343.9,142.2 1345.4,144.7 1347.0,147.1 1348.5,149.6 1350.1,152.1 1351.6,154.5 1353.2,156.9 1354.7,159.3 1356.2,161.6 1357.8,164.0 1359.3,166.4 1360.9,168.9 1362.4,171.5 1364.0,174.2 1365.5,177.0 1367.0,179.9 1368.6,182.9 1370.1,186.0 1371.7,189.3 1373.2,192.6 1374.8,195.9 1376.3,199.3 1377.9,202.7 1379.4,206.1 1380.9,209.6 1382.5,213.2 1384.0,216.8 1385.6,220.5 1387.1,224.2 1388.7,228.0 1390.2,231.6 1391.8,235.3 1393.3,238.8 1394.8,242.3 1396.4,245.7 1397.9,248.9 1399.5,251.5 1401.0,253.3 1402.6,254.2 1404.1,254.1 1405.7,252.5 1407.2,249.1 1408.7,243.6 1410.3,236.6 1411.8,228.5 1413.4,219.8 1414.9,210.6 1416.5,201.1 1418.0,191.4 1419.6,181.7 1421.1,172.4 1422.6,163.8 1424.2,156.4"/>
<path class="g" d="M1178.7,153.4 1180.2,155.4 1181.7,157.7 1183.3,160.1 1184.8,162.7 1186.4,165.3 1187.9,168.0 1189.5,170.8 1191.0,173.5 1192.6,176.2 1194.1,178.9 1195.6,181.7 1197.2,184.4 1198.7,187.3 1200.3,190.3 1201.8,193.4 1203.4,196.6 1204.9,199.8 1206.5,203.1 1208.0,206.5 1209.5,209.9 1211.1,213.4 1212.6,217.0 1214.2,220.7 1215.7,224.5 1217.3,228.4 1218.8,232.4 1220.4,236.4 1221.9,240.4 1223.4,244.3 1225.0,248.2 1226.5,251.8 1228.1,255.2 1229.6,258.0 1231.2,260.3 1232.7,261.7 1234.3,262.3 1235.8,261.8 1237.3,260.0 1238.9,256.2 1240.4,250.4 1242.0,242.9 1243.5,233.9 1245.1,223.8 1246.6,212.7 1248.1,201.2 1249.7,189.7 1251.2,178.7 1252.8,168.4 1254.3,159.1 1255.9,150.8 1257.4,143.6 1259.0,137.2 1260.5,131.5 1262.0,126.2 1263.6,121.0 1265.1,116.1 1266.7,111.4 1268.2,106.8 1269.8,102.7 1271.3,99.0 1272.9,95.8 1274.4,93.2 1275.9,91.2 1277.5,89.7 1279.0,88.7 1280.6,88.1 1282.1,88.1 1283.7,88.7 1285.2,90.1 1286.8,92.3 1288.3,94.9 1289.8,97.7 1291.4,100.5 1292.9,103.2 1294.5,105.6 1296.0,107.6 1297.6,109.1 1299.1,110.1 1300.7,110.5 1302.2,110.4 1303.7,110.0 1305.3,109.3 1306.8,108.4 1308.4,107.6 1309.9,107.0 1311.5,106.8 1313.0,106.9 1314.5,107.3 1316.1,108.1 1317.6,109.4 1319.2,111.2 1320.7,113.1 1322.3,115.2 1323.8,117.3 1325.4,119.4 1326.9,121.6 1328.4,123.8 1330.0,126.0 1331.5,128.2 1333.1,130.3 1334.6,132.5 1336.2,134.6 1337.7,136.7 1339.3,138.8 1340.8,141.0 1342.3,143.1 1343.9,145.4 1345.4,147.7 1347.0,150.0 1348.5,152.4 1350.1,154.8 1351.6,157.1 1353.2,159.4 1354.7,161.7 1356.2,164.0 1357.8,166.4 1359.3,168.8 1360.9,171.3 1362.4,173.9 1364.0,176.6 1365.5,179.4 1367.0,182.4 1368.6,185.5 1370.1,188.7 1371.7,192.1 1373.2,195.5 1374.8,199.0 1376.3,202.6 1377.9,206.2 1379.4,209.8 1380.9,213.6 1382.5,217.5 1384.0,221.4 1385.6,225.5 1387.1,229.5 1388.7,233.7 1390.2,237.8 1391.8,241.9 1393.3,245.9 1394.8,249.9 1396.4,253.8 1397.9,257.6 1399.5,260.8 1401.0,263.3 1402.6,264.9 1404.1,265.5 1405.7,265.0 1407.2,263.0 1408.7,259.2 1410.3,254.1 1411.8,248.2 1413.4,241.9 1414.9,235.2 1416.5,228.3 1418.0,221.3 1419.6,214.4 1421.1,207.9 1422.6,202.1 1424.2,197.4"/>
<path class="g" d="M1178.7,159.4 1180.2,161.3 1181.7,163.4 1183.3,165.8 1184.8,168.2 1186.4,170.8 1187.9,173.4 1189.5,176.1 1191.0,178.7 1192.6,181.3 1194.1,184.0 1195.6,186.6 1197.2,189.3 1198.7,192.1 1200.3,195.1 1201.8,198.1 1203.4,201.2 1204.9,204.4 1206.5,207.7 1208.0,211.0 1209.5,214.5 1211.1,218.0 1212.6,221.6 1214.2,225.2 1215.7,229.0 1217.3,232.9 1218.8,236.9 1220.4,240.9 1221.9,244.9 1223.4,248.9 1225.0,252.8 1226.5,256.5 1228.1,259.9 1229.6,262.8 1231.2,265.1 1232.7,266.6 1234.3,267.3 1235.8,266.9 1237.3,265.1 1238.9,261.5 1240.4,255.8 1242.0,248.4 1243.5,239.7 1245.1,229.7 1246.6,218.8 1248.1,207.4 1249.7,196.2 1251.2,185.4 1252.8,175.3 1254.3,166.2 1255.9,158.1 1257.4,151.0 1259.0,144.9 1260.5,139.4 1262.0,134.2 1263.6,129.3 1265.1,124.5 1266.7,119.9 1268.2,115.5 1269.8,111.5 1271.3,107.9 1272.9,104.8 1274.4,102.3 1275.9,100.3 1277.5,98.8 1279.0,97.8 1280.6,97.2 1282.1,97.1 1283.7,97.6 1285.2,98.7 1286.8,100.5 1288.3,102.6 1289.8,104.8 1291.4,106.9 1292.9,108.8 1294.5,110.5 1296.0,111.7 1297.6,112.5 1299.1,112.8 1300.7,112.6 1302.2,111.9 1303.7,110.8 1305.3,109.2 1306.8,107.5 1308.4,105.8 1309.9,104.6 1311.5,103.9 1313.0,103.9 1314.5,104.3 1316.1,105.3 1317.6,106.9 1319.2,108.9 1320.7,111.3 1322.3,113.8 1323.8,116.4 1325.4,119.1 1326.9,121.7 1328.4,124.4 1330.0,127.0 1331.5,129.6 1333.1,132.1 1334.6,134.5 1336.2,136.9 1337.7,139.1 1339.3,141.4 1340.8,143.7 1342.3,145.9 1343.9,148.2 1345.4,150.6 1347.0,152.9 1348.5,155.3 1350.1,157.7 1351.6,160.0 1353.2,162.3 1354.7,164.6 1356.2,166.9 1357.8,169.2 1359.3,171.6 1360.9,174.1 1362.4,176.7 1364.0,179.4 1365.5,182.3 1367.0,185.3 1368.6,188.4 1370.1,191.7 1371.7,195.1 1373.2,198.7 1374.8,202.4 1376.3,206.2 1377.9,210.0 1379.4,214.0 1380.9,218.1 1382.5,222.2 1384.0,226.5 1385.6,230.9 1387.1,235.2 1388.7,239.6 1390.2,243.9 1391.8,248.2 1393.3,252.3 1394.8,256.3 1396.4,260.2 1397.9,263.8 1399.5,266.9 1401.0,269.0 1402.6,270.1 1404.1,270.1 1405.7,268.7 1407.2,265.2 1408.7,259.6 1410.3,252.4 1411.8,244.1 1413.4,235.1 1414.9,225.5 1416.5,215.6 1418.0,205.5 1419.6,195.3 1421.1,185.5 1422.6,176.4 1424.2,168.4"/>
<path class="g" d="M1178.7,155.4 1180.2,157.7 1181.7,160.1 1183.3,162.8 1184.8,165.6 1186.4,168.5 1187.9,171.4 1189.5,174.4 1191.0,177.3 1192.6,180.3 1194.1,183.2 1195.6,186.1 1197.2,189.1 1198.7,192.2 1200.3,195.4 1201.8,198.7 1203.4,202.0 1204.9,205.5 1206.5,209.0 1208.0,212.5 1209.5,216.2 1211.1,219.9 1212.6,223.7 1214.2,227.6 1215.7,231.5 1217.3,235.6 1218.8,239.7 1220.4,243.9 1221.9,248.1 1223.4,252.2 1225.0,256.2 1226.5,260.0 1228.1,263.5 1229.6,266.6 1231.2,269.0 1232.7,270.6 1234.3,271.3 1235.8,270.9 1237.3,269.2 1238.9,265.6 1240.4,259.9 1242.0,252.6 1243.5,243.8 1245.1,233.8 1246.6,222.9 1248.1,211.4 1249.7,200.1 1251.2,189.2 1252.8,179.1 1254.3,169.9 1255.9,161.7 1257.4,154.6 1259.0,148.4 1260.5,142.8 1262.0,137.5 1263.6,132.4 1265.1,127.5 1266.7,122.8 1268.2,118.3 1269.8,114.2 1271.3,110.5 1272.9,107.3 1274.4,104.7 1275.9,102.6 1277.5,101.1 1279.0,100.0 1280.6,99.3 1282.1,99.1 1283.7,99.5 1285.2,100.5 1286.8,102.1 1288.3,104.1 1289.8,106.1 1291.4,108.1 1292.9,109.9 1294.5,111.5 1296.0,112.8 1297.6,113.8 1299.1,114.3 1300.7,114.5 1302.2,114.4 1303.7,113.9 1305.3,113.2 1306.8,112.3 1308.4,111.5 1309.9,111.0 1311.5,110.8 1313.0,110.9 1314.5,111.3 1316.1,112.0 1317.6,113.2 1319.2,114.8 1320.7,116.7 1322.3,118.6 1323.8,120.6 1325.4,122.5 1326.9,124.6 1328.4,126.7 1330.0,128.8 1331.5,131.0 1333.1,133.2 1334.6,135.4 1336.2,137.6 1337.7,139.7 1339.3,141.9 1340.8,144.0 1342.3,146.3 1343.9,148.5 1345.4,150.8 1347.0,153.2 1348.5,155.5 1350.1,157.9 1351.6,160.3 1353.2,162.6 1354.7,165.0 1356.2,167.3 1357.8,169.7 1359.3,172.2 1360.9,174.8 1362.4,177.4 1364.0,180.2 1365.5,183.1 1367.0,186.2 1368.6,189.3 1370.1,192.7 1371.7,196.1 1373.2,199.8 1374.8,203.5 1376.3,207.4 1377.9,211.4 1379.4,215.4 1380.9,219.6 1382.5,223.9 1384.0,228.3 1385.6,232.7 1387.1,237.2 1388.7,241.7 1390.2,246.2 1391.8,250.5 1393.3,254.8 1394.8,258.9 1396.4,262.9 1397.9,266.6 1399.5,269.7 1401.0,271.9 1402.6,273.1 1404.1,273.2 1405.7,271.8 1407.2,268.5 1408.7,263.1 1410.3,256.2 1411.8,248.2 1413.4,239.5 1414.9,230.3 1416.5,220.7 1418.0,210.9 1419.6,201.2 1421.1,191.7 1422.6,183.0 1424.2,175.4"/>
<path class="g" d="M1178.7,150.4 1180.2,153.4 1181.7,156.6 1183.3,159.9 1184.8,163.3 1186.4,166.8 1187.9,170.3 1189.5,173.8 1191.0,177.2 1192.6,180.6 1194.1,183.9 1195.6,187.2 1197.2,190.6 1198.7,194.0 1200.3,197.5 1201.8,201.0 1203.4,204.6 1204.9,208.2 1206.5,211.9 1208.0,215.6 1209.5,219.4 1211.1,223.2 1212.6,227.0 1214.2,231.0 1215.7,235.0 1217.3,239.0 1218.8,243.1 1220.4,247.2 1221.9,251.3 1223.4,255.4 1225.0,259.3 1226.5,263.0 1228.1,266.3 1229.6,269.2 1231.2,271.4 1232.7,272.8 1234.3,273.3 1235.8,272.7 1237.3,270.5 1238.9,266.3 1240.4,259.8 1242.0,251.6 1243.5,241.8 1245.1,230.8 1246.6,218.8 1248.1,206.3 1249.7,193.9 1251.2,182.0 1252.8,170.9 1254.3,160.8 1255.9,151.8 1257.4,144.1 1259.0,137.4 1260.5,131.5 1262.0,126.0 1263.6,120.7 1265.1,115.6 1266.7,110.8 1268.2,106.2 1269.8,101.9 1271.3,98.2 1272.9,95.0 1274.4,92.3 1275.9,90.3 1277.5,88.8 1279.0,87.7 1280.6,87.1 1282.1,87.1 1283.7,87.7 1285.2,89.1 1286.8,91.2 1288.3,93.7 1289.8,96.4 1291.4,99.1 1292.9,101.7 1294.5,103.9 1296.0,105.8 1297.6,107.3 1299.1,108.1 1300.7,108.5 1302.2,108.3 1303.7,107.7 1305.3,106.7 1306.8,105.4 1308.4,104.2 1309.9,103.3 1311.5,102.9 1313.0,102.9 1314.5,103.2 1316.1,104.1 1317.6,105.4 1319.2,107.1 1320.7,109.1 1322.3,111.3 1323.8,113.5 1325.4,115.7 1326.9,118.0 1328.4,120.3 1330.0,122.6 1331.5,125.0 1333.1,127.3 1334.6,129.6 1336.2,131.9 1337.7,134.2 1339.3,136.4 1340.8,138.7 1342.3,141.0 1343.9,143.4 1345.4,145.8 1347.0,148.3 1348.5,150.8 1350.1,153.3 1351.6,155.8 1353.2,158.3 1354.7,160.7 1356.2,163.2 1357.8,165.7 1359.3,168.3 1360.9,171.0 1362.4,173.8 1364.0,176.7 1365.5,179.7 1367.0,182.9 1368.6,186.2 1370.1,189.7 1371.7,193.3 1373.2,197.0 1374.8,200.9 1376.3,204.9 1377.9,209.0 1379.4,213.2 1380.9,217.5 1382.5,221.9 1384.0,226.3 1385.6,230.9 1387.1,235.5 1388.7,240.0 1390.2,244.5 1391.8,248.9 1393.3,253.2 1394.8,257.3 1396.4,261.3 1397.9,264.9 1399.5,268.0 1401.0,270.1 1402.6,271.2 1404.1,271.1 1405.7,269.4 1407.2,265.6 1408.7,259.6 1410.3,251.8 1411.8,242.9 1413.4,233.2 1414.9,222.9 1416.5,212.2 1418.0,201.2 1419.6,190.1 1421.1,179.4 1422.6,169.3 1424.2,160.4"/>
<path class="g" d="M1178.7,146.1 1180.2,148.3 1181.7,150.7 1183.3,153.3 1184.8,156.0 1186.4,158.8 1187.9,161.6 1189.5,164.5 1191.0,167.3 1192.6,170.1 1194.1,172.9 1195.6,175.7 1197.2,178.5 1198.7,181.4 1200.3,184.4 1201.8,187.5 1203.4,190.7 1204.9,193.9 1206.5,197.2 1208.0,200.5 1209.5,203.9 1211.1,207.4 1212.6,211.0 1214.2,214.6 1215.7,218.3 1217.3,222.1 1218.8,226.0 1220.4,229.9 1221.9,233.9 1223.4,237.8 1225.0,241.5 1226.5,245.1 1228.1,248.4 1229.6,251.3 1231.2,253.4 1232.7,254.8 1234.3,255.3 1235.8,254.8 1237.3,252.9 1238.9,249.0 1240.4,243.1 1242.0,235.4 1243.5,226.4 1245.1,216.1 1246.6,204.8 1248.1,193.1 1249.7,181.5 1251.2,170.4 1252.8,160.1 1254.3,150.7 1255.9,142.5 1257.4,135.3 1259.0,129.0 1260.5,123.4 1262.0,118.2 1263.6,113.1 1265.1,108.3 1266.7,103.7 1268.2,99.3 1269.8,95.2 1271.3,91.6 1272.9,88.6 1274.4,86.1 1275.9,84.2 1277.5,82.8 1279.0,81.9 1280.6,81.4 1282.1,81.4 1283.7,82.1 1285.2,83.5 1286.8,85.6 1288.3,88.1 1289.8,90.7 1291.4,93.2 1292.9,95.6 1294.5,97.8 1296.0,99.5 1297.6,100.8 1299.1,101.6 1300.7,101.9 1302.2,101.8 1303.7,101.3 1305.3,100.6 1306.8,99.6 1308.4,98.7 1309.9,98.1 1311.5,97.8 1313.0,97.9 1314.5,98.3 1316.1,99.1 1317.6,100.5 1319.2,102.3 1320.7,104.3 1322.3,106.5 1323.8,108.7 1325.4,111.0 1326.9,113.3 1328.4,115.6 1330.0,118.0 1331.5,120.3 1333.1,122.6 1334.6,124.9 1336.2,127.1 1337.7,129.4 1339.3,131.6 1340.8,133.8 1342.3,136.0 1343.9,138.3 1345.4,140.6 1347.0,143.0 1348.5,145.4 1350.1,147.7 1351.6,150.1 1353.2,152.4 1354.7,154.7 1356.2,157.0 1357.8,159.4 1359.3,161.8 1360.9,164.4 1362.4,167.0 1364.0,169.7 1365.5,172.6 1367.0,175.6 1368.6,178.8 1370.1,182.1 1371.7,185.5 1373.2,189.0 1374.8,192.6 1376.3,196.2 1377.9,199.9 1379.4,203.6 1380.9,207.5 1382.5,211.4 1384.0,215.4 1385.6,219.5 1387.1,223.7 1388.7,227.8 1390.2,232.0 1391.8,236.1 1393.3,240.1 1394.8,244.1 1396.4,247.9 1397.9,251.6 1399.5,254.7 1401.0,257.0 1402.6,258.3 1404.1,258.5 1405.7,257.4 1407.2,254.3 1408.7,249.1 1410.3,242.4 1411.8,234.7 1413.4,226.4 1414.9,217.7 1416.5,208.7 1418.0,199.5 1419.6,190.4 1421.1,181.8 1422.6,173.9 1424.2,167.3"/>
<path class="g" d="M1178.7,147.1 1180.2,149.1 1181.7,151.3 1183.3,153.6 1184.8,156.2 1186.4,158.9 1187.9,161.6 1189.5,164.4 1191.0,167.3 1192.6,170.1 1194.1,172.9 1195.6,175.7 1197.2,178.7 1198.7,181.7 1200.3,184.9 1201.8,188.2 1203.4,191.5 1204.9,195.0 1206.5,198.5 1208.0,202.0 1209.5,205.7 1211.1,209.4 1212.6,213.1 1214.2,217.0 1215.7,220.9 1217.3,224.9 1218.8,228.9 1220.4,232.9 1221.9,237.0 1223.4,240.9 1225.0,244.8 1226.5,248.4 1228.1,251.6 1229.6,254.5 1231.2,256.6 1232.7,258.0 1234.3,258.5 1235.8,257.9 1237.3,256.0 1238.9,252.2 1240.4,246.5 1242.0,239.0 1243.5,230.2 1245.1,220.2 1246.6,209.3 1248.1,197.9 1249.7,186.6 1251.2,175.8 1252.8,165.7 1254.3,156.6 1255.9,148.5 1257.4,141.4 1259.0,135.3 1260.5,129.7 1262.0,124.6 1263.6,119.6 1265.1,114.9 1266.7,110.4 1268.2,106.1 1269.8,102.1 1271.3,98.6 1272.9,95.7 1274.4,93.3 1275.9,91.5 1277.5,90.1 1279.0,89.3 1280.6,88.8 1282.1,88.8 1283.7,89.5 1285.2,90.8 1286.8,92.8 1288.3,95.1 1289.8,97.6 1291.4,100.1 1292.9,102.3 1294.5,104.3 1296.0,106.0 1297.6,107.1 1299.1,107.8 1300.7,108.1 1302.2,107.9 1303.7,107.3 1305.3,106.5 1306.8,105.5 1308.4,104.5 1309.9,103.8 1311.5,103.5 1313.0,103.4 1314.5,103.7 1316.1,104.5 1317.6,105.7 1319.2,107.3 1320.7,109.3 1322.3,111.3 1323.8,113.5 1325.4,115.7 1326.9,117.9 1328.4,120.2 1330.0,122.5 1331.5,124.9 1333.1,127.2 1334.6,129.6 1336.2,131.9 1337.7,134.3 1339.3,136.6 1340.8,138.9 1342.3,141.3 1343.9,143.7 1345.4,146.2 1347.0,148.7 1348.5,151.3 1350.1,153.8 1351.6,156.3 1353.2,158.7 1354.7,161.1 1356.2,163.5 1357.8,165.9 1359.3,168.3 1360.9,170.8 1362.4,173.4 1364.0,176.1 1365.5,178.8 1367.0,181.6 1368.6,184.6 1370.1,187.6 1371.7,190.7 1373.2,193.9 1374.8,197.1 1376.3,200.3 1377.9,203.6 1379.4,206.9 1380.9,210.2 1382.5,213.6 1384.0,217.2 1385.6,220.7 1387.1,224.3 1388.7,228.0 1390.2,231.6 1391.8,235.2 1393.3,238.7 1394.8,242.2 1396.4,245.6 1397.9,248.8 1399.5,251.6 1401.0,253.5 1402.6,254.6 1404.1,254.7 1405.7,253.5 1407.2,250.5 1408.7,245.5 1410.3,239.0 1411.8,231.7 1413.4,223.7 1414.9,215.4 1416.5,206.8 1418.0,198.1 1419.6,189.5 1421.1,181.3 1422.6,173.9 1424.2,167.6"/>
<path class="g" d="M1178.7,147.9 1180.2,149.6 1181.7,151.5 1183.3,153.5 1184.8,155.7 1186.4,157.9 1187.9,160.3 1189.5,162.6 1191.0,165.0 1192.6,167.3 1194.1,169.6 1195.6,172.0 1197.2,174.4 1198.7,176.9 1200.3,179.6 1201.8,182.4 1203.4,185.2 1204.9,188.2 1206.5,191.2 1208.0,194.3 1209.5,197.5 1211.1,200.8 1212.6,204.2 1214.2,207.7 1215.7,211.3 1217.3,215.0 1218.8,218.8 1220.4,222.6 1221.9,226.5 1223.4,230.3 1225.0,234.0 1226.5,237.6 1228.1,240.8 1229.6,243.7 1231.2,245.9 1232.7,247.4 1234.3,248.1 1235.8,247.8 1237.3,246.1 1238.9,242.7 1240.4,237.3 1242.0,230.4 1243.5,222.1 1245.1,212.6 1246.6,202.3 1248.1,191.5 1249.7,180.8 1251.2,170.6 1252.8,161.1 1254.3,152.4 1255.9,144.8 1257.4,138.2 1259.0,132.4 1260.5,127.3 1262.0,122.4 1263.6,117.8 1265.1,113.4 1266.7,109.2 1268.2,105.2 1269.8,101.5 1271.3,98.3 1272.9,95.6 1274.4,93.4 1275.9,91.8 1277.5,90.6 1279.0,89.9 1280.6,89.6 1282.1,89.7 1283.7,90.5 1285.2,92.0 1286.8,94.0 1288.3,96.4 1289.8,99.0 1291.4,101.5 1292.9,103.8 1294.5,105.9 1296.0,107.6 1297.6,108.9 1299.1,109.6 1300.7,109.9 1302.2,109.8 1303.7,109.3 1305.3,108.6 1306.8,107.7 1308.4,106.7 1309.9,106.1 1311.5,105.7 1313.0,105.6 1314.5,105.8 1316.1,106.4 1317.6,107.5 1319.2,109.0 1320.7,110.7 1322.3,112.5 1323.8,114.4 1325.4,116.3 1326.9,118.3 1328.4,120.3 1330.0,122.3 1331.5,124.3 1333.1,126.4 1334.6,128.4 1336.2,130.4 1337.7,132.5 1339.3,134.5 1340.8,136.6 1342.3,138.7 1343.9,140.9 1345.4,143.1 1347.0,145.4 1348.5,147.8 1350.1,150.1 1351.6,152.5 1353.2,154.8 1354.7,157.2 1356.2,159.5 1357.8,162.0 1359.3,164.4 1360.9,167.0 1362.4,169.7 1364.0,172.4 1365.5,175.3 1367.0,178.3 1368.6,181.4 1370.1,184.6 1371.7,187.9 1373.2,191.2 1374.8,194.6 1376.3,198.0 1377.9,201.5 1379.4,205.0 1380.9,208.5 1382.5,212.1 1384.0,215.8 1385.6,219.5 1387.1,223.2 1388.7,226.9 1390.2,230.6 1391.8,234.2 1393.3,237.7 1394.8,241.2 1396.4,244.5 1397.9,247.6 1399.5,250.3 1401.0,252.2 1402.6,253.2 1404.1,253.2 1405.7,251.9 1407.2,248.8 1408.7,243.8 1410.3,237.3 1411.8,229.8 1413.4,221.8 1414.9,213.3 1416.5,204.5 1418.0,195.6 1419.6,186.7 1421.1,178.1 1422.6,170.3 1424.2,163.5"/>
<path class="g" d="M1178.7,147.2 1180.2,149.3 1181.7,151.6 1183.3,154.1 1184.8,156.7 1186.4,159.5 1187.9,162.3 1189.5,165.2 1191.0,168.0 1192.6,170.8 1194.1,173.6 1195.6,176.5 1197.2,179.4 1198.7,182.4 1200.3,185.6 1201.8,188.8 1203.4,192.1 1204.9,195.6 1206.5,199.1 1208.0,202.6 1209.5,206.3 1211.1,210.0 1212.6,213.8 1214.2,217.7 1215.7,221.7 1217.3,225.8 1218.8,230.0 1220.4,234.2 1221.9,238.4 1223.4,242.6 1225.0,246.6 1226.5,250.4 1228.1,253.9 1229.6,257.0 1231.2,259.4 1232.7,260.9 1234.3,261.5 1235.8,261.1 1237.3,259.2 1238.9,255.4 1240.4,249.4 1242.0,241.7 1243.5,232.6 1245.1,222.2 1246.6,210.8 1248.1,198.9 1249.7,187.1 1251.2,175.8 1252.8,165.3 1254.3,155.7 1255.9,147.2 1257.4,139.9 1259.0,133.4 1260.5,127.6 1262.0,122.1 1263.6,116.9 1265.1,111.9 1266.7,107.1 1268.2,102.5 1269.8,98.3 1271.3,94.5 1272.9,91.3 1274.4,88.7 1275.9,86.7 1277.5,85.2 1279.0,84.2 1280.6,83.6 1282.1,83.5 1283.7,84.1 1285.2,85.5 1286.8,87.5 1288.3,89.9 1289.8,92.5 1291.4,95.0 1292.9,97.4 1294.5,99.5 1296.0,101.2 1297.6,102.4 1299.1,103.2 1300.7,103.4 1302.2,103.3 1303.7,102.7 1305.3,101.9 1306.8,100.9 1308.4,99.9 1309.9,99.2 1311.5,98.9 1313.0,98.9 1314.5,99.3 1316.1,100.1 1317.6,101.4 1319.2,103.1 1320.7,105.2 1322.3,107.3 1323.8,109.6 1325.4,111.8 1326.9,114.1 1328.4,116.5 1330.0,118.9 1331.5,121.3 1333.1,123.7 1334.6,126.1 1336.2,128.4 1337.7,130.8 1339.3,133.1 1340.8,135.5 1342.3,137.9 1343.9,140.4 1345.4,142.9 1347.0,145.4 1348.5,148.0 1350.1,150.6 1351.6,153.2 1353.2,155.7 1354.7,158.2 1356.2,160.7 1357.8,163.3 1359.3,165.9 1360.9,168.6 1362.4,171.4 1364.0,174.3 1365.5,177.3 1367.0,180.5 1368.6,183.7 1370.1,187.1 1371.7,190.6 1373.2,194.1 1374.8,197.7 1376.3,201.4 1377.9,205.0 1379.4,208.7 1380.9,212.5 1382.5,216.3 1384.0,220.2 1385.6,224.2 1387.1,228.2 1388.7,232.2 1390.2,236.2 1391.8,240.2 1393.3,244.0 1394.8,247.8 1396.4,251.5 1397.9,254.9 1399.5,257.8 1401.0,259.9 1402.6,261.1 1404.1,261.1 1405.7,259.8 1407.2,256.5 1408.7,251.1 1410.3,244.0 1411.8,235.9 1413.4,227.0 1414.9,217.6 1416.5,207.8 1418.0,197.8 1419.6,187.8 1421.1,178.1 1422.6,169.1 1424.2,161.2"/>
<path class="g" d="M1178.7,140.1 1180.2,142.4 1181.7,144.8 1183.3,147.5 1184.8,150.3 1186.4,153.3 1187.9,156.3 1189.5,159.4 1191.0,162.5 1192.6,165.5 1194.1,168.5 1195.6,171.6 1197.2,174.7 1198.7,178.0 1200.3,181.3 1201.8,184.8 1203.4,188.4 1204.9,192.0 1206.5,195.7 1208.0,199.5 1209.5,203.3 1211.1,207.3 1212.6,211.3 1214.2,215.4 1215.7,219.6 1217.3,223.9 1218.8,228.2 1220.4,232.6 1221.9,237.0 1223.4,241.3 1225.0,245.5 1226.5,249.5 1228.1,253.1 1229.6,256.3 1231.2,258.8 1232.7,260.4 1234.3,261.1 1235.8,260.7 1237.3,258.8 1238.9,255.0 1240.4,249.0 1242.0,241.2 1243.5,232.0 1245.1,221.5 1246.6,210.0 1248.1,197.9 1249.7,185.9 1251.2,174.5 1252.8,163.7 1254.3,154.0 1255.9,145.2 1257.4,137.6 1259.0,130.9 1260.5,124.9 1262.0,119.2 1263.6,113.7 1265.1,108.4 1266.7,103.3 1268.2,98.4 1269.8,93.9 1271.3,89.9 1272.9,86.5 1274.4,83.6 1275.9,81.3 1277.5,79.6 1279.0,78.4 1280.6,77.6 1282.1,77.4 1283.7,77.9 1285.2,79.1 1286.8,81.0 1288.3,83.4 1289.8,85.9 1291.4,88.4 1292.9,90.8 1294.5,93.0 1296.0,94.7 1297.6,96.1 1299.1,96.9 1300.7,97.3 1302.2,97.3 1303.7,96.9 1305.3,96.3 1306.8,95.5 1308.4,94.8 1309.9,94.3 1311.5,94.2 1313.0,94.5 1314.5,95.1 1316.1,96.2 1317.6,97.7 1319.2,99.8 1320.7,102.1 1322.3,104.5 1323.8,107.0 1325.4,109.6 1326.9,112.1 1328.4,114.7 1330.0,117.3 1331.5,119.9 1333.1,122.5 1334.6,125.1 1336.2,127.6 1337.7,130.0 1339.3,132.5 1340.8,135.0 1342.3,137.4 1343.9,139.9 1345.4,142.5 1347.0,145.1 1348.5,147.6 1350.1,150.2 1351.6,152.7 1353.2,155.2 1354.7,157.7 1356.2,160.1 1357.8,162.6 1359.3,165.1 1360.9,167.7 1362.4,170.4 1364.0,173.2 1365.5,176.1 1367.0,179.0 1368.6,182.2 1370.1,185.4 1371.7,188.7 1373.2,192.1 1374.8,195.5 1376.3,198.9 1377.9,202.4 1379.4,205.9 1380.9,209.5 1382.5,213.2 1384.0,216.9 1385.6,220.7 1387.1,224.5 1388.7,228.3 1390.2,232.1 1391.8,235.8 1393.3,239.4 1394.8,243.0 1396.4,246.5 1397.9,249.7 1399.5,252.5 1401.0,254.4 1402.6,255.3 1404.1,255.2 1405.7,253.6 1407.2,250.2 1408.7,244.5 1410.3,237.1 1411.8,228.7 1413.4,219.4 1414.9,209.6 1416.5,199.4 1418.0,188.9 1419.6,178.3 1421.1,168.0 1422.6,158.5 1424.2,150.0"/>
</g>
<path class="a" d="M1178.8,30.8 L1178.8,278.5 M1178.3,278.0 L1450.0,278.0"/>
<path class="a" d="M1275.3,278.0 L1275.3,275.0 M1372.2,278.0 L1372.2,275.0 M1178.8,30.8 L1181.8,30.8 M1178.8,92.3 L1181.8,92.3 M1178.8,154.2 L1181.8,154.2 M1178.8,216.1 L1181.8,216.1"/>
<path class="b" d="M1178.7,147.4 1180.2,149.5 1181.7,151.8 1183.3,154.3 1184.8,156.9 1186.4,159.6 1187.9,162.4 1189.5,165.2 1191.0,168.0 1192.6,170.7 1194.1,173.5 1195.6,176.3 1197.2,179.1 1198.7,182.0 1200.3,185.1 1201.8,188.2 1203.4,191.4 1204.9,194.7 1206.5,198.1 1208.0,201.5 1209.5,205.0 1211.1,208.6 1212.6,212.2 1214.2,216.0 1215.7,219.8 1217.3,223.8 1218.8,227.8 1220.4,231.8 1221.9,235.9 1223.4,239.9 1225.0,243.8 1226.5,247.5 1228.1,250.9 1229.6,253.9 1231.2,256.2 1232.7,257.7 1234.3,258.3 1235.8,257.9 1237.3,256.1 1238.9,252.4 1240.4,246.6 1242.0,239.2 1243.5,230.3 1245.1,220.3 1246.6,209.2 1248.1,197.7 1249.7,186.3 1251.2,175.4 1252.8,165.2 1254.3,155.9 1255.9,147.7 1257.4,140.5 1259.0,134.2 1260.5,128.6 1262.0,123.2 1263.6,118.1 1265.1,113.2 1266.7,108.5 1268.2,104.0 1269.8,99.9 1271.3,96.2 1272.9,93.0 1274.4,90.4 1275.9,88.4 1277.5,86.9 1279.0,85.8 1280.6,85.2 1282.1,85.1 1283.7,85.6 1285.2,86.9 1286.8,88.8 1288.3,91.1 1289.8,93.6 1291.4,96.1 1292.9,98.4 1294.5,100.4 1296.0,102.1 1297.6,103.4 1299.1,104.2 1300.7,104.5 1302.2,104.4 1303.7,103.9 1305.3,103.2 1306.8,102.4 1308.4,101.5 1309.9,101.0 1311.5,100.8 1313.0,100.9 1314.5,101.3 1316.1,102.2 1317.6,103.6 1319.2,105.5 1320.7,107.5 1322.3,109.7 1323.8,112.0 1325.4,114.3 1326.9,116.6 1328.4,119.0 1330.0,121.4 1331.5,123.8 1333.1,126.1 1334.6,128.5 1336.2,130.8 1337.7,133.1 1339.3,135.3 1340.8,137.6 1342.3,139.9 1343.9,142.3 1345.4,144.7 1347.0,147.1 1348.5,149.6 1350.1,152.0 1351.6,154.4 1353.2,156.8 1354.7,159.2 1356.2,161.6 1357.8,164.0 1359.3,166.5 1360.9,169.0 1362.4,171.7 1364.0,174.4 1365.5,177.3 1367.0,180.3 1368.6,183.4 1370.1,186.7 1371.7,190.0 1373.2,193.4 1374.8,196.9 1376.3,200.4 1377.9,203.9 1379.4,207.5 1380.9,211.2 1382.5,214.9 1384.0,218.7 1385.6,222.5 1387.1,226.4 1388.7,230.3 1390.2,234.2 1391.8,238.0 1393.3,241.7 1394.8,245.4 1396.4,248.9 1397.9,252.2 1399.5,255.1 1401.0,257.1 1402.6,258.1 1404.1,258.1 1405.7,256.8 1407.2,253.6 1408.7,248.3 1410.3,241.4 1411.8,233.6 1413.4,225.1 1414.9,216.2 1416.5,206.9 1418.0,197.4 1419.6,188.0 1421.1,178.9 1422.6,170.6 1424.2,163.4"/>
<text class="t" transform="translate(1178.0,308.8) scale(1,1.05)" text-anchor="middle">0</text>
<text class="t" transform="translate(1274.5,308.8) scale(1,1.05)" text-anchor="middle">0.5</text>
<text class="t" transform="translate(1371.4,308.8) scale(1,1.05)" text-anchor="middle">1</text>
<text class="t" transform="translate(1170.0,40.2) scale(1,1.05)" text-anchor="end">2</text>
<text class="t" transform="translate(1170.0,101.7) scale(1,1.05)" text-anchor="end">1</text>
<text class="t" transform="translate(1170.0,163.6) scale(1,1.05)" text-anchor="end">0</text>
<text class="t" transform="translate(1170.0,225.5) scale(1,1.05)" text-anchor="end">-1</text>
<text class="t" transform="translate(1170.0,287.2) scale(1,1.05)" text-anchor="end">-2</text>
<text class="l" transform="translate(1314.4,341.0) scale(1,1.05)" text-anchor="middle">time/s</text>
<text class="l" transform="translate(1141.0,154.4) rotate(-90) scale(1,1.05)" text-anchor="middle">amplitude/a.u.</text>
<path d="M1182.4,13.4 L1194.5,25.0 M1194.5,13.4 L1182.4,25.0" stroke="#262626" stroke-width="1.25" fill="none"/>
<text class="t" transform="translate(1198.8,26.0) scale(1,1.05)">10<tspan class="s" dy="-11.9">-3</tspan></text>
</g>
<g id="p5">
<clipPath id="c4"><rect x="76.0" y="378.8" width="261.2" height="250.7"/></clipPath>
<g clip-path="url(#c4)">
<path class="g" d="M75.9,564.1 77.0,565.9 78.0,567.8 79.0,569.8 80.1,571.9 81.1,574.0 82.1,576.1 83.2,578.2 84.2,580.3 85.2,582.4 86.2,584.3 87.3,586.2 88.3,587.9 89.3,589.5 90.4,590.9 91.4,592.2 92.4,593.5 93.5,594.8 94.5,596.1 95.5,597.5 96.6,599.0 97.6,600.7 98.6,602.5 99.7,604.6 100.7,606.9 101.7,609.5 102.7,612.4 103.8,615.5 104.8,618.7 105.8,621.8 106.9,624.6 107.9,626.8 108.9,628.5 110.0,629.7 111.0,630.2 112.0,629.4 113.1,627.1 114.1,622.3 115.1,615.7 116.1,608.3 117.2,599.1 118.2,588.9 119.2,579.2 120.3,570.6 121.3,561.9 122.3,553.0 123.4,544.0 124.4,534.7 125.4,525.3 126.5,515.7 127.5,505.8 128.5,495.8 129.6,485.6 130.6,474.7 131.6,463.5 132.6,452.8 133.7,442.9 134.7,434.3 135.7,426.9 136.8,421.0 137.8,416.5 138.8,413.2 139.9,410.8 140.9,409.0 141.9,407.9 143.0,407.2 144.0,406.9 145.0,407.1 146.1,407.8 147.1,409.0 148.1,410.7 149.1,412.8 150.2,415.0 151.2,417.4 152.2,420.1 153.3,423.1 154.3,426.5 155.3,430.2 156.4,434.2 157.4,438.4 158.4,442.7 159.5,447.1 160.5,451.6 161.5,456.3 162.5,461.0 163.6,465.6 164.6,470.0 165.6,474.0 166.7,477.7 167.7,481.1 168.7,484.3 169.8,487.4 170.8,490.5 171.8,493.5 172.9,496.4 173.9,499.0 174.9,501.3 176.0,503.3 177.0,505.1 178.0,506.6 179.0,508.0 180.1,509.3 181.1,510.5 182.1,511.8 183.2,513.1 184.2,514.6 185.2,516.2 186.3,518.0 187.3,520.0 188.3,522.1 189.4,524.3 190.4,526.6 191.4,529.0 192.5,531.4 193.5,533.9 194.5,536.3 195.5,538.7 196.6,541.1 197.6,543.4 198.6,545.7 199.7,548.0 200.7,550.2 201.7,552.3 202.8,554.3 203.8,556.1 204.8,557.7 205.9,559.3 206.9,560.8 207.9,562.3 208.9,563.9 210.0,565.8 211.0,567.7 212.0,569.9 213.1,572.3 214.1,574.8 215.1,577.5 216.2,580.3 217.2,583.1 218.2,586.0 219.3,588.8 220.3,591.5 221.3,594.0 222.4,596.1 223.4,597.8 224.4,598.8 225.4,599.2 226.5,598.9 227.5,597.9 228.5,595.8 229.6,592.2 230.6,587.4 231.6,581.5 232.7,574.7 233.7,566.6 234.7,557.2 235.8,546.4 236.8,534.5 237.8,521.4 238.9,507.2 239.9,491.7"/>
<path class="g" d="M75.9,518.1 77.0,520.5 78.0,523.0 79.0,525.5 80.1,528.2 81.1,530.9 82.1,533.6 83.2,536.3 84.2,538.9 85.2,541.6 86.2,544.1 87.3,546.6 88.3,549.0 89.3,551.2 90.4,553.3 91.4,555.2 92.4,557.1 93.5,558.9 94.5,560.7 95.5,562.5 96.6,564.5 97.6,566.5 98.6,568.8 99.7,571.1 100.7,573.7 101.7,576.5 102.7,579.3 103.8,582.3 104.8,585.3 105.8,588.1 106.9,590.6 107.9,592.6 108.9,594.1 110.0,595.2 111.0,596.1 112.0,596.5 113.1,596.4 114.1,595.6 115.1,593.8 116.1,590.9 117.2,586.7 118.2,581.0 119.2,573.7 120.3,564.9 121.3,554.6 122.3,543.1 123.4,531.0 124.4,518.7 125.4,506.0 126.5,492.7 127.5,479.0 128.5,465.6 129.6,452.9 130.6,440.8 131.6,429.6 132.6,419.5 133.7,410.6 134.7,403.1 135.7,397.1 136.8,392.3 137.8,388.7 138.8,385.9 139.9,383.9 140.9,382.4 141.9,381.4 143.0,380.9 144.0,380.9 145.0,381.2 146.1,382.1 147.1,383.6 148.1,385.6 149.1,388.0 150.2,390.8 151.2,393.9 152.2,397.3 153.3,401.2 154.3,405.6 155.3,410.3 156.4,415.2 157.4,420.4 158.4,425.6 159.5,431.0 160.5,436.6 161.5,442.3 162.5,448.1 163.6,453.8 164.6,459.2 165.6,464.4 166.7,469.3 167.7,474.0 168.7,478.3 169.8,482.4 170.8,486.1 171.8,489.6 172.9,492.8 173.9,495.7 174.9,498.2 176.0,500.5 177.0,502.4 178.0,504.1 179.0,505.6 180.1,507.0 181.1,508.4 182.1,509.7 183.2,511.2 184.2,512.7 185.2,514.4 186.3,516.3 187.3,518.3 188.3,520.4 189.4,522.7 190.4,525.1 191.4,527.5 192.5,530.0 193.5,532.5 194.5,535.0 195.5,537.4 196.6,539.8 197.6,542.2 198.6,544.6 199.7,546.9 200.7,549.1 201.7,551.3 202.8,553.3 203.8,555.1 204.8,556.7 205.9,558.3 206.9,559.8 207.9,561.3 208.9,563.0 210.0,564.8 211.0,566.7 212.0,568.9 213.1,571.2 214.1,573.7 215.1,576.3 216.2,579.1 217.2,581.9 218.2,584.6 219.3,587.3 220.3,589.9 221.3,592.3 222.4,594.3 223.4,595.8 224.4,596.7 225.4,596.9 226.5,596.4 227.5,594.9 228.5,592.2 229.6,587.8 230.6,582.1 231.6,575.1 232.7,567.1 233.7,557.8 234.7,547.0 235.8,534.9 236.8,521.6 237.8,507.1 238.9,491.5 239.9,474.7"/>
<path class="g" d="M75.9,522.1 77.0,524.4 78.0,526.7 79.0,529.2 80.1,531.7 81.1,534.3 82.1,536.9 83.2,539.5 84.2,542.0 85.2,544.6 86.2,547.1 87.3,549.5 88.3,551.8 89.3,553.9 90.4,555.9 91.4,557.8 92.4,559.6 93.5,561.3 94.5,563.0 95.5,564.9 96.6,566.8 97.6,568.8 98.6,570.9 99.7,573.3 100.7,575.8 101.7,578.5 102.7,581.4 103.8,584.4 104.8,587.3 105.8,590.2 106.9,592.6 107.9,594.6 108.9,596.1 110.0,597.2 111.0,598.1 112.0,598.5 113.1,598.4 114.1,597.6 115.1,595.9 116.1,593.0 117.2,588.8 118.2,583.2 119.2,576.0 120.3,567.2 121.3,557.0 122.3,545.6 123.4,533.6 124.4,521.5 125.4,508.8 126.5,495.6 127.5,482.0 128.5,468.7 129.6,456.1 130.6,444.2 131.6,433.1 132.6,423.0 133.7,414.2 134.7,406.8 135.7,400.8 136.8,396.1 137.8,392.5 138.8,389.8 139.9,387.8 140.9,386.4 141.9,385.5 143.0,385.0 144.0,384.9 145.0,385.2 146.1,386.0 147.1,387.4 148.1,389.3 149.1,391.7 150.2,394.3 151.2,397.2 152.2,400.5 153.3,404.3 154.3,408.5 155.3,413.0 156.4,417.7 157.4,422.7 158.4,427.7 159.5,432.9 160.5,438.3 161.5,443.8 162.5,449.3 163.6,454.7 164.6,460.0 165.6,465.0 166.7,469.7 167.7,474.1 168.7,478.2 169.8,482.0 170.8,485.5 171.8,488.8 172.9,491.8 173.9,494.5 174.9,496.9 176.0,498.9 177.0,500.7 178.0,502.2 179.0,503.6 180.1,504.9 181.1,506.1 182.1,507.3 183.2,508.6 184.2,510.0 185.2,511.5 186.3,513.2 187.3,515.1 188.3,517.1 189.4,519.2 190.4,521.4 191.4,523.8 192.5,526.1 193.5,528.5 194.5,530.9 195.5,533.2 196.6,535.6 197.6,537.9 198.6,540.2 199.7,542.5 200.7,544.7 201.7,546.9 202.8,548.9 203.8,550.7 204.8,552.5 205.9,554.2 206.9,556.0 207.9,557.8 208.9,559.8 210.0,562.1 211.0,564.5 212.0,567.1 213.1,569.9 214.1,572.9 215.1,576.1 216.2,579.4 217.2,582.7 218.2,586.0 219.3,589.2 220.3,592.2 221.3,595.0 222.4,597.5 223.4,599.3 224.4,600.4 225.4,600.8 226.5,600.5 227.5,599.3 228.5,596.8 229.6,592.8 230.6,587.5 231.6,581.0 232.7,573.4 233.7,564.5 234.7,554.2 235.8,542.5 236.8,529.6 237.8,515.6 238.9,500.3 239.9,483.7"/>
<path class="g" d="M75.9,528.1 77.0,530.3 78.0,532.6 79.0,535.0 80.1,537.5 81.1,540.0 82.1,542.5 83.2,545.1 84.2,547.6 85.2,550.1 86.2,552.5 87.3,554.9 88.3,557.1 89.3,559.3 90.4,561.2 91.4,563.1 92.4,564.8 93.5,566.5 94.5,568.2 95.5,570.0 96.6,571.9 97.6,573.9 98.6,576.0 99.7,578.3 100.7,580.9 101.7,583.6 102.7,586.4 103.8,589.4 104.8,592.3 105.8,595.1 106.9,597.6 107.9,599.6 108.9,601.1 110.0,602.2 111.0,603.0 112.0,603.5 113.1,603.4 114.1,602.7 115.1,600.9 116.1,598.1 117.2,593.9 118.2,588.3 119.2,581.2 120.3,572.5 121.3,562.4 122.3,551.0 123.4,539.1 124.4,527.1 125.4,514.5 126.5,501.4 127.5,487.9 128.5,474.7 129.6,462.1 130.6,450.3 131.6,439.3 132.6,429.3 133.7,420.6 134.7,413.3 135.7,407.4 136.8,402.8 137.8,399.3 138.8,396.6 139.9,394.7 140.9,393.3 141.9,392.4 143.0,391.9 144.0,391.9 145.0,392.2 146.1,393.1 147.1,394.5 148.1,396.5 149.1,398.8 150.2,401.5 151.2,404.5 152.2,407.8 153.3,411.6 154.3,415.8 155.3,420.3 156.4,425.1 157.4,430.1 158.4,435.1 159.5,440.4 160.5,445.8 161.5,451.3 162.5,456.8 163.6,462.3 164.6,467.6 165.6,472.6 166.7,477.3 167.7,481.7 168.7,485.9 169.8,489.7 170.8,493.3 171.8,496.6 172.9,499.6 173.9,502.3 174.9,504.7 176.0,506.8 177.0,508.6 178.0,510.2 179.0,511.6 180.1,512.9 181.1,514.1 182.1,515.4 183.2,516.7 184.2,518.1 185.2,519.7 186.3,521.5 187.3,523.4 188.3,525.4 189.4,527.6 190.4,529.8 191.4,532.2 192.5,534.5 193.5,536.9 194.5,539.3 195.5,541.7 196.6,544.0 197.6,546.3 198.6,548.6 199.7,550.8 200.7,553.0 201.7,555.1 202.8,557.0 203.8,558.8 204.8,560.4 205.9,561.9 206.9,563.4 207.9,564.9 208.9,566.6 210.0,568.4 211.0,570.3 212.0,572.5 213.1,574.8 214.1,577.4 215.1,580.1 216.2,582.9 217.2,585.7 218.2,588.6 219.3,591.4 220.3,594.1 221.3,596.6 222.4,598.8 223.4,600.4 224.4,601.4 225.4,601.8 226.5,601.6 227.5,600.5 228.5,598.4 229.6,594.8 230.6,589.9 231.6,584.0 232.7,577.1 233.7,569.0 234.7,559.5 235.8,548.7 236.8,536.7 237.8,523.6 238.9,509.3 239.9,493.7"/>
<path class="g" d="M75.9,524.9 77.0,527.2 78.0,529.6 79.0,532.0 80.1,534.6 81.1,537.1 82.1,539.7 83.2,542.4 84.2,545.0 85.2,547.5 86.2,550.0 87.3,552.4 88.3,554.7 89.3,556.9 90.4,558.9 91.4,560.8 92.4,562.6 93.5,564.3 94.5,566.1 95.5,567.9 96.6,569.8 97.6,571.9 98.6,574.0 99.7,576.4 100.7,578.9 101.7,581.7 102.7,584.5 103.8,587.5 104.8,590.5 105.8,593.3 106.9,595.8 107.9,597.7 108.9,599.2 110.0,600.4 111.0,601.2 112.0,601.6 113.1,601.6 114.1,600.8 115.1,599.1 116.1,596.2 117.2,592.0 118.2,586.4 119.2,579.3 120.3,570.6 121.3,560.4 122.3,549.0 123.4,537.1 124.4,525.0 125.4,512.5 126.5,499.3 127.5,485.8 128.5,472.6 129.6,460.0 130.6,448.1 131.6,437.1 132.6,427.1 133.7,418.3 134.7,411.0 135.7,405.0 136.8,400.3 137.8,396.7 138.8,394.0 139.9,392.0 140.9,390.6 141.9,389.7 143.0,389.2 144.0,389.1 145.0,389.4 146.1,390.2 147.1,391.6 148.1,393.5 149.1,395.9 150.2,398.5 151.2,401.5 152.2,404.8 153.3,408.6 154.3,412.8 155.3,417.3 156.4,422.1 157.4,427.0 158.4,432.1 159.5,437.3 160.5,442.7 161.5,448.3 162.5,453.8 163.6,459.3 164.6,464.6 165.6,469.6 166.7,474.3 167.7,478.8 168.7,482.9 169.8,486.8 170.8,490.4 171.8,493.7 172.9,496.7 173.9,499.5 174.9,501.9 176.0,504.0 177.0,505.8 178.0,507.4 179.0,508.8 180.1,510.1 181.1,511.4 182.1,512.7 183.2,514.0 184.2,515.4 185.2,517.0 186.3,518.7 187.3,520.6 188.3,522.7 189.4,524.8 190.4,527.1 191.4,529.4 192.5,531.7 193.5,534.1 194.5,536.5 195.5,538.8 196.6,541.1 197.6,543.4 198.6,545.6 199.7,547.8 200.7,550.0 201.7,552.0 202.8,554.0 203.8,555.7 204.8,557.3 205.9,558.8 206.9,560.2 207.9,561.7 208.9,563.4 210.0,565.1 211.0,567.1 212.0,569.2 213.1,571.5 214.1,574.0 215.1,576.7 216.2,579.5 217.2,582.3 218.2,585.2 219.3,587.9 220.3,590.6 221.3,593.1 222.4,595.2 223.4,596.9 224.4,597.9 225.4,598.3 226.5,598.0 227.5,597.0 228.5,594.9 229.6,591.4 230.6,586.7 231.6,581.1 232.7,574.4 233.7,566.7 234.7,557.6 235.8,547.3 236.8,535.9 237.8,523.4 238.9,509.8 239.9,495.0"/>
<path class="g" d="M75.9,520.8 77.0,523.1 78.0,525.6 79.0,528.1 80.1,530.8 81.1,533.5 82.1,536.2 83.2,538.9 84.2,541.6 85.2,544.2 86.2,546.8 87.3,549.3 88.3,551.7 89.3,554.0 90.4,556.0 91.4,558.0 92.4,559.8 93.5,561.6 94.5,563.4 95.5,565.2 96.6,567.2 97.6,569.2 98.6,571.4 99.7,573.7 100.7,576.2 101.7,578.9 102.7,581.7 103.8,584.7 104.8,587.6 105.8,590.4 106.9,592.8 107.9,594.8 108.9,596.2 110.0,597.3 111.0,598.1 112.0,598.6 113.1,598.5 114.1,597.7 115.1,595.9 116.1,593.1 117.2,588.9 118.2,583.3 119.2,576.2 120.3,567.5 121.3,557.4 122.3,546.1 123.4,534.2 124.4,522.1 125.4,509.6 126.5,496.5 127.5,483.0 128.5,469.8 129.6,457.2 130.6,445.4 131.6,434.4 132.6,424.3 133.7,415.6 134.7,408.2 135.7,402.2 136.8,397.5 137.8,393.8 138.8,391.1 139.9,389.0 140.9,387.5 141.9,386.5 143.0,385.9 144.0,385.7 145.0,385.9 146.1,386.7 147.1,388.0 148.1,389.8 149.1,392.1 150.2,394.7 151.2,397.5 152.2,400.8 153.3,404.5 154.3,408.7 155.3,413.2 156.4,418.0 157.4,422.9 158.4,428.0 159.5,433.3 160.5,438.7 161.5,444.4 162.5,450.0 163.6,455.6 164.6,461.0 165.6,466.1 166.7,471.0 167.7,475.6 168.7,479.9 169.8,483.9 170.8,487.7 171.8,491.1 172.9,494.3 173.9,497.3 174.9,499.8 176.0,502.1 177.0,504.1 178.0,505.8 179.0,507.4 180.1,508.8 181.1,510.2 182.1,511.5 183.2,512.9 184.2,514.4 185.2,516.1 186.3,517.8 187.3,519.7 188.3,521.8 189.4,523.9 190.4,526.1 191.4,528.4 192.5,530.7 193.5,533.0 194.5,535.3 195.5,537.5 196.6,539.7 197.6,541.9 198.6,544.0 199.7,546.1 200.7,548.2 201.7,550.1 202.8,551.9 203.8,553.6 204.8,555.1 205.9,556.4 206.9,557.8 207.9,559.2 208.9,560.8 210.0,562.5 211.0,564.3 212.0,566.4 213.1,568.6 214.1,571.1 215.1,573.7 216.2,576.5 217.2,579.2 218.2,582.0 219.3,584.8 220.3,587.4 221.3,589.8 222.4,592.0 223.4,593.6 224.4,594.6 225.4,594.9 226.5,594.6 227.5,593.6 228.5,591.4 229.6,587.9 230.6,583.1 231.6,577.2 232.7,570.3 233.7,562.2 234.7,552.8 235.8,542.0 236.8,530.1 237.8,517.0 238.9,502.7 239.9,487.3"/>
<path class="g" d="M75.9,529.0 77.0,531.2 78.0,533.6 79.0,536.0 80.1,538.5 81.1,541.1 82.1,543.6 83.2,546.2 84.2,548.8 85.2,551.3 86.2,553.8 87.3,556.2 88.3,558.5 89.3,560.6 90.4,562.6 91.4,564.5 92.4,566.2 93.5,568.0 94.5,569.7 95.5,571.5 96.6,573.4 97.6,575.4 98.6,577.6 99.7,580.0 100.7,582.5 101.7,585.2 102.7,588.1 103.8,591.1 104.8,594.1 105.8,596.9 106.9,599.4 107.9,601.4 108.9,602.9 110.0,604.0 111.0,604.8 112.0,605.3 113.1,605.2 114.1,604.4 115.1,602.6 116.1,599.7 117.2,595.5 118.2,589.8 119.2,582.6 120.3,573.8 121.3,563.5 122.3,552.1 123.4,540.1 124.4,527.8 125.4,515.2 126.5,501.9 127.5,488.2 128.5,474.9 129.6,462.2 130.6,450.2 131.6,439.1 132.6,429.0 133.7,420.2 134.7,412.8 135.7,406.8 136.8,402.1 137.8,398.5 138.8,395.8 139.9,393.9 140.9,392.5 141.9,391.5 143.0,391.1 144.0,391.0 145.0,391.4 146.1,392.2 147.1,393.7 148.1,395.6 149.1,398.0 150.2,400.7 151.2,403.7 152.2,407.1 153.3,410.9 154.3,415.1 155.3,419.7 156.4,424.6 157.4,429.6 158.4,434.7 159.5,440.0 160.5,445.4 161.5,451.0 162.5,456.6 163.6,462.1 164.6,467.4 165.6,472.5 166.7,477.2 167.7,481.7 168.7,485.9 169.8,489.8 170.8,493.4 171.8,496.7 172.9,499.8 173.9,502.5 174.9,505.0 176.0,507.1 177.0,509.0 178.0,510.6 179.0,512.0 180.1,513.3 181.1,514.6 182.1,515.9 183.2,517.3 184.2,518.7 185.2,520.4 186.3,522.2 187.3,524.1 188.3,526.2 189.4,528.4 190.4,530.7 191.4,533.1 192.5,535.5 193.5,538.0 194.5,540.4 195.5,542.8 196.6,545.1 197.6,547.5 198.6,549.8 199.7,552.1 200.7,554.3 201.7,556.4 202.8,558.4 203.8,560.2 204.8,561.8 205.9,563.4 206.9,564.9 207.9,566.4 208.9,568.1 210.0,569.9 211.0,571.9 212.0,574.0 213.1,576.4 214.1,578.9 215.1,581.7 216.2,584.5 217.2,587.3 218.2,590.2 219.3,593.0 220.3,595.7 221.3,598.2 222.4,600.4 223.4,602.1 224.4,603.1 225.4,603.5 226.5,603.2 227.5,602.2 228.5,600.1 229.6,596.6 230.6,591.9 231.6,586.3 232.7,579.9 233.7,572.3 234.7,563.5 235.8,553.5 236.8,542.4 237.8,530.3 238.9,517.1 239.9,502.8"/>
<path class="g" d="M75.9,527.8 77.0,530.0 78.0,532.3 79.0,534.6 80.1,537.1 81.1,539.6 82.1,542.2 83.2,544.8 84.2,547.3 85.2,549.9 86.2,552.4 87.3,554.8 88.3,557.1 89.3,559.3 90.4,561.3 91.4,563.2 92.4,565.0 93.5,566.8 94.5,568.6 95.5,570.5 96.6,572.4 97.6,574.5 98.6,576.7 99.7,579.0 100.7,581.6 101.7,584.4 102.7,587.2 103.8,590.2 104.8,593.2 105.8,596.0 106.9,598.4 107.9,600.4 108.9,601.8 110.0,602.9 111.0,603.6 112.0,604.0 113.1,603.8 114.1,602.9 115.1,601.0 116.1,598.0 117.2,593.6 118.2,587.8 119.2,580.5 120.3,571.5 121.3,561.1 122.3,549.4 123.4,537.2 124.4,524.8 125.4,512.0 126.5,498.5 127.5,484.7 128.5,471.3 129.6,458.4 130.6,446.3 131.6,435.1 132.6,424.9 133.7,416.0 134.7,408.5 135.7,402.5 136.8,397.8 137.8,394.2 138.8,391.5 139.9,389.5 140.9,388.1 141.9,387.2 143.0,386.8 144.0,386.7 145.0,387.2 146.1,388.1 147.1,389.6 148.1,391.6 149.1,394.1 150.2,396.9 151.2,400.0 152.2,403.4 153.3,407.4 154.3,411.7 155.3,416.4 156.4,421.4 157.4,426.5 158.4,431.8 159.5,437.2 160.5,442.8 161.5,448.5 162.5,454.3 163.6,460.0 164.6,465.5 165.6,470.7 166.7,475.6 167.7,480.3 168.7,484.7 169.8,488.8 170.8,492.6 171.8,496.1 172.9,499.4 173.9,502.3 174.9,505.0 176.0,507.3 177.0,509.4 178.0,511.2 179.0,512.9 180.1,514.4 181.1,515.9 182.1,517.4 183.2,518.9 184.2,520.6 185.2,522.4 186.3,524.4 187.3,526.5 188.3,528.8 189.4,531.1 190.4,533.6 191.4,536.1 192.5,538.7 193.5,541.2 194.5,543.7 195.5,546.2 196.6,548.6 197.6,551.0 198.6,553.3 199.7,555.6 200.7,557.8 201.7,559.8 202.8,561.8 203.8,563.5 204.8,565.1 205.9,566.5 206.9,567.9 207.9,569.3 208.9,570.8 210.0,572.5 211.0,574.3 212.0,576.4 213.1,578.6 214.1,581.0 215.1,583.5 216.2,586.2 217.2,588.9 218.2,591.6 219.3,594.3 220.3,596.8 221.3,599.2 222.4,601.3 223.4,602.8 224.4,603.7 225.4,603.9 226.5,603.6 227.5,602.4 228.5,600.2 229.6,596.6 230.6,591.7 231.6,585.9 232.7,579.1 233.7,571.2 234.7,562.0 235.8,551.5 236.8,539.8 237.8,527.1 238.9,513.3 239.9,498.2"/>
<path class="g" d="M75.9,527.9 77.0,530.0 78.0,532.1 79.0,534.3 80.1,536.6 81.1,539.0 82.1,541.3 83.2,543.7 84.2,546.1 85.2,548.5 86.2,550.8 87.3,553.1 88.3,555.2 89.3,557.3 90.4,559.2 91.4,561.0 92.4,562.7 93.5,564.4 94.5,566.1 95.5,567.9 96.6,569.8 97.6,571.9 98.6,574.0 99.7,576.4 100.7,578.9 101.7,581.6 102.7,584.5 103.8,587.4 104.8,590.4 105.8,593.2 106.9,595.6 107.9,597.6 108.9,599.0 110.0,600.1 111.0,600.9 112.0,601.4 113.1,601.3 114.1,600.5 115.1,598.7 116.1,595.9 117.2,591.8 118.2,586.2 119.2,579.2 120.3,570.6 121.3,560.6 122.3,549.5 123.4,537.8 124.4,525.9 125.4,513.6 126.5,500.7 127.5,487.5 128.5,474.6 129.6,462.3 130.6,450.8 131.6,440.1 132.6,430.4 133.7,421.9 134.7,414.9 135.7,409.2 136.8,404.8 137.8,401.5 138.8,399.0 139.9,397.3 140.9,396.1 141.9,395.4 143.0,395.1 144.0,395.2 145.0,395.7 146.1,396.7 147.1,398.2 148.1,400.2 149.1,402.6 150.2,405.3 151.2,408.3 152.2,411.6 153.3,415.3 154.3,419.4 155.3,423.8 156.4,428.4 157.4,433.2 158.4,438.0 159.5,443.0 160.5,448.1 161.5,453.3 162.5,458.5 163.6,463.6 164.6,468.5 165.6,473.1 166.7,477.5 167.7,481.5 168.7,485.3 169.8,488.8 170.8,492.0 171.8,495.0 172.9,497.6 173.9,500.0 174.9,502.2 176.0,504.0 177.0,505.6 178.0,506.9 179.0,508.1 180.1,509.3 181.1,510.4 182.1,511.5 183.2,512.8 184.2,514.1 185.2,515.7 186.3,517.4 187.3,519.3 188.3,521.3 189.4,523.5 190.4,525.8 191.4,528.2 192.5,530.7 193.5,533.2 194.5,535.6 195.5,538.1 196.6,540.5 197.6,542.9 198.6,545.2 199.7,547.5 200.7,549.8 201.7,551.9 202.8,553.9 203.8,555.8 204.8,557.4 205.9,559.0 206.9,560.5 207.9,562.0 208.9,563.7 210.0,565.5 211.0,567.4 212.0,569.6 213.1,571.9 214.1,574.3 215.1,577.0 216.2,579.7 217.2,582.5 218.2,585.3 219.3,588.1 220.3,590.7 221.3,593.2 222.4,595.4 223.4,597.1 224.4,598.1 225.4,598.5 226.5,598.4 227.5,597.5 228.5,595.5 229.6,592.3 230.6,588.1 231.6,583.0 232.7,577.2 233.7,570.4 234.7,562.5 235.8,553.5 236.8,543.5 237.8,532.6 238.9,520.8 239.9,507.9"/>
<path class="g" d="M75.9,525.2 77.0,527.6 78.0,530.1 79.0,532.8 80.1,535.5 81.1,538.2 82.1,541.0 83.2,543.8 84.2,546.6 85.2,549.3 86.2,552.0 87.3,554.6 88.3,557.1 89.3,559.4 90.4,561.5 91.4,563.5 92.4,565.4 93.5,567.2 94.5,569.0 95.5,570.9 96.6,572.8 97.6,574.9 98.6,577.0 99.7,579.4 100.7,581.9 101.7,584.5 102.7,587.3 103.8,590.2 104.8,593.1 105.8,595.8 106.9,598.2 107.9,600.0 108.9,601.4 110.0,602.3 111.0,603.0 112.0,603.2 113.1,603.0 114.1,602.0 115.1,600.0 116.1,596.9 117.2,592.5 118.2,586.6 119.2,579.1 120.3,570.1 121.3,559.5 122.3,547.8 123.4,535.5 124.4,523.0 125.4,510.1 126.5,496.6 127.5,482.7 128.5,469.1 129.6,456.2 130.6,444.1 131.6,432.7 132.6,422.5 133.7,413.5 134.7,406.0 135.7,399.9 136.8,395.1 137.8,391.4 138.8,388.7 139.9,386.6 140.9,385.2 141.9,384.2 143.0,383.7 144.0,383.5 145.0,383.9 146.1,384.7 147.1,386.0 148.1,387.9 149.1,390.3 150.2,392.9 151.2,395.9 152.2,399.2 153.3,403.0 154.3,407.2 155.3,411.8 156.4,416.7 157.4,421.7 158.4,426.9 159.5,432.2 160.5,437.7 161.5,443.4 162.5,449.1 163.6,454.7 164.6,460.2 165.6,465.4 166.7,470.3 167.7,475.0 168.7,479.3 169.8,483.4 170.8,487.2 171.8,490.8 172.9,494.0 173.9,497.0 174.9,499.7 176.0,502.0 177.0,504.1 178.0,505.9 179.0,507.5 180.1,509.0 181.1,510.5 182.1,511.9 183.2,513.4 184.2,515.0 185.2,516.8 186.3,518.7 187.3,520.8 188.3,522.9 189.4,525.2 190.4,527.5 191.4,530.0 192.5,532.4 193.5,534.8 194.5,537.2 195.5,539.6 196.6,541.9 197.6,544.2 198.6,546.4 199.7,548.6 200.7,550.8 201.7,552.8 202.8,554.7 203.8,556.4 204.8,557.9 205.9,559.4 206.9,560.8 207.9,562.3 208.9,563.9 210.0,565.7 211.0,567.6 212.0,569.8 213.1,572.2 214.1,574.8 215.1,577.5 216.2,580.4 217.2,583.4 218.2,586.4 219.3,589.3 220.3,592.1 221.3,594.8 222.4,597.1 223.4,599.0 224.4,600.1 225.4,600.6 226.5,600.5 227.5,599.6 228.5,597.6 229.6,594.0 230.6,588.9 231.6,582.6 232.7,575.1 233.7,566.1 234.7,555.6 235.8,543.6 236.8,530.2 237.8,515.4 238.9,499.2 239.9,481.6"/>
<path class="g" d="M75.9,525.2 77.0,527.5 78.0,530.1 79.0,532.7 80.1,535.5 81.1,538.3 82.1,541.1 83.2,544.0 84.2,546.8 85.2,549.6 86.2,552.4 87.3,555.0 88.3,557.6 89.3,560.0 90.4,562.2 91.4,564.2 92.4,566.1 93.5,568.0 94.5,569.8 95.5,571.6 96.6,573.5 97.6,575.4 98.6,577.4 99.7,579.6 100.7,581.9 101.7,584.4 102.7,586.9 103.8,589.5 104.8,592.1 105.8,594.6 106.9,596.6 107.9,598.2 108.9,599.3 110.0,600.0 111.0,600.4 112.0,600.4 113.1,600.0 114.1,598.8 115.1,596.8 116.1,593.6 117.2,589.2 118.2,583.4 119.2,576.2 120.3,567.4 121.3,557.2 122.3,546.0 123.4,534.2 124.4,522.2 125.4,509.9 126.5,497.0 127.5,483.8 128.5,470.9 129.6,458.7 130.6,447.3 131.6,436.7 132.6,427.1 133.7,418.8 134.7,411.9 135.7,406.3 136.8,402.1 137.8,398.9 138.8,396.6 139.9,395.0 140.9,393.9 141.9,393.3 143.0,393.1 144.0,393.3 145.0,393.9 146.1,395.0 147.1,396.5 148.1,398.6 149.1,401.1 150.2,403.9 151.2,406.9 152.2,410.3 153.3,414.1 154.3,418.4 155.3,423.0 156.4,427.8 157.4,432.7 158.4,437.8 159.5,443.1 160.5,448.5 161.5,454.0 162.5,459.6 163.6,465.2 164.6,470.5 165.6,475.7 166.7,480.5 167.7,485.1 168.7,489.5 169.8,493.5 170.8,497.3 171.8,500.8 172.9,504.1 173.9,507.1 174.9,509.8 176.0,512.1 177.0,514.2 178.0,516.1 179.0,517.7 180.1,519.3 181.1,520.7 182.1,522.1 183.2,523.6 184.2,525.1 185.2,526.8 186.3,528.6 187.3,530.4 188.3,532.4 189.4,534.4 190.4,536.5 191.4,538.6 192.5,540.7 193.5,542.8 194.5,544.8 195.5,546.7 196.6,548.6 197.6,550.4 198.6,552.2 199.7,553.9 200.7,555.6 201.7,557.1 202.8,558.5 203.8,559.7 204.8,560.8 205.9,561.8 206.9,562.7 207.9,563.8 208.9,565.0 210.0,566.3 211.0,567.9 212.0,569.7 213.1,571.8 214.1,574.1 215.1,576.5 216.2,579.2 217.2,581.9 218.2,584.7 219.3,587.5 220.3,590.1 221.3,592.7 222.4,595.0 223.4,596.8 224.4,598.0 225.4,598.6 226.5,598.6 227.5,597.8 228.5,596.0 229.6,592.9 230.6,588.6 231.6,583.4 232.7,577.3 233.7,570.1 234.7,561.6 235.8,552.0 236.8,541.3 237.8,529.5 238.9,516.6 239.9,502.7"/>
<path class="g" d="M75.9,523.7 77.0,525.7 78.0,527.7 79.0,529.9 80.1,532.2 81.1,534.5 82.1,537.0 83.2,539.4 84.2,541.9 85.2,544.4 86.2,546.9 87.3,549.3 88.3,551.7 89.3,553.9 90.4,556.1 91.4,558.1 92.4,560.1 93.5,562.0 94.5,564.0 95.5,566.1 96.6,568.2 97.6,570.5 98.6,572.9 99.7,575.5 100.7,578.3 101.7,581.2 102.7,584.3 103.8,587.4 104.8,590.5 105.8,593.4 106.9,596.0 107.9,598.0 108.9,599.5 110.0,600.5 111.0,601.2 112.0,601.6 113.1,601.3 114.1,600.3 115.1,598.3 116.1,595.2 117.2,590.7 118.2,584.8 119.2,577.3 120.3,568.2 121.3,557.6 122.3,545.9 123.4,533.6 124.4,521.1 125.4,508.3 126.5,494.8 127.5,481.0 128.5,467.5 129.6,454.8 130.6,442.8 131.6,431.6 132.6,421.6 133.7,412.9 134.7,405.6 135.7,399.7 136.8,395.2 137.8,391.9 138.8,389.5 139.9,387.8 140.9,386.7 141.9,386.1 143.0,385.9 144.0,386.2 145.0,386.9 146.1,388.1 147.1,389.8 148.1,392.1 149.1,394.8 150.2,397.7 151.2,400.9 152.2,404.5 153.3,408.4 154.3,412.8 155.3,417.5 156.4,422.3 157.4,427.3 158.4,432.4 159.5,437.6 160.5,442.9 161.5,448.3 162.5,453.8 163.6,459.1 164.6,464.2 165.6,469.0 166.7,473.6 167.7,477.8 168.7,481.8 169.8,485.5 170.8,488.9 171.8,492.0 172.9,494.9 173.9,497.5 174.9,499.8 176.0,501.9 177.0,503.7 178.0,505.3 179.0,506.7 180.1,508.1 181.1,509.5 182.1,510.9 183.2,512.4 184.2,514.1 185.2,515.9 186.3,518.0 187.3,520.2 188.3,522.5 189.4,525.0 190.4,527.6 191.4,530.3 192.5,533.0 193.5,535.7 194.5,538.3 195.5,541.0 196.6,543.5 197.6,546.0 198.6,548.4 199.7,550.8 200.7,553.1 201.7,555.2 202.8,557.1 203.8,558.9 204.8,560.4 205.9,561.8 206.9,563.1 207.9,564.4 208.9,565.8 210.0,567.3 211.0,569.0 212.0,570.9 213.1,572.9 214.1,575.2 215.1,577.6 216.2,580.1 217.2,582.6 218.2,585.2 219.3,587.7 220.3,590.2 221.3,592.5 222.4,594.5 223.4,596.1 224.4,597.0 225.4,597.3 226.5,597.0 227.5,596.0 228.5,593.9 229.6,590.6 230.6,586.1 231.6,580.8 232.7,574.6 233.7,567.4 234.7,559.0 235.8,549.4 236.8,538.9 237.8,527.3 238.9,514.6 239.9,500.9"/>
<path class="g" d="M75.9,524.6 77.0,526.8 78.0,529.1 79.0,531.6 80.1,534.0 81.1,536.5 82.1,539.1 83.2,541.6 84.2,544.1 85.2,546.6 86.2,549.0 87.3,551.3 88.3,553.6 89.3,555.6 90.4,557.6 91.4,559.4 92.4,561.2 93.5,562.9 94.5,564.6 95.5,566.4 96.6,568.2 97.6,570.2 98.6,572.4 99.7,574.7 100.7,577.3 101.7,580.0 102.7,582.8 103.8,585.8 104.8,588.8 105.8,591.6 106.9,594.1 107.9,596.1 108.9,597.6 110.0,598.8 111.0,599.7 112.0,600.2 113.1,600.1 114.1,599.4 115.1,597.7 116.1,594.9 117.2,590.7 118.2,585.2 119.2,578.1 120.3,569.5 121.3,559.4 122.3,548.1 123.4,536.3 124.4,524.3 125.4,511.8 126.5,498.7 127.5,485.3 128.5,472.1 129.6,459.6 130.6,447.8 131.6,436.8 132.6,426.8 133.7,418.1 134.7,410.7 135.7,404.7 136.8,400.0 137.8,396.4 138.8,393.7 139.9,391.6 140.9,390.2 141.9,389.2 143.0,388.7 144.0,388.6 145.0,388.9 146.1,389.8 147.1,391.2 148.1,393.1 149.1,395.5 150.2,398.2 151.2,401.2 152.2,404.6 153.3,408.4 154.3,412.6 155.3,417.2 156.4,422.1 157.4,427.1 158.4,432.2 159.5,437.5 160.5,443.0 161.5,448.6 162.5,454.2 163.6,459.7 164.6,465.0 165.6,470.1 166.7,474.9 167.7,479.3 168.7,483.5 169.8,487.4 170.8,491.0 171.8,494.3 172.9,497.4 173.9,500.1 174.9,502.5 176.0,504.6 177.0,506.4 178.0,508.0 179.0,509.4 180.1,510.7 181.1,511.9 182.1,513.1 183.2,514.4 184.2,515.8 185.2,517.4 186.3,519.1 187.3,520.9 188.3,522.9 189.4,525.0 190.4,527.3 191.4,529.6 192.5,531.9 193.5,534.3 194.5,536.6 195.5,538.9 196.6,541.2 197.6,543.5 198.6,545.8 199.7,548.0 200.7,550.1 201.7,552.2 202.8,554.1 203.8,555.9 204.8,557.5 205.9,559.0 206.9,560.4 207.9,561.9 208.9,563.5 210.0,565.3 211.0,567.2 212.0,569.3 213.1,571.5 214.1,574.0 215.1,576.6 216.2,579.2 217.2,582.0 218.2,584.7 219.3,587.3 220.3,589.9 221.3,592.2 222.4,594.3 223.4,595.8 224.4,596.7 225.4,597.0 226.5,596.6 227.5,595.5 228.5,593.3 229.6,589.7 230.6,584.8 231.6,578.7 232.7,571.6 233.7,563.3 234.7,553.5 235.8,542.4 236.8,530.1 237.8,516.6 238.9,501.8 239.9,485.8"/>
<path class="g" d="M75.9,523.4 77.0,525.6 78.0,528.0 79.0,530.4 80.1,532.9 81.1,535.4 82.1,538.0 83.2,540.6 84.2,543.2 85.2,545.7 86.2,548.2 87.3,550.6 88.3,552.9 89.3,555.0 90.4,557.0 91.4,558.9 92.4,560.6 93.5,562.3 94.5,564.1 95.5,565.9 96.6,567.7 97.6,569.7 98.6,571.9 99.7,574.2 100.7,576.7 101.7,579.4 102.7,582.2 103.8,585.1 104.8,588.1 105.8,590.8 106.9,593.3 107.9,595.2 108.9,596.7 110.0,597.8 111.0,598.5 112.0,599.0 113.1,598.8 114.1,598.0 115.1,596.3 116.1,593.4 117.2,589.2 118.2,583.5 119.2,576.3 120.3,567.6 121.3,557.4 122.3,546.0 123.4,534.1 124.4,522.0 125.4,509.4 126.5,496.2 127.5,482.7 128.5,469.5 129.6,457.0 130.6,445.1 131.6,434.1 132.6,424.2 133.7,415.5 134.7,408.2 135.7,402.3 136.8,397.7 137.8,394.2 138.8,391.6 139.9,389.7 140.9,388.4 141.9,387.6 143.0,387.2 144.0,387.2 145.0,387.6 146.1,388.6 147.1,390.1 148.1,392.1 149.1,394.6 150.2,397.3 151.2,400.4 152.2,403.8 153.3,407.6 154.3,411.9 155.3,416.6 156.4,421.4 157.4,426.4 158.4,431.6 159.5,436.9 160.5,442.4 161.5,448.0 162.5,453.6 163.6,459.1 164.6,464.5 165.6,469.5 166.7,474.3 167.7,478.8 168.7,483.0 169.8,486.9 170.8,490.5 171.8,493.9 172.9,496.9 173.9,499.7 174.9,502.1 176.0,504.2 177.0,506.1 178.0,507.7 179.0,509.1 180.1,510.4 181.1,511.6 182.1,512.9 183.2,514.2 184.2,515.6 185.2,517.2 186.3,519.0 187.3,520.8 188.3,522.8 189.4,525.0 190.4,527.2 191.4,529.5 192.5,531.8 193.5,534.2 194.5,536.5 195.5,538.8 196.6,541.0 197.6,543.3 198.6,545.5 199.7,547.6 200.7,549.8 201.7,551.8 202.8,553.6 203.8,555.3 204.8,556.9 205.9,558.3 206.9,559.7 207.9,561.1 208.9,562.7 210.0,564.5 211.0,566.4 212.0,568.4 213.1,570.7 214.1,573.2 215.1,575.8 216.2,578.6 217.2,581.4 218.2,584.2 219.3,587.0 220.3,589.6 221.3,592.1 222.4,594.3 223.4,595.9 224.4,596.9 225.4,597.3 226.5,597.0 227.5,596.0 228.5,593.9 229.6,590.3 230.6,585.2 231.6,579.0 232.7,571.6 233.7,562.9 234.7,552.7 235.8,541.0 236.8,527.9 237.8,513.6 238.9,497.9 239.9,480.9"/>
</g>
<path class="a" d="M76.0,380.8 L76.0,630.0 M75.5,629.5 L337.2,629.5"/>
<path class="a" d="M169.5,629.5 L169.5,626.5 M262.5,629.5 L262.5,626.5 M76.0,393.8 L79.0,393.8 M76.0,499.7 L79.0,499.7 M76.0,605.6 L79.0,605.6"/>
<path class="b" d="M75.9,525.1 77.0,527.4 78.0,529.7 79.0,532.2 80.1,534.7 81.1,537.2 82.1,539.8 83.2,542.4 84.2,545.0 85.2,547.5 86.2,550.0 87.3,552.4 88.3,554.7 89.3,556.9 90.4,558.9 91.4,560.7 92.4,562.5 93.5,564.3 94.5,566.0 95.5,567.8 96.6,569.7 97.6,571.7 98.6,573.9 99.7,576.2 100.7,578.8 101.7,581.5 102.7,584.4 103.8,587.3 104.8,590.3 105.8,593.1 106.9,595.6 107.9,597.6 108.9,599.1 110.0,600.2 111.0,601.0 112.0,601.5 113.1,601.4 114.1,600.6 115.1,598.9 116.1,596.1 117.2,591.9 118.2,586.2 119.2,579.1 120.3,570.4 121.3,560.2 122.3,548.8 123.4,536.9 124.4,524.7 125.4,512.2 126.5,499.0 127.5,485.4 128.5,472.2 129.6,459.6 130.6,447.7 131.6,436.7 132.6,426.6 133.7,417.9 134.7,410.5 135.7,404.6 136.8,399.9 137.8,396.4 138.8,393.7 139.9,391.7 140.9,390.3 141.9,389.4 143.0,388.9 144.0,388.9 145.0,389.2 146.1,390.1 147.1,391.5 148.1,393.4 149.1,395.8 150.2,398.5 151.2,401.4 152.2,404.8 153.3,408.5 154.3,412.7 155.3,417.3 156.4,422.1 157.4,427.0 158.4,432.1 159.5,437.3 160.5,442.7 161.5,448.3 162.5,453.8 163.6,459.3 164.6,464.6 165.6,469.6 166.7,474.3 167.7,478.7 168.7,482.9 169.8,486.7 170.8,490.3 171.8,493.6 172.9,496.6 173.9,499.3 174.9,501.7 176.0,503.8 177.0,505.6 178.0,507.2 179.0,508.6 180.1,509.9 181.1,511.1 182.1,512.4 183.2,513.7 184.2,515.1 185.2,516.7 186.3,518.5 187.3,520.4 188.3,522.4 189.4,524.5 190.4,526.8 191.4,529.1 192.5,531.5 193.5,533.9 194.5,536.3 195.5,538.6 196.6,540.9 197.6,543.2 198.6,545.5 199.7,547.7 200.7,549.9 201.7,552.0 202.8,553.9 203.8,555.7 204.8,557.3 205.9,558.8 206.9,560.3 207.9,561.8 208.9,563.5 210.0,565.3 211.0,567.2 212.0,569.4 213.1,571.7 214.1,574.3 215.1,577.0 216.2,579.8 217.2,582.7 218.2,585.5 219.3,588.3 220.3,591.0 221.3,593.5 222.4,595.7 223.4,597.4 224.4,598.4 225.4,598.8 226.5,598.6 227.5,597.6 228.5,595.5 229.6,591.9 230.6,587.1 231.6,581.3 232.7,574.5 233.7,566.4 234.7,557.0 235.8,546.3 236.8,534.4 237.8,521.4 238.9,507.2 239.9,491.7"/>
<text class="t" transform="translate(75.2,660.3) scale(1,1.05)" text-anchor="middle">0</text>
<text class="t" transform="translate(168.7,660.3) scale(1,1.05)" text-anchor="middle">0.5</text>
<text class="t" transform="translate(261.7,660.3) scale(1,1.05)" text-anchor="middle">1</text>
<text class="t" transform="translate(67.2,403.2) scale(1,1.05)" text-anchor="end">0.5</text>
<text class="t" transform="translate(67.2,509.1) scale(1,1.05)" text-anchor="end">0</text>
<text class="t" transform="translate(67.2,615.0) scale(1,1.05)" text-anchor="end">-0.5</text>
<text class="l" transform="translate(206.6,692.5) scale(1,1.05)" text-anchor="middle">time/s</text>
<text class="l" transform="translate(19.6,505.1) rotate(-90) scale(1,1.05)" text-anchor="middle">amplitude/a.u.</text>
</g>
<g id="p6">
<clipPath id="c5"><rect x="446.5" y="378.8" width="261.29999999999995" height="250.7"/></clipPath>
<g clip-path="url(#c5)">
<path class="g" d="M446.4,544.7 447.5,547.5 448.5,550.2 449.5,553.0 450.6,555.7 451.6,558.4 452.6,561.1 453.7,563.8 454.7,566.5 455.7,569.2 456.8,571.9 457.8,574.7 458.9,577.4 459.9,580.1 460.9,582.8 462.0,585.5 463.0,588.2 464.0,591.0 465.1,593.8 466.1,596.7 467.1,599.8 468.2,602.9 469.2,606.1 470.2,609.1 471.3,612.1 472.3,615.0 473.3,617.7 474.4,620.2 475.4,622.6 476.4,624.8 477.5,626.7 478.5,628.4 479.5,629.7 480.6,630.6 481.6,631.0 482.6,630.8 483.7,629.7 484.7,627.7 485.7,624.7 486.8,620.5 487.8,615.2 488.8,608.6 489.9,600.6 490.9,591.5 491.9,581.4 493.0,570.4 494.0,558.8 495.0,546.9 496.1,534.8 497.1,522.4 498.2,509.4 499.2,496.0 500.2,482.6 501.3,469.9 502.3,457.9 503.3,446.7 504.4,436.1 505.4,426.0 506.4,416.8 507.5,408.5 508.5,401.2 509.5,395.1 510.6,390.1 511.6,386.2 512.6,383.4 513.7,381.4 514.7,380.4 515.7,380.1 516.8,380.5 517.8,381.6 518.8,383.5 519.9,386.1 520.9,389.2 521.9,392.7 523.0,396.5 524.0,400.6 525.0,405.2 526.1,410.2 527.1,415.6 528.1,421.2 529.2,426.9 530.2,432.6 531.2,438.5 532.3,444.5 533.3,450.8 534.3,457.2 535.4,463.5 536.4,469.8 537.5,475.7 538.5,481.4 539.5,486.8 540.6,491.8 541.6,496.5 542.6,500.9 543.7,505.1 544.7,509.1 545.7,512.9 546.8,516.4 547.8,519.6 548.8,522.4 549.9,525.1 550.9,527.6 551.9,530.0 553.0,532.5 554.0,534.9 555.0,537.4 556.1,539.9 557.1,542.4 558.1,544.8 559.2,547.3 560.2,549.7 561.2,552.1 562.3,554.5 563.3,556.9 564.3,559.3 565.4,561.7 566.4,564.2 567.4,566.6 568.5,569.1 569.5,571.6 570.5,574.2 571.6,576.8 572.6,579.4 573.6,582.0 574.7,584.7 575.7,587.5 576.8,590.4 577.8,593.4 578.8,596.5 579.9,599.6 580.9,602.7 581.9,605.8 583.0,608.8 584.0,611.8 585.0,614.7 586.1,617.4 587.1,620.0 588.1,622.5 589.2,624.8 590.2,626.8 591.2,628.4 592.3,629.6 593.3,630.3 594.3,630.6 595.4,630.3 596.4,629.1 597.4,626.5 598.5,622.4 599.5,616.7 600.5,609.4 601.6,600.5 602.6,590.1 603.6,578.5 604.7,565.7 605.7,552.2 606.7,538.1 607.8,523.8 608.8,508.8 609.8,492.5 610.9,474.6"/>
<path class="g" d="M446.4,536.7 447.5,539.2 448.5,541.7 449.5,544.3 450.6,546.8 451.6,549.3 452.6,551.8 453.7,554.3 454.7,556.9 455.7,559.4 456.8,562.0 457.8,564.6 458.9,567.3 459.9,569.9 460.9,572.5 462.0,575.1 463.0,577.8 464.0,580.5 465.1,583.2 466.1,586.2 467.1,589.2 468.2,592.3 469.2,595.4 470.2,598.5 471.3,601.5 472.3,604.4 473.3,607.1 474.4,609.7 475.4,612.1 476.4,614.4 477.5,616.4 478.5,618.1 479.5,619.5 480.6,620.4 481.6,620.9 482.6,620.8 483.7,619.9 484.7,618.1 485.7,615.4 486.8,611.7 487.8,606.8 488.8,600.6 489.9,593.2 490.9,584.7 491.9,575.2 493.0,564.9 494.0,554.0 495.0,542.8 496.1,531.5 497.1,519.8 498.2,507.6 499.2,495.0 500.2,482.4 501.3,470.3 502.3,459.1 503.3,448.6 504.4,438.7 505.4,429.3 506.4,420.7 507.5,413.0 508.5,406.3 509.5,400.6 510.6,396.0 511.6,392.5 512.6,390.0 513.7,388.3 514.7,387.3 515.7,387.1 516.8,387.6 517.8,388.7 518.8,390.5 519.9,393.0 520.9,395.9 521.9,399.2 523.0,402.8 524.0,406.8 525.0,411.1 526.1,415.9 527.1,420.9 528.1,426.2 529.2,431.5 530.2,436.9 531.2,442.4 532.3,448.1 533.3,454.0 534.3,460.0 535.4,465.9 536.4,471.7 537.5,477.3 538.5,482.6 539.5,487.5 540.6,492.2 541.6,496.5 542.6,500.5 543.7,504.3 544.7,508.0 545.7,511.4 546.8,514.6 547.8,517.4 548.8,520.0 549.9,522.3 550.9,524.5 551.9,526.6 553.0,528.7 554.0,530.9 555.0,533.0 556.1,535.2 557.1,537.3 558.1,539.5 559.2,541.6 560.2,543.7 561.2,545.8 562.3,547.9 563.3,550.0 564.3,552.1 565.4,554.3 566.4,556.5 567.4,558.7 568.5,560.9 569.5,563.2 570.5,565.5 571.6,567.9 572.6,570.3 573.6,572.7 574.7,575.3 575.7,577.9 576.8,580.6 577.8,583.5 578.8,586.4 579.9,589.4 580.9,592.5 581.9,595.5 583.0,598.5 584.0,601.4 585.0,604.3 586.1,607.1 587.1,609.8 588.1,612.3 589.2,614.7 590.2,616.7 591.2,618.5 592.3,619.9 593.3,620.8 594.3,621.3 595.4,621.2 596.4,620.4 597.4,618.4 598.5,615.2 599.5,610.6 600.5,604.5 601.6,597.1 602.6,588.3 603.6,578.3 604.7,567.3 605.7,555.6 606.7,543.5 607.8,531.1 608.8,518.0 609.8,503.6 610.9,487.6"/>
<path class="g" d="M446.4,546.7 447.5,548.3 448.5,550.0 449.5,551.6 450.6,553.3 451.6,555.1 452.6,556.9 453.7,558.7 454.7,560.6 455.7,562.5 456.8,564.5 457.8,566.6 458.9,568.7 459.9,570.8 460.9,573.0 462.0,575.2 463.0,577.4 464.0,579.7 465.1,582.1 466.1,584.7 467.1,587.4 468.2,590.3 469.2,593.1 470.2,596.0 471.3,598.8 472.3,601.4 473.3,604.0 474.4,606.4 475.4,608.7 476.4,610.8 477.5,612.7 478.5,614.3 479.5,615.6 480.6,616.5 481.6,617.0 482.6,616.8 483.7,615.9 484.7,614.2 485.7,611.6 486.8,607.9 487.8,603.2 488.8,597.3 489.9,590.2 490.9,581.9 491.9,572.7 493.0,562.7 494.0,552.2 495.0,541.4 496.1,530.5 497.1,519.2 498.2,507.4 499.2,495.2 500.2,483.0 501.3,471.4 502.3,460.6 503.3,450.5 504.4,440.9 505.4,432.0 506.4,423.7 507.5,416.3 508.5,410.0 509.5,404.6 510.6,400.3 511.6,397.0 512.6,394.6 513.7,393.1 514.7,392.3 515.7,392.2 516.8,392.7 517.8,393.9 518.8,395.8 519.9,398.4 520.9,401.4 521.9,404.8 523.0,408.5 524.0,412.6 525.0,417.0 526.1,421.9 527.1,427.0 528.1,432.3 529.2,437.8 530.2,443.3 531.2,448.8 532.3,454.5 533.3,460.4 534.3,466.4 535.4,472.4 536.4,478.2 537.5,483.7 538.5,489.0 539.5,493.9 540.6,498.4 541.6,502.6 542.6,506.5 543.7,510.1 544.7,513.6 545.7,516.8 546.8,519.7 547.8,522.3 548.8,524.5 549.9,526.6 550.9,528.5 551.9,530.3 553.0,532.1 554.0,533.9 555.0,535.8 556.1,537.6 557.1,539.4 558.1,541.3 559.2,543.1 560.2,544.8 561.2,546.6 562.3,548.4 563.3,550.2 564.3,552.0 565.4,553.8 566.4,555.7 567.4,557.6 568.5,559.5 569.5,561.5 570.5,563.6 571.6,565.6 572.6,567.8 573.6,570.0 574.7,572.3 575.7,574.7 576.8,577.2 577.8,579.9 578.8,582.7 579.9,585.5 580.9,588.4 581.9,591.3 583.0,594.2 584.0,597.0 585.0,599.8 586.1,602.5 587.1,605.2 588.1,607.7 589.2,610.0 590.2,612.2 591.2,614.0 592.3,615.4 593.3,616.5 594.3,617.1 595.4,617.2 596.4,616.6 597.4,615.1 598.5,612.5 599.5,608.6 600.5,603.5 601.6,597.0 602.6,589.4 603.6,580.6 604.7,571.0 605.7,560.6 606.7,549.9 607.8,538.9 608.8,527.2 609.8,514.3 610.9,499.6"/>
<path class="g" d="M446.4,531.7 447.5,533.4 448.5,535.1 449.5,536.8 450.6,538.6 451.6,540.4 452.6,542.3 453.7,544.2 454.7,546.1 455.7,548.1 456.8,550.2 457.8,552.3 458.9,554.5 459.9,556.7 460.9,558.9 462.0,561.2 463.0,563.4 464.0,565.8 465.1,568.3 466.1,571.0 467.1,573.8 468.2,576.7 469.2,579.7 470.2,582.6 471.3,585.5 472.3,588.2 473.3,590.9 474.4,593.4 475.4,595.8 476.4,598.0 477.5,600.0 478.5,601.8 479.5,603.2 480.6,604.3 481.6,604.8 482.6,604.8 483.7,604.2 484.7,602.8 485.7,600.5 486.8,597.3 487.8,593.1 488.8,587.7 489.9,581.1 490.9,573.5 491.9,564.9 493.0,555.6 494.0,545.8 495.0,535.7 496.1,525.5 497.1,515.0 498.2,503.9 499.2,492.5 500.2,481.0 501.3,470.2 502.3,460.1 503.3,450.7 504.4,441.8 505.4,433.5 506.4,425.8 507.5,419.0 508.5,413.1 509.5,408.2 510.6,404.3 511.6,401.4 512.6,399.3 513.7,398.0 514.7,397.3 515.7,397.2 516.8,397.7 517.8,398.8 518.8,400.6 519.9,403.0 520.9,405.8 521.9,409.0 523.0,412.4 524.0,416.1 525.0,420.2 526.1,424.6 527.1,429.3 528.1,434.2 529.2,439.2 530.2,444.2 531.2,449.3 532.3,454.5 533.3,459.9 534.3,465.4 535.4,470.9 536.4,476.2 537.5,481.3 538.5,486.0 539.5,490.4 540.6,494.5 541.6,498.3 542.6,501.8 543.7,505.1 544.7,508.3 545.7,511.2 546.8,513.9 547.8,516.2 548.8,518.2 549.9,520.1 550.9,521.7 551.9,523.3 553.0,524.9 554.0,526.5 555.0,528.1 556.1,529.8 557.1,531.4 558.1,533.0 559.2,534.6 560.2,536.1 561.2,537.7 562.3,539.2 563.3,540.8 564.3,542.4 565.4,544.0 566.4,545.7 567.4,547.4 568.5,549.2 569.5,551.0 570.5,552.9 571.6,554.8 572.6,556.8 573.6,558.9 574.7,561.1 575.7,563.3 576.8,565.8 577.8,568.3 578.8,571.0 579.9,573.8 580.9,576.6 581.9,579.4 583.0,582.3 584.0,585.1 585.0,587.9 586.1,590.6 587.1,593.3 588.1,595.9 589.2,598.3 590.2,600.5 591.2,602.4 592.3,603.9 593.3,605.1 594.3,605.9 595.4,606.2 596.4,605.8 597.4,604.7 598.5,602.7 599.5,599.6 600.5,595.3 601.6,589.8 602.6,583.2 603.6,575.6 604.7,567.2 605.7,558.1 606.7,548.7 607.8,539.0 608.8,528.6 609.8,517.0 610.9,503.6"/>
<path class="g" d="M446.4,526.7 447.5,529.0 448.5,531.4 449.5,533.8 450.6,536.2 451.6,538.6 452.6,541.1 453.7,543.6 454.7,546.1 455.7,548.7 456.8,551.3 457.8,554.0 458.9,556.7 459.9,559.4 460.9,562.1 462.0,564.8 463.0,567.6 464.0,570.4 465.1,573.4 466.1,576.4 467.1,579.6 468.2,582.9 469.2,586.2 470.2,589.5 471.3,592.6 472.3,595.7 473.3,598.6 474.4,601.4 475.4,604.0 476.4,606.4 477.5,608.6 478.5,610.5 479.5,612.1 480.6,613.2 481.6,613.8 482.6,613.9 483.7,613.2 484.7,611.7 485.7,609.4 486.8,606.2 487.8,601.8 488.8,596.3 489.9,589.6 490.9,581.9 491.9,573.2 493.0,563.7 494.0,553.7 495.0,543.4 496.1,533.0 497.1,522.2 498.2,511.0 499.2,499.3 500.2,487.6 501.3,476.5 502.3,466.2 503.3,456.6 504.4,447.5 505.4,439.0 506.4,431.1 507.5,424.1 508.5,418.0 509.5,412.9 510.6,408.9 511.6,405.8 512.6,403.5 513.7,402.1 514.7,401.3 515.7,401.1 516.8,401.5 517.8,402.5 518.8,404.2 519.9,406.4 520.9,409.0 521.9,412.0 523.0,415.1 524.0,418.6 525.0,422.4 526.1,426.6 527.1,431.1 528.1,435.7 529.2,440.4 530.2,445.1 531.2,449.9 532.3,454.9 533.3,460.0 534.3,465.3 535.4,470.5 536.4,475.6 537.5,480.4 538.5,484.9 539.5,489.2 540.6,493.1 541.6,496.7 542.6,500.1 543.7,503.3 544.7,506.3 545.7,509.2 546.8,511.8 547.8,514.2 548.8,516.3 549.9,518.2 550.9,519.9 551.9,521.7 553.0,523.4 554.0,525.2 555.0,527.0 556.1,528.8 557.1,530.6 558.1,532.5 559.2,534.3 560.2,536.1 561.2,538.0 562.3,539.8 563.3,541.7 564.3,543.6 565.4,545.6 566.4,547.6 567.4,549.7 568.5,551.8 569.5,553.9 570.5,556.2 571.6,558.4 572.6,560.8 573.6,563.2 574.7,565.7 575.7,568.4 576.8,571.1 577.8,574.0 578.8,577.0 579.9,580.1 580.9,583.2 581.9,586.3 583.0,589.5 584.0,592.5 585.0,595.6 586.1,598.5 587.1,601.4 588.1,604.2 589.2,606.8 590.2,609.1 591.2,611.1 592.3,612.8 593.3,614.1 594.3,614.9 595.4,615.2 596.4,614.8 597.4,613.7 598.5,611.6 599.5,608.4 600.5,604.0 601.6,598.4 602.6,591.7 603.6,583.9 604.7,575.3 605.7,566.1 606.7,556.4 607.8,546.6 608.8,536.0 609.8,524.2 610.9,510.6"/>
<path class="g" d="M446.4,553.7 447.5,553.9 448.5,554.2 449.5,554.5 450.6,554.9 451.6,555.4 452.6,556.0 453.7,556.6 454.7,557.4 455.7,558.2 456.8,559.1 457.8,560.2 458.9,561.3 459.9,562.4 460.9,563.7 462.0,565.0 463.0,566.4 464.0,567.9 465.1,569.6 466.1,571.5 467.1,573.6 468.2,575.9 469.2,578.2 470.2,580.6 471.3,582.9 472.3,585.2 473.3,587.5 474.4,589.6 475.4,591.7 476.4,593.6 477.5,595.4 478.5,597.0 479.5,598.3 480.6,599.3 481.6,599.8 482.6,599.9 483.7,599.3 484.7,598.2 485.7,596.3 486.8,593.6 487.8,589.9 488.8,585.1 489.9,579.3 490.9,572.4 491.9,564.7 493.0,556.3 494.0,547.4 495.0,538.3 496.1,529.1 497.1,519.6 498.2,509.6 499.2,499.2 500.2,488.8 501.3,479.0 502.3,469.9 503.3,461.5 504.4,453.6 505.4,446.2 506.4,439.4 507.5,433.4 508.5,428.3 509.5,424.1 510.6,420.8 511.6,418.3 512.6,416.7 513.7,415.7 514.7,415.2 515.7,415.2 516.8,415.8 517.8,416.9 518.8,418.6 519.9,420.9 520.9,423.6 521.9,426.6 523.0,429.8 524.0,433.3 525.0,437.1 526.1,441.2 527.1,445.6 528.1,450.1 529.2,454.7 530.2,459.3 531.2,464.0 532.3,468.8 533.3,473.7 534.3,478.8 535.4,483.8 536.4,488.6 537.5,493.2 538.5,497.5 539.5,501.5 540.6,505.1 541.6,508.4 542.6,511.5 543.7,514.4 544.7,517.2 545.7,519.7 546.8,522.0 547.8,524.0 548.8,525.8 549.9,527.2 550.9,528.5 551.9,529.7 553.0,530.9 554.0,532.1 555.0,533.3 556.1,534.5 557.1,535.7 558.1,536.8 559.2,538.0 560.2,539.1 561.2,540.2 562.3,541.3 563.3,542.4 564.3,543.5 565.4,544.7 566.4,545.9 567.4,547.2 568.5,548.5 569.5,549.9 570.5,551.4 571.6,552.9 572.6,554.5 573.6,556.1 574.7,557.9 575.7,559.9 576.8,561.9 577.8,564.2 578.8,566.5 579.9,569.0 580.9,571.5 581.9,574.1 583.0,576.8 584.0,579.4 585.0,582.0 586.1,584.5 587.1,587.1 588.1,589.6 589.2,591.9 590.2,594.1 591.2,596.0 592.3,597.6 593.3,598.9 594.3,599.7 595.4,600.1 596.4,600.0 597.4,599.3 598.5,597.9 599.5,595.5 600.5,592.0 601.6,587.5 602.6,582.0 603.6,575.5 604.7,568.3 605.7,560.5 606.7,552.4 607.8,544.0 608.8,535.0 609.8,524.7 610.9,512.6"/>
<path class="g" d="M446.4,558.7 447.5,558.9 448.5,559.2 449.5,559.5 450.6,559.9 451.6,560.4 452.6,561.0 453.7,561.6 454.7,562.4 455.7,563.2 456.8,564.1 457.8,565.1 458.9,566.2 459.9,567.4 460.9,568.6 462.0,569.9 463.0,571.3 464.0,572.9 465.1,574.6 466.1,576.5 467.1,578.6 468.2,580.8 469.2,583.1 470.2,585.5 471.3,587.8 472.3,590.1 473.3,592.4 474.4,594.5 475.4,596.6 476.4,598.5 477.5,600.3 478.5,601.9 479.5,603.3 480.6,604.2 481.6,604.8 482.6,604.9 483.7,604.4 484.7,603.2 485.7,601.3 486.8,598.5 487.8,594.8 488.8,590.1 489.9,584.2 490.9,577.3 491.9,569.5 493.0,561.0 494.0,552.1 495.0,543.0 496.1,533.7 497.1,524.1 498.2,514.0 499.2,503.6 500.2,493.1 501.3,483.2 502.3,474.1 503.3,465.6 504.4,457.7 505.4,450.2 506.4,443.4 507.5,437.4 508.5,432.2 509.5,428.0 510.6,424.7 511.6,422.3 512.6,420.6 513.7,419.6 514.7,419.2 515.7,419.3 516.8,419.8 517.8,421.0 518.8,422.7 519.9,425.0 520.9,427.8 521.9,430.8 523.0,434.0 524.0,437.5 525.0,441.4 526.1,445.6 527.1,450.1 528.1,454.8 529.2,459.6 530.2,464.5 531.2,469.4 532.3,474.6 533.3,479.9 534.3,485.4 535.4,491.0 536.4,496.7 537.5,502.3 538.5,507.9 539.5,513.3 540.6,518.4 541.6,523.3 542.6,527.8 543.7,532.1 544.7,536.1 545.7,539.7 546.8,542.8 547.8,545.2 548.8,547.3 549.9,549.0 550.9,550.5 551.9,551.8 553.0,553.1 554.0,554.3 555.0,555.5 556.1,556.7 557.1,557.9 558.1,559.0 559.2,560.1 560.2,561.2 561.2,562.2 562.3,563.2 563.3,564.1 564.3,565.0 565.4,565.9 566.4,566.8 567.4,567.7 568.5,568.7 569.5,569.7 570.5,570.7 571.6,571.8 572.6,573.0 573.6,574.3 574.7,575.7 575.7,577.2 576.8,578.7 577.8,580.4 578.8,582.2 579.9,584.0 580.9,585.9 581.9,587.7 583.0,589.6 584.0,591.5 585.0,593.4 586.1,595.2 587.1,597.1 588.1,598.9 589.2,600.6 590.2,602.1 591.2,603.5 592.3,604.6 593.3,605.5 594.3,606.0 595.4,606.2 596.4,605.8 597.4,604.8 598.5,603.0 599.5,600.1 600.5,596.2 601.6,591.1 602.6,585.0 603.6,577.9 604.7,570.1 605.7,561.7 606.7,553.0 607.8,544.2 608.8,534.7 609.8,524.0 610.9,511.6"/>
<path class="g" d="M446.4,534.7 447.5,535.3 448.5,535.9 449.5,536.6 450.6,537.4 451.6,538.2 452.6,539.2 453.7,540.2 454.7,541.4 455.7,542.6 456.8,544.0 457.8,545.4 458.9,547.0 459.9,548.6 460.9,550.3 462.0,552.0 463.0,553.9 464.0,555.8 465.1,558.0 466.1,560.3 467.1,562.8 468.2,565.5 469.2,568.2 470.2,571.0 471.3,573.7 472.3,576.4 473.3,579.0 474.4,581.5 475.4,583.9 476.4,586.1 477.5,588.2 478.5,590.1 479.5,591.7 480.6,592.9 481.6,593.7 482.6,593.9 483.7,593.7 484.7,592.9 485.7,591.5 486.8,589.4 487.8,586.3 488.8,582.3 489.9,577.2 490.9,571.2 491.9,564.3 493.0,556.8 494.0,548.9 495.0,540.8 496.1,532.5 497.1,524.0 498.2,515.0 499.2,505.6 500.2,496.2 501.3,487.3 502.3,479.2 503.3,471.7 504.4,464.7 505.4,458.1 506.4,452.1 507.5,446.8 508.5,442.3 509.5,438.7 510.6,435.8 511.6,433.8 512.6,432.4 513.7,431.6 514.7,431.2 515.7,431.2 516.8,431.6 517.8,432.4 518.8,433.7 519.9,435.5 520.9,437.6 521.9,439.9 523.0,442.3 524.0,444.9 525.0,447.8 526.1,450.9 527.1,454.3 528.1,457.8 529.2,461.3 530.2,464.7 531.2,468.3 532.3,471.9 533.3,475.7 534.3,479.6 535.4,483.4 536.4,487.2 537.5,490.7 538.5,493.9 539.5,496.9 540.6,499.6 541.6,502.0 542.6,504.2 543.7,506.4 544.7,508.4 545.7,510.4 546.8,512.3 547.8,513.9 548.8,515.3 549.9,516.4 550.9,517.5 551.9,518.5 553.0,519.5 554.0,520.5 555.0,521.6 556.1,522.7 557.1,523.9 558.1,525.0 559.2,526.1 560.2,527.3 561.2,528.4 562.3,529.6 563.3,530.8 564.3,532.1 565.4,533.4 566.4,534.8 567.4,536.2 568.5,537.7 569.5,539.3 570.5,540.9 571.6,542.6 572.6,544.4 573.6,546.3 574.7,548.3 575.7,550.5 576.8,552.7 577.8,555.2 578.8,557.8 579.9,560.5 580.9,563.2 581.9,566.0 583.0,568.8 584.0,571.6 585.0,574.4 586.1,577.1 587.1,579.8 588.1,582.4 589.2,584.8 590.2,587.1 591.2,589.0 592.3,590.7 593.3,591.9 594.3,592.8 595.4,593.1 596.4,592.9 597.4,592.1 598.5,590.3 599.5,587.5 600.5,583.6 601.6,578.6 602.6,572.5 603.6,565.4 604.7,557.5 605.7,549.1 606.7,540.2 607.8,531.2 608.8,521.4 609.8,510.4 610.9,497.6"/>
<path class="g" d="M446.4,538.6 447.5,540.2 448.5,541.9 449.5,543.7 450.6,545.4 451.6,547.3 452.6,549.1 453.7,551.1 454.7,553.1 455.7,555.2 456.8,557.3 457.8,559.5 458.9,561.8 459.9,564.2 460.9,566.5 462.0,568.9 463.0,571.4 464.0,574.0 465.1,576.7 466.1,579.6 467.1,582.7 468.2,585.9 469.2,589.1 470.2,592.4 471.3,595.6 472.3,598.6 473.3,601.6 474.4,604.4 475.4,607.1 476.4,609.6 477.5,611.9 478.5,613.8 479.5,615.5 480.6,616.7 481.6,617.3 482.6,617.4 483.7,616.7 484.7,615.2 485.7,612.8 486.8,609.3 487.8,604.7 488.8,598.8 489.9,591.6 490.9,583.3 491.9,573.9 493.0,563.7 494.0,552.9 495.0,541.8 496.1,530.6 497.1,519.0 498.2,506.9 499.2,494.3 500.2,481.7 501.3,469.8 502.3,458.7 503.3,448.3 504.4,438.6 505.4,429.5 506.4,421.1 507.5,413.6 508.5,407.2 509.5,401.8 510.6,397.5 511.6,394.3 512.6,392.0 513.7,390.5 514.7,389.8 515.7,389.6 516.8,390.1 517.8,391.3 518.8,393.1 519.9,395.6 520.9,398.5 521.9,401.8 523.0,405.3 524.0,409.2 525.0,413.4 526.1,418.0 527.1,423.0 528.1,428.1 529.2,433.2 530.2,438.4 531.2,443.7 532.3,449.2 533.3,454.8 534.3,460.6 535.4,466.3 536.4,471.9 537.5,477.2 538.5,482.2 539.5,486.8 540.6,491.1 541.6,495.1 542.6,498.8 543.7,502.3 544.7,505.7 545.7,508.8 546.8,511.7 547.8,514.3 548.8,516.6 549.9,518.6 550.9,520.5 551.9,522.3 553.0,524.2 554.0,526.1 555.0,528.0 556.1,529.9 557.1,531.8 558.1,533.8 559.2,535.7 560.2,537.6 561.2,539.5 562.3,541.4 563.3,543.3 564.3,545.3 565.4,547.3 566.4,549.4 567.4,551.5 568.5,553.7 569.5,555.9 570.5,558.2 571.6,560.5 572.6,562.9 573.6,565.4 574.7,568.0 575.7,570.8 576.8,573.6 577.8,576.6 578.8,579.8 579.9,583.0 580.9,586.3 581.9,589.7 583.0,593.0 584.0,596.2 585.0,599.4 586.1,602.6 587.1,605.7 588.1,608.6 589.2,611.4 590.2,613.9 591.2,616.1 592.3,617.9 593.3,619.2 594.3,620.1 595.4,620.4 596.4,619.9 597.4,618.7 598.5,616.3 599.5,612.7 600.5,607.6 601.6,600.9 602.6,592.8 603.6,583.2 604.7,572.4 605.7,560.6 606.7,548.2 607.8,535.3 608.8,521.4 609.8,505.8 610.9,487.9"/>
<path class="g" d="M446.4,538.4 447.5,540.0 448.5,541.7 449.5,543.4 450.6,545.1 451.6,546.9 452.6,548.8 453.7,550.7 454.7,552.7 455.7,554.8 456.8,556.9 457.8,559.1 458.9,561.4 459.9,563.7 460.9,566.0 462.0,568.4 463.0,570.9 464.0,573.4 465.1,576.2 466.1,579.0 467.1,582.1 468.2,585.3 469.2,588.5 470.2,591.7 471.3,594.9 472.3,598.0 473.3,600.9 474.4,603.7 475.4,606.3 476.4,608.8 477.5,611.0 478.5,612.9 479.5,614.5 480.6,615.6 481.6,616.2 482.6,616.2 483.7,615.4 484.7,613.9 485.7,611.4 486.8,607.9 487.8,603.2 488.8,597.3 489.9,590.1 490.9,581.7 491.9,572.4 493.0,562.1 494.0,551.4 495.0,540.3 496.1,529.2 497.1,517.6 498.2,505.5 499.2,493.0 500.2,480.5 501.3,468.6 502.3,457.6 503.3,447.4 504.4,437.7 505.4,428.7 506.4,420.4 507.5,413.0 508.5,406.7 509.5,401.4 510.6,397.2 511.6,394.1 512.6,391.9 513.7,390.6 514.7,390.0 515.7,390.0 516.8,390.6 517.8,391.9 518.8,393.9 519.9,396.5 520.9,399.6 521.9,403.0 523.0,406.7 524.0,410.8 525.0,415.1 526.1,419.9 527.1,425.0 528.1,430.2 529.2,435.5 530.2,440.8 531.2,446.2 532.3,451.8 533.3,457.5 534.3,463.4 535.4,469.2 536.4,474.8 537.5,480.1 538.5,485.1 539.5,489.8 540.6,494.1 541.6,498.1 542.6,501.8 543.7,505.3 544.7,508.7 545.7,511.8 546.8,514.7 547.8,517.2 548.8,519.5 549.9,521.5 550.9,523.3 551.9,525.1 553.0,526.9 554.0,528.8 555.0,530.6 556.1,532.5 557.1,534.4 558.1,536.2 559.2,538.1 560.2,539.9 561.2,541.8 562.3,543.6 563.3,545.5 564.3,547.4 565.4,549.3 566.4,551.3 567.4,553.3 568.5,555.4 569.5,557.5 570.5,559.7 571.6,561.9 572.6,564.2 573.6,566.6 574.7,569.0 575.7,571.6 576.8,574.3 577.8,577.2 578.8,580.2 579.9,583.2 580.9,586.3 581.9,589.4 583.0,592.5 584.0,595.6 585.0,598.6 586.1,601.6 587.1,604.4 588.1,607.2 589.2,609.7 590.2,612.1 591.2,614.1 592.3,615.7 593.3,616.9 594.3,617.6 595.4,617.8 596.4,617.3 597.4,616.0 598.5,613.6 599.5,610.0 600.5,605.2 601.6,599.1 602.6,591.8 603.6,583.4 604.7,574.1 605.7,564.1 606.7,553.8 607.8,543.3 608.8,532.1 609.8,519.5 610.9,504.9"/>
<path class="g" d="M446.4,540.7 447.5,542.3 448.5,544.0 449.5,545.7 450.6,547.4 451.6,549.2 452.6,551.0 453.7,552.8 454.7,554.8 455.7,556.7 456.8,558.7 457.8,560.8 458.9,562.9 459.9,565.1 460.9,567.3 462.0,569.5 463.0,571.7 464.0,574.1 465.1,576.6 466.1,579.2 467.1,582.1 468.2,585.0 469.2,588.0 470.2,591.0 471.3,593.9 472.3,596.7 473.3,599.4 474.4,602.0 475.4,604.4 476.4,606.7 477.5,608.7 478.5,610.5 479.5,612.0 480.6,613.0 481.6,613.6 482.6,613.5 483.7,612.7 484.7,611.2 485.7,608.7 486.8,605.3 487.8,600.7 488.8,594.9 489.9,587.9 490.9,579.7 491.9,570.6 493.0,560.6 494.0,550.1 495.0,539.3 496.1,528.3 497.1,517.0 498.2,505.2 499.2,492.9 500.2,480.7 501.3,469.0 502.3,458.2 503.3,448.1 504.4,438.6 505.4,429.7 506.4,421.5 507.5,414.2 508.5,407.9 509.5,402.7 510.6,398.5 511.6,395.3 512.6,393.1 513.7,391.7 514.7,390.9 515.7,390.8 516.8,391.3 517.8,392.4 518.8,394.2 519.9,396.7 520.9,399.6 521.9,402.9 523.0,406.4 524.0,410.2 525.0,414.4 526.1,419.0 527.1,423.9 528.1,429.0 529.2,434.2 530.2,439.4 531.2,444.7 532.3,450.2 533.3,455.8 534.3,461.6 535.4,467.3 536.4,472.9 537.5,478.3 538.5,483.3 539.5,487.9 540.6,492.3 541.6,496.3 542.6,500.0 543.7,503.6 544.7,506.9 545.7,510.1 546.8,513.0 547.8,515.7 548.8,517.9 549.9,520.0 550.9,521.9 551.9,523.7 553.0,525.5 554.0,527.4 555.0,529.3 556.1,531.1 557.1,533.0 558.1,534.9 559.2,536.7 560.2,538.5 561.2,540.4 562.3,542.2 563.3,544.1 564.3,546.0 565.4,547.9 566.4,549.9 567.4,551.9 568.5,554.0 569.5,556.2 570.5,558.4 571.6,560.7 572.6,563.0 573.6,565.5 574.7,568.1 575.7,570.7 576.8,573.6 577.8,576.6 578.8,579.7 579.9,582.9 580.9,586.2 581.9,589.4 583.0,592.7 584.0,595.9 585.0,599.1 586.1,602.3 587.1,605.3 588.1,608.2 589.2,611.0 590.2,613.5 591.2,615.6 592.3,617.4 593.3,618.8 594.3,619.6 595.4,619.9 596.4,619.5 597.4,618.3 598.5,616.0 599.5,612.5 600.5,607.7 601.6,601.8 602.6,594.6 603.6,586.3 604.7,577.2 605.7,567.5 606.7,557.4 607.8,547.1 608.8,536.1 609.8,523.8 610.9,509.6"/>
<path class="g" d="M446.4,541.3 447.5,543.0 448.5,544.7 449.5,546.5 450.6,548.4 451.6,550.2 452.6,552.1 453.7,554.1 454.7,556.1 455.7,558.2 456.8,560.3 457.8,562.4 458.9,564.6 459.9,566.8 460.9,569.0 462.0,571.2 463.0,573.5 464.0,575.8 465.1,578.2 466.1,580.7 467.1,583.4 468.2,586.2 469.2,588.9 470.2,591.7 471.3,594.4 472.3,597.0 473.3,599.4 474.4,601.7 475.4,603.9 476.4,605.9 477.5,607.8 478.5,609.3 479.5,610.6 480.6,611.5 481.6,611.9 482.6,611.8 483.7,611.0 484.7,609.5 485.7,607.2 486.8,604.1 487.8,599.9 488.8,594.6 489.9,588.2 490.9,580.7 491.9,572.4 493.0,563.3 494.0,553.7 495.0,543.9 496.1,534.0 497.1,523.8 498.2,513.1 499.2,502.0 500.2,490.9 501.3,480.3 502.3,470.6 503.3,461.5 504.4,452.9 505.4,444.8 506.4,437.4 507.5,430.9 508.5,425.2 509.5,420.5 510.6,416.7 511.6,413.8 512.6,411.8 513.7,410.5 514.7,409.8 515.7,409.7 516.8,410.1 517.8,411.1 518.8,412.7 519.9,414.9 520.9,417.4 521.9,420.3 523.0,423.4 524.0,426.8 525.0,430.6 526.1,434.7 527.1,439.0 528.1,443.6 529.2,448.2 530.2,452.9 531.2,457.6 532.3,462.5 533.3,467.6 534.3,472.8 535.4,478.0 536.4,483.1 537.5,487.9 538.5,492.5 539.5,496.7 540.6,500.7 541.6,504.3 542.6,507.7 543.7,511.0 544.7,514.1 545.7,517.0 546.8,519.7 547.8,522.1 548.8,524.2 549.9,526.0 550.9,527.8 551.9,529.4 553.0,531.0 554.0,532.7 555.0,534.3 556.1,535.9 557.1,537.5 558.1,539.1 559.2,540.7 560.2,542.2 561.2,543.7 562.3,545.2 563.3,546.7 564.3,548.2 565.4,549.7 566.4,551.3 567.4,552.9 568.5,554.6 569.5,556.3 570.5,558.1 571.6,559.9 572.6,561.8 573.6,563.8 574.7,565.9 575.7,568.1 576.8,570.5 577.8,573.1 578.8,575.7 579.9,578.5 580.9,581.4 581.9,584.3 583.0,587.2 584.0,590.1 585.0,593.0 586.1,595.8 587.1,598.6 588.1,601.4 589.2,603.9 590.2,606.3 591.2,608.4 592.3,610.1 593.3,611.5 594.3,612.4 595.4,612.9 596.4,612.7 597.4,611.7 598.5,609.8 599.5,606.8 600.5,602.6 601.6,597.1 602.6,590.5 603.6,582.9 604.7,574.4 605.7,565.2 606.7,555.6 607.8,545.7 608.8,535.1 609.8,523.2 610.9,509.4"/>
<path class="g" d="M446.4,544.7 447.5,546.7 448.5,548.7 449.5,550.8 450.6,552.9 451.6,555.0 452.6,557.2 453.7,559.4 454.7,561.7 455.7,563.9 456.8,566.2 457.8,568.6 458.9,570.9 459.9,573.2 460.9,575.5 462.0,577.8 463.0,580.1 464.0,582.4 465.1,584.8 466.1,587.3 467.1,589.9 468.2,592.6 469.2,595.3 470.2,598.0 471.3,600.5 472.3,603.0 473.3,605.3 474.4,607.4 475.4,609.4 476.4,611.2 477.5,612.8 478.5,614.2 479.5,615.2 480.6,615.9 481.6,616.1 482.6,615.7 483.7,614.7 484.7,612.9 485.7,610.4 486.8,606.9 487.8,602.4 488.8,596.8 489.9,590.0 490.9,582.2 491.9,573.4 493.0,563.9 494.0,554.0 495.0,543.8 496.1,533.5 497.1,522.8 498.2,511.7 499.2,500.2 500.2,488.7 501.3,477.8 502.3,467.7 503.3,458.2 504.4,449.4 505.4,441.0 506.4,433.4 507.5,426.6 508.5,420.7 509.5,415.8 510.6,411.9 511.6,408.9 512.6,406.8 513.7,405.4 514.7,404.6 515.7,404.5 516.8,404.8 517.8,405.8 518.8,407.4 519.9,409.6 520.9,412.2 521.9,415.1 523.0,418.3 524.0,421.8 525.0,425.6 526.1,429.8 527.1,434.3 528.1,439.0 529.2,443.7 530.2,448.6 531.2,453.5 532.3,458.6 533.3,463.9 534.3,469.3 535.4,474.8 536.4,480.1 537.5,485.2 538.5,490.0 539.5,494.5 540.6,498.7 541.6,502.5 542.6,506.2 543.7,509.6 544.7,512.9 545.7,516.1 546.8,518.9 547.8,521.5 548.8,523.7 549.9,525.7 550.9,527.5 551.9,529.2 553.0,530.9 554.0,532.6 555.0,534.3 556.1,536.0 557.1,537.6 558.1,539.2 559.2,540.7 560.2,542.2 561.2,543.6 562.3,545.0 563.3,546.5 564.3,547.9 565.4,549.4 566.4,550.9 567.4,552.4 568.5,554.0 569.5,555.6 570.5,557.4 571.6,559.2 572.6,561.1 573.6,563.1 574.7,565.2 575.7,567.5 576.8,570.0 577.8,572.6 578.8,575.5 579.9,578.4 580.9,581.5 581.9,584.6 583.0,587.8 584.0,591.0 585.0,594.2 586.1,597.4 587.1,600.5 588.1,603.6 589.2,606.6 590.2,609.3 591.2,611.8 592.3,613.9 593.3,615.6 594.3,616.9 595.4,617.7 596.4,617.8 597.4,617.0 598.5,615.3 599.5,612.4 600.5,608.3 601.6,602.8 602.6,596.1 603.6,588.3 604.7,579.5 605.7,570.0 606.7,560.0 607.8,549.7 608.8,538.6 609.8,526.2 610.9,511.7"/>
<path class="g" d="M446.4,539.4 447.5,540.8 448.5,542.3 449.5,543.8 450.6,545.4 451.6,547.0 452.6,548.7 453.7,550.4 454.7,552.2 455.7,554.1 456.8,556.1 457.8,558.1 458.9,560.2 459.9,562.3 460.9,564.5 462.0,566.8 463.0,569.1 464.0,571.5 465.1,574.0 466.1,576.8 467.1,579.7 468.2,582.7 469.2,585.8 470.2,588.9 471.3,591.9 472.3,594.8 473.3,597.7 474.4,600.4 475.4,602.9 476.4,605.3 477.5,607.5 478.5,609.4 479.5,611.0 480.6,612.2 481.6,612.9 482.6,613.1 483.7,612.5 484.7,611.1 485.7,608.9 486.8,605.7 487.8,601.5 488.8,596.0 489.9,589.3 490.9,581.5 491.9,572.7 493.0,563.2 494.0,553.1 495.0,542.8 496.1,532.3 497.1,521.5 498.2,510.1 499.2,498.3 500.2,486.6 501.3,475.4 502.3,465.0 503.3,455.4 504.4,446.3 505.4,437.8 506.4,430.0 507.5,423.1 508.5,417.1 509.5,412.1 510.6,408.2 511.6,405.2 512.6,403.2 513.7,401.9 514.7,401.2 515.7,401.1 516.8,401.6 517.8,402.8 518.8,404.5 519.9,406.9 520.9,409.7 521.9,412.8 523.0,416.1 524.0,419.7 525.0,423.6 526.1,427.9 527.1,432.5 528.1,437.3 529.2,442.1 530.2,446.9 531.2,451.8 532.3,456.8 533.3,462.0 534.3,467.3 535.4,472.6 536.4,477.8 537.5,482.7 538.5,487.2 539.5,491.5 540.6,495.4 541.6,499.0 542.6,502.4 543.7,505.6 544.7,508.7 545.7,511.6 546.8,514.2 547.8,516.6 548.8,518.7 549.9,520.5 550.9,522.3 551.9,524.0 553.0,525.7 554.0,527.4 555.0,529.2 556.1,531.0 557.1,532.8 558.1,534.7 559.2,536.5 560.2,538.3 561.2,540.1 562.3,542.0 563.3,543.8 564.3,545.7 565.4,547.7 566.4,549.7 567.4,551.7 568.5,553.8 569.5,556.0 570.5,558.2 571.6,560.4 572.6,562.7 573.6,565.1 574.7,567.7 575.7,570.3 576.8,573.0 577.8,575.9 578.8,578.9 579.9,582.0 580.9,585.1 581.9,588.3 583.0,591.4 584.0,594.5 585.0,597.6 586.1,600.5 587.1,603.4 588.1,606.2 589.2,608.9 590.2,611.2 591.2,613.3 592.3,615.0 593.3,616.2 594.3,617.1 595.4,617.3 596.4,616.9 597.4,615.7 598.5,613.4 599.5,610.0 600.5,605.4 601.6,599.6 602.6,592.7 603.6,584.7 604.7,576.0 605.7,566.6 606.7,556.9 607.8,547.1 608.8,536.6 609.8,524.8 610.9,511.2"/>
<path class="g" d="M446.4,540.2 447.5,541.5 448.5,542.9 449.5,544.3 450.6,545.8 451.6,547.3 452.6,548.8 453.7,550.4 454.7,552.1 455.7,553.8 456.8,555.6 457.8,557.5 458.9,559.5 459.9,561.5 460.9,563.5 462.0,565.6 463.0,567.7 464.0,570.0 465.1,572.4 466.1,575.0 467.1,577.7 468.2,580.6 469.2,583.5 470.2,586.4 471.3,589.2 472.3,592.0 473.3,594.7 474.4,597.2 475.4,599.6 476.4,601.8 477.5,603.9 478.5,605.7 479.5,607.1 480.6,608.2 481.6,608.8 482.6,608.9 483.7,608.3 484.7,606.9 485.7,604.7 486.8,601.7 487.8,597.6 488.8,592.3 489.9,585.9 490.9,578.5 491.9,570.2 493.0,561.1 494.0,551.5 495.0,541.7 496.1,531.8 497.1,521.5 498.2,510.7 499.2,499.6 500.2,488.4 501.3,477.8 502.3,468.0 503.3,458.9 504.4,450.3 505.4,442.2 506.4,434.8 507.5,428.2 508.5,422.5 509.5,417.8 510.6,414.0 511.6,411.2 512.6,409.2 513.7,408.0 514.7,407.3 515.7,407.3 516.8,407.7 517.8,408.8 518.8,410.5 519.9,412.7 520.9,415.4 521.9,418.3 523.0,421.4 524.0,424.9 525.0,428.6 526.1,432.7 527.1,437.0 528.1,441.5 529.2,446.0 530.2,450.6 531.2,455.2 532.3,459.9 533.3,464.8 534.3,469.8 535.4,474.7 536.4,479.5 537.5,484.1 538.5,488.3 539.5,492.3 540.6,496.0 541.6,499.3 542.6,502.4 543.7,505.4 544.7,508.2 545.7,510.9 546.8,513.3 547.8,515.5 548.8,517.4 549.9,519.2 550.9,520.8 551.9,522.3 553.0,523.9 554.0,525.6 555.0,527.3 556.1,529.0 557.1,530.7 558.1,532.5 559.2,534.2 560.2,536.0 561.2,537.8 562.3,539.6 563.3,541.4 564.3,543.3 565.4,545.2 566.4,547.1 567.4,549.1 568.5,551.2 569.5,553.3 570.5,555.5 571.6,557.7 572.6,559.9 573.6,562.2 574.7,564.6 575.7,567.2 576.8,569.8 577.8,572.5 578.8,575.4 579.9,578.3 580.9,581.2 581.9,584.2 583.0,587.1 584.0,590.0 585.0,592.8 586.1,595.5 587.1,598.2 588.1,600.8 589.2,603.2 590.2,605.4 591.2,607.2 592.3,608.8 593.3,609.9 594.3,610.7 595.4,610.9 596.4,610.5 597.4,609.4 598.5,607.3 599.5,604.1 600.5,599.8 601.6,594.5 602.6,588.0 603.6,580.6 604.7,572.4 605.7,563.6 606.7,554.6 607.8,545.3 608.8,535.5 609.8,524.4 610.9,511.6"/>
</g>
<path class="a" d="M446.5,380.8 L446.5,630.0 M446.0,629.5 L707.8,629.5"/>
<path class="a" d="M540.1,629.5 L540.1,626.5 M633.4,629.5 L633.4,626.5 M446.5,412.6 L449.5,412.6 M446.5,463.6 L449.5,463.6 M446.5,514.5 L449.5,514.5 M446.5,565.4 L449.5,565.4 M446.5,616.4 L449.5,616.4"/>
<path class="b" d="M446.4,539.7 447.5,541.3 448.5,542.8 449.5,544.5 450.6,546.1 451.6,547.8 452.6,549.6 453.7,551.3 454.7,553.2 455.7,555.1 456.8,557.1 457.8,559.1 458.9,561.2 459.9,563.3 460.9,565.5 462.0,567.6 463.0,569.9 464.0,572.2 465.1,574.6 466.1,577.2 467.1,580.0 468.2,582.8 469.2,585.8 470.2,588.7 471.3,591.5 472.3,594.2 473.3,596.9 474.4,599.4 475.4,601.8 476.4,604.0 477.5,606.0 478.5,607.8 479.5,609.2 480.6,610.3 481.6,610.8 482.6,610.9 483.7,610.2 484.7,608.8 485.7,606.6 486.8,603.5 487.8,599.4 488.8,594.1 489.9,587.6 490.9,580.1 491.9,571.7 493.0,562.5 494.0,552.8 495.0,542.9 496.1,532.8 497.1,522.4 498.2,511.5 499.2,500.2 500.2,488.9 501.3,478.1 502.3,468.2 503.3,458.9 504.4,450.2 505.4,442.0 506.4,434.4 507.5,427.7 508.5,421.9 509.5,417.1 510.6,413.2 511.6,410.3 512.6,408.3 513.7,407.0 514.7,406.3 515.7,406.2 516.8,406.6 517.8,407.7 518.8,409.3 519.9,411.6 520.9,414.3 521.9,417.2 523.0,420.5 524.0,424.0 525.0,427.8 526.1,432.0 527.1,436.5 528.1,441.1 529.2,445.8 530.2,450.5 531.2,455.3 532.3,460.3 533.3,465.4 534.3,470.6 535.4,475.8 536.4,480.9 537.5,485.7 538.5,490.2 539.5,494.4 540.6,498.3 541.6,501.9 542.6,505.2 543.7,508.4 544.7,511.4 545.7,514.3 546.8,516.9 547.8,519.2 548.8,521.2 549.9,523.0 550.9,524.7 551.9,526.3 553.0,527.9 554.0,529.6 555.0,531.2 556.1,532.9 557.1,534.6 558.1,536.2 559.2,537.9 560.2,539.5 561.2,541.1 562.3,542.8 563.3,544.4 564.3,546.1 565.4,547.9 566.4,549.6 567.4,551.5 568.5,553.3 569.5,555.2 570.5,557.2 571.6,559.2 572.6,561.3 573.6,563.5 574.7,565.8 575.7,568.2 576.8,570.7 577.8,573.4 578.8,576.2 579.9,579.0 580.9,581.9 581.9,584.9 583.0,587.8 584.0,590.7 585.0,593.5 586.1,596.3 587.1,599.1 588.1,601.7 589.2,604.2 590.2,606.4 591.2,608.3 592.3,609.9 593.3,611.1 594.3,611.9 595.4,612.2 596.4,611.8 597.4,610.7 598.5,608.6 599.5,605.3 600.5,601.0 601.6,595.4 602.6,588.6 603.6,580.9 604.7,572.3 605.7,563.0 606.7,553.4 607.8,543.6 608.8,533.0 609.8,521.2 610.9,507.6"/>
<text class="t" transform="translate(445.7,660.3) scale(1,1.05)" text-anchor="middle">0</text>
<text class="t" transform="translate(539.3,660.3) scale(1,1.05)" text-anchor="middle">0.5</text>
<text class="t" transform="translate(632.6,660.3) scale(1,1.05)" text-anchor="middle">1</text>
<text class="t" transform="translate(437.7,422.0) scale(1,1.05)" text-anchor="end">0.1</text>
<text class="t" transform="translate(437.7,473.0) scale(1,1.05)" text-anchor="end">0.05</text>
<text class="t" transform="translate(437.7,523.9) scale(1,1.05)" text-anchor="end">0</text>
<text class="t" transform="translate(437.7,574.8) scale(1,1.05)" text-anchor="end">-0.05</text>
<text class="t" transform="translate(437.7,625.8) scale(1,1.05)" text-anchor="end">-0.1</text>
<text class="l" transform="translate(577.1,692.5) scale(1,1.05)" text-anchor="middle">time/s</text>
<text class="l" transform="translate(377.7,505.1) rotate(-90) scale(1,1.05)" text-anchor="middle">amplitude/a.u.</text>
</g>
<g id="p7">
<clipPath id="c6"><rect x="817.5" y="378.8" width="261.0" height="250.7"/></clipPath>
<g clip-path="url(#c6)">
<path class="g" d="M817.4,461.3 818.5,462.8 819.5,464.5 820.5,466.1 821.6,467.8 822.6,469.6 823.6,471.3 824.7,473.0 825.7,474.7 826.7,476.3 827.8,477.9 828.8,479.5 829.8,481.0 830.9,482.6 831.9,484.2 832.9,485.9 834.0,487.7 835.0,489.6 836.0,491.6 837.1,493.7 838.1,496.0 839.1,498.3 840.2,500.7 841.2,503.0 842.2,505.3 843.3,507.5 844.3,509.6 845.3,511.6 846.4,513.6 847.4,515.6 848.4,517.4 849.5,519.0 850.5,520.2 851.5,521.0 852.6,521.4 853.6,521.4 854.6,521.0 855.6,520.0 856.7,518.4 857.7,515.8 858.7,512.6 859.8,508.8 860.8,504.5 861.8,499.6 862.9,493.9 863.9,487.4 864.9,480.5 866.0,473.5 867.0,466.7 868.0,460.0 869.1,453.3 870.1,446.8 871.1,440.7 872.2,435.0 873.2,429.7 874.2,424.9 875.3,420.5 876.3,416.6 877.3,413.3 878.4,410.5 879.4,408.2 880.4,406.3 881.5,404.8 882.5,403.6 883.5,402.6 884.6,402.0 885.6,401.6 886.6,401.4 887.7,401.5 888.7,401.8 889.7,402.4 890.8,403.2 891.8,404.3 892.8,405.6 893.9,407.2 894.9,409.1 895.9,411.2 897.0,413.5 898.0,416.0 899.0,418.6 900.1,421.3 901.1,424.0 902.1,426.7 903.2,429.3 904.2,431.7 905.2,433.9 906.2,436.0 907.3,437.8 908.3,439.5 909.3,440.9 910.4,442.2 911.4,443.2 912.4,444.1 913.5,444.8 914.5,445.4 915.5,445.9 916.6,446.3 917.6,446.7 918.6,447.1 919.7,447.6 920.7,448.2 921.7,449.0 922.8,450.0 923.8,451.2 924.8,452.6 925.9,454.2 926.9,456.0 927.9,457.9 929.0,459.9 930.0,462.1 931.0,464.3 932.1,466.5 933.1,468.8 934.1,471.0 935.2,473.1 936.2,475.1 937.2,477.1 938.3,478.9 939.3,480.7 940.3,482.5 941.4,484.3 942.4,486.1 943.4,488.1 944.5,490.1 945.5,492.3 946.5,494.6 947.6,496.8 948.6,498.9 949.6,501.0 950.7,503.1 951.7,505.1 952.7,507.2 953.8,509.2 954.8,511.2 955.8,513.3 956.9,515.4 957.9,517.5 958.9,519.4 959.9,520.8 961.0,521.9 962.0,522.7 963.0,523.1 964.1,523.0 965.1,522.7 966.1,522.3 967.2,521.9 968.2,521.3 969.2,520.5 970.3,519.0 971.3,516.7 972.3,513.7 973.4,509.8 974.4,505.1 975.4,499.3 976.5,492.8 977.5,485.6 978.5,477.8 979.6,470.1 980.6,462.9 981.6,457.0"/>
<path class="g" d="M817.4,466.3 818.5,468.4 819.5,470.6 820.5,472.8 821.6,475.1 822.6,477.5 823.6,479.8 824.7,482.2 825.7,484.6 826.7,486.9 827.8,489.2 828.8,491.5 829.8,493.9 830.9,496.2 831.9,498.7 832.9,501.3 834.0,504.0 835.0,506.8 836.0,509.9 837.1,513.2 838.1,516.6 839.1,520.3 840.2,524.0 841.2,527.7 842.2,531.3 843.3,534.8 844.3,538.2 845.3,541.4 846.4,544.5 847.4,547.5 848.4,550.3 849.5,552.6 850.5,554.5 851.5,555.8 852.6,556.4 853.6,556.5 854.6,555.9 855.6,554.4 856.7,551.7 857.7,547.9 858.7,543.0 859.8,537.3 860.8,531.1 861.8,524.2 862.9,516.5 863.9,508.2 864.9,499.7 866.0,491.7 867.0,484.8 868.0,478.9 869.1,473.7 870.1,468.9 871.1,464.4 872.2,459.7 873.2,455.0 874.2,450.5 875.3,446.5 876.3,442.9 877.3,439.7 878.4,437.0 879.4,434.5 880.4,432.2 881.5,430.0 882.5,428.0 883.5,426.1 884.6,424.3 885.6,422.6 886.6,421.1 887.7,419.8 888.7,418.7 889.7,417.9 890.8,417.4 891.8,417.2 892.8,417.3 893.9,417.6 894.9,418.0 895.9,418.6 897.0,419.4 898.0,420.4 899.0,421.8 900.1,423.4 901.1,425.4 902.1,427.6 903.2,430.0 904.2,432.3 905.2,434.4 906.2,436.4 907.3,438.2 908.3,439.8 909.3,441.3 910.4,442.5 911.4,443.6 912.4,444.5 913.5,445.3 914.5,445.9 915.5,446.4 916.6,446.9 917.6,447.3 918.6,447.9 919.7,448.4 920.7,449.2 921.7,450.0 922.8,451.2 923.8,452.5 924.8,454.0 925.9,455.8 926.9,457.7 927.9,459.8 929.0,462.0 930.0,464.3 931.0,466.7 932.1,469.1 933.1,471.5 934.1,474.0 935.2,476.3 936.2,478.6 937.2,480.8 938.3,482.9 939.3,485.0 940.3,487.0 941.4,489.2 942.4,491.4 943.4,493.7 944.5,496.2 945.5,498.8 946.5,501.6 947.6,504.6 948.6,507.8 949.6,511.0 950.7,514.4 951.7,517.9 952.7,521.5 953.8,525.2 954.8,528.9 955.8,532.6 956.9,536.4 957.9,540.1 958.9,543.7 959.9,547.1 961.0,550.3 962.0,553.1 963.0,555.3 964.1,556.9 965.1,557.6 966.1,557.7 967.2,557.2 968.2,555.7 969.2,553.4 970.3,549.9 971.3,545.5 972.3,540.1 973.4,533.8 974.4,526.8 975.4,519.1 976.5,510.8 977.5,501.9 978.5,492.5 979.6,483.2 980.6,474.5 981.6,467.0"/>
<path class="g" d="M817.4,468.3 818.5,470.9 819.5,473.6 820.5,476.3 821.6,479.0 822.6,481.8 823.6,484.6 824.7,487.3 825.7,490.1 826.7,492.8 827.8,495.4 828.8,498.1 829.8,500.7 830.9,503.4 831.9,506.1 832.9,508.9 834.0,511.8 835.0,514.9 836.0,518.2 837.1,521.7 838.1,525.4 839.1,529.2 840.2,533.0 841.2,536.8 842.2,540.6 843.3,544.2 844.3,547.7 845.3,551.0 846.4,554.2 847.4,557.3 848.4,560.1 849.5,562.5 850.5,564.5 851.5,565.8 852.6,566.4 853.6,566.5 854.6,565.8 855.6,564.1 856.7,561.2 857.7,556.9 858.7,551.5 859.8,545.2 860.8,538.2 861.8,530.4 862.9,521.8 863.9,512.3 864.9,502.5 866.0,492.8 867.0,483.5 868.0,474.6 869.1,466.2 870.1,458.1 871.1,450.5 872.2,443.4 873.2,436.7 874.2,430.5 875.3,424.9 876.3,419.9 877.3,415.5 878.4,411.8 879.4,408.6 880.4,405.9 881.5,403.6 882.5,401.8 883.5,400.4 884.6,399.4 885.6,398.8 886.6,398.5 887.7,398.5 888.7,398.9 889.7,399.6 890.8,400.6 891.8,402.0 892.8,403.7 893.9,405.7 894.9,408.0 895.9,410.6 897.0,413.4 898.0,416.5 899.0,419.7 900.1,423.0 901.1,426.3 902.1,429.7 903.2,432.9 904.2,436.0 905.2,438.9 906.2,441.7 907.3,444.3 908.3,446.6 909.3,448.8 910.4,450.7 911.4,452.4 912.4,454.0 913.5,455.3 914.5,456.5 915.5,457.5 916.6,458.5 917.6,459.3 918.6,460.2 919.7,461.1 920.7,462.2 921.7,463.4 922.8,464.8 923.8,466.4 924.8,468.3 925.9,470.2 926.9,472.4 927.9,474.6 929.0,477.0 930.0,479.4 931.0,481.9 932.1,484.3 933.1,486.8 934.1,489.1 935.2,491.4 936.2,493.5 937.2,495.4 938.3,497.1 939.3,498.8 940.3,500.5 941.4,502.1 942.4,503.8 943.4,505.7 944.5,507.7 945.5,509.9 946.5,512.4 947.6,515.1 948.6,518.1 949.6,521.4 950.7,524.9 951.7,528.8 952.7,533.1 953.8,537.8 954.8,542.8 955.8,548.1 956.9,553.5 957.9,559.1 958.9,564.6 959.9,570.0 961.0,575.2 962.0,580.0 963.0,584.1 964.1,587.4 965.1,589.8 966.1,591.4 967.2,592.2 968.2,592.2 969.2,591.1 970.3,589.1 971.3,586.0 972.3,582.2 973.4,577.5 974.4,572.3 975.4,566.6 976.5,560.5 977.5,553.8 978.5,546.8 979.6,539.9 980.6,533.8 981.6,529.0"/>
<path class="g" d="M817.4,458.3 818.5,461.7 819.5,465.2 820.5,468.7 821.6,472.2 822.6,475.7 823.6,479.1 824.7,482.6 825.7,485.9 826.7,489.2 827.8,492.5 828.8,495.6 829.8,498.8 830.9,501.9 831.9,505.1 832.9,508.4 834.0,511.8 835.0,515.3 836.0,518.9 837.1,522.7 838.1,526.7 839.1,530.8 840.2,534.9 841.2,539.0 842.2,542.9 843.3,546.7 844.3,550.3 845.3,553.8 846.4,557.1 847.4,560.3 848.4,563.2 849.5,565.6 850.5,567.5 851.5,568.8 852.6,569.5 853.6,569.5 854.6,568.6 855.6,566.7 856.7,563.5 857.7,558.8 858.7,552.9 859.8,546.1 860.8,538.5 861.8,530.0 862.9,520.6 863.9,510.4 864.9,499.8 866.0,489.3 867.0,479.1 868.0,469.3 869.1,460.0 870.1,451.0 871.1,442.6 872.2,434.5 873.2,426.9 874.2,419.9 875.3,413.4 876.3,407.5 877.3,402.3 878.4,397.8 879.4,393.9 880.4,390.6 881.5,387.7 882.5,385.4 883.5,383.5 884.6,382.1 885.6,381.1 886.6,380.6 887.7,380.5 888.7,380.8 889.7,381.4 890.8,382.3 891.8,383.6 892.8,385.3 893.9,387.2 894.9,389.5 895.9,392.1 897.0,395.0 898.0,398.0 899.0,401.3 900.1,404.6 901.1,408.0 902.1,411.4 903.2,414.7 904.2,417.9 905.2,421.0 906.2,423.8 907.3,426.5 908.3,429.0 909.3,431.3 910.4,433.4 911.4,435.2 912.4,436.9 913.5,438.5 914.5,439.8 915.5,441.0 916.6,442.1 917.6,443.2 918.6,444.3 919.7,445.4 920.7,446.7 921.7,448.1 922.8,449.7 923.8,451.6 924.8,453.6 925.9,455.9 926.9,458.3 927.9,460.9 929.0,463.6 930.0,466.4 931.0,469.3 932.1,472.2 933.1,475.1 934.1,478.0 935.2,480.8 936.2,483.5 937.2,486.2 938.3,488.7 939.3,491.2 940.3,493.7 941.4,496.2 942.4,498.8 943.4,501.5 944.5,504.3 945.5,507.3 946.5,510.4 947.6,513.7 948.6,517.1 949.6,520.7 950.7,524.3 951.7,528.0 952.7,531.7 953.8,535.5 954.8,539.4 955.8,543.2 956.9,547.0 957.9,550.8 958.9,554.3 959.9,557.7 961.0,560.8 962.0,563.5 963.0,565.5 964.1,566.9 965.1,567.4 966.1,567.2 967.2,566.1 968.2,563.9 969.2,560.5 970.3,555.7 971.3,549.6 972.3,542.5 973.4,534.3 974.4,525.2 975.4,515.3 976.5,504.7 977.5,493.4 978.5,481.6 979.6,469.9 980.6,458.8 981.6,449.0"/>
<path class="g" d="M817.4,462.3 818.5,465.0 819.5,467.7 820.5,470.5 821.6,473.4 822.6,476.2 823.6,479.1 824.7,481.9 825.7,484.7 826.7,487.5 827.8,490.2 828.8,492.9 829.8,495.6 830.9,498.3 831.9,501.1 832.9,504.0 834.0,507.0 835.0,510.2 836.0,513.5 837.1,517.0 838.1,520.8 839.1,524.6 840.2,528.5 841.2,532.4 842.2,536.2 843.3,539.9 844.3,543.4 845.3,546.8 846.4,550.0 847.4,553.1 848.4,556.0 849.5,558.4 850.5,560.4 851.5,561.7 852.6,562.4 853.6,562.5 854.6,561.8 855.6,560.2 856.7,557.3 857.7,553.0 858.7,547.6 859.8,541.3 860.8,534.3 861.8,526.5 862.9,517.8 863.9,508.4 864.9,498.6 866.0,488.9 867.0,479.5 868.0,470.6 869.1,462.2 870.1,454.1 871.1,446.5 872.2,439.3 873.2,432.6 874.2,426.4 875.3,420.7 876.3,415.6 877.3,411.2 878.4,407.4 879.4,404.1 880.4,401.4 881.5,399.1 882.5,397.2 883.5,395.7 884.6,394.6 885.6,393.9 886.6,393.5 887.7,393.5 888.7,393.7 889.7,394.2 890.8,395.0 891.8,396.1 892.8,397.4 893.9,399.1 894.9,400.9 895.9,403.1 897.0,405.4 898.0,407.9 899.0,410.6 900.1,413.3 901.1,416.1 902.1,418.8 903.2,421.5 904.2,423.9 905.2,426.3 906.2,428.4 907.3,430.4 908.3,432.1 909.3,433.7 910.4,435.1 911.4,436.3 912.4,437.3 913.5,438.1 914.5,438.9 915.5,439.5 916.6,440.0 917.6,440.6 918.6,441.1 919.7,441.8 920.7,442.6 921.7,443.7 922.8,444.9 923.8,446.4 924.8,448.2 925.9,450.1 926.9,452.3 927.9,454.6 929.0,457.1 930.0,459.7 931.0,462.4 932.1,465.2 933.1,468.0 934.1,470.7 935.2,473.5 936.2,476.1 937.2,478.7 938.3,481.2 939.3,483.7 940.3,486.2 941.4,488.7 942.4,491.4 943.4,494.1 944.5,497.0 945.5,500.0 946.5,503.2 947.6,506.6 948.6,510.1 949.6,513.8 950.7,517.5 951.7,521.4 952.7,525.3 953.8,529.2 954.8,533.2 955.8,537.2 956.9,541.2 957.9,545.2 958.9,548.9 959.9,552.5 961.0,555.8 962.0,558.7 963.0,560.9 964.1,562.5 965.1,563.2 966.1,563.2 967.2,562.5 968.2,560.8 969.2,557.9 970.3,554.0 971.3,548.9 972.3,542.7 973.4,535.7 974.4,527.8 975.4,519.2 976.5,509.9 977.5,500.0 978.5,489.6 979.6,479.2 980.6,469.5 981.6,461.0"/>
<path class="g" d="M817.4,454.3 818.5,456.5 819.5,458.8 820.5,461.2 821.6,463.6 822.6,466.1 823.6,468.6 824.7,471.1 825.7,473.6 826.7,476.0 827.8,478.4 828.8,480.9 829.8,483.3 830.9,485.8 831.9,488.4 832.9,491.1 834.0,493.9 835.0,496.8 836.0,500.0 837.1,503.4 838.1,507.0 839.1,510.8 840.2,514.6 841.2,518.4 842.2,522.1 843.3,525.7 844.3,529.2 845.3,532.6 846.4,535.8 847.4,538.9 848.4,541.7 849.5,544.2 850.5,546.2 851.5,547.6 852.6,548.4 853.6,548.5 854.6,548.0 855.6,546.5 856.7,543.9 857.7,539.9 858.7,534.9 859.8,529.0 860.8,522.5 861.8,515.2 862.9,507.0 863.9,498.1 864.9,488.9 866.0,479.8 867.0,471.2 868.0,462.9 869.1,455.1 870.1,447.8 871.1,440.8 872.2,434.4 873.2,428.3 874.2,422.8 875.3,417.8 876.3,413.4 877.3,409.6 878.4,406.4 879.4,403.8 880.4,401.6 881.5,399.8 882.5,398.5 883.5,397.4 884.6,396.8 885.6,396.4 886.6,396.3 887.7,396.5 888.7,397.1 889.7,397.9 890.8,399.1 891.8,400.6 892.8,402.4 893.9,404.5 894.9,407.0 895.9,409.7 897.0,412.6 898.0,415.7 899.0,419.0 900.1,422.4 901.1,425.8 902.1,429.1 903.2,432.4 904.2,435.5 905.2,438.4 906.2,441.1 907.3,443.6 908.3,445.9 909.3,447.9 910.4,449.7 911.4,451.3 912.4,452.6 913.5,453.8 914.5,454.7 915.5,455.4 916.6,456.1 917.6,456.6 918.6,457.1 919.7,457.6 920.7,458.2 921.7,458.9 922.8,459.8 923.8,460.8 924.8,462.0 925.9,463.4 926.9,464.9 927.9,466.6 929.0,468.3 930.0,470.1 931.0,472.0 932.1,473.9 933.1,475.8 934.1,477.6 935.2,479.4 936.2,481.1 937.2,482.7 938.3,484.2 939.3,485.7 940.3,487.2 941.4,488.7 942.4,490.3 943.4,492.1 944.5,494.0 945.5,496.0 946.5,498.3 947.6,500.7 948.6,503.4 949.6,506.2 950.7,509.1 951.7,512.1 952.7,515.3 953.8,518.5 954.8,521.9 955.8,525.3 956.9,528.7 957.9,532.2 958.9,535.6 959.9,538.8 961.0,541.8 962.0,544.5 963.0,546.7 964.1,548.2 965.1,549.1 966.1,549.2 967.2,548.9 968.2,547.8 969.2,545.9 970.3,543.1 971.3,539.3 972.3,534.7 973.4,529.3 974.4,523.3 975.4,516.6 976.5,509.3 977.5,501.5 978.5,493.2 979.6,484.9 980.6,477.4 981.6,471.0"/>
<path class="g" d="M817.4,469.3 818.5,471.3 819.5,473.5 820.5,475.7 821.6,478.0 822.6,480.3 823.6,482.6 824.7,484.9 825.7,487.3 826.7,489.6 827.8,491.9 828.8,494.1 829.8,496.4 830.9,498.8 831.9,501.2 832.9,503.7 834.0,506.4 835.0,509.3 836.0,512.3 837.1,515.6 838.1,519.1 839.1,522.7 840.2,526.4 841.2,530.1 842.2,533.8 843.3,537.3 844.3,540.7 845.3,544.0 846.4,547.1 847.4,550.1 848.4,552.9 849.5,555.4 850.5,557.3 851.5,558.7 852.6,559.4 853.6,559.5 854.6,558.9 855.6,557.5 856.7,554.8 857.7,550.9 858.7,545.8 859.8,540.0 860.8,533.4 861.8,526.2 862.9,518.1 863.9,509.2 864.9,500.0 866.0,490.9 867.0,482.3 868.0,474.1 869.1,466.3 870.1,459.0 871.1,452.1 872.2,445.6 873.2,439.6 874.2,434.1 875.3,429.1 876.3,424.7 877.3,421.0 878.4,417.8 879.4,415.1 880.4,412.9 881.5,411.1 882.5,409.7 883.5,408.7 884.6,407.9 885.6,407.5 886.6,407.4 887.7,407.5 888.7,407.9 889.7,408.6 890.8,409.5 891.8,410.8 892.8,412.3 893.9,414.1 894.9,416.1 895.9,418.4 897.0,420.9 898.0,423.6 899.0,426.4 900.1,429.4 901.1,432.3 902.1,435.2 903.2,438.0 904.2,440.6 905.2,443.1 906.2,445.4 907.3,447.5 908.3,449.3 909.3,451.0 910.4,452.5 911.4,453.8 912.4,454.9 913.5,455.9 914.5,456.7 915.5,457.3 916.6,457.9 917.6,458.5 918.6,459.1 919.7,459.8 920.7,460.6 921.7,461.6 922.8,462.8 923.8,464.2 924.8,465.8 925.9,467.6 926.9,469.6 927.9,471.7 929.0,473.9 930.0,476.3 931.0,478.7 932.1,481.2 933.1,483.7 934.1,486.2 935.2,488.6 936.2,491.0 937.2,493.2 938.3,495.4 939.3,497.5 940.3,499.7 941.4,501.9 942.4,504.2 943.4,506.6 944.5,509.1 945.5,511.8 946.5,514.7 947.6,517.7 948.6,520.9 949.6,524.3 950.7,527.7 951.7,531.3 952.7,534.9 953.8,538.6 954.8,542.4 955.8,546.1 956.9,549.9 957.9,553.7 958.9,557.3 959.9,560.7 961.0,563.9 962.0,566.7 963.0,568.9 964.1,570.4 965.1,571.2 966.1,571.2 967.2,570.6 968.2,569.0 969.2,566.4 970.3,562.7 971.3,558.0 972.3,552.2 973.4,545.6 974.4,538.1 975.4,530.0 976.5,521.3 977.5,511.8 978.5,501.9 979.6,492.1 980.6,483.0 981.6,475.0"/>
<path class="g" d="M817.4,467.3 818.5,468.5 819.5,469.9 820.5,471.3 821.6,472.8 822.6,474.4 823.6,476.1 824.7,477.7 825.7,479.4 826.7,481.1 827.8,482.8 828.8,484.5 829.8,486.3 830.9,488.2 831.9,490.1 832.9,492.2 834.0,494.5 835.0,496.9 836.0,499.6 837.1,502.5 838.1,505.7 839.1,509.1 840.2,512.5 841.2,516.0 842.2,519.4 843.3,522.7 844.3,526.0 845.3,529.1 846.4,532.2 847.4,535.1 848.4,537.9 849.5,540.3 850.5,542.2 851.5,543.6 852.6,544.3 853.6,544.5 854.6,544.1 855.6,542.9 856.7,540.6 857.7,537.0 858.7,532.5 859.8,527.1 860.8,521.2 861.8,514.5 862.9,507.1 863.9,499.0 864.9,490.6 866.0,482.3 867.0,474.5 868.0,467.1 869.1,460.2 870.1,453.7 871.1,447.6 872.2,442.0 873.2,436.8 874.2,432.1 875.3,427.9 876.3,424.2 877.3,421.2 878.4,418.7 879.4,416.6 880.4,415.0 881.5,413.7 882.5,412.7 883.5,412.1 884.6,411.6 885.6,411.4 886.6,411.4 887.7,411.5 888.7,411.8 889.7,412.4 890.8,413.1 891.8,414.0 892.8,415.2 893.9,416.5 894.9,418.1 895.9,419.8 897.0,421.8 898.0,423.8 899.0,426.0 900.1,428.2 901.1,430.4 902.1,432.5 903.2,434.5 904.2,436.4 905.2,438.1 906.2,439.6 907.3,440.9 908.3,441.9 909.3,442.8 910.4,443.5 911.4,444.1 912.4,444.5 913.5,444.7 914.5,444.8 915.5,444.8 916.6,444.9 917.6,444.9 918.6,445.0 919.7,445.2 920.7,445.5 921.7,446.0 922.8,446.7 923.8,447.6 924.8,448.7 925.9,450.1 926.9,451.6 927.9,453.2 929.0,455.0 930.0,457.0 931.0,459.0 932.1,461.0 933.1,463.1 934.1,465.2 935.2,467.2 936.2,469.1 937.2,471.0 938.3,472.8 939.3,474.6 940.3,476.4 941.4,478.3 942.4,480.3 943.4,482.3 944.5,484.6 945.5,487.0 946.5,489.6 947.6,492.5 948.6,495.4 949.6,498.6 950.7,501.9 951.7,505.3 952.7,508.7 953.8,512.3 954.8,516.0 955.8,519.7 956.9,523.4 957.9,527.1 958.9,530.7 959.9,534.2 961.0,537.4 962.0,540.2 963.0,542.5 964.1,544.1 965.1,545.0 966.1,545.3 967.2,544.9 968.2,543.8 969.2,541.8 970.3,538.8 971.3,534.9 972.3,530.1 973.4,524.5 974.4,518.2 975.4,511.3 976.5,503.8 977.5,495.6 978.5,487.1 979.6,478.5 980.6,470.7 981.6,464.0"/>
<path class="g" d="M817.4,475.0 818.5,476.5 819.5,478.0 820.5,479.6 821.6,481.3 822.6,482.9 823.6,484.6 824.7,486.2 825.7,487.9 826.7,489.6 827.8,491.2 828.8,492.9 829.8,494.6 830.9,496.4 831.9,498.2 832.9,500.3 834.0,502.4 835.0,504.8 836.0,507.4 837.1,510.2 838.1,513.2 839.1,516.4 840.2,519.7 841.2,523.0 842.2,526.2 843.3,529.4 844.3,532.5 845.3,535.5 846.4,538.4 847.4,541.2 848.4,543.7 849.5,546.0 850.5,547.8 851.5,549.0 852.6,549.7 853.6,549.8 854.6,549.3 855.6,547.9 856.7,545.5 857.7,541.8 858.7,537.2 859.8,531.8 860.8,525.8 861.8,519.1 862.9,511.6 863.9,503.5 864.9,495.0 866.0,486.6 867.0,478.6 868.0,471.0 869.1,463.8 870.1,456.9 871.1,450.5 872.2,444.5 873.2,438.9 874.2,433.7 875.3,429.1 876.3,425.0 877.3,421.5 878.4,418.6 879.4,416.1 880.4,414.1 881.5,412.5 882.5,411.3 883.5,410.4 884.6,409.9 885.6,409.6 886.6,409.7 887.7,409.9 888.7,410.5 889.7,411.3 890.8,412.3 891.8,413.6 892.8,415.1 893.9,416.9 894.9,418.9 895.9,421.0 897.0,423.4 898.0,425.9 899.0,428.4 900.1,431.0 901.1,433.6 902.1,436.1 903.2,438.5 904.2,440.7 905.2,442.8 906.2,444.6 907.3,446.2 908.3,447.6 909.3,448.8 910.4,449.8 911.4,450.6 912.4,451.2 913.5,451.7 914.5,452.0 915.5,452.2 916.6,452.4 917.6,452.5 918.6,452.7 919.7,453.0 920.7,453.4 921.7,454.0 922.8,454.9 923.8,455.9 924.8,457.2 925.9,458.7 926.9,460.3 927.9,462.2 929.0,464.2 930.0,466.4 931.0,468.7 932.1,471.0 933.1,473.4 934.1,475.9 935.2,478.3 936.2,480.6 937.2,482.9 938.3,485.1 939.3,487.4 940.3,489.6 941.4,492.0 942.4,494.3 943.4,496.8 944.5,499.3 945.5,502.0 946.5,504.9 947.6,507.9 948.6,511.0 949.6,514.2 950.7,517.4 951.7,520.7 952.7,524.1 953.8,527.4 954.8,530.8 955.8,534.2 956.9,537.6 957.9,540.9 958.9,544.1 959.9,547.1 961.0,549.8 962.0,552.2 963.0,554.1 964.1,555.4 965.1,555.9 966.1,555.9 967.2,555.3 968.2,554.0 969.2,551.7 970.3,548.6 971.3,544.6 972.3,539.7 973.4,533.9 974.4,527.5 975.4,520.5 976.5,512.9 977.5,504.8 978.5,496.1 979.6,487.5 980.6,479.5 981.6,472.5"/>
<path class="g" d="M817.4,469.4 818.5,471.0 819.5,472.8 820.5,474.6 821.6,476.6 822.6,478.5 823.6,480.5 824.7,482.6 825.7,484.6 826.7,486.7 827.8,488.7 828.8,490.8 829.8,493.0 830.9,495.2 831.9,497.5 832.9,500.0 834.0,502.6 835.0,505.5 836.0,508.5 837.1,511.8 838.1,515.3 839.1,518.9 840.2,522.7 841.2,526.4 842.2,530.1 843.3,533.6 844.3,537.0 845.3,540.3 846.4,543.5 847.4,546.5 848.4,549.2 849.5,551.6 850.5,553.5 851.5,554.8 852.6,555.4 853.6,555.5 854.6,554.8 855.6,553.2 856.7,550.5 857.7,546.4 858.7,541.3 859.8,535.4 860.8,528.8 861.8,521.4 862.9,513.3 863.9,504.4 864.9,495.2 866.0,486.2 867.0,477.5 868.0,469.3 869.1,461.6 870.1,454.3 871.1,447.5 872.2,441.1 873.2,435.2 874.2,429.8 875.3,424.9 876.3,420.7 877.3,417.1 878.4,414.2 879.4,411.7 880.4,409.8 881.5,408.2 882.5,407.1 883.5,406.3 884.6,405.9 885.6,405.7 886.6,405.9 887.7,406.3 888.7,406.9 889.7,407.8 890.8,409.0 891.8,410.4 892.8,412.0 893.9,413.9 894.9,416.0 895.9,418.3 897.0,420.8 898.0,423.4 899.0,426.1 900.1,428.9 901.1,431.6 902.1,434.3 903.2,436.8 904.2,439.2 905.2,441.4 906.2,443.3 907.3,445.1 908.3,446.6 909.3,448.0 910.4,449.1 911.4,450.0 912.4,450.8 913.5,451.4 914.5,451.9 915.5,452.3 916.6,452.6 917.6,453.0 918.6,453.4 919.7,453.9 920.7,454.5 921.7,455.3 922.8,456.4 923.8,457.7 924.8,459.3 925.9,461.0 926.9,463.0 927.9,465.1 929.0,467.4 930.0,469.8 931.0,472.3 932.1,474.8 933.1,477.4 934.1,479.9 935.2,482.4 936.2,484.8 937.2,487.1 938.3,489.4 939.3,491.5 940.3,493.7 941.4,495.9 942.4,498.2 943.4,500.5 944.5,503.0 945.5,505.5 946.5,508.3 947.6,511.1 948.6,514.1 949.6,517.2 950.7,520.4 951.7,523.7 952.7,527.0 953.8,530.4 954.8,533.8 955.8,537.3 956.9,540.7 957.9,544.1 958.9,547.4 959.9,550.5 961.0,553.4 962.0,556.0 963.0,558.0 964.1,559.3 965.1,559.9 966.1,559.9 967.2,559.3 968.2,557.8 969.2,555.5 970.3,552.1 971.3,547.8 972.3,542.6 973.4,536.6 974.4,529.9 975.4,522.6 976.5,514.7 977.5,506.2 978.5,497.2 979.6,488.4 980.6,480.2 981.6,473.2"/>
<path class="g" d="M817.4,466.9 818.5,469.0 819.5,471.2 820.5,473.4 821.6,475.7 822.6,478.0 823.6,480.4 824.7,482.7 825.7,485.0 826.7,487.3 827.8,489.6 828.8,491.9 829.8,494.1 830.9,496.4 831.9,498.8 832.9,501.3 834.0,503.9 835.0,506.6 836.0,509.6 837.1,512.8 838.1,516.2 839.1,519.7 840.2,523.3 841.2,526.8 842.2,530.4 843.3,533.8 844.3,537.0 845.3,540.2 846.4,543.3 847.4,546.2 848.4,548.9 849.5,551.3 850.5,553.1 851.5,554.4 852.6,555.1 853.6,555.1 854.6,554.5 855.6,553.0 856.7,550.4 857.7,546.4 858.7,541.4 859.8,535.6 860.8,529.0 861.8,521.8 862.9,513.7 863.9,504.9 864.9,495.7 866.0,486.7 867.0,478.1 868.0,469.9 869.1,462.2 870.1,454.8 871.1,447.9 872.2,441.5 873.2,435.5 874.2,430.0 875.3,424.9 876.3,420.5 877.3,416.7 878.4,413.5 879.4,410.8 880.4,408.5 881.5,406.7 882.5,405.2 883.5,404.0 884.6,403.2 885.6,402.7 886.6,402.5 887.7,402.5 888.7,402.8 889.7,403.4 890.8,404.2 891.8,405.3 892.8,406.7 893.9,408.4 894.9,410.3 895.9,412.5 897.0,414.9 898.0,417.4 899.0,420.1 900.1,422.9 901.1,425.8 902.1,428.6 903.2,431.3 904.2,433.8 905.2,436.2 906.2,438.4 907.3,440.4 908.3,442.3 909.3,443.9 910.4,445.3 911.4,446.6 912.4,447.6 913.5,448.5 914.5,449.2 915.5,449.9 916.6,450.4 917.6,451.0 918.6,451.5 919.7,452.1 920.7,452.8 921.7,453.7 922.8,454.8 923.8,456.1 924.8,457.6 925.9,459.3 926.9,461.1 927.9,463.1 929.0,465.2 930.0,467.3 931.0,469.6 932.1,471.9 933.1,474.2 934.1,476.5 935.2,478.8 936.2,480.9 937.2,483.0 938.3,485.0 939.3,486.9 940.3,488.9 941.4,491.0 942.4,493.1 943.4,495.4 944.5,497.8 945.5,500.4 946.5,503.1 947.6,506.1 948.6,509.2 949.6,512.5 950.7,515.9 951.7,519.4 952.7,523.0 953.8,526.7 954.8,530.5 955.8,534.3 956.9,538.1 957.9,541.8 958.9,545.5 959.9,549.0 961.0,552.2 962.0,555.1 963.0,557.3 964.1,558.9 965.1,559.8 966.1,559.9 967.2,559.4 968.2,558.0 969.2,555.7 970.3,552.3 971.3,547.9 972.3,542.5 973.4,536.2 974.4,529.1 975.4,521.3 976.5,512.9 977.5,503.8 978.5,494.2 979.6,484.6 980.6,475.7 981.6,467.9"/>
<path class="g" d="M817.4,466.8 818.5,469.1 819.5,471.5 820.5,473.9 821.6,476.4 822.6,478.9 823.6,481.4 824.7,484.0 825.7,486.5 826.7,488.9 827.8,491.3 828.8,493.7 829.8,496.1 830.9,498.5 831.9,500.9 832.9,503.5 834.0,506.2 835.0,509.1 836.0,512.1 837.1,515.4 838.1,518.9 839.1,522.5 840.2,526.2 841.2,529.9 842.2,533.5 843.3,537.0 844.3,540.4 845.3,543.7 846.4,546.8 847.4,549.8 848.4,552.6 849.5,555.0 850.5,556.9 851.5,558.2 852.6,558.9 853.6,558.9 854.6,558.3 855.6,556.6 856.7,553.8 857.7,549.6 858.7,544.3 859.8,538.1 860.8,531.3 861.8,523.6 862.9,515.1 863.9,505.8 864.9,496.1 866.0,486.6 867.0,477.6 868.0,469.0 869.1,460.8 870.1,453.1 871.1,445.9 872.2,439.1 873.2,432.7 874.2,426.9 875.3,421.6 876.3,417.0 877.3,413.0 878.4,409.5 879.4,406.7 880.4,404.3 881.5,402.3 882.5,400.7 883.5,399.5 884.6,398.6 885.6,398.0 886.6,397.8 887.7,397.8 888.7,398.1 889.7,398.6 890.8,399.5 891.8,400.6 892.8,402.1 893.9,403.8 894.9,405.8 895.9,408.1 897.0,410.6 898.0,413.3 899.0,416.2 900.1,419.1 901.1,422.1 902.1,425.0 903.2,427.9 904.2,430.6 905.2,433.1 906.2,435.5 907.3,437.6 908.3,439.6 909.3,441.3 910.4,442.8 911.4,444.1 912.4,445.2 913.5,446.2 914.5,446.9 915.5,447.6 916.6,448.1 917.6,448.7 918.6,449.2 919.7,449.8 920.7,450.6 921.7,451.4 922.8,452.5 923.8,453.8 924.8,455.3 925.9,457.0 926.9,458.9 927.9,460.9 929.0,463.0 930.0,465.2 931.0,467.6 932.1,469.9 933.1,472.3 934.1,474.6 935.2,476.9 936.2,479.1 937.2,481.2 938.3,483.3 939.3,485.3 940.3,487.4 941.4,489.5 942.4,491.8 943.4,494.1 944.5,496.7 945.5,499.4 946.5,502.4 947.6,505.5 948.6,508.9 949.6,512.4 950.7,516.1 951.7,519.9 952.7,523.8 953.8,527.7 954.8,531.8 955.8,535.9 956.9,540.1 957.9,544.2 958.9,548.1 959.9,551.9 961.0,555.5 962.0,558.6 963.0,561.1 964.1,562.9 965.1,563.9 966.1,564.2 967.2,563.7 968.2,562.4 969.2,560.0 970.3,556.5 971.3,551.8 972.3,546.1 973.4,539.3 974.4,531.5 975.4,523.0 976.5,513.7 977.5,503.6 978.5,492.9 979.6,482.1 980.6,471.9 981.6,462.8"/>
<path class="g" d="M817.4,462.9 818.5,464.9 819.5,467.0 820.5,469.2 821.6,471.5 822.6,473.7 823.6,476.0 824.7,478.4 825.7,480.7 826.7,483.0 827.8,485.3 828.8,487.5 829.8,489.9 830.9,492.2 831.9,494.7 832.9,497.3 834.0,500.0 835.0,503.0 836.0,506.1 837.1,509.5 838.1,513.1 839.1,516.9 840.2,520.8 841.2,524.6 842.2,528.5 843.3,532.2 844.3,535.7 845.3,539.2 846.4,542.6 847.4,545.8 848.4,548.8 849.5,551.4 850.5,553.5 851.5,555.0 852.6,555.9 853.6,556.2 854.6,555.7 855.6,554.3 856.7,551.7 857.7,547.7 858.7,542.6 859.8,536.6 860.8,529.9 861.8,522.5 862.9,514.2 863.9,505.1 864.9,495.6 866.0,486.3 867.0,477.4 868.0,468.9 869.1,460.9 870.1,453.3 871.1,446.2 872.2,439.5 873.2,433.3 874.2,427.5 875.3,422.3 876.3,417.7 877.3,413.8 878.4,410.4 879.4,407.6 880.4,405.3 881.5,403.3 882.5,401.8 883.5,400.6 884.6,399.7 885.6,399.1 886.6,398.9 887.7,398.9 888.7,399.1 889.7,399.7 890.8,400.5 891.8,401.6 892.8,402.9 893.9,404.6 894.9,406.5 895.9,408.6 897.0,411.0 898.0,413.5 899.0,416.2 900.1,419.0 901.1,421.8 902.1,424.5 903.2,427.1 904.2,429.6 905.2,431.9 906.2,434.1 907.3,436.0 908.3,437.7 909.3,439.2 910.4,440.5 911.4,441.6 912.4,442.6 913.5,443.3 914.5,444.0 915.5,444.5 916.6,444.9 917.6,445.4 918.6,445.9 919.7,446.4 920.7,447.1 921.7,448.0 922.8,449.1 923.8,450.5 924.8,452.0 925.9,453.8 926.9,455.7 927.9,457.9 929.0,460.1 930.0,462.5 931.0,465.0 932.1,467.5 933.1,470.1 934.1,472.6 935.2,475.1 936.2,477.5 937.2,479.8 938.3,482.0 939.3,484.2 940.3,486.4 941.4,488.7 942.4,491.1 943.4,493.6 944.5,496.2 945.5,499.0 946.5,502.0 947.6,505.2 948.6,508.5 949.6,512.0 950.7,515.6 951.7,519.3 952.7,523.0 953.8,526.9 954.8,530.7 955.8,534.7 956.9,538.6 957.9,542.5 958.9,546.2 959.9,549.8 961.0,553.1 962.0,556.0 963.0,558.3 964.1,559.8 965.1,560.6 966.1,560.7 967.2,560.0 968.2,558.5 969.2,556.0 970.3,552.4 971.3,547.7 972.3,542.0 973.4,535.3 974.4,527.9 975.4,519.8 976.5,510.9 977.5,501.4 978.5,491.4 979.6,481.4 980.6,472.1 981.6,464.0"/>
<path class="g" d="M817.4,464.3 818.5,466.3 819.5,468.5 820.5,470.7 821.6,472.9 822.6,475.2 823.6,477.5 824.7,479.7 825.7,482.0 826.7,484.3 827.8,486.5 828.8,488.7 829.8,490.9 830.9,493.2 831.9,495.6 832.9,498.1 834.0,500.8 835.0,503.6 836.0,506.7 837.1,510.0 838.1,513.5 839.1,517.2 840.2,521.0 841.2,524.7 842.2,528.5 843.3,532.1 844.3,535.6 845.3,539.1 846.4,542.4 847.4,545.5 848.4,548.5 849.5,551.1 850.5,553.2 851.5,554.7 852.6,555.5 853.6,555.8 854.6,555.3 855.6,553.9 856.7,551.3 857.7,547.4 858.7,542.3 859.8,536.4 860.8,529.8 861.8,522.5 862.9,514.2 863.9,505.2 864.9,495.9 866.0,486.6 867.0,477.8 868.0,469.4 869.1,461.5 870.1,453.9 871.1,446.9 872.2,440.2 873.2,434.0 874.2,428.4 875.3,423.2 876.3,418.7 877.3,414.8 878.4,411.5 879.4,408.8 880.4,406.5 881.5,404.6 882.5,403.2 883.5,402.1 884.6,401.4 885.6,401.0 886.6,400.9 887.7,401.1 888.7,401.5 889.7,402.3 890.8,403.3 891.8,404.6 892.8,406.2 893.9,408.0 894.9,410.2 895.9,412.6 897.0,415.1 898.0,417.9 899.0,420.8 900.1,423.8 901.1,426.7 902.1,429.7 903.2,432.5 904.2,435.1 905.2,437.6 906.2,439.8 907.3,441.8 908.3,443.6 909.3,445.2 910.4,446.5 911.4,447.7 912.4,448.6 913.5,449.3 914.5,449.9 915.5,450.4 916.6,450.7 917.6,451.1 918.6,451.4 919.7,451.8 920.7,452.4 921.7,453.1 922.8,454.0 923.8,455.1 924.8,456.4 925.9,458.0 926.9,459.7 927.9,461.6 929.0,463.6 930.0,465.8 931.0,468.0 932.1,470.3 933.1,472.6 934.1,474.9 935.2,477.2 936.2,479.4 937.2,481.5 938.3,483.6 939.3,485.6 940.3,487.7 941.4,489.8 942.4,492.1 943.4,494.4 944.5,496.9 945.5,499.5 946.5,502.4 947.6,505.5 948.6,508.7 949.6,512.0 950.7,515.5 951.7,519.0 952.7,522.7 953.8,526.4 954.8,530.1 955.8,533.9 956.9,537.7 957.9,541.4 958.9,545.0 959.9,548.4 961.0,551.6 962.0,554.3 963.0,556.5 964.1,558.0 965.1,558.7 966.1,558.7 967.2,558.0 968.2,556.5 969.2,554.0 970.3,550.4 971.3,545.7 972.3,539.8 973.4,533.0 974.4,525.3 975.4,516.8 976.5,507.5 977.5,497.4 978.5,486.7 979.6,476.0 980.6,465.7 981.6,456.6"/>
<path class="g" d="M817.4,467.3 818.5,469.7 819.5,472.1 820.5,474.6 821.6,477.2 822.6,479.7 823.6,482.2 824.7,484.7 825.7,487.1 826.7,489.5 827.8,491.8 828.8,494.1 829.8,496.3 830.9,498.5 831.9,500.8 832.9,503.2 834.0,505.6 835.0,508.2 836.0,511.0 837.1,513.9 838.1,517.0 839.1,520.2 840.2,523.5 841.2,526.8 842.2,530.0 843.3,533.1 844.3,536.0 845.3,538.9 846.4,541.6 847.4,544.3 848.4,546.7 849.5,548.8 850.5,550.4 851.5,551.5 852.6,552.0 853.6,551.9 854.6,551.3 855.6,549.7 856.7,547.0 857.7,543.1 858.7,538.2 859.8,532.5 860.8,526.1 861.8,519.0 862.9,511.2 863.9,502.6 864.9,493.7 866.0,485.0 867.0,476.6 868.0,468.7 869.1,461.3 870.1,454.2 871.1,447.6 872.2,441.4 873.2,435.6 874.2,430.3 875.3,425.5 876.3,421.3 877.3,417.6 878.4,414.5 879.4,411.9 880.4,409.8 881.5,408.0 882.5,406.5 883.5,405.4 884.6,404.6 885.6,404.1 886.6,403.9 887.7,403.9 888.7,404.1 889.7,404.6 890.8,405.4 891.8,406.4 892.8,407.7 893.9,409.3 894.9,411.1 895.9,413.2 897.0,415.5 898.0,418.0 899.0,420.5 900.1,423.2 901.1,426.0 902.1,428.6 903.2,431.2 904.2,433.7 905.2,436.0 906.2,438.1 907.3,440.0 908.3,441.7 909.3,443.3 910.4,444.6 911.4,445.7 912.4,446.6 913.5,447.4 914.5,448.0 915.5,448.5 916.6,448.8 917.6,449.2 918.6,449.5 919.7,449.9 920.7,450.4 921.7,451.0 922.8,451.8 923.8,452.8 924.8,453.9 925.9,455.3 926.9,456.7 927.9,458.3 929.0,460.1 930.0,461.9 931.0,463.8 932.1,465.7 933.1,467.6 934.1,469.6 935.2,471.5 936.2,473.3 937.2,475.0 938.3,476.7 939.3,478.4 940.3,480.2 941.4,482.0 942.4,484.0 943.4,486.1 944.5,488.4 945.5,490.9 946.5,493.7 947.6,496.6 948.6,499.8 949.6,503.1 950.7,506.7 951.7,510.3 952.7,514.1 953.8,517.9 954.8,521.9 955.8,526.0 956.9,530.1 957.9,534.1 958.9,538.1 959.9,541.9 961.0,545.5 962.0,548.6 963.0,551.3 964.1,553.3 965.1,554.5 966.1,555.0 967.2,554.9 968.2,553.9 969.2,552.0 970.3,549.0 971.3,544.9 972.3,539.9 973.4,533.9 974.4,527.2 975.4,519.7 976.5,511.6 977.5,502.7 978.5,493.3 979.6,483.9 980.6,475.1 981.6,467.4"/>
<path class="g" d="M817.4,466.3 818.5,468.5 819.5,470.7 820.5,472.9 821.6,475.2 822.6,477.6 823.6,479.9 824.7,482.2 825.7,484.5 826.7,486.8 827.8,489.1 828.8,491.3 829.8,493.5 830.9,495.8 831.9,498.2 832.9,500.6 834.0,503.3 835.0,506.1 836.0,509.1 837.1,512.3 838.1,515.8 839.1,519.4 840.2,523.1 841.2,526.8 842.2,530.4 843.3,533.9 844.3,537.3 845.3,540.6 846.4,543.7 847.4,546.7 848.4,549.5 849.5,551.9 850.5,553.8 851.5,555.1 852.6,555.8 853.6,555.9 854.6,555.2 855.6,553.6 856.7,550.8 857.7,546.6 858.7,541.3 859.8,535.2 860.8,528.3 861.8,520.7 862.9,512.3 863.9,503.0 864.9,493.5 866.0,484.0 867.0,475.0 868.0,466.5 869.1,458.4 870.1,450.7 871.1,443.6 872.2,436.8 873.2,430.6 874.2,424.8 875.3,419.7 876.3,415.1 877.3,411.2 878.4,407.9 879.4,405.2 880.4,402.9 881.5,401.1 882.5,399.7 883.5,398.6 884.6,397.9 885.6,397.6 886.6,397.5 887.7,397.7 888.7,398.2 889.7,398.9 890.8,399.9 891.8,401.2 892.8,402.8 893.9,404.7 894.9,406.8 895.9,409.1 897.0,411.7 898.0,414.4 899.0,417.3 900.1,420.2 901.1,423.2 902.1,426.0 903.2,428.8 904.2,431.4 905.2,433.8 906.2,435.9 907.3,437.9 908.3,439.6 909.3,441.1 910.4,442.4 911.4,443.5 912.4,444.4 913.5,445.1 914.5,445.6 915.5,446.0 916.6,446.3 917.6,446.6 918.6,446.9 919.7,447.3 920.7,447.9 921.7,448.5 922.8,449.5 923.8,450.6 924.8,452.0 925.9,453.5 926.9,455.3 927.9,457.2 929.0,459.3 930.0,461.5 931.0,463.8 932.1,466.2 933.1,468.5 934.1,470.9 935.2,473.3 936.2,475.5 937.2,477.7 938.3,479.9 939.3,482.0 940.3,484.1 941.4,486.4 942.4,488.7 943.4,491.1 944.5,493.7 945.5,496.5 946.5,499.5 947.6,502.7 948.6,506.1 949.6,509.6 950.7,513.2 951.7,517.0 952.7,520.8 953.8,524.7 954.8,528.7 955.8,532.7 956.9,536.7 957.9,540.7 958.9,544.6 959.9,548.3 961.0,551.7 962.0,554.7 963.0,557.2 964.1,558.9 965.1,559.8 966.1,560.1 967.2,559.6 968.2,558.3 969.2,556.0 970.3,552.6 971.3,548.1 972.3,542.7 973.4,536.3 974.4,529.1 975.4,521.3 976.5,512.8 977.5,503.5 978.5,493.8 979.6,484.2 980.6,475.2 981.6,467.4"/>
</g>
<path class="a" d="M817.5,380.8 L817.5,630.0 M817.0,629.5 L1078.5,629.5"/>
<path class="a" d="M911.2,629.5 L911.2,626.5 M1004.4,629.5 L1004.4,626.5 M817.5,385.2 L820.5,385.2 M817.5,466.6 L820.5,466.6 M817.5,548.0 L820.5,548.0"/>
<path class="b" d="M817.4,464.3 818.5,466.3 819.5,468.5 820.5,470.7 821.6,473.0 822.6,475.3 823.6,477.6 824.7,479.9 825.7,482.3 826.7,484.6 827.8,486.9 828.8,489.1 829.8,491.4 830.9,493.8 831.9,496.2 832.9,498.8 834.0,501.4 835.0,504.3 836.0,507.3 837.1,510.6 838.1,514.1 839.1,517.7 840.2,521.4 841.2,525.1 842.2,528.8 843.3,532.3 844.3,535.7 845.3,539.0 846.4,542.1 847.4,545.2 848.4,547.9 849.5,550.4 850.5,552.3 851.5,553.7 852.6,554.4 853.6,554.5 854.6,553.9 855.6,552.5 856.7,549.8 857.7,545.8 858.7,540.8 859.8,534.9 860.8,528.4 861.8,521.1 862.9,513.0 863.9,504.1 864.9,494.9 866.0,485.8 867.0,477.1 868.0,468.9 869.1,461.1 870.1,453.7 871.1,446.8 872.2,440.3 873.2,434.2 874.2,428.7 875.3,423.7 876.3,419.2 877.3,415.4 878.4,412.2 879.4,409.5 880.4,407.3 881.5,405.4 882.5,404.0 883.5,402.9 884.6,402.1 885.6,401.6 886.6,401.4 887.7,401.5 888.7,401.9 889.7,402.4 890.8,403.3 891.8,404.5 892.8,405.9 893.9,407.6 894.9,409.5 895.9,411.7 897.0,414.0 898.0,416.6 899.0,419.3 900.1,422.0 901.1,424.8 902.1,427.6 903.2,430.2 904.2,432.7 905.2,435.0 906.2,437.1 907.3,439.1 908.3,440.8 909.3,442.3 910.4,443.6 911.4,444.8 912.4,445.7 913.5,446.5 914.5,447.2 915.5,447.7 916.6,448.2 917.6,448.6 918.6,449.1 919.7,449.6 920.7,450.3 921.7,451.1 922.8,452.2 923.8,453.4 924.8,454.9 925.9,456.6 926.9,458.4 927.9,460.4 929.0,462.5 930.0,464.7 931.0,467.0 932.1,469.4 933.1,471.7 934.1,474.1 935.2,476.4 936.2,478.6 937.2,480.7 938.3,482.7 939.3,484.7 940.3,486.8 941.4,488.8 942.4,491.0 943.4,493.3 944.5,495.7 945.5,498.3 946.5,501.1 947.6,504.0 948.6,507.2 949.6,510.4 950.7,513.8 951.7,517.3 952.7,520.9 953.8,524.5 954.8,528.2 955.8,532.0 956.9,535.8 957.9,539.5 958.9,543.1 959.9,546.5 961.0,549.7 962.0,552.5 963.0,554.8 964.1,556.3 965.1,557.1 966.1,557.2 967.2,556.7 968.2,555.3 969.2,553.0 970.3,549.5 971.3,545.1 972.3,539.8 973.4,533.5 974.4,526.6 975.4,518.9 976.5,510.7 977.5,501.8 978.5,492.4 979.6,483.1 980.6,474.4 981.6,467.0"/>
<text class="t" transform="translate(816.7,660.3) scale(1,1.05)" text-anchor="middle">0</text>
<text class="t" transform="translate(910.4,660.3) scale(1,1.05)" text-anchor="middle">0.5</text>
<text class="t" transform="translate(1003.6,660.3) scale(1,1.05)" text-anchor="middle">1</text>
<text class="t" transform="translate(808.7,394.6) scale(1,1.05)" text-anchor="end">1</text>
<text class="t" transform="translate(808.7,476.0) scale(1,1.05)" text-anchor="end">0</text>
<text class="t" transform="translate(808.7,557.4) scale(1,1.05)" text-anchor="end">-1</text>
<text class="t" transform="translate(808.7,638.7) scale(1,1.05)" text-anchor="end">-2</text>
<text class="l" transform="translate(948.0,692.5) scale(1,1.05)" text-anchor="middle">time/s</text>
<text class="l" transform="translate(779.7,505.1) rotate(-90) scale(1,1.05)" text-anchor="middle">amplitude/a.u.</text>
<path d="M821.1,363.4 L833.2,375.0 M833.2,363.4 L821.1,375.0" stroke="#262626" stroke-width="1.25" fill="none"/>
<text class="t" transform="translate(837.5,376.0) scale(1,1.05)">10<tspan class="s" dy="-11.9">-3</tspan></text>
</g>
<g id="p8">
<clipPath id="c7"><rect x="1188.4" y="378.8" width="261.5999999999999" height="250.7"/></clipPath>
<g clip-path="url(#c7)">
<path class="g" d="M1188.4,467.2 1189.5,468.3 1190.5,469.4 1191.5,470.5 1192.6,471.6 1193.6,472.6 1194.6,473.8 1195.6,474.9 1196.7,476.1 1197.7,477.3 1198.7,478.5 1199.8,479.9 1200.8,481.3 1201.8,482.8 1202.9,484.4 1203.9,486.1 1204.9,488.0 1205.9,490.1 1207.0,492.3 1208.0,494.7 1209.0,497.3 1210.1,500.1 1211.1,503.2 1212.1,506.4 1213.1,509.8 1214.2,513.3 1215.2,516.9 1216.2,520.6 1217.3,524.3 1218.3,527.8 1219.3,531.3 1220.4,534.3 1221.4,537.0 1222.4,539.1 1223.4,540.5 1224.5,541.2 1225.5,541.0 1226.5,540.0 1227.6,538.1 1228.6,535.3 1229.6,531.5 1230.7,526.9 1231.7,521.7 1232.7,515.7 1233.7,508.9 1234.8,501.4 1235.8,493.3 1236.8,484.8 1237.9,476.2 1238.9,467.5 1239.9,458.6 1240.9,450.1 1242.0,442.0 1243.0,434.7 1244.0,428.1 1245.1,422.3 1246.1,417.0 1247.1,412.3 1248.2,408.1 1249.2,404.6 1250.2,401.8 1251.2,399.7 1252.3,398.1 1253.3,396.9 1254.3,396.1 1255.4,395.6 1256.4,395.3 1257.4,395.3 1258.4,395.4 1259.5,395.8 1260.5,396.4 1261.5,397.3 1262.6,398.5 1263.6,399.9 1264.6,401.5 1265.7,403.0 1266.7,404.5 1267.7,406.1 1268.7,408.0 1269.8,410.4 1270.8,413.5 1271.8,417.0 1272.9,420.6 1273.9,424.3 1274.9,427.8 1276.0,431.1 1277.0,434.2 1278.0,437.0 1279.0,439.4 1280.1,441.4 1281.1,442.9 1282.1,444.1 1283.2,444.4 1284.2,443.9 1285.2,442.9 1286.2,441.6 1287.3,440.5 1288.3,439.7 1289.3,439.6 1290.4,440.4 1291.4,441.7 1292.4,443.6 1293.5,445.9 1294.5,448.6 1295.5,451.5 1296.5,454.6 1297.6,457.6 1298.6,460.4 1299.6,462.9 1300.7,465.2 1301.7,467.5 1302.7,469.6 1303.8,471.6 1304.8,473.5 1305.8,475.1 1306.8,476.7 1307.9,478.2 1308.9,479.6 1309.9,480.9 1311.0,482.2 1312.0,483.5 1313.0,484.8 1314.0,486.2 1315.1,487.6 1316.1,489.2 1317.1,490.9 1318.2,492.9 1319.2,495.2 1320.2,497.7 1321.3,500.4 1322.3,503.4 1323.3,506.4 1324.3,509.6 1325.4,512.8 1326.4,516.0 1327.4,519.2 1328.5,522.5 1329.5,525.7 1330.5,528.9 1331.5,531.8 1332.6,534.5 1333.6,536.9 1334.6,538.7 1335.7,540.1 1336.7,540.8 1337.7,541.0 1338.8,540.7 1339.8,540.2 1340.8,539.2 1341.8,537.2 1342.9,534.3 1343.9,530.1 1344.9,524.5 1346.0,517.1 1347.0,508.0 1348.0,497.6 1349.1,486.3 1350.1,474.1 1351.1,460.7 1352.1,446.0"/>
<path class="g" d="M1188.4,470.2 1189.5,472.5 1190.5,474.7 1191.5,476.9 1192.6,479.1 1193.6,481.2 1194.6,483.3 1195.6,485.4 1196.7,487.5 1197.7,489.5 1198.7,491.6 1199.8,493.6 1200.8,495.6 1201.8,497.6 1202.9,499.7 1203.9,501.7 1204.9,503.8 1205.9,506.1 1207.0,508.4 1208.0,510.9 1209.0,513.5 1210.1,516.2 1211.1,519.1 1212.1,522.1 1213.1,525.3 1214.2,528.6 1215.2,531.9 1216.2,535.2 1217.3,538.5 1218.3,541.8 1219.3,544.8 1220.4,547.6 1221.4,549.9 1222.4,551.7 1223.4,552.9 1224.5,553.4 1225.5,553.1 1226.5,551.9 1227.6,549.8 1228.6,546.4 1229.6,542.0 1230.7,536.7 1231.7,530.6 1232.7,523.8 1233.7,516.1 1234.8,507.7 1235.8,498.8 1236.8,489.6 1237.9,480.2 1238.9,470.9 1239.9,461.6 1240.9,452.7 1242.0,444.3 1243.0,436.6 1244.0,429.8 1245.1,423.6 1246.1,418.1 1247.1,413.1 1248.2,408.8 1249.2,405.1 1250.2,402.1 1251.2,399.8 1252.3,398.1 1253.3,396.9 1254.3,396.0 1255.4,395.5 1256.4,395.3 1257.4,395.3 1258.4,395.6 1259.5,396.3 1260.5,397.3 1261.5,398.7 1262.6,400.5 1263.6,402.5 1264.6,404.9 1265.7,407.5 1266.7,410.3 1267.7,413.4 1268.7,416.7 1269.8,420.1 1270.8,423.6 1271.8,426.9 1272.9,430.2 1273.9,433.2 1274.9,436.0 1276.0,438.6 1277.0,440.8 1278.0,442.4 1279.0,443.2 1280.1,443.2 1281.1,442.8 1282.1,442.1 1283.2,441.3 1284.2,440.6 1285.2,440.2 1286.2,440.1 1287.3,440.6 1288.3,441.7 1289.3,443.3 1290.4,445.2 1291.4,447.4 1292.4,449.8 1293.5,452.2 1294.5,454.6 1295.5,456.9 1296.5,459.1 1297.6,461.1 1298.6,463.3 1299.6,465.6 1300.7,468.0 1301.7,470.5 1302.7,472.9 1303.8,475.4 1304.8,477.8 1305.8,480.1 1306.8,482.4 1307.9,484.7 1308.9,486.9 1309.9,489.0 1311.0,491.2 1312.0,493.4 1313.0,495.6 1314.0,497.7 1315.1,499.9 1316.1,502.2 1317.1,504.6 1318.2,507.0 1319.2,509.5 1320.2,512.2 1321.3,515.0 1322.3,517.9 1323.3,520.8 1324.3,523.8 1325.4,526.8 1326.4,529.7 1327.4,532.7 1328.5,535.7 1329.5,538.7 1330.5,541.6 1331.5,544.4 1332.6,546.9 1333.6,549.2 1334.6,551.0 1335.7,552.3 1336.7,553.0 1337.7,553.1 1338.8,552.5 1339.8,551.1 1340.8,548.5 1341.8,544.7 1342.9,539.8 1343.9,534.1 1344.9,527.4 1346.0,519.9 1347.0,511.5 1348.0,502.5 1349.1,493.3 1350.1,483.6 1351.1,473.3 1352.1,462.0"/>
<path class="g" d="M1188.4,475.2 1189.5,478.3 1190.5,481.3 1191.5,484.3 1192.6,487.3 1193.6,490.2 1194.6,493.0 1195.6,495.8 1196.7,498.6 1197.7,501.3 1198.7,504.0 1199.8,506.7 1200.8,509.4 1201.8,512.0 1202.9,514.7 1203.9,517.4 1204.9,520.1 1205.9,522.9 1207.0,525.8 1208.0,528.9 1209.0,532.1 1210.1,535.5 1211.1,539.0 1212.1,542.7 1213.1,546.5 1214.2,550.4 1215.2,554.3 1216.2,558.2 1217.3,562.1 1218.3,565.8 1219.3,569.3 1220.4,572.3 1221.4,574.9 1222.4,576.8 1223.4,578.0 1224.5,578.4 1225.5,577.7 1226.5,575.9 1227.6,572.7 1228.6,567.9 1229.6,561.9 1230.7,554.8 1231.7,546.7 1232.7,537.8 1233.7,528.0 1234.8,517.4 1235.8,506.3 1236.8,495.0 1237.9,483.7 1238.9,472.6 1239.9,461.8 1240.9,451.4 1242.0,441.6 1243.0,432.6 1244.0,424.5 1245.1,417.1 1246.1,410.4 1247.1,404.3 1248.2,398.9 1249.2,394.3 1250.2,390.4 1251.2,387.4 1252.3,384.9 1253.3,383.1 1254.3,381.8 1255.4,380.9 1256.4,380.4 1257.4,380.3 1258.4,380.6 1259.5,381.3 1260.5,382.4 1261.5,384.0 1262.6,386.1 1263.6,388.5 1264.6,391.3 1265.7,394.5 1266.7,397.9 1267.7,401.7 1268.7,405.8 1269.8,410.1 1270.8,414.4 1271.8,418.8 1272.9,423.1 1273.9,427.3 1274.9,431.4 1276.0,435.3 1277.0,438.9 1278.0,442.2 1279.0,445.2 1280.1,447.9 1281.1,450.3 1282.1,452.5 1283.2,454.5 1284.2,456.2 1285.2,457.8 1286.2,459.3 1287.3,460.5 1288.3,461.6 1289.3,462.6 1290.4,463.6 1291.4,464.6 1292.4,465.6 1293.5,466.7 1294.5,468.0 1295.5,469.6 1296.5,471.4 1297.6,473.5 1298.6,475.8 1299.6,478.3 1300.7,481.0 1301.7,483.7 1302.7,486.4 1303.8,489.2 1304.8,492.0 1305.8,494.7 1306.8,497.3 1307.9,499.9 1308.9,502.5 1309.9,505.1 1311.0,507.7 1312.0,510.3 1313.0,512.9 1314.0,515.5 1315.1,518.1 1316.1,520.7 1317.1,523.5 1318.2,526.3 1319.2,529.4 1320.2,532.6 1321.3,536.0 1322.3,539.5 1323.3,543.1 1324.3,546.7 1325.4,550.3 1326.4,553.9 1327.4,557.5 1328.5,561.1 1329.5,564.6 1330.5,567.9 1331.5,571.1 1332.6,574.0 1333.6,576.4 1334.6,578.4 1335.7,579.7 1336.7,580.2 1337.7,580.0 1338.8,578.9 1339.8,576.5 1340.8,572.7 1341.8,567.3 1342.9,560.7 1343.9,552.9 1344.9,544.0 1346.0,534.0 1347.0,523.1 1348.0,511.5 1349.1,499.5 1350.1,487.1 1351.1,474.0 1352.1,460.0"/>
<path class="g" d="M1188.4,478.2 1189.5,481.3 1190.5,484.3 1191.5,487.3 1192.6,490.2 1193.6,493.1 1194.6,495.9 1195.6,498.7 1196.7,501.4 1197.7,504.2 1198.7,506.9 1199.8,509.5 1200.8,512.2 1201.8,514.8 1202.9,517.5 1203.9,520.1 1204.9,522.8 1205.9,525.6 1207.0,528.5 1208.0,531.6 1209.0,534.8 1210.1,538.2 1211.1,541.7 1212.1,545.4 1213.1,549.2 1214.2,553.1 1215.2,557.1 1216.2,561.0 1217.3,564.9 1218.3,568.6 1219.3,572.1 1220.4,575.2 1221.4,577.8 1222.4,579.8 1223.4,581.0 1224.5,581.4 1225.5,580.8 1226.5,579.0 1227.6,575.9 1228.6,571.3 1229.6,565.5 1230.7,558.5 1231.7,550.7 1232.7,541.9 1233.7,532.3 1234.8,522.0 1235.8,511.1 1236.8,500.1 1237.9,489.0 1238.9,478.2 1239.9,467.7 1240.9,457.6 1242.0,448.0 1243.0,439.3 1244.0,431.4 1245.1,424.3 1246.1,417.8 1247.1,412.0 1248.2,406.8 1249.2,402.4 1250.2,398.7 1251.2,395.8 1252.3,393.6 1253.3,391.8 1254.3,390.6 1255.4,389.8 1256.4,389.4 1257.4,389.3 1258.4,389.6 1259.5,390.2 1260.5,391.3 1261.5,392.8 1262.6,394.8 1263.6,397.1 1264.6,399.7 1265.7,402.7 1266.7,406.0 1267.7,409.6 1268.7,413.5 1269.8,417.5 1270.8,421.6 1271.8,425.8 1272.9,429.8 1273.9,433.8 1274.9,437.6 1276.0,441.2 1277.0,444.6 1278.0,447.6 1279.0,450.4 1280.1,452.8 1281.1,455.0 1282.1,456.9 1283.2,458.6 1284.2,460.2 1285.2,461.6 1286.2,462.8 1287.3,463.8 1288.3,464.8 1289.3,465.6 1290.4,466.4 1291.4,467.3 1292.4,468.1 1293.5,469.1 1294.5,470.3 1295.5,471.7 1296.5,473.4 1297.6,475.3 1298.6,477.5 1299.6,479.9 1300.7,482.4 1301.7,485.0 1302.7,487.6 1303.8,490.2 1304.8,492.9 1305.8,495.4 1306.8,498.0 1307.9,500.5 1308.9,503.0 1309.9,505.5 1311.0,508.0 1312.0,510.5 1313.0,513.0 1314.0,515.5 1315.1,518.0 1316.1,520.6 1317.1,523.3 1318.2,526.1 1319.2,529.1 1320.2,532.3 1321.3,535.7 1322.3,539.2 1323.3,542.8 1324.3,546.4 1325.4,550.1 1326.4,553.8 1327.4,557.4 1328.5,561.0 1329.5,564.6 1330.5,568.0 1331.5,571.3 1332.6,574.3 1333.6,576.8 1334.6,578.9 1335.7,580.4 1336.7,581.1 1337.7,581.1 1338.8,580.2 1339.8,578.3 1340.8,575.1 1341.8,570.6 1342.9,564.9 1343.9,558.1 1344.9,550.3 1346.0,541.5 1347.0,531.8 1348.0,521.5 1349.1,510.8 1350.1,499.7 1351.1,487.8 1352.1,475.0"/>
<path class="g" d="M1188.4,479.2 1189.5,481.8 1190.5,484.4 1191.5,486.9 1192.6,489.4 1193.6,491.9 1194.6,494.3 1195.6,496.8 1196.7,499.2 1197.7,501.6 1198.7,504.0 1199.8,506.4 1200.8,508.8 1201.8,511.2 1202.9,513.6 1203.9,516.1 1204.9,518.6 1205.9,521.2 1207.0,524.0 1208.0,526.9 1209.0,530.0 1210.1,533.3 1211.1,536.7 1212.1,540.3 1213.1,544.1 1214.2,547.9 1215.2,551.8 1216.2,555.8 1217.3,559.6 1218.3,563.3 1219.3,566.8 1220.4,570.0 1221.4,572.6 1222.4,574.6 1223.4,575.9 1224.5,576.4 1225.5,576.0 1226.5,574.4 1227.6,571.6 1228.6,567.3 1229.6,561.9 1230.7,555.4 1231.7,548.0 1232.7,539.8 1233.7,530.8 1234.8,521.1 1235.8,510.9 1236.8,500.5 1237.9,490.2 1238.9,480.0 1239.9,470.2 1240.9,460.8 1242.0,452.0 1243.0,444.0 1244.0,436.8 1245.1,430.4 1246.1,424.6 1247.1,419.4 1248.2,414.8 1249.2,410.9 1250.2,407.8 1251.2,405.3 1252.3,403.5 1253.3,402.1 1254.3,401.2 1255.4,400.6 1256.4,400.3 1257.4,400.3 1258.4,400.6 1259.5,401.2 1260.5,402.2 1261.5,403.7 1262.6,405.5 1263.6,407.6 1264.6,410.1 1265.7,412.8 1266.7,415.9 1267.7,419.2 1268.7,422.8 1269.8,426.5 1270.8,430.3 1271.8,434.0 1272.9,437.8 1273.9,441.4 1274.9,444.8 1276.0,448.0 1277.0,451.0 1278.0,453.6 1279.0,456.0 1280.1,458.0 1281.1,459.8 1282.1,461.3 1283.2,462.6 1284.2,463.8 1285.2,464.8 1286.2,465.7 1287.3,466.4 1288.3,467.1 1289.3,467.6 1290.4,468.2 1291.4,468.7 1292.4,469.3 1293.5,470.0 1294.5,470.9 1295.5,472.1 1296.5,473.5 1297.6,475.2 1298.6,477.1 1299.6,479.3 1300.7,481.5 1301.7,483.9 1302.7,486.3 1303.8,488.7 1304.8,491.1 1305.8,493.5 1306.8,495.8 1307.9,498.1 1308.9,500.4 1309.9,502.7 1311.0,505.0 1312.0,507.4 1313.0,509.7 1314.0,512.0 1315.1,514.4 1316.1,516.8 1317.1,519.4 1318.2,522.1 1319.2,525.0 1320.2,528.0 1321.3,531.3 1322.3,534.7 1323.3,538.2 1324.3,541.8 1325.4,545.3 1326.4,548.9 1327.4,552.5 1328.5,556.1 1329.5,559.6 1330.5,563.0 1331.5,566.2 1332.6,569.2 1333.6,571.8 1334.6,573.9 1335.7,575.3 1336.7,576.1 1337.7,576.1 1338.8,575.3 1339.8,573.5 1340.8,570.4 1341.8,566.1 1342.9,560.5 1343.9,553.9 1344.9,546.4 1346.0,537.9 1347.0,528.4 1348.0,518.3 1349.1,507.9 1350.1,497.1 1351.1,485.5 1352.1,473.0"/>
<path class="g" d="M1188.4,475.2 1189.5,477.9 1190.5,480.6 1191.5,483.3 1192.6,485.9 1193.6,488.5 1194.6,491.0 1195.6,493.5 1196.7,496.1 1197.7,498.5 1198.7,501.0 1199.8,503.5 1200.8,506.0 1201.8,508.4 1202.9,510.9 1203.9,513.4 1204.9,516.0 1205.9,518.7 1207.0,521.4 1208.0,524.4 1209.0,527.5 1210.1,530.8 1211.1,534.3 1212.1,537.9 1213.1,541.6 1214.2,545.5 1215.2,549.4 1216.2,553.3 1217.3,557.1 1218.3,560.8 1219.3,564.2 1220.4,567.3 1221.4,569.9 1222.4,571.8 1223.4,573.0 1224.5,573.4 1225.5,572.8 1226.5,571.1 1227.6,568.1 1228.6,563.6 1229.6,558.0 1230.7,551.3 1231.7,543.8 1232.7,535.4 1233.7,526.4 1234.8,516.6 1235.8,506.4 1236.8,496.1 1237.9,486.0 1238.9,476.1 1239.9,466.6 1240.9,457.9 1242.0,450.2 1243.0,443.4 1244.0,437.7 1245.1,432.7 1246.1,428.3 1247.1,424.3 1248.2,420.6 1249.2,417.2 1250.2,414.0 1251.2,411.2 1252.3,408.6 1253.3,406.4 1254.3,404.5 1255.4,402.9 1256.4,401.8 1257.4,401.2 1258.4,400.9 1259.5,401.0 1260.5,401.5 1261.5,402.5 1262.6,403.8 1263.6,405.4 1264.6,407.4 1265.7,409.8 1266.7,412.4 1267.7,415.4 1268.7,418.6 1269.8,422.0 1270.8,425.5 1271.8,429.1 1272.9,432.6 1273.9,436.0 1274.9,439.2 1276.0,442.2 1277.0,445.0 1278.0,447.5 1279.0,449.7 1280.1,451.5 1281.1,453.2 1282.1,454.6 1283.2,455.8 1284.2,456.9 1285.2,457.8 1286.2,458.6 1287.3,459.3 1288.3,460.0 1289.3,460.5 1290.4,461.1 1291.4,461.7 1292.4,462.3 1293.5,463.1 1294.5,464.0 1295.5,465.2 1296.5,466.7 1297.6,468.5 1298.6,470.5 1299.6,472.7 1300.7,475.0 1301.7,477.4 1302.7,479.9 1303.8,482.4 1304.8,484.8 1305.8,487.3 1306.8,489.7 1307.9,492.1 1308.9,494.4 1309.9,496.8 1311.0,499.2 1312.0,501.6 1313.0,504.0 1314.0,506.5 1315.1,508.9 1316.1,511.4 1317.1,514.1 1318.2,516.8 1319.2,519.8 1320.2,522.9 1321.3,526.3 1322.3,529.8 1323.3,533.3 1324.3,537.0 1325.4,540.6 1326.4,544.3 1327.4,547.9 1328.5,551.5 1329.5,555.1 1330.5,558.6 1331.5,561.9 1332.6,564.9 1333.6,567.6 1334.6,569.7 1335.7,571.2 1336.7,572.0 1337.7,572.1 1338.8,571.4 1339.8,569.7 1340.8,566.8 1341.8,562.6 1342.9,557.2 1343.9,550.9 1344.9,543.6 1346.0,535.3 1347.0,526.1 1348.0,516.3 1349.1,506.1 1350.1,495.6 1351.1,484.3 1352.1,472.0"/>
<path class="g" d="M1188.4,465.2 1189.5,468.6 1190.5,471.9 1191.5,475.3 1192.6,478.5 1193.6,481.7 1194.6,484.9 1195.6,488.1 1196.7,491.2 1197.7,494.2 1198.7,497.3 1199.8,500.3 1200.8,503.3 1201.8,506.3 1202.9,509.3 1203.9,512.3 1204.9,515.4 1205.9,518.5 1207.0,521.8 1208.0,525.1 1209.0,528.7 1210.1,532.4 1211.1,536.2 1212.1,540.2 1213.1,544.3 1214.2,548.4 1215.2,552.6 1216.2,556.8 1217.3,560.9 1218.3,564.8 1219.3,568.5 1220.4,571.8 1221.4,574.5 1222.4,576.6 1223.4,577.9 1224.5,578.4 1225.5,577.9 1226.5,576.3 1227.6,573.3 1228.6,568.9 1229.6,563.2 1230.7,556.5 1231.7,548.9 1232.7,540.4 1233.7,531.1 1234.8,521.0 1235.8,510.5 1236.8,499.7 1237.9,489.0 1238.9,478.4 1239.9,468.2 1240.9,458.4 1242.0,449.2 1243.0,440.8 1244.0,433.2 1245.1,426.3 1246.1,420.2 1247.1,414.6 1248.2,409.7 1249.2,405.5 1250.2,402.0 1251.2,399.3 1252.3,397.2 1253.3,395.6 1254.3,394.5 1255.4,393.7 1256.4,393.3 1257.4,393.3 1258.4,393.5 1259.5,394.2 1260.5,395.2 1261.5,396.7 1262.6,398.6 1263.6,400.8 1264.6,403.3 1265.7,406.2 1266.7,409.4 1267.7,412.8 1268.7,416.6 1269.8,420.4 1270.8,424.4 1271.8,428.3 1272.9,432.2 1273.9,436.0 1274.9,439.6 1276.0,443.0 1277.0,446.2 1278.0,449.0 1279.0,451.6 1280.1,453.8 1281.1,455.7 1282.1,457.4 1283.2,459.0 1284.2,460.3 1285.2,461.4 1286.2,462.4 1287.3,463.3 1288.3,464.0 1289.3,464.6 1290.4,465.2 1291.4,465.8 1292.4,466.5 1293.5,467.3 1294.5,468.3 1295.5,469.5 1296.5,471.0 1297.6,472.7 1298.6,474.7 1299.6,476.9 1300.7,479.2 1301.7,481.6 1302.7,484.1 1303.8,486.6 1304.8,489.0 1305.8,491.4 1306.8,493.8 1307.9,496.2 1308.9,498.5 1309.9,500.8 1311.0,503.2 1312.0,505.5 1313.0,507.9 1314.0,510.2 1315.1,512.6 1316.1,515.1 1317.1,517.6 1318.2,520.3 1319.2,523.2 1320.2,526.3 1321.3,529.5 1322.3,532.9 1323.3,536.3 1324.3,539.9 1325.4,543.4 1326.4,546.9 1327.4,550.5 1328.5,553.9 1329.5,557.4 1330.5,560.7 1331.5,563.9 1332.6,566.7 1333.6,569.2 1334.6,571.2 1335.7,572.5 1336.7,573.2 1337.7,573.1 1338.8,572.1 1339.8,569.9 1340.8,566.4 1341.8,561.4 1342.9,555.2 1343.9,547.9 1344.9,539.6 1346.0,530.2 1347.0,519.9 1348.0,508.9 1349.1,497.6 1350.1,485.8 1351.1,473.4 1352.1,460.0"/>
<path class="g" d="M1188.4,470.5 1189.5,473.1 1190.5,475.7 1191.5,478.2 1192.6,480.7 1193.6,483.2 1194.6,485.6 1195.6,488.1 1196.7,490.5 1197.7,493.0 1198.7,495.4 1199.8,497.9 1200.8,500.4 1201.8,502.9 1202.9,505.5 1203.9,508.1 1204.9,510.8 1205.9,513.7 1207.0,516.6 1208.0,519.8 1209.0,523.2 1210.1,526.8 1211.1,530.6 1212.1,534.5 1213.1,538.7 1214.2,542.9 1215.2,547.2 1216.2,551.5 1217.3,555.7 1218.3,559.8 1219.3,563.6 1220.4,567.0 1221.4,569.9 1222.4,572.1 1223.4,573.5 1224.5,574.1 1225.5,573.6 1226.5,572.0 1227.6,568.9 1228.6,564.5 1229.6,558.6 1230.7,551.7 1231.7,543.9 1232.7,535.2 1233.7,525.6 1234.8,515.2 1235.8,504.4 1236.8,493.3 1237.9,482.3 1238.9,471.5 1239.9,461.0 1240.9,451.0 1242.0,441.7 1243.0,433.2 1244.0,425.5 1245.1,418.7 1246.1,412.6 1247.1,407.1 1248.2,402.3 1249.2,398.2 1250.2,394.9 1251.2,392.4 1252.3,390.5 1253.3,389.1 1254.3,388.2 1255.4,387.6 1256.4,387.3 1257.4,387.3 1258.4,387.6 1259.5,388.3 1260.5,389.4 1261.5,390.8 1262.6,392.7 1263.6,394.9 1264.6,397.3 1265.7,400.1 1266.7,403.2 1267.7,406.6 1268.7,410.2 1269.8,413.9 1270.8,417.7 1271.8,421.4 1272.9,425.1 1273.9,428.6 1274.9,432.0 1276.0,435.1 1277.0,437.9 1278.0,440.4 1279.0,442.5 1280.1,444.3 1281.1,445.9 1282.1,447.2 1283.2,448.3 1284.2,449.2 1285.2,450.0 1286.2,450.7 1287.3,451.2 1288.3,451.7 1289.3,452.1 1290.4,452.5 1291.4,452.9 1292.4,453.5 1293.5,454.1 1294.5,455.0 1295.5,456.2 1296.5,457.7 1297.6,459.5 1298.6,461.5 1299.6,463.8 1300.7,466.2 1301.7,468.8 1302.7,471.5 1303.8,474.1 1304.8,476.8 1305.8,479.4 1306.8,482.0 1307.9,484.6 1308.9,487.2 1309.9,489.8 1311.0,492.4 1312.0,495.0 1313.0,497.7 1314.0,500.3 1315.1,502.9 1316.1,505.7 1317.1,508.5 1318.2,511.4 1319.2,514.6 1320.2,517.9 1321.3,521.5 1322.3,525.1 1323.3,528.9 1324.3,532.7 1325.4,536.6 1326.4,540.4 1327.4,544.3 1328.5,548.1 1329.5,551.8 1330.5,555.5 1331.5,558.9 1332.6,562.1 1333.6,564.9 1334.6,567.2 1335.7,568.8 1336.7,569.6 1337.7,569.8 1338.8,569.1 1339.8,567.4 1340.8,564.4 1341.8,559.9 1342.9,554.0 1343.9,546.9 1344.9,538.5 1346.0,528.8 1347.0,518.0 1348.0,506.3 1349.1,494.0 1350.1,481.0 1351.1,467.0 1352.1,451.8"/>
<path class="g" d="M1188.4,470.1 1189.5,472.9 1190.5,475.8 1191.5,478.6 1192.6,481.4 1193.6,484.1 1194.6,486.9 1195.6,489.6 1196.7,492.3 1197.7,495.0 1198.7,497.7 1199.8,500.4 1200.8,503.1 1201.8,505.7 1202.9,508.4 1203.9,511.1 1204.9,513.8 1205.9,516.6 1207.0,519.5 1208.0,522.6 1209.0,525.8 1210.1,529.2 1211.1,532.7 1212.1,536.4 1213.1,540.2 1214.2,544.0 1215.2,548.0 1216.2,551.9 1217.3,555.7 1218.3,559.3 1219.3,562.7 1220.4,565.8 1221.4,568.3 1222.4,570.1 1223.4,571.2 1224.5,571.5 1225.5,570.8 1226.5,568.9 1227.6,565.8 1228.6,561.3 1229.6,555.5 1230.7,548.7 1231.7,541.0 1232.7,532.4 1233.7,523.1 1234.8,513.0 1235.8,502.5 1236.8,491.8 1237.9,481.1 1238.9,470.7 1239.9,460.6 1240.9,451.0 1242.0,442.0 1243.0,433.9 1244.0,426.6 1245.1,420.0 1246.1,414.2 1247.1,409.0 1248.2,404.4 1249.2,400.5 1250.2,397.4 1251.2,395.0 1252.3,393.2 1253.3,391.9 1254.3,391.0 1255.4,390.5 1256.4,390.2 1257.4,390.2 1258.4,390.5 1259.5,391.2 1260.5,392.2 1261.5,393.6 1262.6,395.4 1263.6,397.6 1264.6,400.0 1265.7,402.8 1266.7,405.8 1267.7,409.2 1268.7,412.7 1269.8,416.5 1270.8,420.3 1271.8,424.1 1272.9,427.8 1273.9,431.5 1274.9,434.9 1276.0,438.2 1277.0,441.2 1278.0,443.9 1279.0,446.3 1280.1,448.3 1281.1,450.1 1282.1,451.7 1283.2,453.1 1284.2,454.4 1285.2,455.4 1286.2,456.4 1287.3,457.2 1288.3,457.9 1289.3,458.6 1290.4,459.2 1291.4,459.8 1292.4,460.5 1293.5,461.2 1294.5,462.2 1295.5,463.3 1296.5,464.7 1297.6,466.4 1298.6,468.3 1299.6,470.4 1300.7,472.6 1301.7,474.9 1302.7,477.2 1303.8,479.5 1304.8,481.7 1305.8,483.9 1306.8,486.1 1307.9,488.2 1308.9,490.3 1309.9,492.3 1311.0,494.4 1312.0,496.5 1313.0,498.6 1314.0,500.8 1315.1,502.9 1316.1,505.1 1317.1,507.5 1318.2,510.0 1319.2,512.8 1320.2,515.7 1321.3,518.9 1322.3,522.2 1323.3,525.7 1324.3,529.3 1325.4,532.9 1326.4,536.5 1327.4,540.2 1328.5,543.9 1329.5,547.6 1330.5,551.2 1331.5,554.6 1332.6,557.8 1333.6,560.6 1334.6,563.0 1335.7,564.7 1336.7,565.7 1337.7,566.0 1338.8,565.5 1339.8,564.0 1340.8,561.3 1341.8,557.3 1342.9,551.9 1343.9,545.5 1344.9,538.0 1346.0,529.4 1347.0,519.7 1348.0,509.4 1349.1,498.6 1350.1,487.2 1351.1,474.9 1352.1,461.6"/>
<path class="g" d="M1188.4,476.5 1189.5,479.2 1190.5,481.8 1191.5,484.4 1192.6,487.0 1193.6,489.5 1194.6,492.0 1195.6,494.5 1196.7,497.0 1197.7,499.5 1198.7,501.9 1199.8,504.4 1200.8,506.8 1201.8,509.3 1202.9,511.8 1203.9,514.3 1204.9,516.9 1205.9,519.6 1207.0,522.5 1208.0,525.5 1209.0,528.8 1210.1,532.2 1211.1,535.8 1212.1,539.6 1213.1,543.6 1214.2,547.7 1215.2,551.8 1216.2,555.9 1217.3,560.0 1218.3,564.0 1219.3,567.7 1220.4,571.0 1221.4,573.7 1222.4,575.8 1223.4,577.1 1224.5,577.6 1225.5,577.0 1226.5,575.3 1227.6,572.2 1228.6,567.7 1229.6,561.8 1230.7,554.8 1231.7,546.9 1232.7,538.1 1233.7,528.5 1234.8,518.0 1235.8,507.1 1236.8,496.0 1237.9,484.9 1238.9,474.1 1239.9,463.5 1240.9,453.5 1242.0,444.1 1243.0,435.5 1244.0,427.9 1245.1,421.0 1246.1,414.8 1247.1,409.3 1248.2,404.4 1249.2,400.3 1250.2,397.0 1251.2,394.3 1252.3,392.4 1253.3,390.9 1254.3,389.9 1255.4,389.2 1256.4,388.9 1257.4,388.8 1258.4,389.0 1259.5,389.6 1260.5,390.6 1261.5,392.0 1262.6,393.7 1263.6,395.9 1264.6,398.3 1265.7,401.1 1266.7,404.2 1267.7,407.6 1268.7,411.2 1269.8,415.0 1270.8,418.8 1271.8,422.7 1272.9,426.5 1273.9,430.1 1274.9,433.6 1276.0,436.9 1277.0,439.8 1278.0,442.5 1279.0,444.8 1280.1,446.8 1281.1,448.6 1282.1,450.1 1283.2,451.4 1284.2,452.5 1285.2,453.5 1286.2,454.4 1287.3,455.1 1288.3,455.8 1289.3,456.3 1290.4,456.9 1291.4,457.5 1292.4,458.2 1293.5,459.0 1294.5,460.0 1295.5,461.2 1296.5,462.8 1297.6,464.7 1298.6,466.8 1299.6,469.2 1300.7,471.7 1301.7,474.3 1302.7,476.9 1303.8,479.6 1304.8,482.3 1305.8,484.9 1306.8,487.5 1307.9,490.1 1308.9,492.7 1309.9,495.3 1311.0,497.9 1312.0,500.5 1313.0,503.2 1314.0,505.8 1315.1,508.5 1316.1,511.3 1317.1,514.2 1318.2,517.2 1319.2,520.4 1320.2,523.9 1321.3,527.6 1322.3,531.4 1323.3,535.3 1324.3,539.3 1325.4,543.3 1326.4,547.3 1327.4,551.3 1328.5,555.3 1329.5,559.3 1330.5,563.1 1331.5,566.7 1332.6,570.1 1333.6,573.0 1334.6,575.4 1335.7,577.1 1336.7,578.1 1337.7,578.3 1338.8,577.6 1339.8,575.9 1340.8,572.9 1341.8,568.5 1342.9,562.6 1343.9,555.6 1344.9,547.5 1346.0,538.2 1347.0,527.7 1348.0,516.5 1349.1,504.8 1350.1,492.4 1351.1,479.2 1352.1,464.7"/>
<path class="g" d="M1188.4,472.0 1189.5,474.3 1190.5,476.6 1191.5,478.8 1192.6,481.1 1193.6,483.3 1194.6,485.6 1195.6,487.8 1196.7,490.0 1197.7,492.3 1198.7,494.5 1199.8,496.8 1200.8,499.1 1201.8,501.5 1202.9,503.9 1203.9,506.4 1204.9,508.9 1205.9,511.6 1207.0,514.5 1208.0,517.5 1209.0,520.7 1210.1,524.2 1211.1,527.8 1212.1,531.6 1213.1,535.6 1214.2,539.7 1215.2,543.8 1216.2,548.0 1217.3,552.1 1218.3,556.1 1219.3,559.8 1220.4,563.1 1221.4,566.0 1222.4,568.2 1223.4,569.6 1224.5,570.3 1225.5,570.0 1226.5,568.5 1227.6,565.8 1228.6,561.7 1229.6,556.3 1230.7,549.9 1231.7,542.6 1232.7,534.5 1233.7,525.6 1234.8,515.9 1235.8,505.7 1236.8,495.4 1237.9,485.0 1238.9,474.9 1239.9,465.1 1240.9,455.7 1242.0,446.9 1243.0,438.9 1244.0,431.7 1245.1,425.3 1246.1,419.5 1247.1,414.3 1248.2,409.8 1249.2,405.9 1250.2,402.8 1251.2,400.4 1252.3,398.6 1253.3,397.3 1254.3,396.4 1255.4,395.8 1256.4,395.5 1257.4,395.5 1258.4,395.8 1259.5,396.4 1260.5,397.4 1261.5,398.8 1262.6,400.6 1263.6,402.7 1264.6,405.0 1265.7,407.7 1266.7,410.6 1267.7,413.8 1268.7,417.3 1269.8,420.8 1270.8,424.5 1271.8,428.0 1272.9,431.6 1273.9,434.9 1274.9,438.2 1276.0,441.1 1277.0,443.9 1278.0,446.3 1279.0,448.4 1280.1,450.2 1281.1,451.7 1282.1,453.0 1283.2,454.1 1284.2,455.1 1285.2,455.9 1286.2,456.6 1287.3,457.2 1288.3,457.7 1289.3,458.2 1290.4,458.6 1291.4,459.1 1292.4,459.7 1293.5,460.4 1294.5,461.3 1295.5,462.5 1296.5,463.9 1297.6,465.7 1298.6,467.7 1299.6,469.9 1300.7,472.3 1301.7,474.8 1302.7,477.4 1303.8,479.9 1304.8,482.5 1305.8,485.0 1306.8,487.6 1307.9,490.0 1308.9,492.5 1309.9,495.0 1311.0,497.5 1312.0,500.0 1313.0,502.4 1314.0,504.9 1315.1,507.4 1316.1,509.9 1317.1,512.5 1318.2,515.3 1319.2,518.2 1320.2,521.3 1321.3,524.5 1322.3,527.9 1323.3,531.3 1324.3,534.8 1325.4,538.3 1326.4,541.8 1327.4,545.2 1328.5,548.7 1329.5,552.0 1330.5,555.3 1331.5,558.4 1332.6,561.2 1333.6,563.6 1334.6,565.5 1335.7,566.8 1336.7,567.4 1337.7,567.3 1338.8,566.5 1339.8,564.6 1340.8,561.7 1341.8,557.6 1342.9,552.7 1343.9,547.1 1344.9,540.9 1346.0,534.1 1347.0,526.7 1348.0,518.9 1349.1,511.2 1350.1,503.3 1351.1,495.0 1352.1,486.1"/>
<path class="g" d="M1188.4,468.5 1189.5,471.1 1190.5,473.7 1191.5,476.2 1192.6,478.6 1193.6,481.0 1194.6,483.3 1195.6,485.6 1196.7,487.9 1197.7,490.1 1198.7,492.2 1199.8,494.4 1200.8,496.5 1201.8,498.6 1202.9,500.7 1203.9,502.9 1204.9,505.0 1205.9,507.3 1207.0,509.8 1208.0,512.3 1209.0,515.1 1210.1,518.1 1211.1,521.3 1212.1,524.6 1213.1,528.1 1214.2,531.7 1215.2,535.5 1216.2,539.2 1217.3,543.0 1218.3,546.7 1219.3,550.1 1220.4,553.3 1221.4,556.0 1222.4,558.2 1223.4,559.7 1224.5,560.4 1225.5,560.2 1226.5,559.0 1227.6,556.6 1228.6,552.9 1229.6,548.0 1230.7,542.1 1231.7,535.3 1232.7,527.8 1233.7,519.5 1234.8,510.5 1235.8,500.9 1236.8,491.2 1237.9,481.5 1238.9,472.0 1239.9,462.7 1240.9,453.9 1242.0,445.5 1243.0,437.9 1244.0,431.0 1245.1,424.9 1246.1,419.3 1247.1,414.3 1248.2,409.8 1249.2,406.0 1250.2,402.8 1251.2,400.4 1252.3,398.4 1253.3,396.9 1254.3,395.8 1255.4,395.1 1256.4,394.6 1257.4,394.3 1258.4,394.4 1259.5,394.8 1260.5,395.5 1261.5,396.7 1262.6,398.2 1263.6,400.1 1264.6,402.3 1265.7,404.8 1266.7,407.6 1267.7,410.8 1268.7,414.1 1269.8,417.7 1270.8,421.3 1271.8,424.9 1272.9,428.5 1273.9,432.0 1274.9,435.3 1276.0,438.4 1277.0,441.3 1278.0,443.9 1279.0,446.1 1280.1,448.1 1281.1,449.8 1282.1,451.3 1283.2,452.5 1284.2,453.6 1285.2,454.5 1286.2,455.3 1287.3,455.9 1288.3,456.4 1289.3,456.8 1290.4,457.1 1291.4,457.5 1292.4,457.8 1293.5,458.3 1294.5,458.9 1295.5,459.7 1296.5,460.7 1297.6,462.1 1298.6,463.6 1299.6,465.3 1300.7,467.2 1301.7,469.1 1302.7,471.1 1303.8,473.2 1304.8,475.2 1305.8,477.3 1306.8,479.3 1307.9,481.3 1308.9,483.4 1309.9,485.5 1311.0,487.7 1312.0,489.9 1313.0,492.2 1314.0,494.5 1315.1,496.9 1316.1,499.3 1317.1,501.9 1318.2,504.7 1319.2,507.7 1320.2,511.0 1321.3,514.4 1322.3,517.9 1323.3,521.6 1324.3,525.3 1325.4,529.1 1326.4,532.8 1327.4,536.6 1328.5,540.3 1329.5,543.9 1330.5,547.5 1331.5,550.8 1332.6,553.8 1333.6,556.5 1334.6,558.6 1335.7,560.1 1336.7,560.9 1337.7,560.9 1338.8,560.2 1339.8,558.5 1340.8,555.6 1341.8,551.4 1342.9,546.1 1343.9,539.9 1344.9,532.8 1346.0,524.7 1347.0,515.7 1348.0,506.2 1349.1,496.4 1350.1,486.1 1351.1,475.2 1352.1,463.3"/>
<path class="g" d="M1188.4,474.5 1189.5,476.9 1190.5,479.3 1191.5,481.6 1192.6,483.8 1193.6,486.1 1194.6,488.3 1195.6,490.4 1196.7,492.5 1197.7,494.6 1198.7,496.6 1199.8,498.7 1200.8,500.7 1201.8,502.7 1202.9,504.8 1203.9,506.8 1204.9,509.0 1205.9,511.2 1207.0,513.6 1208.0,516.1 1209.0,518.8 1210.1,521.7 1211.1,524.9 1212.1,528.1 1213.1,531.6 1214.2,535.2 1215.2,538.9 1216.2,542.6 1217.3,546.3 1218.3,549.9 1219.3,553.4 1220.4,556.5 1221.4,559.2 1222.4,561.3 1223.4,562.7 1224.5,563.4 1225.5,563.2 1226.5,562.1 1227.6,559.7 1228.6,556.0 1229.6,551.1 1230.7,545.3 1231.7,538.7 1232.7,531.3 1233.7,523.0 1234.8,514.1 1235.8,504.8 1236.8,495.2 1237.9,485.6 1238.9,476.2 1239.9,467.1 1240.9,458.4 1242.0,450.2 1243.0,442.8 1244.0,436.0 1245.1,430.0 1246.1,424.6 1247.1,419.7 1248.2,415.3 1249.2,411.6 1250.2,408.6 1251.2,406.2 1252.3,404.4 1253.3,403.0 1254.3,402.0 1255.4,401.3 1256.4,400.9 1257.4,400.8 1258.4,400.9 1259.5,401.4 1260.5,402.2 1261.5,403.5 1262.6,405.1 1263.6,407.0 1264.6,409.3 1265.7,411.8 1266.7,414.7 1267.7,417.8 1268.7,421.2 1269.8,424.7 1270.8,428.4 1271.8,432.0 1272.9,435.6 1273.9,439.1 1274.9,442.4 1276.0,445.5 1277.0,448.4 1278.0,451.0 1279.0,453.3 1280.1,455.3 1281.1,457.1 1282.1,458.6 1283.2,459.9 1284.2,461.0 1285.2,462.0 1286.2,462.8 1287.3,463.5 1288.3,464.1 1289.3,464.5 1290.4,465.0 1291.4,465.4 1292.4,465.9 1293.5,466.4 1294.5,467.1 1295.5,468.0 1296.5,469.2 1297.6,470.6 1298.6,472.2 1299.6,474.0 1300.7,475.9 1301.7,478.0 1302.7,480.1 1303.8,482.2 1304.8,484.3 1305.8,486.4 1306.8,488.5 1307.9,490.6 1308.9,492.7 1309.9,494.8 1311.0,497.0 1312.0,499.2 1313.0,501.4 1314.0,503.7 1315.1,506.0 1316.1,508.5 1317.1,511.0 1318.2,513.7 1319.2,516.6 1320.2,519.7 1321.3,523.0 1322.3,526.5 1323.3,530.0 1324.3,533.6 1325.4,537.2 1326.4,540.7 1327.4,544.3 1328.5,547.9 1329.5,551.3 1330.5,554.7 1331.5,557.8 1332.6,560.7 1333.6,563.2 1334.6,565.2 1335.7,566.5 1336.7,567.1 1337.7,567.0 1338.8,566.2 1339.8,564.4 1340.8,561.5 1341.8,557.4 1342.9,552.3 1343.9,546.6 1344.9,540.0 1346.0,532.7 1347.0,524.8 1348.0,516.4 1349.1,507.9 1350.1,499.2 1351.1,490.0 1352.1,480.0"/>
<path class="g" d="M1188.4,470.2 1189.5,472.8 1190.5,475.3 1191.5,477.8 1192.6,480.2 1193.6,482.6 1194.6,485.0 1195.6,487.4 1196.7,489.7 1197.7,492.0 1198.7,494.3 1199.8,496.6 1200.8,498.9 1201.8,501.2 1202.9,503.5 1203.9,505.8 1204.9,508.2 1205.9,510.7 1207.0,513.3 1208.0,516.1 1209.0,519.1 1210.1,522.2 1211.1,525.5 1212.1,529.0 1213.1,532.6 1214.2,536.3 1215.2,540.1 1216.2,543.8 1217.3,547.6 1218.3,551.2 1219.3,554.6 1220.4,557.7 1221.4,560.3 1222.4,562.3 1223.4,563.6 1224.5,564.1 1225.5,563.7 1226.5,562.3 1227.6,559.7 1228.6,555.7 1229.6,550.6 1230.7,544.5 1231.7,537.5 1232.7,529.8 1233.7,521.3 1234.8,512.1 1235.8,502.4 1236.8,492.5 1237.9,482.7 1238.9,473.1 1239.9,463.7 1240.9,454.8 1242.0,446.5 1243.0,438.8 1244.0,432.0 1245.1,425.8 1246.1,420.3 1247.1,415.4 1248.2,411.0 1249.2,407.2 1250.2,404.2 1251.2,401.8 1252.3,400.0 1253.3,398.6 1254.3,397.7 1255.4,397.0 1256.4,396.6 1257.4,396.4 1258.4,396.5 1259.5,397.0 1260.5,397.8 1261.5,398.9 1262.6,400.4 1263.6,402.3 1264.6,404.4 1265.7,406.8 1266.7,409.5 1267.7,412.4 1268.7,415.6 1269.8,419.0 1270.8,422.4 1271.8,425.8 1272.9,429.1 1273.9,432.3 1274.9,435.4 1276.0,438.2 1277.0,440.8 1278.0,443.2 1279.0,445.2 1280.1,446.9 1281.1,448.4 1282.1,449.7 1283.2,450.8 1284.2,451.7 1285.2,452.5 1286.2,453.2 1287.3,453.7 1288.3,454.2 1289.3,454.6 1290.4,455.0 1291.4,455.4 1292.4,455.8 1293.5,456.3 1294.5,457.1 1295.5,458.0 1296.5,459.2 1297.6,460.7 1298.6,462.4 1299.6,464.3 1300.7,466.4 1301.7,468.5 1302.7,470.7 1303.8,472.9 1304.8,475.2 1305.8,477.3 1306.8,479.5 1307.9,481.7 1308.9,483.9 1309.9,486.1 1311.0,488.3 1312.0,490.5 1313.0,492.8 1314.0,495.1 1315.1,497.4 1316.1,499.8 1317.1,502.4 1318.2,505.1 1319.2,508.0 1320.2,511.1 1321.3,514.4 1322.3,517.8 1323.3,521.4 1324.3,525.0 1325.4,528.6 1326.4,532.3 1327.4,535.9 1328.5,539.5 1329.5,543.1 1330.5,546.6 1331.5,550.0 1332.6,553.0 1333.6,555.7 1334.6,557.9 1335.7,559.5 1336.7,560.4 1337.7,560.6 1338.8,560.1 1339.8,558.6 1340.8,555.9 1341.8,552.0 1342.9,547.1 1343.9,541.1 1344.9,534.3 1346.0,526.5 1347.0,517.9 1348.0,508.6 1349.1,499.1 1350.1,489.1 1351.1,478.5 1352.1,466.9"/>
<path class="g" d="M1188.4,472.5 1189.5,474.9 1190.5,477.3 1191.5,479.8 1192.6,482.2 1193.6,484.7 1194.6,487.2 1195.6,489.7 1196.7,492.2 1197.7,494.7 1198.7,497.2 1199.8,499.8 1200.8,502.4 1201.8,505.0 1202.9,507.6 1203.9,510.3 1204.9,513.1 1205.9,515.9 1207.0,518.9 1208.0,522.0 1209.0,525.4 1210.1,528.8 1211.1,532.5 1212.1,536.3 1213.1,540.2 1214.2,544.2 1215.2,548.2 1216.2,552.3 1217.3,556.3 1218.3,560.1 1219.3,563.7 1220.4,566.9 1221.4,569.6 1222.4,571.7 1223.4,573.0 1224.5,573.5 1225.5,573.1 1226.5,571.6 1227.6,568.9 1228.6,564.7 1229.6,559.4 1230.7,553.0 1231.7,545.8 1232.7,537.7 1233.7,528.9 1234.8,519.4 1235.8,509.4 1236.8,499.2 1237.9,489.1 1238.9,479.2 1239.9,469.7 1240.9,460.5 1242.0,452.0 1243.0,444.2 1244.0,437.3 1245.1,431.1 1246.1,425.6 1247.1,420.6 1248.2,416.2 1249.2,412.5 1250.2,409.5 1251.2,407.1 1252.3,405.3 1253.3,404.0 1254.3,403.0 1255.4,402.3 1256.4,401.9 1257.4,401.7 1258.4,401.7 1259.5,402.1 1260.5,402.7 1261.5,403.8 1262.6,405.2 1263.6,406.8 1264.6,408.8 1265.7,411.0 1266.7,413.6 1267.7,416.4 1268.7,419.4 1269.8,422.6 1270.8,425.9 1271.8,429.1 1272.9,432.3 1273.9,435.5 1274.9,438.5 1276.0,441.3 1277.0,443.9 1278.0,446.2 1279.0,448.3 1280.1,450.1 1281.1,451.6 1282.1,453.0 1283.2,454.3 1284.2,455.5 1285.2,456.5 1286.2,457.4 1287.3,458.3 1288.3,459.1 1289.3,459.9 1290.4,460.7 1291.4,461.5 1292.4,462.4 1293.5,463.4 1294.5,464.7 1295.5,466.1 1296.5,467.9 1297.6,469.9 1298.6,472.1 1299.6,474.5 1300.7,477.0 1301.7,479.6 1302.7,482.3 1303.8,484.9 1304.8,487.5 1305.8,490.0 1306.8,492.4 1307.9,494.8 1308.9,497.1 1309.9,499.5 1311.0,501.8 1312.0,504.0 1313.0,506.3 1314.0,508.6 1315.1,510.9 1316.1,513.2 1317.1,515.6 1318.2,518.2 1319.2,521.0 1320.2,523.9 1321.3,527.1 1322.3,530.4 1323.3,533.8 1324.3,537.2 1325.4,540.7 1326.4,544.3 1327.4,547.8 1328.5,551.4 1329.5,554.9 1330.5,558.3 1331.5,561.5 1332.6,564.5 1333.6,567.2 1334.6,569.3 1335.7,570.8 1336.7,571.7 1337.7,571.8 1338.8,571.1 1339.8,569.5 1340.8,566.6 1341.8,562.4 1342.9,556.9 1343.9,550.3 1344.9,542.6 1346.0,533.8 1347.0,523.9 1348.0,513.3 1349.1,502.2 1350.1,490.6 1351.1,478.0 1352.1,464.3"/>
</g>
<path class="a" d="M1188.4,380.8 L1188.4,630.0 M1187.9,629.5 L1450.0,629.5"/>
<path class="a" d="M1281.6,629.5 L1281.6,626.5 M1374.7,629.5 L1374.7,626.5 M1188.4,393.8 L1191.4,393.8 M1188.4,472.6 L1191.4,472.6 M1188.4,551.2 L1191.4,551.2"/>
<path class="b" d="M1188.4,473.2 1189.5,475.6 1190.5,478.0 1191.5,480.4 1192.6,482.8 1193.6,485.2 1194.6,487.5 1195.6,489.8 1196.7,492.1 1197.7,494.4 1198.7,496.7 1199.8,499.0 1200.8,501.3 1201.8,503.6 1202.9,506.0 1203.9,508.4 1204.9,510.8 1205.9,513.4 1207.0,516.1 1208.0,519.0 1209.0,522.0 1210.1,525.3 1211.1,528.7 1212.1,532.3 1213.1,536.0 1214.2,539.8 1215.2,543.8 1216.2,547.7 1217.3,551.5 1218.3,555.2 1219.3,558.8 1220.4,561.9 1221.4,564.6 1222.4,566.6 1223.4,567.9 1224.5,568.4 1225.5,568.0 1226.5,566.5 1227.6,563.8 1228.6,559.6 1229.6,554.3 1230.7,548.0 1231.7,540.8 1232.7,532.7 1233.7,523.9 1234.8,514.4 1235.8,504.4 1236.8,494.3 1237.9,484.1 1238.9,474.2 1239.9,464.6 1240.9,455.5 1242.0,446.9 1243.0,439.1 1244.0,432.1 1245.1,425.9 1246.1,420.3 1247.1,415.3 1248.2,410.9 1249.2,407.2 1250.2,404.2 1251.2,401.9 1252.3,400.2 1253.3,398.9 1254.3,398.1 1255.4,397.5 1256.4,397.3 1257.4,397.3 1258.4,397.6 1259.5,398.2 1260.5,399.1 1261.5,400.5 1262.6,402.2 1263.6,404.2 1264.6,406.5 1265.7,409.1 1266.7,411.9 1267.7,415.1 1268.7,418.4 1269.8,422.0 1270.8,425.5 1271.8,429.1 1272.9,432.6 1273.9,435.9 1274.9,439.1 1276.0,442.1 1277.0,444.8 1278.0,447.3 1279.0,449.4 1280.1,451.2 1281.1,452.8 1282.1,454.2 1283.2,455.3 1284.2,456.4 1285.2,457.2 1286.2,458.0 1287.3,458.6 1288.3,459.1 1289.3,459.6 1290.4,460.1 1291.4,460.6 1292.4,461.2 1293.5,461.8 1294.5,462.7 1295.5,463.8 1296.5,465.2 1297.6,466.8 1298.6,468.7 1299.6,470.8 1300.7,473.0 1301.7,475.4 1302.7,477.7 1303.8,480.1 1304.8,482.5 1305.8,484.8 1306.8,487.2 1307.9,489.5 1308.9,491.7 1309.9,494.0 1311.0,496.3 1312.0,498.6 1313.0,501.0 1314.0,503.3 1315.1,505.7 1316.1,508.1 1317.1,510.7 1318.2,513.4 1319.2,516.3 1320.2,519.4 1321.3,522.6 1322.3,526.1 1323.3,529.6 1324.3,533.2 1325.4,536.8 1326.4,540.4 1327.4,544.0 1328.5,547.6 1329.5,551.1 1330.5,554.6 1331.5,557.9 1332.6,560.9 1333.6,563.5 1334.6,565.7 1335.7,567.2 1336.7,568.0 1337.7,568.1 1338.8,567.4 1339.8,565.8 1340.8,563.0 1341.8,558.9 1342.9,553.7 1343.9,547.4 1344.9,540.3 1346.0,532.2 1347.0,523.2 1348.0,513.5 1349.1,503.6 1350.1,493.2 1351.1,482.1 1352.1,470.0"/>
<text class="t" transform="translate(1187.6,660.3) scale(1,1.05)" text-anchor="middle">0</text>
<text class="t" transform="translate(1280.8,660.3) scale(1,1.05)" text-anchor="middle">0.5</text>
<text class="t" transform="translate(1373.9,660.3) scale(1,1.05)" text-anchor="middle">1</text>
<text class="t" transform="translate(1179.6,403.2) scale(1,1.05)" text-anchor="end">1</text>
<text class="t" transform="translate(1179.6,482.0) scale(1,1.05)" text-anchor="end">0</text>
<text class="t" transform="translate(1179.6,560.6) scale(1,1.05)" text-anchor="end">-1</text>
<text class="t" transform="translate(1179.6,638.7) scale(1,1.05)" text-anchor="end">-2</text>
<text class="l" transform="translate(1319.2,692.5) scale(1,1.05)" text-anchor="middle">time/s</text>
<text class="l" transform="translate(1150.6,505.1) rotate(-90) scale(1,1.05)" text-anchor="middle">amplitude/a.u.</text>
<path d="M1192.0,363.4 L1204.1,375.0 M1204.1,363.4 L1192.0,375.0" stroke="#262626" stroke-width="1.25" fill="none"/>
<text class="t" transform="translate(1208.4,376.0) scale(1,1.05)">10<tspan class="s" dy="-11.9">-3</tspan></text>
</g>
<g id="p9">
<clipPath id="c8"><rect x="75.5" y="732.2" width="271.3" height="248.79999999999995"/></clipPath>
<g clip-path="url(#c8)">
<path class="g" d="M75.4,902.1 76.5,904.4 77.5,906.8 78.6,909.2 79.6,911.7 80.7,914.3 81.7,916.8 82.8,919.4 83.8,921.9 84.9,924.4 85.9,926.8 87.0,929.1 88.0,931.2 89.0,933.1 90.1,934.9 91.1,936.4 92.2,937.9 93.2,939.4 94.3,940.9 95.3,942.7 96.4,944.6 97.4,946.6 98.5,948.9 99.5,951.4 100.6,954.1 101.6,957.0 102.7,960.1 103.7,963.8 104.7,967.9 105.8,972.1 106.8,976.1 107.9,979.8 108.9,982.9 110.0,985.1 111.0,986.2 112.1,986.4 113.1,985.5 114.2,983.4 115.2,979.6 116.3,971.7 117.3,960.6 118.4,948.5 119.4,937.7 120.4,928.1 121.5,917.5 122.5,906.1 123.6,894.5 124.6,882.9 125.7,870.9 126.7,858.4 127.8,845.5 128.8,832.6 129.9,820.3 130.9,808.8 132.0,798.6 133.0,789.7 134.1,782.2 135.1,775.9 136.1,770.7 137.2,766.7 138.2,763.7 139.3,761.5 140.3,759.9 141.4,758.8 142.4,758.1 143.5,757.6 144.5,757.4 145.6,757.4 146.6,757.8 147.7,758.6 148.7,759.8 149.8,761.4 150.8,763.4 151.8,765.8 152.9,768.6 153.9,771.8 155.0,775.4 156.0,779.3 157.1,783.6 158.1,788.2 159.2,793.0 160.2,797.9 161.3,803.0 162.3,808.1 163.4,813.3 164.4,818.5 165.5,823.5 166.5,828.3 167.5,832.9 168.6,837.4 169.6,841.7 170.7,845.9 171.7,849.8 172.8,853.5 173.8,856.8 174.9,859.8 175.9,862.5 177.0,864.9 178.0,866.9 179.1,868.6 180.1,870.2 181.2,871.5 182.2,872.8 183.2,874.1 184.3,875.5 185.3,877.0 186.4,878.6 187.4,880.3 188.5,882.3 189.5,884.3 190.6,886.5 191.6,888.7 192.7,891.0 193.7,893.3 194.8,895.5 195.8,897.5 196.9,899.4 197.9,901.1 198.9,902.7 200.0,904.3 201.0,906.0 202.1,907.6 203.1,909.2 204.2,910.8 205.2,912.3 206.3,913.8 207.3,915.3 208.4,917.0 209.4,918.8 210.5,920.7 211.5,922.7 212.6,924.9 213.6,927.3 214.6,930.0 215.7,933.0 216.7,936.3 217.8,939.6 218.8,943.0 219.9,946.3 220.9,949.6 222.0,952.7 223.0,955.6 224.1,958.3 225.1,960.4 226.2,961.8 227.2,962.4 228.3,962.3 229.3,961.3 230.3,959.2 231.4,955.8 232.4,950.9 233.5,944.8 234.5,937.2 235.6,928.4 236.6,918.1 237.7,906.5 238.7,893.7 239.8,880.2 240.8,866.8 241.9,854.4"/>
<path class="g" d="M75.4,872.1 76.5,875.1 77.5,878.1 78.6,881.2 79.6,884.4 80.7,887.6 81.7,890.7 82.8,893.9 83.8,897.1 84.9,900.2 85.9,903.2 87.0,906.1 88.0,908.9 89.0,911.6 90.1,914.0 91.1,916.2 92.2,918.4 93.2,920.5 94.3,922.6 95.3,924.9 96.4,927.3 97.4,929.9 98.5,932.6 99.5,935.4 100.6,938.4 101.6,941.4 102.7,944.6 103.7,947.8 104.7,951.0 105.8,954.1 106.8,957.1 107.9,959.8 108.9,962.2 110.0,964.1 111.0,965.3 112.1,965.9 113.1,965.8 114.2,964.9 115.2,962.7 116.3,959.0 117.3,953.7 118.4,947.0 119.4,939.0 120.4,929.6 121.5,918.5 122.5,906.3 123.6,893.5 124.6,880.5 125.7,867.0 126.7,853.0 127.8,838.6 128.8,824.2 129.9,810.4 130.9,797.6 132.0,786.0 133.0,775.7 134.1,766.8 135.1,759.3 136.1,753.0 137.2,747.9 138.2,743.9 139.3,740.8 140.3,738.5 141.4,736.8 142.4,735.6 143.5,734.8 144.5,734.4 145.6,734.4 146.6,734.9 147.7,735.9 148.7,737.4 149.8,739.4 150.8,741.9 151.8,744.8 152.9,748.1 153.9,751.9 155.0,756.0 156.0,760.6 157.1,765.5 158.1,770.7 159.2,776.0 160.2,781.5 161.3,787.1 162.3,792.7 163.4,798.3 164.4,803.7 165.5,809.0 166.5,814.0 167.5,818.9 168.6,823.5 169.6,828.0 170.7,832.3 171.7,836.4 172.8,840.2 173.8,843.7 174.9,846.8 175.9,849.7 177.0,852.2 178.0,854.4 179.1,856.4 180.1,858.2 181.2,859.8 182.2,861.4 183.2,863.1 184.3,864.8 185.3,866.6 186.4,868.6 187.4,870.7 188.5,873.0 189.5,875.5 190.6,878.1 191.6,880.8 192.7,883.5 193.7,886.4 194.8,889.2 195.8,891.9 196.9,894.7 197.9,897.4 198.9,900.1 200.0,902.8 201.0,905.6 202.1,908.4 203.1,911.1 204.2,913.7 205.2,916.1 206.3,918.4 207.3,920.6 208.4,922.7 209.4,924.8 210.5,926.9 211.5,929.1 212.6,931.4 213.6,933.9 214.6,936.7 215.7,939.7 216.7,942.9 217.8,946.1 218.8,949.4 219.9,952.5 220.9,955.6 222.0,958.5 223.0,961.2 224.1,963.5 225.1,965.3 226.2,966.3 227.2,966.6 228.3,966.1 229.3,964.3 230.3,961.2 231.4,956.4 232.4,949.9 233.5,941.9 234.5,932.4 235.6,921.3 236.6,908.8 237.7,894.8 238.7,879.6 239.8,863.7 240.8,848.0 241.9,833.4"/>
<path class="g" d="M75.4,875.1 76.5,877.8 77.5,880.6 78.6,883.4 79.6,886.3 80.7,889.2 81.7,892.2 82.8,895.1 83.8,898.1 84.9,900.9 85.9,903.8 87.0,906.5 88.0,909.1 89.0,911.5 90.1,913.8 91.1,915.9 92.2,917.9 93.2,919.8 94.3,921.8 95.3,923.9 96.4,926.2 97.4,928.7 98.5,931.2 99.5,934.0 100.6,936.9 101.6,939.8 102.7,942.9 103.7,946.0 104.7,949.2 105.8,952.3 106.8,955.2 107.9,957.9 108.9,960.2 110.0,962.1 111.0,963.3 112.1,963.9 113.1,963.8 114.2,962.9 115.2,960.8 116.3,957.2 117.3,952.0 118.4,945.4 119.4,937.6 120.4,928.3 121.5,917.4 122.5,905.3 123.6,892.7 124.6,879.9 125.7,866.7 126.7,852.8 127.8,838.7 128.8,824.6 129.9,811.0 130.9,798.3 132.0,787.0 133.0,776.9 134.1,768.3 135.1,760.9 136.1,754.9 137.2,749.9 138.2,746.1 139.3,743.2 140.3,741.1 141.4,739.5 142.4,738.4 143.5,737.7 144.5,737.4 145.6,737.5 146.6,738.0 147.7,739.1 148.7,740.7 149.8,742.7 150.8,745.3 151.8,748.3 152.9,751.7 153.9,755.5 155.0,759.8 156.0,764.5 157.1,769.5 158.1,774.8 159.2,780.2 160.2,785.8 161.3,791.4 162.3,797.1 163.4,802.7 164.4,808.3 165.5,813.6 166.5,818.7 167.5,823.5 168.6,828.2 169.6,832.7 170.7,837.0 171.7,841.1 172.8,844.8 173.8,848.3 174.9,851.4 175.9,854.2 177.0,856.6 178.0,858.7 179.1,860.5 180.1,862.2 181.2,863.7 182.2,865.1 183.2,866.5 184.3,868.0 185.3,869.6 186.4,871.3 187.4,873.3 188.5,875.3 189.5,877.5 190.6,879.9 191.6,882.3 192.7,884.8 193.7,887.4 194.8,889.9 195.8,892.4 196.9,894.9 197.9,897.3 198.9,899.8 200.0,902.3 201.0,904.8 202.1,907.3 203.1,909.8 204.2,912.1 205.2,914.4 206.3,916.4 207.3,918.4 208.4,920.3 209.4,922.2 210.5,924.2 211.5,926.2 212.6,928.4 213.6,930.8 214.6,933.4 215.7,936.3 216.7,939.4 217.8,942.6 218.8,945.8 219.9,948.9 220.9,952.0 222.0,954.9 223.0,957.6 224.1,960.0 225.1,961.9 226.2,963.1 227.2,963.5 228.3,963.2 229.3,961.8 230.3,959.2 231.4,955.2 232.4,949.6 233.5,942.6 234.5,934.2 235.6,924.4 236.6,913.1 237.7,900.5 238.7,886.6 239.8,872.1 240.8,857.7 241.9,844.4"/>
<path class="g" d="M75.4,880.1 76.5,882.0 77.5,884.1 78.6,886.2 79.6,888.5 80.7,890.8 81.7,893.1 82.8,895.4 83.8,897.8 84.9,900.1 85.9,902.5 87.0,904.7 88.0,906.9 89.0,908.9 90.1,910.7 91.1,912.4 92.2,914.1 93.2,915.7 94.3,917.4 95.3,919.2 96.4,921.2 97.4,923.5 98.5,925.9 99.5,928.4 100.6,931.1 101.6,934.0 102.7,936.9 103.7,939.9 104.7,943.0 105.8,946.0 106.8,948.9 107.9,951.6 108.9,954.0 110.0,955.9 111.0,957.2 112.1,957.9 113.1,957.9 114.2,957.2 115.2,955.3 116.3,952.1 117.3,947.3 118.4,941.3 119.4,934.0 120.4,925.4 121.5,915.2 122.5,903.9 123.6,892.1 124.6,880.1 125.7,867.7 126.7,854.8 127.8,841.5 128.8,828.3 129.9,815.6 130.9,803.8 132.0,793.3 133.0,784.1 134.1,776.3 135.1,769.7 136.1,764.4 137.2,760.2 138.2,756.9 139.3,754.6 140.3,753.0 141.4,751.8 142.4,751.0 143.5,750.5 144.5,750.3 145.6,750.5 146.6,751.0 147.7,751.9 148.7,753.2 149.8,755.0 150.8,757.2 151.8,759.8 152.9,762.7 153.9,766.0 155.0,769.7 156.0,773.7 157.1,778.1 158.1,782.6 159.2,787.3 160.2,792.1 161.3,797.0 162.3,801.9 163.4,806.7 164.4,811.4 165.5,816.0 166.5,820.3 167.5,824.3 168.6,828.2 169.6,832.0 170.7,835.5 171.7,838.9 172.8,842.0 173.8,844.9 174.9,847.4 175.9,849.6 177.0,851.6 178.0,853.3 179.1,854.8 180.1,856.1 181.2,857.4 182.2,858.6 183.2,859.8 184.3,861.1 185.3,862.5 186.4,864.1 187.4,865.8 188.5,867.7 189.5,869.7 190.6,871.9 191.6,874.2 192.7,876.6 193.7,879.0 194.8,881.5 195.8,883.9 196.9,886.2 197.9,888.6 198.9,891.0 200.0,893.4 201.0,895.9 202.1,898.3 203.1,900.7 204.2,903.1 205.2,905.3 206.3,907.3 207.3,909.3 208.4,911.2 209.4,913.2 210.5,915.1 211.5,917.2 212.6,919.5 213.6,921.9 214.6,924.6 215.7,927.6 216.7,930.8 217.8,934.1 218.8,937.4 219.9,940.6 220.9,943.8 222.0,946.9 223.0,949.8 224.1,952.3 225.1,954.4 226.2,955.8 227.2,956.4 228.3,956.3 229.3,955.4 230.3,953.3 231.4,950.0 232.4,945.4 233.5,939.4 234.5,932.1 235.6,923.5 236.6,913.5 237.7,902.2 238.7,889.7 239.8,876.5 240.8,863.4 241.9,851.4"/>
<path class="g" d="M75.4,882.1 76.5,884.2 77.5,886.5 78.6,888.8 79.6,891.2 80.7,893.7 81.7,896.1 82.8,898.7 83.8,901.2 84.9,903.6 85.9,906.1 87.0,908.5 88.0,910.7 89.0,912.9 90.1,914.8 91.1,916.6 92.2,918.3 93.2,920.0 94.3,921.8 95.3,923.7 96.4,925.8 97.4,928.1 98.5,930.6 99.5,933.2 100.6,935.9 101.6,938.8 102.7,941.8 103.7,944.9 104.7,948.0 105.8,951.0 106.8,953.9 107.9,956.6 108.9,959.0 110.0,960.9 111.0,962.2 112.1,962.9 113.1,962.9 114.2,962.1 115.2,960.3 116.3,957.0 117.3,952.2 118.4,946.1 119.4,938.8 120.4,930.0 121.5,919.8 122.5,908.4 123.6,896.5 124.6,884.5 125.7,872.0 126.7,858.9 127.8,845.5 128.8,832.2 129.9,819.4 130.9,807.6 132.0,797.0 133.0,787.7 134.1,779.8 135.1,773.2 136.1,767.7 137.2,763.4 138.2,760.2 139.3,757.8 140.3,756.1 141.4,754.9 142.4,754.0 143.5,753.5 144.5,753.3 145.6,753.5 146.6,754.0 147.7,754.9 148.7,756.3 149.8,758.2 150.8,760.5 151.8,763.1 152.9,766.2 153.9,769.6 155.0,773.4 156.0,777.6 157.1,782.1 158.1,786.8 159.2,791.6 160.2,796.6 161.3,801.6 162.3,806.7 163.4,811.7 164.4,816.6 165.5,821.3 166.5,825.7 167.5,830.0 168.6,834.0 169.6,837.9 170.7,841.7 171.7,845.2 172.8,848.4 173.8,851.4 174.9,854.0 175.9,856.4 177.0,858.4 178.0,860.2 179.1,861.7 180.1,863.1 181.2,864.4 182.2,865.7 183.2,866.9 184.3,868.2 185.3,869.7 186.4,871.3 187.4,873.1 188.5,875.0 189.5,877.1 190.6,879.3 191.6,881.7 192.7,884.1 193.7,886.6 194.8,889.1 195.8,891.5 196.9,893.9 197.9,896.3 198.9,898.8 200.0,901.2 201.0,903.7 202.1,906.2 203.1,908.7 204.2,911.1 205.2,913.3 206.3,915.4 207.3,917.4 208.4,919.3 209.4,921.3 210.5,923.3 211.5,925.4 212.6,927.6 213.6,930.1 214.6,932.8 215.7,935.8 216.7,939.0 217.8,942.3 218.8,945.6 219.9,948.8 220.9,952.0 222.0,955.1 223.0,957.9 224.1,960.5 225.1,962.5 226.2,963.8 227.2,964.4 228.3,964.3 229.3,963.3 230.3,961.1 231.4,957.7 232.4,952.8 233.5,946.6 234.5,939.1 235.6,930.2 236.6,919.9 237.7,908.4 238.7,895.6 239.8,882.1 240.8,868.7 241.9,856.4"/>
<path class="g" d="M75.4,875.3 76.5,877.5 77.5,879.8 78.6,882.2 79.6,884.6 80.7,887.1 81.7,889.6 82.8,892.2 83.8,894.7 84.9,897.3 85.9,899.9 87.0,902.4 88.0,904.8 89.0,907.1 90.1,909.2 91.1,911.3 92.2,913.2 93.2,915.2 94.3,917.2 95.3,919.5 96.4,921.9 97.4,924.5 98.5,927.3 99.5,930.2 100.6,933.3 101.6,936.5 102.7,939.8 103.7,943.2 104.7,946.5 105.8,949.8 106.8,953.0 107.9,955.9 108.9,958.4 110.0,960.4 111.0,961.7 112.1,962.4 113.1,962.4 114.2,961.5 115.2,959.5 116.3,955.9 117.3,950.8 118.4,944.2 119.4,936.4 120.4,927.2 121.5,916.3 122.5,904.3 123.6,891.7 124.6,879.0 125.7,865.7 126.7,851.9 127.8,837.7 128.8,823.7 129.9,810.1 130.9,797.5 132.0,786.1 133.0,776.2 134.1,767.5 135.1,760.2 136.1,754.2 137.2,749.4 138.2,745.6 139.3,742.8 140.3,740.8 141.4,739.3 142.4,738.3 143.5,737.7 144.5,737.5 145.6,737.8 146.6,738.4 147.7,739.6 148.7,741.4 149.8,743.6 150.8,746.3 151.8,749.4 152.9,753.0 153.9,756.9 155.0,761.3 156.0,766.1 157.1,771.2 158.1,776.5 159.2,782.0 160.2,787.6 161.3,793.2 162.3,798.9 163.4,804.4 164.4,809.9 165.5,815.1 166.5,820.1 167.5,824.8 168.6,829.3 169.6,833.6 170.7,837.7 171.7,841.6 172.8,845.2 173.8,848.4 174.9,851.3 175.9,853.9 177.0,856.1 178.0,858.1 179.1,859.8 180.1,861.3 181.2,862.7 182.2,864.0 183.2,865.4 184.3,866.8 185.3,868.3 186.4,870.1 187.4,871.9 188.5,874.0 189.5,876.2 190.6,878.5 191.6,881.0 192.7,883.5 193.7,886.1 194.8,888.7 195.8,891.2 196.9,893.7 197.9,896.2 198.9,898.6 200.0,901.1 201.0,903.6 202.1,906.1 203.1,908.5 204.2,910.7 205.2,912.8 206.3,914.7 207.3,916.5 208.4,918.2 209.4,919.9 210.5,921.5 211.5,923.3 212.6,925.1 213.6,927.1 214.6,929.3 215.7,931.8 216.7,934.5 217.8,937.3 218.8,940.1 219.9,942.8 220.9,945.4 222.0,947.9 223.0,950.2 224.1,952.3 225.1,953.8 226.2,954.8 227.2,955.0 228.3,954.5 229.3,953.2 230.3,950.9 231.4,947.4 232.4,942.6 233.5,936.6 234.5,929.4 235.6,920.9 236.6,911.2 237.7,900.3 238.7,888.2 239.8,875.5 240.8,863.1 241.9,851.7"/>
<path class="g" d="M75.4,876.4 76.5,878.6 77.5,880.9 78.6,883.3 79.6,885.8 80.7,888.3 81.7,890.8 82.8,893.4 83.8,895.9 84.9,898.4 85.9,900.9 87.0,903.2 88.0,905.5 89.0,907.7 90.1,909.7 91.1,911.5 92.2,913.2 93.2,914.9 94.3,916.7 95.3,918.7 96.4,920.8 97.4,923.2 98.5,925.7 99.5,928.3 100.6,931.1 101.6,934.0 102.7,937.1 103.7,940.2 104.7,943.3 105.8,946.3 106.8,949.3 107.9,951.9 108.9,954.2 110.0,956.1 111.0,957.3 112.1,957.8 113.1,957.7 114.2,956.7 115.2,954.6 116.3,951.0 117.3,945.8 118.4,939.2 119.4,931.4 120.4,922.1 121.5,911.2 122.5,899.2 123.6,886.6 124.6,873.9 125.7,860.7 126.7,846.9 127.8,832.8 128.8,818.7 129.9,805.2 130.9,792.7 132.0,781.4 133.0,771.5 134.1,763.0 135.1,755.8 136.1,749.9 137.2,745.1 138.2,741.5 139.3,738.8 140.3,736.9 141.4,735.5 142.4,734.5 143.5,734.0 144.5,733.8 145.6,734.0 146.6,734.7 147.7,735.9 148.7,737.6 149.8,739.8 150.8,742.5 151.8,745.5 152.9,749.0 153.9,752.9 155.0,757.3 156.0,762.0 157.1,767.0 158.1,772.2 159.2,777.7 160.2,783.2 161.3,788.8 162.3,794.4 163.4,799.9 164.4,805.3 165.5,810.5 166.5,815.4 167.5,820.1 168.6,824.5 169.6,828.8 170.7,832.9 171.7,836.8 172.8,840.3 173.8,843.5 174.9,846.4 175.9,848.9 177.0,851.1 178.0,853.0 179.1,854.7 180.1,856.2 181.2,857.5 182.2,858.8 183.2,860.1 184.3,861.4 185.3,862.9 186.4,864.6 187.4,866.4 188.5,868.4 189.5,870.5 190.6,872.8 191.6,875.2 192.7,877.7 193.7,880.3 194.8,882.8 195.8,885.4 196.9,887.9 197.9,890.3 198.9,892.8 200.0,895.4 201.0,897.9 202.1,900.5 203.1,903.0 204.2,905.4 205.2,907.6 206.3,909.7 207.3,911.7 208.4,913.6 209.4,915.6 210.5,917.5 211.5,919.5 212.6,921.7 213.6,924.0 214.6,926.6 215.7,929.5 216.7,932.5 217.8,935.7 218.8,938.9 219.9,942.0 220.9,945.0 222.0,947.9 223.0,950.7 224.1,953.1 225.1,955.0 226.2,956.2 227.2,956.8 228.3,956.5 229.3,955.5 230.3,953.4 231.4,950.1 232.4,945.6 233.5,939.9 234.5,933.1 235.6,925.1 236.6,915.8 237.7,905.4 238.7,894.0 239.8,882.0 240.8,870.3 241.9,859.8"/>
<path class="g" d="M75.4,876.5 76.5,878.7 77.5,880.9 78.6,883.3 79.6,885.7 80.7,888.1 81.7,890.6 82.8,893.0 83.8,895.5 84.9,897.9 85.9,900.4 87.0,902.7 88.0,905.0 89.0,907.1 90.1,909.1 91.1,911.0 92.2,912.8 93.2,914.6 94.3,916.5 95.3,918.5 96.4,920.7 97.4,923.2 98.5,925.8 99.5,928.5 100.6,931.5 101.6,934.5 102.7,937.7 103.7,941.0 104.7,944.2 105.8,947.5 106.8,950.5 107.9,953.4 108.9,955.9 110.0,958.0 111.0,959.5 112.1,960.3 113.1,960.4 114.2,959.8 115.2,958.0 116.3,954.8 117.3,950.0 118.4,943.9 119.4,936.6 120.4,927.9 121.5,917.6 122.5,906.2 123.6,894.3 124.6,882.2 125.7,869.6 126.7,856.4 127.8,842.9 128.8,829.5 129.9,816.6 130.9,804.6 132.0,793.8 133.0,784.3 134.1,776.1 135.1,769.2 136.1,763.5 137.2,759.0 138.2,755.5 139.3,752.9 140.3,751.0 141.4,749.6 142.4,748.7 143.5,748.2 144.5,748.0 145.6,748.2 146.6,748.9 147.7,750.0 148.7,751.6 149.8,753.7 150.8,756.2 151.8,759.2 152.9,762.5 153.9,766.3 155.0,770.4 156.0,775.0 157.1,779.8 158.1,784.8 159.2,790.0 160.2,795.2 161.3,800.6 162.3,805.9 163.4,811.2 164.4,816.3 165.5,821.2 166.5,825.9 167.5,830.3 168.6,834.5 169.6,838.5 170.7,842.3 171.7,845.8 172.8,849.1 173.8,852.0 174.9,854.6 175.9,856.9 177.0,858.8 178.0,860.5 179.1,861.9 180.1,863.1 181.2,864.2 182.2,865.2 183.2,866.3 184.3,867.4 185.3,868.6 186.4,870.0 187.4,871.6 188.5,873.4 189.5,875.3 190.6,877.3 191.6,879.5 192.7,881.8 193.7,884.1 194.8,886.4 195.8,888.7 196.9,891.0 197.9,893.3 198.9,895.6 200.0,897.9 201.0,900.3 202.1,902.7 203.1,905.0 204.2,907.2 205.2,909.3 206.3,911.3 207.3,913.1 208.4,914.9 209.4,916.6 210.5,918.4 211.5,920.3 212.6,922.3 213.6,924.4 214.6,926.8 215.7,929.5 216.7,932.3 217.8,935.2 218.8,938.1 219.9,941.0 220.9,943.8 222.0,946.4 223.0,948.9 224.1,951.1 225.1,952.8 226.2,953.8 227.2,954.2 228.3,953.8 229.3,952.7 230.3,950.5 231.4,947.2 232.4,942.6 233.5,936.8 234.5,929.8 235.6,921.6 236.6,912.2 237.7,901.6 238.7,889.9 239.8,877.6 240.8,865.5 241.9,854.5"/>
<path class="g" d="M75.4,874.2 76.5,876.8 77.5,879.4 78.6,882.2 79.6,885.0 80.7,887.9 81.7,890.8 82.8,893.7 83.8,896.6 84.9,899.4 85.9,902.3 87.0,905.0 88.0,907.6 89.0,910.0 90.1,912.3 91.1,914.3 92.2,916.3 93.2,918.2 94.3,920.2 95.3,922.2 96.4,924.5 97.4,926.9 98.5,929.5 99.5,932.2 100.6,935.0 101.6,938.0 102.7,941.0 103.7,944.1 104.7,947.2 105.8,950.3 106.8,953.2 107.9,955.8 108.9,958.1 110.0,959.9 111.0,961.2 112.1,961.7 113.1,961.5 114.2,960.6 115.2,958.4 116.3,954.7 117.3,949.4 118.4,942.8 119.4,934.8 120.4,925.5 121.5,914.5 122.5,902.3 123.6,889.6 124.6,876.7 125.7,863.3 126.7,849.3 127.8,835.1 128.8,820.9 129.9,807.2 130.9,794.6 132.0,783.2 133.0,773.2 134.1,764.6 135.1,757.4 136.1,751.5 137.2,746.7 138.2,743.0 139.3,740.3 140.3,738.3 141.4,736.9 142.4,735.9 143.5,735.2 144.5,735.0 145.6,735.1 146.6,735.6 147.7,736.6 148.7,738.2 149.8,740.2 150.8,742.7 151.8,745.7 152.9,749.0 153.9,752.8 155.0,757.0 156.0,761.6 157.1,766.5 158.1,771.7 159.2,777.1 160.2,782.6 161.3,788.2 162.3,793.9 163.4,799.5 164.4,805.0 165.5,810.3 166.5,815.3 167.5,820.2 168.6,824.8 169.6,829.3 170.7,833.6 171.7,837.6 172.8,841.4 173.8,844.8 174.9,847.9 175.9,850.7 177.0,853.1 178.0,855.2 179.1,857.1 180.1,858.7 181.2,860.2 182.2,861.6 183.2,863.0 184.3,864.4 185.3,865.9 186.4,867.6 187.4,869.4 188.5,871.4 189.5,873.5 190.6,875.7 191.6,878.0 192.7,880.4 193.7,882.8 194.8,885.2 195.8,887.5 196.9,889.8 197.9,892.0 198.9,894.3 200.0,896.6 201.0,898.9 202.1,901.2 203.1,903.5 204.2,905.7 205.2,907.7 206.3,909.6 207.3,911.4 208.4,913.2 209.4,915.0 210.5,916.9 211.5,918.8 212.6,921.0 213.6,923.3 214.6,926.0 215.7,928.9 216.7,932.2 217.8,935.5 218.8,938.9 219.9,942.2 220.9,945.4 222.0,948.6 223.0,951.6 224.1,954.2 225.1,956.4 226.2,957.9 227.2,958.6 228.3,958.5 229.3,957.6 230.3,955.5 231.4,952.1 232.4,947.2 233.5,940.8 234.5,932.9 235.6,923.6 236.6,912.7 237.7,900.4 238.7,886.7 239.8,872.1 240.8,857.6 241.9,844.1"/>
<path class="g" d="M75.4,878.2 76.5,880.3 77.5,882.5 78.6,884.8 79.6,887.1 80.7,889.6 81.7,892.0 82.8,894.5 83.8,897.0 84.9,899.5 85.9,901.9 87.0,904.3 88.0,906.6 89.0,908.7 90.1,910.7 91.1,912.5 92.2,914.2 93.2,915.9 94.3,917.7 95.3,919.6 96.4,921.7 97.4,923.9 98.5,926.3 99.5,928.8 100.6,931.4 101.6,934.2 102.7,937.1 103.7,940.0 104.7,942.9 105.8,945.8 106.8,948.5 107.9,951.0 108.9,953.2 110.0,954.9 111.0,956.0 112.1,956.5 113.1,956.3 114.2,955.4 115.2,953.3 116.3,949.8 117.3,944.8 118.4,938.5 119.4,931.0 120.4,922.1 121.5,911.6 122.5,900.1 123.6,888.1 124.6,875.9 125.7,863.3 126.7,850.2 127.8,836.8 128.8,823.5 129.9,810.7 130.9,798.8 132.0,788.3 133.0,779.0 134.1,771.2 135.1,764.6 136.1,759.3 137.2,755.0 138.2,751.9 139.3,749.6 140.3,748.1 141.4,747.0 142.4,746.4 143.5,746.1 144.5,746.1 145.6,746.5 146.6,747.3 147.7,748.5 148.7,750.2 149.8,752.3 150.8,754.8 151.8,757.7 152.9,761.0 153.9,764.6 155.0,768.7 156.0,773.1 157.1,777.7 158.1,782.6 159.2,787.6 160.2,792.8 161.3,798.0 162.3,803.2 163.4,808.3 164.4,813.4 165.5,818.2 166.5,822.8 167.5,827.2 168.6,831.4 169.6,835.4 170.7,839.3 171.7,843.0 172.8,846.4 173.8,849.5 174.9,852.2 175.9,854.7 177.0,856.9 178.0,858.8 179.1,860.4 180.1,862.0 181.2,863.3 182.2,864.7 183.2,866.0 184.3,867.4 185.3,868.9 186.4,870.6 187.4,872.4 188.5,874.4 189.5,876.6 190.6,878.8 191.6,881.2 192.7,883.6 193.7,886.0 194.8,888.5 195.8,890.9 196.9,893.2 197.9,895.5 198.9,897.8 200.0,900.2 201.0,902.5 202.1,904.8 203.1,907.1 204.2,909.3 205.2,911.4 206.3,913.2 207.3,915.0 208.4,916.8 209.4,918.5 210.5,920.3 211.5,922.2 212.6,924.3 213.6,926.6 214.6,929.1 215.7,931.9 216.7,935.0 217.8,938.1 218.8,941.3 219.9,944.5 220.9,947.6 222.0,950.6 223.0,953.4 224.1,956.0 225.1,958.0 226.2,959.4 227.2,960.1 228.3,960.1 229.3,959.2 230.3,957.3 231.4,954.0 232.4,949.5 233.5,943.6 234.5,936.3 235.6,927.7 236.6,917.7 237.7,906.4 238.7,893.9 239.8,880.6 240.8,867.4 241.9,855.2"/>
<path class="g" d="M75.4,878.1 76.5,880.2 77.5,882.5 78.6,884.8 79.6,887.2 80.7,889.6 81.7,892.1 82.8,894.5 83.8,897.0 84.9,899.4 85.9,901.8 87.0,904.2 88.0,906.4 89.0,908.5 90.1,910.5 91.1,912.3 92.2,914.1 93.2,915.8 94.3,917.7 95.3,919.7 96.4,921.9 97.4,924.3 98.5,926.9 99.5,929.7 100.6,932.6 101.6,935.7 102.7,938.9 103.7,942.2 104.7,945.5 105.8,948.8 106.8,951.9 107.9,954.8 108.9,957.4 110.0,959.6 111.0,961.1 112.1,961.9 113.1,962.2 114.2,961.5 115.2,959.8 116.3,956.5 117.3,951.7 118.4,945.6 119.4,938.2 120.4,929.3 121.5,918.9 122.5,907.3 123.6,895.2 124.6,882.8 125.7,870.0 126.7,856.6 127.8,842.8 128.8,829.1 129.9,815.9 130.9,803.6 132.0,792.5 133.0,782.8 134.1,774.4 135.1,767.2 136.1,761.3 137.2,756.5 138.2,752.8 139.3,750.0 140.3,747.9 141.4,746.4 142.4,745.2 143.5,744.5 144.5,744.1 145.6,744.1 146.6,744.6 147.7,745.5 148.7,747.0 149.8,749.0 150.8,751.4 151.8,754.2 152.9,757.4 153.9,761.1 155.0,765.2 156.0,769.7 157.1,774.5 158.1,779.5 159.2,784.7 160.2,790.0 161.3,795.4 162.3,800.9 163.4,806.2 164.4,811.5 165.5,816.5 166.5,821.3 167.5,825.8 168.6,830.2 169.6,834.3 170.7,838.3 171.7,842.0 172.8,845.5 173.8,848.6 174.9,851.4 175.9,853.8 177.0,856.0 178.0,857.8 179.1,859.4 180.1,860.8 181.2,862.1 182.2,863.3 183.2,864.5 184.3,865.8 185.3,867.2 186.4,868.8 187.4,870.6 188.5,872.5 189.5,874.6 190.6,876.8 191.6,879.2 192.7,881.7 193.7,884.2 194.8,886.7 195.8,889.2 196.9,891.7 197.9,894.2 198.9,896.7 200.0,899.2 201.0,901.8 202.1,904.4 203.1,906.9 204.2,909.3 205.2,911.6 206.3,913.8 207.3,915.8 208.4,917.7 209.4,919.7 210.5,921.6 211.5,923.7 212.6,925.8 213.6,928.2 214.6,930.7 215.7,933.5 216.7,936.5 217.8,939.6 218.8,942.7 219.9,945.6 220.9,948.5 222.0,951.3 223.0,953.8 224.1,956.1 225.1,957.8 226.2,958.8 227.2,959.1 228.3,958.7 229.3,957.4 230.3,955.1 231.4,951.7 232.4,947.1 233.5,941.3 234.5,934.4 235.6,926.4 236.6,917.2 237.7,906.8 238.7,895.5 239.8,883.7 240.8,872.2 241.9,861.8"/>
<path class="g" d="M75.4,879.7 76.5,882.0 77.5,884.3 78.6,886.8 79.6,889.3 80.7,891.8 81.7,894.4 82.8,897.0 83.8,899.5 84.9,902.1 85.9,904.5 87.0,906.9 88.0,909.2 89.0,911.3 90.1,913.3 91.1,915.0 92.2,916.7 93.2,918.3 94.3,920.0 95.3,921.7 96.4,923.7 97.4,925.8 98.5,928.0 99.5,930.4 100.6,932.9 101.6,935.5 102.7,938.2 103.7,940.9 104.7,943.6 105.8,946.3 106.8,948.9 107.9,951.2 108.9,953.2 110.0,954.7 111.0,955.6 112.1,955.9 113.1,955.6 114.2,954.5 115.2,952.3 116.3,948.6 117.3,943.5 118.4,937.0 119.4,929.4 120.4,920.4 121.5,909.9 122.5,898.3 123.6,886.2 124.6,873.9 125.7,861.3 126.7,848.1 127.8,834.6 128.8,821.2 129.9,808.3 130.9,796.4 132.0,785.8 133.0,776.5 134.1,768.6 135.1,761.9 136.1,756.5 137.2,752.2 138.2,749.0 139.3,746.6 140.3,745.0 141.4,743.9 142.4,743.2 143.5,742.8 144.5,742.8 145.6,743.1 146.6,743.9 147.7,745.1 148.7,746.7 149.8,748.8 150.8,751.4 151.8,754.3 152.9,757.6 153.9,761.2 155.0,765.3 156.0,769.7 157.1,774.4 158.1,779.3 159.2,784.4 160.2,789.6 161.3,794.8 162.3,800.0 163.4,805.2 164.4,810.3 165.5,815.2 166.5,819.8 167.5,824.2 168.6,828.4 169.6,832.5 170.7,836.4 171.7,840.0 172.8,843.4 173.8,846.5 174.9,849.2 175.9,851.7 177.0,853.8 178.0,855.6 179.1,857.2 180.1,858.7 181.2,860.0 182.2,861.2 183.2,862.5 184.3,863.8 185.3,865.2 186.4,866.8 187.4,868.5 188.5,870.4 189.5,872.4 190.6,874.6 191.6,876.8 192.7,879.2 193.7,881.5 194.8,883.9 195.8,886.2 196.9,888.5 197.9,890.7 198.9,893.0 200.0,895.3 201.0,897.6 202.1,900.0 203.1,902.2 204.2,904.5 205.2,906.5 206.3,908.5 207.3,910.3 208.4,912.2 209.4,914.0 210.5,915.9 211.5,917.9 212.6,920.1 213.6,922.5 214.6,925.2 215.7,928.1 216.7,931.3 217.8,934.7 218.8,938.0 219.9,941.4 220.9,944.6 222.0,947.8 223.0,950.8 224.1,953.5 225.1,955.8 226.2,957.4 227.2,958.2 228.3,958.4 229.3,957.7 230.3,955.9 231.4,953.0 232.4,948.6 233.5,943.0 234.5,936.0 235.6,927.7 236.6,918.1 237.7,907.1 238.7,895.0 239.8,882.1 240.8,869.3 241.9,857.5"/>
<path class="g" d="M75.4,876.6 76.5,878.7 77.5,880.9 78.6,883.1 79.6,885.5 80.7,887.9 81.7,890.3 82.8,892.7 83.8,895.2 84.9,897.6 85.9,900.0 87.0,902.3 88.0,904.5 89.0,906.5 90.1,908.4 91.1,910.2 92.2,911.8 93.2,913.5 94.3,915.2 95.3,917.1 96.4,919.2 97.4,921.4 98.5,923.8 99.5,926.4 100.6,929.2 101.6,932.0 102.7,935.0 103.7,938.1 104.7,941.3 105.8,944.4 106.8,947.4 107.9,950.2 108.9,952.6 110.0,954.7 111.0,956.1 112.1,957.0 113.1,957.2 114.2,956.7 115.2,955.0 116.3,951.9 117.3,947.3 118.4,941.4 119.4,934.2 120.4,925.7 121.5,915.6 122.5,904.4 123.6,892.7 124.6,880.8 125.7,868.5 126.7,855.5 127.8,842.2 128.8,829.0 129.9,816.3 130.9,804.4 132.0,793.8 133.0,784.5 134.1,776.4 135.1,769.6 136.1,764.0 137.2,759.5 138.2,756.0 139.3,753.4 140.3,751.4 141.4,750.0 142.4,748.9 143.5,748.1 144.5,747.7 145.6,747.6 146.6,747.9 147.7,748.6 148.7,749.9 149.8,751.5 150.8,753.6 151.8,756.1 152.9,759.0 153.9,762.3 155.0,766.0 156.0,770.1 157.1,774.5 158.1,779.1 159.2,783.9 160.2,788.9 161.3,793.9 162.3,799.0 163.4,804.0 164.4,809.0 165.5,813.7 166.5,818.3 167.5,822.6 168.6,826.8 169.6,830.8 170.7,834.7 171.7,838.4 172.8,841.8 173.8,844.9 174.9,847.7 175.9,850.2 177.0,852.4 178.0,854.3 179.1,856.0 180.1,857.6 181.2,859.0 182.2,860.3 183.2,861.6 184.3,863.1 185.3,864.6 186.4,866.3 187.4,868.1 188.5,870.2 189.5,872.3 190.6,874.6 191.6,877.0 192.7,879.5 193.7,882.0 194.8,884.5 195.8,887.0 196.9,889.5 197.9,891.9 198.9,894.4 200.0,896.9 201.0,899.5 202.1,902.0 203.1,904.6 204.2,907.0 205.2,909.3 206.3,911.4 207.3,913.5 208.4,915.5 209.4,917.6 210.5,919.6 211.5,921.8 212.6,924.1 213.6,926.6 214.6,929.3 215.7,932.4 216.7,935.6 217.8,938.9 218.8,942.2 219.9,945.4 220.9,948.6 222.0,951.6 223.0,954.4 224.1,956.8 225.1,958.8 226.2,960.1 227.2,960.6 228.3,960.3 229.3,959.2 230.3,957.0 231.4,953.6 232.4,948.7 233.5,942.4 234.5,934.8 235.6,925.7 236.6,915.3 237.7,903.5 238.7,890.5 239.8,876.7 240.8,863.0 241.9,850.2"/>
<path class="g" d="M75.4,875.5 76.5,877.7 77.5,880.0 78.6,882.4 79.6,884.8 80.7,887.2 81.7,889.7 82.8,892.1 83.8,894.6 84.9,897.0 85.9,899.3 87.0,901.6 88.0,903.8 89.0,905.9 90.1,907.8 91.1,909.5 92.2,911.2 93.2,912.9 94.3,914.6 95.3,916.5 96.4,918.6 97.4,920.9 98.5,923.4 99.5,926.0 100.6,928.8 101.6,931.7 102.7,934.8 103.7,937.9 104.7,941.1 105.8,944.2 106.8,947.2 107.9,950.0 108.9,952.4 110.0,954.4 111.0,955.8 112.1,956.5 113.1,956.6 114.2,955.9 115.2,954.1 116.3,950.9 117.3,946.1 118.4,939.9 119.4,932.6 120.4,923.8 121.5,913.5 122.5,902.1 123.6,890.1 124.6,878.0 125.7,865.3 126.7,852.1 127.8,838.6 128.8,825.1 129.9,812.1 130.9,800.1 132.0,789.2 133.0,779.7 134.1,771.4 135.1,764.5 136.1,758.7 137.2,754.1 138.2,750.6 139.3,747.9 140.3,745.9 141.4,744.5 142.4,743.5 143.5,742.9 144.5,742.6 145.6,742.7 146.6,743.3 147.7,744.3 148.7,745.8 149.8,747.9 150.8,750.3 151.8,753.2 152.9,756.5 153.9,760.1 155.0,764.2 156.0,768.7 157.1,773.5 158.1,778.5 159.2,783.6 160.2,788.8 161.3,794.2 162.3,799.5 163.4,804.8 164.4,809.9 165.5,814.8 166.5,819.5 167.5,823.9 168.6,828.1 169.6,832.1 170.7,835.9 171.7,839.5 172.8,842.8 173.8,845.7 174.9,848.4 175.9,850.7 177.0,852.6 178.0,854.3 179.1,855.7 180.1,857.0 181.2,858.1 182.2,859.1 183.2,860.2 184.3,861.3 185.3,862.6 186.4,864.0 187.4,865.6 188.5,867.4 189.5,869.3 190.6,871.4 191.6,873.6 192.7,875.9 193.7,878.2 194.8,880.6 195.8,883.0 196.9,885.3 197.9,887.7 198.9,890.1 200.0,892.5 201.0,895.0 202.1,897.5 203.1,900.0 204.2,902.3 205.2,904.6 206.3,906.7 207.3,908.7 208.4,910.6 209.4,912.5 210.5,914.5 211.5,916.6 212.6,918.7 213.6,921.1 214.6,923.7 215.7,926.5 216.7,929.6 217.8,932.7 218.8,935.9 219.9,938.9 220.9,941.9 222.0,944.7 223.0,947.4 224.1,949.7 225.1,951.6 226.2,952.7 227.2,953.2 228.3,952.9 229.3,951.9 230.3,949.8 231.4,946.3 232.4,941.4 233.5,934.9 234.5,927.1 235.6,917.7 236.6,906.8 237.7,894.5 238.7,880.9 239.8,866.4 240.8,851.8 241.9,838.1"/>
<path class="g" d="M75.4,875.5 76.5,877.8 77.5,880.2 78.6,882.7 79.6,885.3 80.7,887.9 81.7,890.6 82.8,893.3 83.8,896.0 84.9,898.7 85.9,901.4 87.0,904.0 88.0,906.6 89.0,909.0 90.1,911.2 91.1,913.3 92.2,915.3 93.2,917.2 94.3,919.3 95.3,921.5 96.4,923.9 97.4,926.4 98.5,929.1 99.5,932.0 100.6,935.0 101.6,938.1 102.7,941.4 103.7,944.6 104.7,947.9 105.8,951.1 106.8,954.2 107.9,957.0 108.9,959.5 110.0,961.5 111.0,962.9 112.1,963.6 113.1,963.7 114.2,962.9 115.2,961.0 116.3,957.6 117.3,952.7 118.4,946.4 119.4,938.8 120.4,929.8 121.5,919.3 122.5,907.6 123.6,895.4 124.6,882.9 125.7,870.1 126.7,856.6 127.8,842.8 128.8,829.0 129.9,815.8 130.9,803.4 132.0,792.3 133.0,782.6 134.1,774.1 135.1,767.0 136.1,761.0 137.2,756.3 138.2,752.5 139.3,749.7 140.3,747.6 141.4,746.0 142.4,744.8 143.5,744.1 144.5,743.6 145.6,743.6 146.6,744.0 147.7,744.9 148.7,746.3 149.8,748.2 150.8,750.5 151.8,753.3 152.9,756.4 153.9,760.0 155.0,764.1 156.0,768.5 157.1,773.2 158.1,778.2 159.2,783.4 160.2,788.7 161.3,794.1 162.3,799.5 163.4,804.9 164.4,810.2 165.5,815.3 166.5,820.1 167.5,824.8 168.6,829.2 169.6,833.5 170.7,837.7 171.7,841.6 172.8,845.2 173.8,848.5 174.9,851.5 175.9,854.2 177.0,856.5 178.0,858.6 179.1,860.4 180.1,862.1 181.2,863.6 182.2,865.0 183.2,866.4 184.3,867.9 185.3,869.5 186.4,871.2 187.4,873.1 188.5,875.2 189.5,877.3 190.6,879.6 191.6,882.0 192.7,884.5 193.7,887.0 194.8,889.4 195.8,891.8 196.9,894.2 197.9,896.5 198.9,898.9 200.0,901.2 201.0,903.6 202.1,905.9 203.1,908.2 204.2,910.4 205.2,912.4 206.3,914.3 207.3,916.1 208.4,917.8 209.4,919.4 210.5,921.1 211.5,922.9 212.6,924.8 213.6,927.0 214.6,929.3 215.7,931.9 216.7,934.8 217.8,937.7 218.8,940.6 219.9,943.5 220.9,946.3 222.0,949.0 223.0,951.5 224.1,953.8 225.1,955.5 226.2,956.5 227.2,956.9 228.3,956.5 229.3,955.3 230.3,953.1 231.4,949.8 232.4,945.3 233.5,939.7 234.5,933.0 235.6,925.1 236.6,916.1 237.7,906.1 238.7,895.0 239.8,883.4 240.8,872.2 241.9,862.2"/>
</g>
<path class="a" d="M75.5,734.2 L75.5,981.5 M75.0,981.0 L346.8,981.0"/>
<path class="a" d="M172.4,981.0 L172.4,978.0 M269.8,981.0 L269.8,978.0 M75.5,738.0 L78.5,738.0 M75.5,856.1 L78.5,856.1 M75.5,973.3 L78.5,973.3"/>
<path class="b" d="M75.4,878.1 76.5,880.4 77.5,882.8 78.6,885.3 79.6,887.8 80.7,890.4 81.7,893.1 82.8,895.7 83.8,898.3 84.9,900.9 85.9,903.5 87.0,905.9 88.0,908.3 89.0,910.5 90.1,912.6 91.1,914.4 92.2,916.2 93.2,918.0 94.3,919.8 95.3,921.8 96.4,923.9 97.4,926.2 98.5,928.7 99.5,931.4 100.6,934.1 101.6,937.0 102.7,940.0 103.7,943.1 104.7,946.2 105.8,949.2 106.8,952.1 107.9,954.8 108.9,957.1 110.0,959.0 111.0,960.3 112.1,960.9 113.1,960.9 114.2,960.0 115.2,958.1 116.3,954.6 117.3,949.6 118.4,943.3 119.4,935.7 120.4,926.7 121.5,916.1 122.5,904.4 123.6,892.2 124.6,879.8 125.7,866.9 126.7,853.5 127.8,839.8 128.8,826.1 129.9,812.9 130.9,800.7 132.0,789.7 133.0,780.1 134.1,771.8 135.1,764.9 136.1,759.1 137.2,754.6 138.2,751.0 139.3,748.4 140.3,746.5 141.4,745.1 142.4,744.2 143.5,743.6 144.5,743.3 145.6,743.5 146.6,744.0 147.7,745.0 148.7,746.5 149.8,748.5 150.8,751.0 151.8,753.8 152.9,757.0 153.9,760.6 155.0,764.7 156.0,769.1 157.1,773.9 158.1,778.9 159.2,784.0 160.2,789.3 161.3,794.6 162.3,800.0 163.4,805.3 164.4,810.5 165.5,815.5 166.5,820.2 167.5,824.8 168.6,829.1 169.6,833.3 170.7,837.3 171.7,841.0 172.8,844.5 173.8,847.6 174.9,850.5 175.9,853.0 177.0,855.2 178.0,857.0 179.1,858.7 180.1,860.1 181.2,861.5 182.2,862.7 183.2,864.0 184.3,865.3 185.3,866.7 186.4,868.3 187.4,870.1 188.5,872.0 189.5,874.1 190.6,876.3 191.6,878.6 192.7,880.9 193.7,883.3 194.8,885.8 195.8,888.1 196.9,890.5 197.9,892.8 198.9,895.2 200.0,897.5 201.0,900.0 202.1,902.4 203.1,904.8 204.2,907.1 205.2,909.2 206.3,911.2 207.3,913.1 208.4,915.0 209.4,916.9 210.5,918.8 211.5,920.8 212.6,923.0 213.6,925.4 214.6,928.0 215.7,931.0 216.7,934.1 217.8,937.4 218.8,940.6 219.9,943.9 220.9,947.0 222.0,950.0 223.0,952.9 224.1,955.4 225.1,957.5 226.2,958.8 227.2,959.4 228.3,959.3 229.3,958.3 230.3,956.3 231.4,953.0 232.4,948.4 233.5,942.4 234.5,935.1 235.6,926.5 236.6,916.5 237.7,905.2 238.7,892.7 239.8,879.5 240.8,866.4 241.9,854.4"/>
<text class="t" transform="translate(74.7,1011.8) scale(1,1.05)" text-anchor="middle">0</text>
<text class="t" transform="translate(171.6,1011.8) scale(1,1.05)" text-anchor="middle">0.5</text>
<text class="t" transform="translate(269.0,1011.8) scale(1,1.05)" text-anchor="middle">1</text>
<text class="t" transform="translate(66.7,747.4) scale(1,1.05)" text-anchor="end">0.5</text>
<text class="t" transform="translate(66.7,865.5) scale(1,1.05)" text-anchor="end">0</text>
<text class="t" transform="translate(66.7,982.7) scale(1,1.05)" text-anchor="end">-0.5</text>
<text class="l" transform="translate(211.2,1044.0) scale(1,1.05)" text-anchor="middle">time/s</text>
<text class="l" transform="translate(19.1,857.6) rotate(-90) scale(1,1.05)" text-anchor="middle">amplitude/a.u.</text>
</g>
<g id="p10">
<clipPath id="c9"><rect x="443.5" y="732.2" width="270.79999999999995" height="248.79999999999995"/></clipPath>
<g clip-path="url(#c9)">
<path class="g" d="M443.4,864.1 444.5,866.8 445.5,869.5 446.6,872.2 447.6,875.0 448.7,877.8 449.7,880.5 450.8,883.3 451.8,886.1 452.9,888.8 453.9,891.5 455.0,894.2 456.0,896.9 457.1,899.6 458.1,902.3 459.2,905.0 460.2,907.8 461.3,910.5 462.3,913.3 463.4,916.0 464.4,918.8 465.5,921.5 466.5,924.3 467.6,927.0 468.6,929.6 469.7,932.2 470.7,934.6 471.8,936.9 472.8,939.0 473.9,940.8 474.9,942.4 476.0,943.7 477.0,944.6 478.1,945.2 479.1,945.4 480.2,944.9 481.2,943.6 482.3,941.4 483.3,938.2 484.4,933.9 485.4,928.7 486.5,922.7 487.5,915.9 488.6,908.4 489.6,900.1 490.7,891.2 491.7,881.7 492.8,871.7 493.8,861.4 494.9,851.1 495.9,840.9 497.0,830.9 498.0,821.0 499.1,811.2 500.1,801.8 501.2,793.0 502.2,784.8 503.3,777.3 504.3,770.6 505.4,764.8 506.4,759.8 507.5,755.6 508.5,752.2 509.6,749.6 510.6,747.8 511.7,746.7 512.7,746.3 513.8,746.3 514.8,746.8 515.9,747.7 516.9,749.3 518.0,751.3 519.0,753.8 520.1,756.7 521.1,760.0 522.2,763.6 523.2,767.6 524.3,771.8 525.3,776.2 526.4,780.7 527.4,785.4 528.5,790.2 529.5,795.0 530.6,799.9 531.6,804.7 532.7,809.6 533.7,814.4 534.8,819.1 535.8,823.7 536.9,828.2 537.9,832.5 539.0,836.5 540.0,840.4 541.1,843.9 542.1,847.2 543.2,850.1 544.2,852.7 545.3,855.1 546.3,857.3 547.4,859.3 548.4,861.1 549.5,862.8 550.5,864.4 551.6,865.9 552.6,867.4 553.7,868.8 554.7,870.2 555.8,871.7 556.8,873.2 557.9,874.8 558.9,876.4 560.0,878.2 561.0,880.1 562.1,882.0 563.1,884.1 564.2,886.2 565.2,888.4 566.3,890.8 567.3,893.2 568.4,895.6 569.4,898.2 570.5,900.7 571.5,903.4 572.6,906.1 573.6,908.8 574.7,911.6 575.7,914.4 576.8,917.3 577.8,920.2 578.9,923.1 579.9,926.0 581.0,928.8 582.0,931.4 583.1,933.9 584.1,936.2 585.2,938.3 586.2,940.1 587.3,941.7 588.3,943.1 589.4,944.2 590.4,945.1 591.5,945.7 592.5,946.0 593.6,946.0 594.6,945.5 595.7,944.4 596.7,942.3 597.8,939.2 598.8,934.8 599.9,929.4 600.9,922.8 602.0,915.2 603.0,906.6 604.1,897.2 605.1,887.1 606.2,876.5 607.2,865.7 608.3,855.1 609.3,845.2 610.4,836.4"/>
<path class="g" d="M443.4,871.1 444.5,873.1 445.5,875.2 446.6,877.4 447.6,879.5 448.7,881.8 449.7,884.0 450.8,886.2 451.8,888.5 452.9,890.7 453.9,893.0 455.0,895.2 456.0,897.5 457.1,899.7 458.1,902.0 459.2,904.4 460.2,906.8 461.3,909.2 462.3,911.6 463.4,914.1 464.4,916.6 465.5,919.1 466.5,921.6 467.6,924.0 468.6,926.5 469.7,928.9 470.7,931.2 471.8,933.3 472.8,935.3 473.9,937.0 474.9,938.5 476.0,939.7 477.0,940.7 478.1,941.2 479.1,941.4 480.2,940.9 481.2,939.8 482.3,937.7 483.3,934.7 484.4,930.7 485.4,925.8 486.5,920.2 487.5,913.8 488.6,906.7 489.6,898.9 490.7,890.4 491.7,881.4 492.8,871.9 493.8,862.2 494.9,852.4 495.9,842.8 497.0,833.3 498.0,824.0 499.1,814.9 500.1,806.0 501.2,797.7 502.2,790.1 503.3,783.1 504.3,776.9 505.4,771.6 506.4,767.0 507.5,763.2 508.5,760.2 509.6,757.9 510.6,756.4 511.7,755.5 512.7,755.2 513.8,755.4 514.8,756.1 515.9,757.2 516.9,759.0 518.0,761.3 519.0,764.1 520.1,767.3 521.1,770.9 522.2,774.8 523.2,779.1 524.3,783.7 525.3,788.4 526.4,793.4 527.4,798.4 528.5,803.5 529.5,808.7 530.6,813.9 531.6,819.2 532.7,824.3 533.7,829.5 534.8,834.5 535.8,839.4 536.9,844.1 537.9,848.7 539.0,853.0 540.0,857.0 541.1,860.7 542.1,864.1 543.2,867.2 544.2,869.9 545.3,872.3 546.3,874.4 547.4,876.4 548.4,878.1 549.5,879.7 550.5,881.1 551.6,882.4 552.6,883.5 553.7,884.6 554.7,885.6 555.8,886.6 556.8,887.6 557.9,888.7 558.9,889.8 560.0,891.0 561.0,892.2 562.1,893.5 563.1,894.9 564.2,896.4 565.2,898.0 566.3,899.6 567.3,901.3 568.4,903.1 569.4,904.9 570.5,906.7 571.5,908.6 572.6,910.6 573.6,912.7 574.7,914.8 575.7,916.9 576.8,919.1 577.8,921.4 578.9,923.7 579.9,926.0 581.0,928.2 582.0,930.3 583.1,932.3 584.1,934.1 585.2,935.8 586.2,937.2 587.3,938.5 588.3,939.6 589.4,940.5 590.4,941.2 591.5,941.7 592.5,941.9 593.6,941.9 594.6,941.6 595.7,940.6 596.7,938.9 597.8,936.2 598.8,932.4 599.9,927.7 600.9,921.9 602.0,915.1 603.0,907.5 604.1,899.1 605.1,890.1 606.2,880.7 607.2,871.1 608.3,861.7 609.3,853.0 610.4,845.4"/>
<path class="g" d="M443.4,875.1 444.5,876.5 445.5,878.1 446.6,879.6 447.6,881.3 448.7,882.9 449.7,884.7 450.8,886.4 451.8,888.2 452.9,890.0 453.9,891.8 455.0,893.6 456.0,895.5 457.1,897.4 458.1,899.3 459.2,901.3 460.2,903.4 461.3,905.5 462.3,907.7 463.4,909.9 464.4,912.1 465.5,914.4 466.5,916.6 467.6,918.9 468.6,921.2 469.7,923.4 470.7,925.6 471.8,927.6 472.8,929.5 473.9,931.1 474.9,932.6 476.0,933.8 477.0,934.7 478.1,935.2 479.1,935.4 480.2,935.0 481.2,933.9 482.3,932.0 483.3,929.2 484.4,925.5 485.4,920.9 486.5,915.6 487.5,909.6 488.6,903.0 489.6,895.6 490.7,887.7 491.7,879.2 492.8,870.2 493.8,861.1 494.9,851.8 495.9,842.8 497.0,833.9 498.0,825.1 499.1,816.5 500.1,808.3 501.2,800.5 502.2,793.4 503.3,786.9 504.3,781.3 505.4,776.4 506.4,772.3 507.5,768.9 508.5,766.2 509.6,764.2 510.6,763.0 511.7,762.3 512.7,762.2 513.8,762.5 514.8,763.3 515.9,764.5 516.9,766.3 518.0,768.7 519.0,771.4 520.1,774.6 521.1,778.1 522.2,782.0 523.2,786.2 524.3,790.5 525.3,795.1 526.4,799.8 527.4,804.5 528.5,809.3 529.5,814.1 530.6,818.9 531.6,823.6 532.7,828.3 533.7,832.8 534.8,837.2 535.8,841.4 536.9,845.3 537.9,849.0 539.0,852.5 540.0,855.5 541.1,858.2 542.1,860.5 543.2,862.3 544.2,863.6 545.3,864.5 546.3,865.0 547.4,865.2 548.4,865.2 549.5,865.1 550.5,864.8 551.6,864.5 552.6,864.1 553.7,863.8 554.7,863.5 555.8,863.3 556.8,863.3 557.9,863.5 558.9,864.0 560.0,864.7 561.0,865.7 562.1,867.0 563.1,868.6 564.2,870.3 565.2,872.3 566.3,874.4 567.3,876.7 568.4,879.1 569.4,881.6 570.5,884.2 571.5,886.9 572.6,889.6 573.6,892.3 574.7,895.0 575.7,897.9 576.8,900.8 577.8,903.9 578.9,907.0 579.9,910.2 581.0,913.3 582.0,916.3 583.1,919.2 584.1,921.9 585.2,924.4 586.2,926.7 587.3,928.8 588.3,930.6 589.4,932.2 590.4,933.5 591.5,934.5 592.5,935.3 593.6,935.7 594.6,935.6 595.7,934.9 596.7,933.6 597.8,931.5 598.8,928.4 599.9,924.3 600.9,919.3 602.0,913.3 603.0,906.6 604.1,899.0 605.1,890.8 606.2,882.1 607.2,873.3 608.3,864.6 609.3,856.5 610.4,849.4"/>
<path class="g" d="M443.4,883.1 444.5,883.8 445.5,884.5 446.6,885.4 447.6,886.3 448.7,887.3 449.7,888.4 450.8,889.5 451.8,890.7 452.9,892.0 453.9,893.2 455.0,894.6 456.0,895.9 457.1,897.4 458.1,898.9 459.2,900.5 460.2,902.2 461.3,904.0 462.3,905.8 463.4,907.7 464.4,909.7 465.5,911.7 466.5,913.7 467.6,915.8 468.6,917.9 469.7,919.9 470.7,921.9 471.8,923.9 472.8,925.6 473.9,927.2 474.9,928.6 476.0,929.7 477.0,930.6 478.1,931.2 479.1,931.4 480.2,931.0 481.2,930.1 482.3,928.3 483.3,925.7 484.4,922.1 485.4,917.8 486.5,912.8 487.5,907.1 488.6,900.8 489.6,893.8 490.7,886.2 491.7,878.0 492.8,869.5 493.8,860.7 494.9,851.8 495.9,843.2 497.0,834.6 498.0,826.3 499.1,818.0 500.1,810.1 501.2,802.7 502.2,795.9 503.3,789.8 504.3,784.4 505.4,779.7 506.4,775.8 507.5,772.6 508.5,770.1 509.6,768.2 510.6,767.0 511.7,766.4 512.7,766.2 513.8,766.4 514.8,767.0 515.9,768.1 516.9,769.6 518.0,771.7 519.0,774.1 520.1,776.9 521.1,780.0 522.2,783.5 523.2,787.2 524.3,791.1 525.3,795.3 526.4,799.5 527.4,803.8 528.5,808.2 529.5,812.6 530.6,817.0 531.6,821.4 532.7,825.8 533.7,830.0 534.8,834.2 535.8,838.2 536.9,842.1 537.9,845.8 539.0,849.3 540.0,852.5 541.1,855.4 542.1,858.0 543.2,860.3 544.2,862.3 545.3,864.0 546.3,865.5 547.4,866.8 548.4,868.0 549.5,869.0 550.5,869.9 551.6,870.8 552.6,871.6 553.7,872.4 554.7,873.1 555.8,873.9 556.8,874.7 557.9,875.5 558.9,876.4 560.0,877.4 561.0,878.5 562.1,879.7 563.1,881.0 564.2,882.3 565.2,883.8 566.3,885.4 567.3,887.0 568.4,888.7 569.4,890.5 570.5,892.3 571.5,894.3 572.6,896.3 573.6,898.3 574.7,900.5 575.7,902.7 576.8,905.0 577.8,907.3 578.9,909.7 579.9,912.1 581.0,914.5 582.0,916.8 583.1,918.9 584.1,920.9 585.2,922.7 586.2,924.4 587.3,925.8 588.3,927.1 589.4,928.2 590.4,929.2 591.5,929.9 592.5,930.4 593.6,930.7 594.6,930.6 595.7,930.1 596.7,929.0 597.8,927.2 598.8,924.5 599.9,921.0 600.9,916.7 602.0,911.5 603.0,905.6 604.1,898.9 605.1,891.8 606.2,884.2 607.2,876.5 608.3,869.0 609.3,862.2 610.4,856.4"/>
<path class="g" d="M443.4,887.1 444.5,887.0 445.5,887.1 446.6,887.2 447.6,887.4 448.7,887.7 449.7,888.1 450.8,888.6 451.8,889.1 452.9,889.7 453.9,890.3 455.0,891.0 456.0,891.8 457.1,892.7 458.1,893.6 459.2,894.7 460.2,895.8 461.3,897.0 462.3,898.4 463.4,899.8 464.4,901.3 465.5,902.8 466.5,904.5 467.6,906.2 468.6,907.9 469.7,909.6 470.7,911.3 471.8,913.0 472.8,914.5 473.9,915.8 474.9,917.0 476.0,918.0 477.0,918.8 478.1,919.2 479.1,919.4 480.2,919.0 481.2,918.1 482.3,916.5 483.3,914.1 484.4,910.8 485.4,906.8 486.5,902.2 487.5,896.9 488.6,891.0 489.6,884.5 490.7,877.4 491.7,869.8 492.8,861.8 493.8,853.6 494.9,845.4 495.9,837.4 497.0,829.5 498.0,821.7 499.1,814.1 500.1,806.9 501.2,800.0 502.2,793.8 503.3,788.3 504.3,783.4 505.4,779.3 506.4,775.9 507.5,773.1 508.5,771.0 509.6,769.5 510.6,768.5 511.7,768.2 512.7,768.2 513.8,768.6 514.8,769.3 515.9,770.5 516.9,772.3 518.0,774.6 519.0,777.2 520.1,780.3 521.1,783.7 522.2,787.4 523.2,791.4 524.3,795.6 525.3,800.0 526.4,804.5 527.4,809.1 528.5,813.8 529.5,818.5 530.6,823.2 531.6,827.8 532.7,832.5 533.7,837.0 534.8,841.4 535.8,845.7 536.9,849.8 537.9,853.7 539.0,857.4 540.0,860.7 541.1,863.8 542.1,866.5 543.2,868.9 544.2,870.9 545.3,872.7 546.3,874.2 547.4,875.5 548.4,876.6 549.5,877.6 550.5,878.4 551.6,879.1 552.6,879.7 553.7,880.2 554.7,880.7 555.8,881.1 556.8,881.5 557.9,882.0 558.9,882.4 560.0,883.0 561.0,883.5 562.1,884.2 563.1,884.9 564.2,885.7 565.2,886.6 566.3,887.5 567.3,888.6 568.4,889.6 569.4,890.8 570.5,892.0 571.5,893.3 572.6,894.6 573.6,896.1 574.7,897.6 575.7,899.2 576.8,900.9 577.8,902.6 578.9,904.4 579.9,906.3 581.0,908.1 582.0,909.9 583.1,911.5 584.1,913.1 585.2,914.5 586.2,915.8 587.3,916.9 588.3,917.9 589.4,918.7 590.4,919.5 591.5,920.0 592.5,920.5 593.6,920.7 594.6,920.6 595.7,920.1 596.7,919.2 597.8,917.6 598.8,915.3 599.9,912.2 600.9,908.2 602.0,903.5 603.0,898.1 604.1,892.0 605.1,885.5 606.2,878.5 607.2,871.4 608.3,864.6 609.3,858.5 610.4,853.4"/>
<path class="g" d="M443.4,880.1 444.5,880.4 445.5,880.9 446.6,881.4 447.6,882.1 448.7,882.8 449.7,883.6 450.8,884.5 451.8,885.4 452.9,886.3 453.9,887.4 455.0,888.4 456.0,889.6 457.1,890.8 458.1,892.1 459.2,893.5 460.2,895.0 461.3,896.5 462.3,898.2 463.4,899.9 464.4,901.7 465.5,903.5 466.5,905.4 467.6,907.4 468.6,909.4 469.7,911.3 470.7,913.2 471.8,915.1 472.8,916.7 473.9,918.3 474.9,919.6 476.0,920.7 477.0,921.6 478.1,922.2 479.1,922.4 480.2,922.1 481.2,921.2 482.3,919.7 483.3,917.3 484.4,914.1 485.4,910.1 486.5,905.5 487.5,900.3 488.6,894.4 489.6,888.0 490.7,880.9 491.7,873.4 492.8,865.4 493.8,857.3 494.9,849.1 495.9,841.0 497.0,833.2 498.0,825.4 499.1,817.8 500.1,810.5 501.2,803.7 502.2,797.5 503.3,791.9 504.3,787.0 505.4,782.8 506.4,779.3 507.5,776.5 508.5,774.3 509.6,772.7 510.6,771.7 511.7,771.3 512.7,771.2 513.8,771.5 514.8,772.1 515.9,773.1 516.9,774.6 518.0,776.5 519.0,778.9 520.1,781.6 521.1,784.6 522.2,787.9 523.2,791.5 524.3,795.2 525.3,799.2 526.4,803.2 527.4,807.3 528.5,811.5 529.5,815.6 530.6,819.8 531.6,824.0 532.7,828.1 533.7,832.1 534.8,836.0 535.8,839.7 536.9,843.3 537.9,846.7 539.0,849.9 540.0,852.9 541.1,855.5 542.1,857.8 543.2,859.8 544.2,861.5 545.3,862.9 546.3,864.1 547.4,865.2 548.4,866.0 549.5,866.8 550.5,867.5 551.6,868.1 552.6,868.7 553.7,869.2 554.7,869.8 555.8,870.3 556.8,870.8 557.9,871.4 558.9,872.1 560.0,872.9 561.0,873.7 562.1,874.7 563.1,875.7 564.2,876.8 565.2,878.1 566.3,879.4 567.3,880.8 568.4,882.3 569.4,883.9 570.5,885.6 571.5,887.3 572.6,889.1 573.6,891.0 574.7,893.0 575.7,895.1 576.8,897.2 577.8,899.4 578.9,901.7 579.9,904.0 581.0,906.2 582.0,908.4 583.1,910.5 584.1,912.4 585.2,914.2 586.2,915.9 587.3,917.3 588.3,918.7 589.4,919.8 590.4,920.8 591.5,921.6 592.5,922.2 593.6,922.5 594.6,922.6 595.7,922.2 596.7,921.3 597.8,919.8 598.8,917.4 599.9,914.2 600.9,910.1 602.0,905.3 603.0,899.7 604.1,893.4 605.1,886.7 606.2,879.5 607.2,872.2 608.3,865.1 609.3,858.7 610.4,853.4"/>
<path class="g" d="M443.4,893.1 444.5,892.4 445.5,891.7 446.6,891.2 447.6,890.8 448.7,890.6 449.7,890.4 450.8,890.3 451.8,890.3 452.9,890.4 453.9,890.6 455.0,890.8 456.0,891.2 457.1,891.6 458.1,892.2 459.2,892.9 460.2,893.7 461.3,894.7 462.3,895.7 463.4,896.9 464.4,898.1 465.5,899.5 466.5,900.9 467.6,902.4 468.6,904.0 469.7,905.6 470.7,907.2 471.8,908.8 472.8,910.3 473.9,911.6 474.9,912.8 476.0,913.8 477.0,914.6 478.1,915.1 479.1,915.3 480.2,915.1 481.2,914.4 482.3,913.1 483.3,911.0 484.4,908.1 485.4,904.6 486.5,900.4 487.5,895.7 488.6,890.3 489.6,884.4 490.7,878.0 491.7,871.1 492.8,863.9 493.8,856.4 494.9,848.9 495.9,841.6 497.0,834.4 498.0,827.5 499.1,820.6 500.1,814.1 501.2,808.0 502.2,802.5 503.3,797.6 504.3,793.4 505.4,789.9 506.4,787.1 507.5,784.9 508.5,783.3 509.6,782.3 510.6,781.8 511.7,781.8 512.7,782.1 513.8,782.8 514.8,783.7 515.9,785.1 516.9,787.0 518.0,789.3 519.0,792.0 520.1,795.1 521.1,798.5 522.2,802.1 523.2,806.0 524.3,810.1 525.3,814.3 526.4,818.7 527.4,823.1 528.5,827.5 529.5,832.0 530.6,836.4 531.6,840.8 532.7,845.2 533.7,849.4 534.8,853.5 535.8,857.5 536.9,861.3 537.9,864.8 539.0,868.1 540.0,871.2 541.1,873.9 542.1,876.3 543.2,878.4 544.2,880.1 545.3,881.6 546.3,882.8 547.4,883.8 548.4,884.6 549.5,885.3 550.5,885.9 551.6,886.4 552.6,886.8 553.7,887.1 554.7,887.3 555.8,887.5 556.8,887.6 557.9,887.8 558.9,887.9 560.0,888.1 561.0,888.3 562.1,888.5 563.1,888.8 564.2,889.2 565.2,889.6 566.3,890.1 567.3,890.6 568.4,891.3 569.4,891.9 570.5,892.7 571.5,893.5 572.6,894.4 573.6,895.4 574.7,896.5 575.7,897.7 576.8,899.0 577.8,900.3 578.9,901.8 579.9,903.3 581.0,904.8 582.0,906.2 583.1,907.6 584.1,909.0 585.2,910.2 586.2,911.3 587.3,912.3 588.3,913.3 589.4,914.1 590.4,914.8 591.5,915.5 592.5,916.0 593.6,916.4 594.6,916.6 595.7,916.6 596.7,916.4 597.8,915.8 598.8,914.7 599.9,913.0 600.9,910.6 602.0,907.7 603.0,904.1 604.1,900.1 605.1,895.6 606.2,890.8 607.2,885.9 608.3,881.3 609.3,877.3 610.4,874.4"/>
<path class="g" d="M443.4,873.1 444.5,873.0 445.5,873.0 446.6,873.2 447.6,873.4 448.7,873.8 449.7,874.3 450.8,874.9 451.8,875.5 452.9,876.3 453.9,877.1 455.0,878.0 456.0,878.9 457.1,880.0 458.1,881.2 459.2,882.5 460.2,883.9 461.3,885.4 462.3,887.0 463.4,888.6 464.4,890.4 465.5,892.3 466.5,894.2 467.6,896.2 468.6,898.2 469.7,900.2 470.7,902.2 471.8,904.1 472.8,905.9 473.9,907.6 474.9,909.0 476.0,910.3 477.0,911.3 478.1,912.0 479.1,912.3 480.2,912.2 481.2,911.7 482.3,910.5 483.3,908.6 484.4,906.0 485.4,902.7 486.5,898.8 487.5,894.3 488.6,889.2 489.6,883.6 490.7,877.5 491.7,870.9 492.8,863.9 493.8,856.7 494.9,849.5 495.9,842.5 497.0,835.6 498.0,828.9 499.1,822.3 500.1,816.0 501.2,810.1 502.2,804.7 503.3,800.0 504.3,795.9 505.4,792.5 506.4,789.8 507.5,787.6 508.5,785.9 509.6,784.8 510.6,784.2 511.7,784.1 512.7,784.2 513.8,784.5 514.8,785.2 515.9,786.2 516.9,787.7 518.0,789.6 519.0,791.9 520.1,794.4 521.1,797.3 522.2,800.4 523.2,803.7 524.3,807.2 525.3,810.9 526.4,814.6 527.4,818.4 528.5,822.2 529.5,826.0 530.6,829.8 531.6,833.5 532.7,837.2 533.7,840.8 534.8,844.3 535.8,847.6 536.9,850.7 537.9,853.7 539.0,856.4 540.0,858.9 541.1,861.0 542.1,862.9 543.2,864.4 544.2,865.7 545.3,866.7 546.3,867.5 547.4,868.1 548.4,868.6 549.5,869.0 550.5,869.3 551.6,869.6 552.6,869.8 553.7,870.0 554.7,870.2 555.8,870.4 556.8,870.7 557.9,871.0 558.9,871.3 560.0,871.7 561.0,872.3 562.1,872.9 563.1,873.6 564.2,874.4 565.2,875.3 566.3,876.3 567.3,877.4 568.4,878.6 569.4,879.8 570.5,881.2 571.5,882.6 572.6,884.1 573.6,885.7 574.7,887.4 575.7,889.2 576.8,891.0 577.8,893.0 578.9,895.0 579.9,897.0 581.0,899.0 582.0,901.0 583.1,902.9 584.1,904.6 585.2,906.2 586.2,907.7 587.3,909.0 588.3,910.2 589.4,911.2 590.4,912.0 591.5,912.7 592.5,913.3 593.6,913.6 594.6,913.6 595.7,913.3 596.7,912.5 597.8,911.1 598.8,909.0 599.9,906.1 600.9,902.4 602.0,898.0 603.0,892.9 604.1,887.1 605.1,880.8 606.2,874.2 607.2,867.5 608.3,861.0 609.3,855.2 610.4,850.4"/>
<path class="g" d="M443.4,904.1 444.5,903.8 445.5,903.6 446.6,903.5 447.6,903.6 448.7,903.7 449.7,903.9 450.8,904.1 451.8,904.5 452.9,904.8 453.9,905.3 455.0,905.8 456.0,906.4 457.1,907.0 458.1,907.8 459.2,908.6 460.2,909.5 461.3,910.6 462.3,911.7 463.4,912.9 464.4,914.1 465.5,915.4 466.5,916.6 467.6,918.0 468.6,919.3 469.7,920.7 470.7,922.0 471.8,923.3 472.8,924.4 473.9,925.5 474.9,926.4 476.0,927.2 477.0,927.8 478.1,928.2 479.1,928.4 480.2,928.1 481.2,927.3 482.3,925.9 483.3,923.7 484.4,920.7 485.4,917.0 486.5,912.7 487.5,907.7 488.6,902.2 489.6,896.1 490.7,889.5 491.7,882.4 492.8,874.8 493.8,867.1 494.9,859.4 495.9,851.8 497.0,844.4 498.0,837.2 499.1,830.0 500.1,823.2 501.2,816.9 502.2,811.1 503.3,805.9 504.3,801.5 505.4,797.7 506.4,794.6 507.5,792.2 508.5,790.3 509.6,789.0 510.6,788.3 511.7,788.1 512.7,788.2 513.8,788.6 514.8,789.3 515.9,790.5 516.9,792.1 518.0,794.3 519.0,796.7 520.1,799.6 521.1,802.7 522.2,806.1 523.2,809.8 524.3,813.7 525.3,817.7 526.4,821.9 527.4,826.1 528.5,830.3 529.5,834.6 530.6,838.9 531.6,843.1 532.7,847.3 533.7,851.4 534.8,855.3 535.8,859.2 536.9,862.8 537.9,866.3 539.0,869.6 540.0,872.5 541.1,875.2 542.1,877.5 543.2,879.6 544.2,881.3 545.3,882.8 546.3,884.0 547.4,885.1 548.4,886.0 549.5,886.8 550.5,887.5 551.6,888.1 552.6,888.7 553.7,889.2 554.7,889.7 555.8,890.3 556.8,890.8 557.9,891.4 558.9,892.0 560.0,892.7 561.0,893.5 562.1,894.4 563.1,895.4 564.2,896.4 565.2,897.6 566.3,898.8 567.3,900.1 568.4,901.3 569.4,902.6 570.5,904.0 571.5,905.3 572.6,906.7 573.6,908.1 574.7,909.6 575.7,911.1 576.8,912.7 577.8,914.3 578.9,916.0 579.9,917.7 581.0,919.3 582.0,920.9 583.1,922.3 584.1,923.7 585.2,924.9 586.2,925.9 587.3,926.9 588.3,927.7 589.4,928.4 590.4,928.9 591.5,929.3 592.5,929.6 593.6,929.7 594.6,929.6 595.7,929.1 596.7,928.0 597.8,926.3 598.8,923.7 599.9,920.4 600.9,916.2 602.0,911.2 603.0,905.5 604.1,899.2 605.1,892.2 606.2,884.9 607.2,877.5 608.3,870.4 609.3,863.8 610.4,858.4"/>
<path class="g" d="M443.4,881.1 444.5,880.9 445.5,880.8 446.6,880.9 447.6,881.1 448.7,881.4 449.7,881.8 450.8,882.3 451.8,882.9 452.9,883.6 453.9,884.3 455.0,885.2 456.0,886.1 457.1,887.1 458.1,888.2 459.2,889.5 460.2,890.9 461.3,892.3 462.3,893.9 463.4,895.6 464.4,897.3 465.5,899.2 466.5,901.1 467.6,903.0 468.6,905.1 469.7,907.1 470.7,909.1 471.8,911.0 472.8,912.8 473.9,914.4 474.9,915.9 476.0,917.2 477.0,918.2 478.1,918.9 479.1,919.3 480.2,919.3 481.2,918.8 482.3,917.7 483.3,915.9 484.4,913.4 485.4,910.3 486.5,906.6 487.5,902.3 488.6,897.5 489.6,892.1 490.7,886.2 491.7,879.9 492.8,873.1 493.8,866.2 494.9,859.3 495.9,852.5 497.0,845.9 498.0,839.4 499.1,833.1 500.1,827.0 501.2,821.4 502.2,816.3 503.3,811.8 504.3,807.9 505.4,804.7 506.4,802.1 507.5,800.1 508.5,798.6 509.6,797.6 510.6,797.1 511.7,797.0 512.7,797.2 513.8,797.6 514.8,798.2 515.9,799.2 516.9,800.7 518.0,802.6 519.0,804.8 520.1,807.3 521.1,810.0 522.2,813.1 523.2,816.3 524.3,819.7 525.3,823.3 526.4,826.9 527.4,830.6 528.5,834.2 529.5,837.9 530.6,841.6 531.6,845.2 532.7,848.7 533.7,852.2 534.8,855.5 535.8,858.6 536.9,861.6 537.9,864.5 539.0,867.0 540.0,869.3 541.1,871.4 542.1,873.1 543.2,874.5 544.2,875.6 545.3,876.5 546.3,877.1 547.4,877.6 548.4,878.0 549.5,878.3 550.5,878.5 551.6,878.7 552.6,878.8 553.7,879.0 554.7,879.1 555.8,879.2 556.8,879.4 557.9,879.6 558.9,879.9 560.0,880.2 561.0,880.7 562.1,881.2 563.1,881.9 564.2,882.6 565.2,883.5 566.3,884.4 567.3,885.4 568.4,886.6 569.4,887.8 570.5,889.0 571.5,890.4 572.6,891.9 573.6,893.4 574.7,895.1 575.7,896.8 576.8,898.6 577.8,900.5 578.9,902.5 579.9,904.5 581.0,906.5 582.0,908.4 583.1,910.2 584.1,911.9 585.2,913.5 586.2,914.9 587.3,916.2 588.3,917.3 589.4,918.3 590.4,919.1 591.5,919.8 592.5,920.3 593.6,920.6 594.6,920.6 595.7,920.2 596.7,919.4 597.8,917.9 598.8,915.7 599.9,912.7 600.9,908.9 602.0,904.3 603.0,899.0 604.1,893.1 605.1,886.7 606.2,879.9 607.2,873.0 608.3,866.3 609.3,860.3 610.4,855.4"/>
<path class="g" d="M443.4,876.1 444.5,876.1 445.5,876.2 446.6,876.5 447.6,876.8 448.7,877.3 449.7,877.9 450.8,878.5 451.8,879.2 452.9,880.0 453.9,880.9 455.0,881.8 456.0,882.9 457.1,884.0 458.1,885.2 459.2,886.5 460.2,888.0 461.3,889.5 462.3,891.1 463.4,892.9 464.4,894.7 465.5,896.6 466.5,898.5 467.6,900.5 468.6,902.6 469.7,904.7 470.7,906.7 471.8,908.7 472.8,910.5 473.9,912.2 474.9,913.7 476.0,915.0 477.0,916.1 478.1,916.9 479.1,917.3 480.2,917.3 481.2,916.9 482.3,916.0 483.3,914.3 484.4,911.9 485.4,909.0 486.5,905.4 487.5,901.3 488.6,896.7 489.6,891.5 490.7,885.8 491.7,879.7 492.8,873.2 493.8,866.5 494.9,859.8 495.9,853.2 497.0,846.9 498.0,840.6 499.1,834.5 500.1,828.6 501.2,823.2 502.2,818.3 503.3,814.0 504.3,810.3 505.4,807.2 506.4,804.8 507.5,802.9 508.5,801.5 509.6,800.6 510.6,800.1 511.7,800.0 512.7,800.2 513.8,800.5 514.8,801.1 515.9,802.0 516.9,803.4 518.0,805.1 519.0,807.1 520.1,809.4 521.1,811.9 522.2,814.7 523.2,817.6 524.3,820.8 525.3,824.0 526.4,827.3 527.4,830.6 528.5,833.9 529.5,837.2 530.6,840.5 531.6,843.8 532.7,847.0 533.7,850.0 534.8,853.0 535.8,855.8 536.9,858.5 537.9,860.9 539.0,863.2 540.0,865.2 541.1,866.9 542.1,868.3 543.2,869.5 544.2,870.4 545.3,871.0 546.3,871.5 547.4,871.9 548.4,872.1 549.5,872.3 550.5,872.5 551.6,872.6 552.6,872.8 553.7,873.0 554.7,873.2 555.8,873.4 556.8,873.7 557.9,874.0 558.9,874.4 560.0,874.8 561.0,875.4 562.1,876.0 563.1,876.8 564.2,877.7 565.2,878.7 566.3,879.7 567.3,880.9 568.4,882.2 569.4,883.5 570.5,884.9 571.5,886.4 572.6,888.0 573.6,889.7 574.7,891.5 575.7,893.4 576.8,895.3 577.8,897.4 578.9,899.4 579.9,901.6 581.0,903.7 582.0,905.7 583.1,907.6 584.1,909.4 585.2,911.1 586.2,912.6 587.3,913.9 588.3,915.1 589.4,916.2 590.4,917.1 591.5,917.8 592.5,918.3 593.6,918.6 594.6,918.6 595.7,918.2 596.7,917.3 597.8,915.8 598.8,913.4 599.9,910.3 600.9,906.4 602.0,901.7 603.0,896.3 604.1,890.2 605.1,883.6 606.2,876.6 607.2,869.5 608.3,862.7 609.3,856.5 610.4,851.4"/>
<path class="g" d="M443.4,878.6 444.5,879.2 445.5,879.9 446.6,880.8 447.6,881.8 448.7,882.8 449.7,884.0 450.8,885.3 451.8,886.6 452.9,888.0 453.9,889.4 455.0,891.0 456.0,892.6 457.1,894.3 458.1,896.1 459.2,898.0 460.2,900.0 461.3,902.1 462.3,904.3 463.4,906.6 464.4,909.0 465.5,911.4 466.5,913.9 467.6,916.5 468.6,919.1 469.7,921.6 470.7,924.2 471.8,926.6 472.8,928.8 473.9,930.9 474.9,932.7 476.0,934.3 477.0,935.5 478.1,936.5 479.1,936.9 480.2,936.8 481.2,936.1 482.3,934.5 483.3,931.9 484.4,928.4 485.4,924.0 486.5,918.8 487.5,912.9 488.6,906.2 489.6,898.8 490.7,890.8 491.7,882.1 492.8,873.0 493.8,863.6 494.9,854.1 495.9,844.8 497.0,835.7 498.0,826.8 499.1,818.0 500.1,809.6 501.2,801.6 502.2,794.4 503.3,787.9 504.3,782.2 505.4,777.4 506.4,773.3 507.5,770.0 508.5,767.4 509.6,765.6 510.6,764.4 511.7,763.8 512.7,763.7 513.8,763.9 514.8,764.6 515.9,765.7 516.9,767.5 518.0,769.7 519.0,772.4 520.1,775.5 521.1,779.0 522.2,782.8 523.2,786.9 524.3,791.3 525.3,795.9 526.4,800.6 527.4,805.3 528.5,810.1 529.5,815.0 530.6,819.9 531.6,824.7 532.7,829.5 533.7,834.2 534.8,838.7 535.8,843.1 536.9,847.3 537.9,851.3 539.0,855.0 540.0,858.4 541.1,861.5 542.1,864.2 543.2,866.5 544.2,868.5 545.3,870.2 546.3,871.6 547.4,872.8 548.4,873.9 549.5,874.8 550.5,875.6 551.6,876.3 552.6,877.0 553.7,877.6 554.7,878.1 555.8,878.7 556.8,879.3 557.9,880.0 558.9,880.7 560.0,881.5 561.0,882.4 562.1,883.4 563.1,884.5 564.2,885.8 565.2,887.1 566.3,888.5 567.3,890.1 568.4,891.7 569.4,893.4 570.5,895.2 571.5,897.1 572.6,899.0 573.6,901.1 574.7,903.2 575.7,905.5 576.8,907.8 577.8,910.2 578.9,912.6 579.9,915.1 581.0,917.6 582.0,919.9 583.1,922.1 584.1,924.2 585.2,926.0 586.2,927.7 587.3,929.2 588.3,930.5 589.4,931.6 590.4,932.6 591.5,933.3 592.5,933.7 593.6,933.9 594.6,933.8 595.7,933.1 596.7,931.9 597.8,929.8 598.8,926.8 599.9,922.8 600.9,917.7 602.0,911.7 603.0,904.8 604.1,897.1 605.1,888.7 606.2,879.8 607.2,870.7 608.3,861.8 609.3,853.7 610.4,846.8"/>
<path class="g" d="M443.4,880.6 444.5,881.1 445.5,881.7 446.6,882.5 447.6,883.3 448.7,884.1 449.7,885.1 450.8,886.1 451.8,887.1 452.9,888.2 453.9,889.3 455.0,890.5 456.0,891.7 457.1,893.0 458.1,894.3 459.2,895.8 460.2,897.3 461.3,898.9 462.3,900.6 463.4,902.4 464.4,904.2 465.5,906.1 466.5,908.0 467.6,910.0 468.6,912.0 469.7,914.0 470.7,915.9 471.8,917.7 472.8,919.4 473.9,921.0 474.9,922.3 476.0,923.4 477.0,924.3 478.1,924.9 479.1,925.0 480.2,924.7 481.2,923.9 482.3,922.2 483.3,919.8 484.4,916.5 485.4,912.5 486.5,907.9 487.5,902.5 488.6,896.6 489.6,890.0 490.7,882.9 491.7,875.2 492.8,867.2 493.8,858.9 494.9,850.5 495.9,842.4 497.0,834.4 498.0,826.6 499.1,818.9 500.1,811.5 501.2,804.6 502.2,798.3 503.3,792.6 504.3,787.7 505.4,783.5 506.4,780.1 507.5,777.2 508.5,775.1 509.6,773.5 510.6,772.5 511.7,772.1 512.7,772.1 513.8,772.4 514.8,773.1 515.9,774.2 516.9,775.8 518.0,777.9 519.0,780.4 520.1,783.2 521.1,786.3 522.2,789.8 523.2,793.5 524.3,797.4 525.3,801.5 526.4,805.7 527.4,809.9 528.5,814.2 529.5,818.6 530.6,822.9 531.6,827.2 532.7,831.4 533.7,835.6 534.8,839.6 535.8,843.5 536.9,847.2 537.9,850.7 539.0,854.0 540.0,857.0 541.1,859.7 542.1,862.0 543.2,864.1 544.2,865.8 545.3,867.3 546.3,868.6 547.4,869.6 548.4,870.5 549.5,871.3 550.5,872.0 551.6,872.6 552.6,873.1 553.7,873.7 554.7,874.2 555.8,874.7 556.8,875.2 557.9,875.8 558.9,876.4 560.0,877.2 561.0,878.0 562.1,878.9 563.1,879.9 564.2,881.0 565.2,882.3 566.3,883.6 567.3,885.0 568.4,886.5 569.4,888.1 570.5,889.8 571.5,891.5 572.6,893.3 573.6,895.3 574.7,897.3 575.7,899.4 576.8,901.6 577.8,903.8 578.9,906.1 579.9,908.5 581.0,910.8 582.0,913.0 583.1,915.1 584.1,917.1 585.2,918.9 586.2,920.6 587.3,922.1 588.3,923.4 589.4,924.6 590.4,925.5 591.5,926.3 592.5,926.9 593.6,927.3 594.6,927.3 595.7,926.9 596.7,926.0 597.8,924.3 598.8,921.8 599.9,918.3 600.9,913.8 602.0,908.2 603.0,901.7 604.1,894.3 605.1,886.1 606.2,877.4 607.2,868.3 608.3,859.2 609.3,850.6 610.4,842.9"/>
<path class="g" d="M443.4,881.7 444.5,882.2 445.5,882.8 446.6,883.6 447.6,884.4 448.7,885.3 449.7,886.3 450.8,887.3 451.8,888.4 452.9,889.6 453.9,890.8 455.0,892.0 456.0,893.4 457.1,894.8 458.1,896.3 459.2,897.8 460.2,899.5 461.3,901.3 462.3,903.1 463.4,905.1 464.4,907.1 465.5,909.1 466.5,911.3 467.6,913.4 468.6,915.6 469.7,917.7 470.7,919.8 471.8,921.9 472.8,923.7 473.9,925.4 474.9,926.9 476.0,928.1 477.0,929.0 478.1,929.6 479.1,929.9 480.2,929.6 481.2,928.7 482.3,927.0 483.3,924.4 484.4,921.0 485.4,916.8 486.5,911.9 487.5,906.3 488.6,900.1 489.6,893.2 490.7,885.7 491.7,877.6 492.8,869.2 493.8,860.5 494.9,851.7 495.9,843.1 497.0,834.7 498.0,826.5 499.1,818.4 500.1,810.6 501.2,803.3 502.2,796.7 503.3,790.7 504.3,785.5 505.4,781.0 506.4,777.3 507.5,774.3 508.5,771.9 509.6,770.2 510.6,769.2 511.7,768.7 512.7,768.6 513.8,768.9 514.8,769.5 515.9,770.6 516.9,772.2 518.0,774.3 519.0,776.8 520.1,779.7 521.1,783.0 522.2,786.5 523.2,790.3 524.3,794.4 525.3,798.6 526.4,802.9 527.4,807.3 528.5,811.7 529.5,816.2 530.6,820.7 531.6,825.1 532.7,829.5 533.7,833.8 534.8,838.0 535.8,842.0 536.9,845.8 537.9,849.5 539.0,852.9 540.0,856.0 541.1,858.9 542.1,861.4 543.2,863.5 544.2,865.4 545.3,867.0 546.3,868.3 547.4,869.4 548.4,870.4 549.5,871.3 550.5,872.1 551.6,872.9 552.6,873.5 553.7,874.2 554.7,874.8 555.8,875.4 556.8,876.1 557.9,876.8 558.9,877.6 560.0,878.4 561.0,879.4 562.1,880.5 563.1,881.6 564.2,882.9 565.2,884.3 566.3,885.7 567.3,887.3 568.4,888.9 569.4,890.6 570.5,892.4 571.5,894.2 572.6,896.2 573.6,898.2 574.7,900.3 575.7,902.5 576.8,904.7 577.8,907.0 578.9,909.4 579.9,911.8 581.0,914.1 582.0,916.4 583.1,918.5 584.1,920.5 585.2,922.3 586.2,924.0 587.3,925.4 588.3,926.7 589.4,927.8 590.4,928.8 591.5,929.5 592.5,930.1 593.6,930.3 594.6,930.3 595.7,929.8 596.7,928.8 597.8,927.0 598.8,924.4 599.9,920.8 600.9,916.2 602.0,910.7 603.0,904.2 604.1,897.0 605.1,889.0 606.2,880.6 607.2,871.9 608.3,863.3 609.3,855.3 610.4,848.3"/>
<path class="g" d="M443.4,881.6 444.5,882.4 445.5,883.4 446.6,884.5 447.6,885.7 448.7,887.0 449.7,888.3 450.8,889.8 451.8,891.3 452.9,892.8 453.9,894.4 455.0,896.0 456.0,897.7 457.1,899.4 458.1,901.2 459.2,903.0 460.2,904.9 461.3,906.8 462.3,908.8 463.4,910.9 464.4,912.9 465.5,915.0 466.5,917.1 467.6,919.2 468.6,921.3 469.7,923.4 470.7,925.3 471.8,927.1 472.8,928.8 473.9,930.2 474.9,931.4 476.0,932.4 477.0,933.1 478.1,933.4 479.1,933.3 480.2,932.7 481.2,931.5 482.3,929.6 483.3,926.8 484.4,923.1 485.4,918.6 486.5,913.4 487.5,907.6 488.6,901.2 489.6,894.1 490.7,886.4 491.7,878.2 492.8,869.6 493.8,860.8 494.9,852.0 495.9,843.4 497.0,835.0 498.0,826.8 499.1,818.7 500.1,811.0 501.2,803.8 502.2,797.2 503.3,791.4 504.3,786.3 505.4,782.0 506.4,778.4 507.5,775.5 508.5,773.4 509.6,771.8 510.6,770.9 511.7,770.5 512.7,770.6 513.8,771.0 514.8,771.8 515.9,773.0 516.9,774.7 518.0,776.9 519.0,779.6 520.1,782.6 521.1,785.9 522.2,789.5 523.2,793.4 524.3,797.6 525.3,801.9 526.4,806.3 527.4,810.8 528.5,815.4 529.5,820.0 530.6,824.6 531.6,829.3 532.7,833.8 533.7,838.3 534.8,842.7 535.8,846.9 536.9,851.0 537.9,854.8 539.0,858.5 540.0,861.8 541.1,864.9 542.1,867.6 543.2,870.0 544.2,872.0 545.3,873.8 546.3,875.3 547.4,876.6 548.4,877.7 549.5,878.7 550.5,879.6 551.6,880.3 552.6,881.0 553.7,881.6 554.7,882.2 555.8,882.7 556.8,883.2 557.9,883.8 558.9,884.3 560.0,884.9 561.0,885.6 562.1,886.4 563.1,887.2 564.2,888.1 565.2,889.0 566.3,890.1 567.3,891.2 568.4,892.4 569.4,893.6 570.5,895.0 571.5,896.4 572.6,897.9 573.6,899.5 574.7,901.2 575.7,902.9 576.8,904.8 577.8,906.8 578.9,908.9 579.9,911.0 581.0,913.2 582.0,915.3 583.1,917.3 584.1,919.1 585.2,920.9 586.2,922.5 587.3,924.0 588.3,925.4 589.4,926.6 590.4,927.7 591.5,928.6 592.5,929.3 593.6,929.8 594.6,930.0 595.7,929.8 596.7,929.0 597.8,927.4 598.8,925.0 599.9,921.8 600.9,917.6 602.0,912.6 603.0,906.7 604.1,900.2 605.1,893.1 606.2,885.5 607.2,877.8 608.3,870.4 609.3,863.7 610.4,858.0"/>
<path class="g" d="M443.4,873.3 444.5,873.6 445.5,873.9 446.6,874.3 447.6,874.8 448.7,875.4 449.7,876.0 450.8,876.6 451.8,877.4 452.9,878.2 453.9,879.0 455.0,880.0 456.0,881.0 457.1,882.1 458.1,883.3 459.2,884.6 460.2,886.0 461.3,887.5 462.3,889.1 463.4,890.8 464.4,892.6 465.5,894.5 466.5,896.5 467.6,898.5 468.6,900.6 469.7,902.6 470.7,904.7 471.8,906.6 472.8,908.5 473.9,910.2 474.9,911.8 476.0,913.1 477.0,914.2 478.1,915.1 479.1,915.6 480.2,915.6 481.2,915.2 482.3,914.0 483.3,912.2 484.4,909.6 485.4,906.3 486.5,902.4 487.5,897.9 488.6,892.9 489.6,887.3 490.7,881.2 491.7,874.6 492.8,867.6 493.8,860.4 494.9,853.2 495.9,846.1 497.0,839.1 498.0,832.2 499.1,825.5 500.1,819.0 501.2,812.9 502.2,807.4 503.3,802.4 504.3,798.0 505.4,794.3 506.4,791.2 507.5,788.8 508.5,786.8 509.6,785.4 510.6,784.6 511.7,784.3 512.7,784.3 513.8,784.6 514.8,785.2 515.9,786.3 516.9,787.8 518.0,789.7 519.0,791.9 520.1,794.5 521.1,797.3 522.2,800.4 523.2,803.7 524.3,807.2 525.3,810.8 526.4,814.4 527.4,818.2 528.5,821.9 529.5,825.7 530.6,829.4 531.6,833.1 532.7,836.7 533.7,840.2 534.8,843.6 535.8,846.8 536.9,849.9 537.9,852.7 539.0,855.4 540.0,857.8 541.1,859.9 542.1,861.8 543.2,863.3 544.2,864.6 545.3,865.7 546.3,866.6 547.4,867.3 548.4,867.9 549.5,868.5 550.5,868.9 551.6,869.3 552.6,869.7 553.7,870.1 554.7,870.5 555.8,870.9 556.8,871.4 557.9,871.9 558.9,872.6 560.0,873.3 561.0,874.1 562.1,875.0 563.1,876.0 564.2,877.1 565.2,878.3 566.3,879.6 567.3,881.0 568.4,882.4 569.4,883.9 570.5,885.5 571.5,887.1 572.6,888.8 573.6,890.5 574.7,892.3 575.7,894.1 576.8,895.9 577.8,897.8 578.9,899.7 579.9,901.6 581.0,903.4 582.0,905.1 583.1,906.7 584.1,908.1 585.2,909.3 586.2,910.5 587.3,911.4 588.3,912.2 589.4,912.8 590.4,913.2 591.5,913.5 592.5,913.6 593.6,913.6 594.6,913.2 595.7,912.5 596.7,911.3 597.8,909.6 598.8,907.2 599.9,904.1 600.9,900.3 602.0,895.9 603.0,890.9 604.1,885.3 605.1,879.4 606.2,873.2 607.2,866.9 608.3,860.9 609.3,855.5 610.4,851.1"/>
<path class="g" d="M443.4,876.1 444.5,876.6 445.5,877.2 446.6,878.0 447.6,878.8 448.7,879.8 449.7,880.8 450.8,881.9 451.8,883.0 452.9,884.2 453.9,885.5 455.0,886.8 456.0,888.1 457.1,889.5 458.1,891.0 459.2,892.5 460.2,894.1 461.3,895.7 462.3,897.4 463.4,899.2 464.4,901.0 465.5,902.8 466.5,904.6 467.6,906.5 468.6,908.3 469.7,910.2 470.7,911.9 471.8,913.6 472.8,915.1 473.9,916.4 474.9,917.6 476.0,918.5 477.0,919.2 478.1,919.6 479.1,919.7 480.2,919.3 481.2,918.4 482.3,916.8 483.3,914.4 484.4,911.2 485.4,907.4 486.5,902.9 487.5,897.8 488.6,892.2 489.6,886.0 490.7,879.3 491.7,872.1 492.8,864.6 493.8,856.8 494.9,849.1 495.9,841.5 497.0,834.1 498.0,826.9 499.1,819.8 500.1,813.0 501.2,806.6 502.2,800.9 503.3,795.7 504.3,791.3 505.4,787.5 506.4,784.4 507.5,781.9 508.5,779.9 509.6,778.6 510.6,777.8 511.7,777.4 512.7,777.4 513.8,777.7 514.8,778.3 515.9,779.3 516.9,780.7 518.0,782.6 519.0,784.8 520.1,787.3 521.1,790.1 522.2,793.1 523.2,796.4 524.3,799.9 525.3,803.6 526.4,807.3 527.4,811.2 528.5,815.0 529.5,818.9 530.6,822.9 531.6,826.8 532.7,830.7 533.7,834.5 534.8,838.2 535.8,841.9 536.9,845.4 537.9,848.7 539.0,851.9 540.0,854.8 541.1,857.4 542.1,859.8 543.2,861.9 544.2,863.7 545.3,865.2 546.3,866.6 547.4,867.8 548.4,868.8 549.5,869.7 550.5,870.6 551.6,871.4 552.6,872.1 553.7,872.7 554.7,873.3 555.8,873.9 556.8,874.5 557.9,875.2 558.9,875.8 560.0,876.6 561.0,877.4 562.1,878.2 563.1,879.1 564.2,880.1 565.2,881.2 566.3,882.4 567.3,883.6 568.4,884.9 569.4,886.2 570.5,887.6 571.5,889.1 572.6,890.7 573.6,892.4 574.7,894.1 575.7,896.0 576.8,897.9 577.8,900.0 578.9,902.1 579.9,904.2 581.0,906.4 582.0,908.5 583.1,910.5 584.1,912.4 585.2,914.2 586.2,915.9 587.3,917.5 588.3,918.8 589.4,920.1 590.4,921.2 591.5,922.1 592.5,922.9 593.6,923.4 594.6,923.6 595.7,923.4 596.7,922.7 597.8,921.3 598.8,919.0 599.9,915.9 600.9,912.0 602.0,907.3 603.0,901.8 604.1,895.6 605.1,888.8 606.2,881.6 607.2,874.3 608.3,867.2 609.3,860.7 610.4,855.2"/>
</g>
<path class="a" d="M443.5,734.2 L443.5,981.5 M443.0,981.0 L714.3,981.0"/>
<path class="a" d="M540.3,981.0 L540.3,978.0 M636.4,981.0 L636.4,978.0 M443.5,734.2 L446.5,734.2 M443.5,795.7 L446.5,795.7 M443.5,857.4 L446.5,857.4 M443.5,919.2 L446.5,919.2"/>
<path class="b" d="M443.4,878.1 444.5,878.6 445.5,879.3 446.6,880.0 447.6,880.9 448.7,881.8 449.7,882.8 450.8,883.8 451.8,884.9 452.9,886.1 453.9,887.3 455.0,888.5 456.0,889.9 457.1,891.2 458.1,892.7 459.2,894.3 460.2,895.9 461.3,897.6 462.3,899.4 463.4,901.3 464.4,903.2 465.5,905.2 466.5,907.3 467.6,909.3 468.6,911.4 469.7,913.5 470.7,915.5 471.8,917.5 472.8,919.3 473.9,920.9 474.9,922.3 476.0,923.5 477.0,924.5 478.1,925.1 479.1,925.3 480.2,925.1 481.2,924.3 482.3,922.8 483.3,920.5 484.4,917.3 485.4,913.4 486.5,908.8 487.5,903.6 488.6,897.8 489.6,891.4 490.7,884.4 491.7,876.9 492.8,868.9 493.8,860.8 494.9,852.6 495.9,844.6 497.0,836.7 498.0,829.0 499.1,821.5 500.1,814.2 501.2,807.4 502.2,801.2 503.3,795.6 504.3,790.7 505.4,786.6 506.4,783.1 507.5,780.4 508.5,778.2 509.6,776.6 510.6,775.7 511.7,775.2 512.7,775.2 513.8,775.5 514.8,776.1 515.9,777.2 516.9,778.8 518.0,780.8 519.0,783.2 520.1,786.0 521.1,789.0 522.2,792.4 523.2,796.0 524.3,799.9 525.3,803.9 526.4,808.0 527.4,812.1 528.5,816.4 529.5,820.6 530.6,824.9 531.6,829.1 532.7,833.2 533.7,837.3 534.8,841.3 535.8,845.1 536.9,848.8 537.9,852.3 539.0,855.5 540.0,858.5 541.1,861.2 542.1,863.5 543.2,865.6 544.2,867.3 545.3,868.8 546.3,870.0 547.4,871.1 548.4,872.0 549.5,872.8 550.5,873.5 551.6,874.1 552.6,874.7 553.7,875.2 554.7,875.7 555.8,876.2 556.8,876.8 557.9,877.3 558.9,878.0 560.0,878.7 561.0,879.5 562.1,880.3 563.1,881.3 564.2,882.4 565.2,883.5 566.3,884.8 567.3,886.1 568.4,887.5 569.4,889.0 570.5,890.5 571.5,892.1 572.6,893.8 573.6,895.6 574.7,897.5 575.7,899.4 576.8,901.4 577.8,903.5 578.9,905.7 579.9,907.8 581.0,910.0 582.0,912.0 583.1,913.9 584.1,915.7 585.2,917.4 586.2,918.9 587.3,920.2 588.3,921.4 589.4,922.4 590.4,923.3 591.5,923.9 592.5,924.4 593.6,924.7 594.6,924.6 595.7,924.1 596.7,923.1 597.8,921.4 598.8,918.9 599.9,915.5 600.9,911.4 602.0,906.4 603.0,900.7 604.1,894.3 605.1,887.3 606.2,880.0 607.2,872.6 608.3,865.4 609.3,858.9 610.4,853.4"/>
<text class="t" transform="translate(442.7,1011.8) scale(1,1.05)" text-anchor="middle">0</text>
<text class="t" transform="translate(539.5,1011.8) scale(1,1.05)" text-anchor="middle">0.5</text>
<text class="t" transform="translate(635.6,1011.8) scale(1,1.05)" text-anchor="middle">1</text>
<text class="t" transform="translate(434.7,743.6) scale(1,1.05)" text-anchor="end">0.2</text>
<text class="t" transform="translate(434.7,805.1) scale(1,1.05)" text-anchor="end">0.1</text>
<text class="t" transform="translate(434.7,866.8) scale(1,1.05)" text-anchor="end">0</text>
<text class="t" transform="translate(434.7,928.6) scale(1,1.05)" text-anchor="end">-0.1</text>
<text class="t" transform="translate(434.7,990.3) scale(1,1.05)" text-anchor="end">-0.2</text>
<text class="l" transform="translate(578.9,1044.0) scale(1,1.05)" text-anchor="middle">time/s</text>
<text class="l" transform="translate(387.1,857.6) rotate(-90) scale(1,1.05)" text-anchor="middle">amplitude/a.u.</text>
</g>
<g id="p11">
<clipPath id="c10"><rect x="811.0" y="732.2" width="271.0" height="248.79999999999995"/></clipPath>
<g clip-path="url(#c10)">
<path class="g" d="M810.9,818.1 812.0,820.9 813.0,823.8 814.1,826.6 815.2,829.5 816.2,832.3 817.3,835.1 818.3,837.9 819.4,840.6 820.4,843.3 821.5,845.9 822.5,848.6 823.6,851.2 824.6,853.8 825.7,856.5 826.7,859.3 827.8,862.2 828.8,865.2 829.9,868.4 830.9,871.9 832.0,875.5 833.0,879.3 834.1,883.1 835.1,886.9 836.2,890.5 837.2,894.0 838.3,897.2 839.3,900.1 840.4,902.8 841.4,905.2 842.5,907.2 843.5,908.7 844.6,909.7 845.6,910.1 846.7,909.9 847.7,909.1 848.8,907.3 849.8,904.3 850.9,900.0 851.9,894.4 853.0,887.9 854.1,880.7 855.1,872.7 856.2,864.1 857.2,854.9 858.3,845.5 859.3,836.7 860.4,828.7 861.4,821.8 862.5,815.6 863.5,810.1 864.6,805.1 865.6,800.7 866.7,796.8 867.7,794.0 868.8,792.5 869.8,791.8 870.9,791.5 871.9,791.0 873.0,790.7 874.0,790.4 875.1,790.3 876.1,790.3 877.2,790.3 878.2,790.5 879.3,790.9 880.3,791.3 881.4,791.7 882.4,792.3 883.5,793.2 884.5,794.4 885.6,796.1 886.6,798.1 887.7,800.4 888.7,802.8 889.8,805.1 890.8,807.4 891.9,809.5 892.9,811.4 894.0,813.2 895.1,814.8 896.1,816.1 897.2,817.2 898.2,818.1 899.3,818.7 900.3,819.1 901.4,819.3 902.4,819.2 903.5,818.7 904.5,818.0 905.6,817.1 906.6,816.1 907.7,814.9 908.7,813.8 909.8,812.6 910.8,811.5 911.9,810.6 912.9,809.7 914.0,809.0 915.0,808.3 916.1,807.8 917.1,807.5 918.2,807.5 919.2,807.8 920.3,808.5 921.3,809.6 922.4,811.0 923.4,812.8 924.5,814.9 925.5,817.2 926.6,819.6 927.6,822.1 928.7,824.6 929.7,827.2 930.8,829.8 931.8,832.4 932.9,835.0 934.0,837.7 935.0,840.4 936.1,843.2 937.1,846.1 938.2,849.0 939.2,852.0 940.3,855.2 941.3,858.4 942.4,861.7 943.4,865.2 944.5,868.8 945.5,872.5 946.6,876.5 947.6,880.6 948.7,884.8 949.7,889.1 950.8,893.4 951.8,897.8 952.9,902.1 953.9,906.4 955.0,910.5 956.0,914.5 957.1,918.2 958.1,921.6 959.2,924.5 960.2,926.9 961.3,928.9 962.3,930.4 963.4,931.3 964.4,931.4 965.5,930.6 966.5,928.8 967.6,926.1 968.6,922.7 969.7,918.6 970.7,913.6 971.8,907.5 972.9,900.7 973.9,894.1 975.0,887.9 976.0,882.4 977.1,877.3 978.1,872.8"/>
<path class="g" d="M810.9,796.1 812.0,797.6 813.0,799.1 814.1,800.6 815.2,802.2 816.2,803.7 817.3,805.3 818.3,806.8 819.4,808.3 820.4,809.8 821.5,811.3 822.5,812.7 823.6,814.2 824.6,815.7 825.7,817.1 826.7,818.6 827.8,820.3 828.8,822.2 829.9,824.6 830.9,827.7 832.0,831.1 833.0,834.9 834.1,838.8 835.1,842.7 836.2,846.7 837.2,850.5 838.3,854.2 839.3,857.7 840.4,861.1 841.4,864.2 842.5,867.1 843.5,869.5 844.6,871.4 845.6,872.9 846.7,873.8 847.7,874.4 848.8,874.5 849.8,873.8 850.9,872.2 851.9,869.5 853.0,865.9 854.1,861.6 855.1,856.4 856.2,850.3 857.2,843.3 858.3,835.6 859.3,827.8 860.4,820.2 861.4,812.8 862.5,805.6 863.5,798.6 864.6,791.8 865.6,785.4 866.7,779.4 867.7,773.9 868.8,769.0 869.8,764.8 870.9,761.3 871.9,758.3 873.0,755.8 874.0,753.6 875.1,751.9 876.1,750.5 877.2,749.4 878.2,748.6 879.3,748.1 880.3,747.8 881.4,747.8 882.4,748.0 883.5,748.6 884.5,749.6 885.6,751.1 886.6,753.1 887.7,755.4 888.7,758.1 889.8,760.9 890.8,763.9 891.9,766.9 892.9,769.9 894.0,772.9 895.1,775.7 896.1,778.4 897.2,781.0 898.2,783.3 899.3,785.4 900.3,787.2 901.4,788.7 902.4,790.0 903.5,791.1 904.5,792.0 905.6,792.7 906.6,793.2 907.7,793.7 908.7,794.0 909.8,794.4 910.8,794.7 911.9,794.9 912.9,795.2 914.0,795.3 915.0,795.6 916.1,795.8 917.1,796.2 918.2,796.7 919.2,797.4 920.3,798.3 921.3,799.4 922.4,800.7 923.4,802.0 924.5,803.5 925.5,804.9 926.6,806.4 927.6,807.8 928.7,809.2 929.7,810.6 930.8,811.8 931.8,812.8 932.9,813.8 934.0,814.6 935.0,815.5 936.1,816.4 937.1,817.4 938.2,818.6 939.2,820.0 940.3,821.6 941.3,823.3 942.4,825.2 943.4,827.2 944.5,829.4 945.5,831.9 946.6,834.5 947.6,837.4 948.7,840.4 949.7,843.6 950.8,846.8 951.8,850.1 952.9,853.4 953.9,856.7 955.0,859.9 956.0,863.0 957.1,865.8 958.1,868.2 959.2,870.2 960.2,871.8 961.3,873.0 962.3,873.7 963.4,874.1 964.4,873.8 965.5,872.5 966.5,870.0 967.6,866.6 968.6,862.2 969.7,856.7 970.7,850.0 971.8,841.6 972.9,832.1 973.9,822.2 975.0,812.5 976.0,802.9 977.1,793.7 978.1,784.8"/>
<path class="g" d="M810.9,810.1 812.0,812.4 813.0,814.7 814.1,817.1 815.2,819.4 816.2,821.8 817.3,824.1 818.3,826.4 819.4,828.7 820.4,831.0 821.5,833.3 822.5,835.6 823.6,837.8 824.6,840.1 825.7,842.5 826.7,845.0 827.8,847.6 828.8,850.4 829.9,853.4 830.9,856.6 832.0,860.1 833.0,863.7 834.1,867.4 835.1,871.0 836.2,874.5 837.2,877.8 838.3,881.0 839.3,883.9 840.4,886.5 841.4,888.9 842.5,890.9 843.5,892.5 844.6,893.5 845.6,894.0 846.7,893.9 847.7,893.3 848.8,892.1 849.8,889.8 850.9,886.3 851.9,881.7 853.0,876.2 854.1,869.9 855.1,862.8 856.2,854.8 857.2,846.1 858.3,836.9 859.3,827.8 860.4,819.1 861.4,810.8 862.5,802.8 863.5,795.0 864.6,787.6 865.6,780.5 866.7,773.9 867.7,767.8 868.8,762.4 869.8,757.7 870.9,753.8 871.9,750.4 873.0,747.5 874.0,745.1 875.1,743.2 876.1,741.6 877.2,740.4 878.2,739.5 879.3,739.0 880.3,738.7 881.4,738.8 882.4,739.1 883.5,739.9 884.5,741.1 885.6,742.9 886.6,745.1 887.7,747.7 888.7,750.6 889.8,753.8 890.8,757.0 891.9,760.4 892.9,763.7 894.0,766.9 895.1,770.1 896.1,773.0 897.2,775.7 898.2,778.2 899.3,780.4 900.3,782.3 901.4,783.9 902.4,785.1 903.5,786.1 904.5,786.8 905.6,787.2 906.6,787.0 907.7,786.4 908.7,785.6 909.8,784.6 910.8,783.6 911.9,782.7 912.9,782.2 914.0,782.1 915.0,782.5 916.1,783.7 917.1,785.6 918.2,788.0 919.2,791.0 920.3,794.2 921.3,797.8 922.4,801.3 923.4,804.7 924.5,807.8 925.5,810.5 926.6,813.2 927.6,815.8 928.7,818.4 929.7,820.9 930.8,823.3 931.8,825.7 932.9,828.0 934.0,830.2 935.0,832.5 936.1,834.7 937.1,836.9 938.2,839.2 939.2,841.4 940.3,843.8 941.3,846.2 942.4,848.7 943.4,851.3 944.5,854.0 945.5,856.8 946.6,859.8 947.6,862.8 948.7,865.9 949.7,868.9 950.8,872.0 951.8,875.0 952.9,878.0 953.9,880.8 955.0,883.5 956.0,886.0 957.1,888.2 958.1,889.9 959.2,891.2 960.2,892.0 961.3,892.4 962.3,892.2 963.4,891.4 964.4,889.8 965.5,887.1 966.5,883.3 967.6,878.6 968.6,873.1 969.7,867.0 970.7,860.0 971.8,852.0 972.9,843.4 973.9,835.0 975.0,827.1 976.0,819.7 977.1,813.0 978.1,806.8"/>
<path class="g" d="M810.9,818.1 812.0,820.7 813.0,823.3 814.1,826.0 815.2,828.6 816.2,831.2 817.3,833.9 818.3,836.5 819.4,839.0 820.4,841.6 821.5,844.1 822.5,846.5 823.6,849.0 824.6,851.6 825.7,854.2 826.7,856.8 827.8,859.6 828.8,862.6 829.9,865.8 830.9,869.1 832.0,872.8 833.0,876.5 834.1,880.3 835.1,884.1 836.2,887.7 837.2,891.2 838.3,894.4 839.3,897.4 840.4,900.2 841.4,902.6 842.5,904.7 843.5,906.3 844.6,907.4 845.6,907.9 846.7,907.9 847.7,907.3 848.8,906.0 849.8,903.5 850.9,899.8 851.9,894.9 853.0,888.9 854.1,882.1 855.1,874.5 856.2,865.9 857.2,856.5 858.3,846.7 859.3,836.8 860.4,827.4 861.4,818.3 862.5,809.5 863.5,801.0 864.6,792.7 865.6,784.8 866.7,777.4 867.7,770.5 868.8,764.2 869.8,758.8 870.9,754.0 871.9,749.9 873.0,746.4 874.0,743.3 875.1,740.7 876.1,738.5 877.2,736.8 878.2,735.5 879.3,734.5 880.3,734.0 881.4,733.8 882.4,733.9 883.5,734.5 884.5,735.6 885.6,737.1 886.6,739.2 887.7,741.6 888.7,744.4 889.8,747.4 890.8,750.6 891.9,753.9 892.9,757.2 894.0,760.5 895.1,763.7 896.1,766.8 897.2,769.7 898.2,772.4 899.3,774.9 900.3,777.1 901.4,779.1 902.4,780.9 903.5,782.4 904.5,783.8 905.6,785.0 906.6,786.0 907.7,787.0 908.7,787.9 909.8,788.7 910.8,789.5 911.9,790.4 912.9,791.2 914.0,792.2 915.0,793.3 916.1,794.6 917.1,796.0 918.2,797.6 919.2,799.5 920.3,801.7 921.3,804.2 922.4,806.8 923.4,809.6 924.5,812.5 925.5,815.4 926.6,818.4 927.6,821.3 928.7,824.2 929.7,827.0 930.8,829.8 931.8,832.6 932.9,835.3 934.0,838.0 935.0,840.6 936.1,843.3 937.1,846.0 938.2,848.7 939.2,851.5 940.3,854.3 941.3,857.2 942.4,860.1 943.4,863.2 944.5,866.3 945.5,869.6 946.6,873.0 947.6,876.4 948.7,879.9 949.7,883.3 950.8,886.7 951.8,890.0 952.9,893.2 953.9,896.3 955.0,899.2 956.0,901.9 957.1,904.2 958.1,906.0 959.2,907.4 960.2,908.2 961.3,908.4 962.3,908.1 963.4,906.9 964.4,904.6 965.5,900.9 966.5,895.9 967.6,889.8 968.6,882.9 969.7,875.1 970.7,866.2 971.8,856.3 972.9,845.7 973.9,835.2 975.0,825.2 976.0,815.8 977.1,807.0 978.1,798.8"/>
<path class="g" d="M810.9,821.1 812.0,823.8 813.0,826.5 814.1,829.2 815.2,831.9 816.2,834.5 817.3,837.2 818.3,839.9 819.4,842.5 820.4,845.1 821.5,847.6 822.5,850.1 823.6,852.6 824.6,855.2 825.7,857.8 826.7,860.5 827.8,863.4 828.8,866.3 829.9,869.5 830.9,872.9 832.0,876.6 833.0,880.3 834.1,884.2 835.1,887.9 836.2,891.6 837.2,895.1 838.3,898.3 839.3,901.3 840.4,904.1 841.4,906.6 842.5,908.7 843.5,910.3 844.6,911.4 845.6,911.9 846.7,911.9 847.7,911.3 848.8,910.0 849.8,907.5 850.9,903.8 851.9,898.9 853.0,892.9 854.1,886.1 855.1,878.5 856.2,869.9 857.2,860.5 858.3,850.6 859.3,840.8 860.4,831.3 861.4,822.2 862.5,813.4 863.5,804.8 864.6,796.5 865.6,788.5 866.7,781.1 867.7,774.1 868.8,767.9 869.8,762.3 870.9,757.6 871.9,753.4 873.0,749.8 874.0,746.7 875.1,744.0 876.1,741.8 877.2,740.0 878.2,738.6 879.3,737.6 880.3,737.0 881.4,736.8 882.4,736.9 883.5,737.3 884.5,738.2 885.6,739.6 886.6,741.5 887.7,743.7 888.7,746.2 889.8,748.9 890.8,751.8 891.9,754.8 892.9,757.7 894.0,760.7 895.1,763.5 896.1,766.2 897.2,768.7 898.2,771.0 899.3,773.1 900.3,774.9 901.4,776.5 902.4,777.9 903.5,779.0 904.5,780.0 905.6,780.8 906.6,781.5 907.7,782.1 908.7,782.6 909.8,783.1 910.8,783.6 911.9,784.1 912.9,784.8 914.0,785.5 915.0,786.5 916.1,787.6 917.1,788.9 918.2,790.5 919.2,792.4 920.3,794.6 921.3,797.1 922.4,799.8 923.4,802.7 924.5,805.8 925.5,808.8 926.6,812.0 927.6,815.1 928.7,818.2 929.7,821.3 930.8,824.4 931.8,827.4 932.9,830.4 934.0,833.4 935.0,836.4 936.1,839.4 937.1,842.5 938.2,845.5 939.2,848.7 940.3,851.8 941.3,855.1 942.4,858.4 943.4,861.9 944.5,865.4 945.5,869.1 946.6,872.8 947.6,876.6 948.7,880.4 949.7,884.2 950.8,888.0 951.8,891.6 952.9,895.2 953.9,898.5 955.0,901.7 956.0,904.7 957.1,907.2 958.1,909.4 959.2,910.9 960.2,911.9 961.3,912.3 962.3,912.2 963.4,911.3 964.4,909.4 965.5,906.2 966.5,901.8 967.6,896.4 968.6,890.1 969.7,883.1 970.7,875.1 971.8,866.0 972.9,856.3 973.9,846.7 975.0,837.6 976.0,829.1 977.1,821.2 978.1,813.8"/>
<path class="g" d="M810.9,815.1 812.0,818.3 813.0,821.5 814.1,824.7 815.2,827.8 816.2,831.0 817.3,834.1 818.3,837.1 819.4,840.2 820.4,843.1 821.5,846.1 822.5,848.9 823.6,851.8 824.6,854.7 825.7,857.6 826.7,860.6 827.8,863.8 828.8,867.0 829.9,870.4 830.9,874.1 832.0,877.9 833.0,881.9 834.1,885.9 835.1,889.9 836.2,893.7 837.2,897.3 838.3,900.7 839.3,903.9 840.4,906.7 841.4,909.3 842.5,911.5 843.5,913.2 844.6,914.3 845.6,914.9 846.7,914.9 847.7,914.4 848.8,913.0 849.8,910.6 850.9,906.9 851.9,902.0 853.0,896.2 854.1,889.4 855.1,881.8 856.2,873.3 857.2,864.0 858.3,854.2 859.3,844.4 860.4,835.0 861.4,826.0 862.5,817.3 863.5,808.8 864.6,800.6 865.6,792.8 866.7,785.4 867.7,778.6 868.8,772.4 869.8,767.0 870.9,762.4 871.9,758.3 873.0,754.8 874.0,751.8 875.1,749.3 876.1,747.2 877.2,745.6 878.2,744.3 879.3,743.4 880.3,742.9 881.4,742.8 882.4,743.0 883.5,743.7 884.5,744.9 885.6,746.7 886.6,748.9 887.7,751.6 888.7,754.7 889.8,758.0 890.8,761.4 891.9,765.0 892.9,768.6 894.0,772.2 895.1,775.7 896.1,779.1 897.2,782.3 898.2,785.2 899.3,787.9 900.3,790.4 901.4,792.6 902.4,794.5 903.5,796.2 904.5,797.6 905.6,798.8 906.6,799.8 907.7,800.7 908.7,801.4 909.8,802.1 910.8,802.6 911.9,803.1 912.9,803.6 914.0,804.2 915.0,804.9 916.1,805.7 917.1,806.7 918.2,807.9 919.2,809.4 920.3,811.0 921.3,813.0 922.4,815.1 923.4,817.4 924.5,819.8 925.5,822.2 926.6,824.6 927.6,827.0 928.7,829.3 929.7,831.6 930.8,833.9 931.8,836.1 932.9,838.3 934.0,840.4 935.0,842.6 936.1,844.8 937.1,847.0 938.2,849.2 939.2,851.5 940.3,853.9 941.3,856.3 942.4,858.9 943.4,861.6 944.5,864.4 945.5,867.3 946.6,870.4 947.6,873.5 948.7,876.7 949.7,880.0 950.8,883.2 951.8,886.4 952.9,889.5 953.9,892.5 955.0,895.3 956.0,898.0 957.1,900.4 958.1,902.3 959.2,903.8 960.2,904.8 961.3,905.3 962.3,905.3 963.4,904.7 964.4,903.3 965.5,900.8 966.5,897.2 967.6,892.7 968.6,887.6 969.7,881.7 970.7,875.0 971.8,867.2 972.9,859.0 973.9,850.8 975.0,843.2 976.0,836.2 977.1,829.7 978.1,823.8"/>
<path class="g" d="M810.9,808.1 812.0,810.8 813.0,813.5 814.1,816.3 815.2,819.0 816.2,821.8 817.3,824.5 818.3,827.3 819.4,830.0 820.4,832.7 821.5,835.4 822.5,838.0 823.6,840.7 824.6,843.4 825.7,846.2 826.7,849.1 827.8,852.1 828.8,855.3 829.9,858.7 830.9,862.3 832.0,866.1 833.0,870.1 834.1,874.1 835.1,878.1 836.2,882.0 837.2,885.7 838.3,889.2 839.3,892.5 840.4,895.5 841.4,898.2 842.5,900.6 843.5,902.5 844.6,903.8 845.6,904.6 846.7,904.9 847.7,904.6 848.8,903.7 849.8,901.8 850.9,898.7 851.9,894.4 853.0,889.3 854.1,883.3 855.1,876.6 856.2,869.0 857.2,860.6 858.3,851.8 859.3,843.1 860.4,834.7 861.4,826.8 862.5,819.2 863.5,811.8 864.6,804.7 865.6,797.9 866.7,791.6 867.7,785.9 868.8,780.7 869.8,776.3 870.9,772.6 871.9,769.5 873.0,766.8 874.0,764.6 875.1,762.8 876.1,761.3 877.2,760.2 878.2,759.5 879.3,759.0 880.3,758.7 881.4,758.8 882.4,759.1 883.5,759.7 884.5,760.8 885.6,762.4 886.6,764.5 887.7,766.9 888.7,769.5 889.8,772.4 890.8,775.5 891.9,778.6 892.9,781.6 894.0,784.7 895.1,787.6 896.1,790.4 897.2,793.0 898.2,795.4 899.3,797.5 900.3,799.4 901.4,801.0 902.4,802.4 903.5,803.5 904.5,804.4 905.6,805.2 906.6,805.8 907.7,806.4 908.7,806.8 909.8,807.3 910.8,807.6 911.9,808.0 912.9,808.5 914.0,809.0 915.0,809.6 916.1,810.4 917.1,811.3 918.2,812.5 919.2,813.9 920.3,815.6 921.3,817.5 922.4,819.6 923.4,821.9 924.5,824.3 925.5,826.7 926.6,829.1 927.6,831.5 928.7,833.9 929.7,836.2 930.8,838.5 931.8,840.7 932.9,842.9 934.0,845.1 935.0,847.3 936.1,849.6 937.1,851.8 938.2,854.1 939.2,856.4 940.3,858.8 941.3,861.3 942.4,863.9 943.4,866.6 944.5,869.5 945.5,872.5 946.6,875.6 947.6,878.7 948.7,882.0 949.7,885.2 950.8,888.4 951.8,891.6 952.9,894.7 953.9,897.7 955.0,900.6 956.0,903.2 957.1,905.6 958.1,907.5 959.2,908.9 960.2,909.9 961.3,910.3 962.3,910.3 963.4,909.5 964.4,907.9 965.5,905.1 966.5,901.1 967.6,896.3 968.6,890.7 969.7,884.3 970.7,877.0 971.8,868.7 972.9,859.9 973.9,851.1 975.0,842.9 976.0,835.3 977.1,828.3 978.1,821.8"/>
<path class="g" d="M810.9,813.1 812.0,815.4 813.0,817.8 814.1,820.1 815.2,822.5 816.2,824.9 817.3,827.3 818.3,829.7 819.4,832.1 820.4,834.5 821.5,836.8 822.5,839.2 823.6,841.5 824.6,843.9 825.7,846.4 826.7,849.0 827.8,851.8 828.8,854.7 829.9,857.8 830.9,861.2 832.0,864.8 833.0,868.6 834.1,872.5 835.1,876.3 836.2,880.0 837.2,883.5 838.3,886.9 839.3,890.0 840.4,892.9 841.4,895.5 842.5,897.8 843.5,899.6 844.6,900.9 845.6,901.6 846.7,901.9 847.7,901.6 848.8,900.7 849.8,898.9 850.9,895.9 851.9,891.8 853.0,886.8 854.1,881.0 855.1,874.5 856.2,867.2 857.2,859.1 858.3,850.5 859.3,842.1 860.4,834.1 861.4,826.5 862.5,819.2 863.5,812.2 864.6,805.4 865.6,799.0 866.7,793.0 867.7,787.6 868.8,782.8 869.8,778.8 870.9,775.4 871.9,772.5 873.0,770.2 874.0,768.3 875.1,766.7 876.1,765.5 877.2,764.6 878.2,764.0 879.3,763.7 880.3,763.6 881.4,763.8 882.4,764.2 883.5,764.9 884.5,766.1 885.6,767.7 886.6,769.8 887.7,772.3 888.7,775.0 889.8,777.9 890.8,781.0 891.9,784.1 892.9,787.2 894.0,790.3 895.1,793.2 896.1,796.0 897.2,798.6 898.2,801.0 899.3,803.1 900.3,804.9 901.4,806.5 902.4,807.9 903.5,809.0 904.5,809.9 905.6,810.6 906.6,811.2 907.7,811.6 908.7,812.0 909.8,812.4 910.8,812.7 911.9,813.0 912.9,813.3 914.0,813.6 915.0,814.0 916.1,814.5 917.1,815.1 918.2,816.0 919.2,817.0 920.3,818.3 921.3,819.8 922.4,821.4 923.4,823.2 924.5,825.1 925.5,827.0 926.6,828.9 927.6,830.7 928.7,832.5 929.7,834.3 930.8,836.0 931.8,837.6 932.9,839.2 934.0,840.8 935.0,842.4 936.1,844.0 937.1,845.6 938.2,847.3 939.2,849.0 940.3,850.9 941.3,852.8 942.4,854.8 943.4,857.0 944.5,859.3 945.5,861.7 946.6,864.3 947.6,867.0 948.7,869.8 949.7,872.6 950.8,875.4 951.8,878.2 952.9,881.0 953.9,883.7 955.0,886.3 956.0,888.7 957.1,890.9 958.1,892.6 959.2,894.0 960.2,894.9 961.3,895.3 962.3,895.3 963.4,894.7 964.4,893.3 965.5,890.8 966.5,887.2 967.6,882.7 968.6,877.5 969.7,871.7 970.7,864.9 971.8,857.2 972.9,848.9 973.9,840.8 975.0,833.2 976.0,826.1 977.1,819.7 978.1,813.8"/>
<path class="g" d="M810.9,817.1 812.0,819.7 813.0,822.4 814.1,825.1 815.2,827.7 816.2,830.4 817.3,833.1 818.3,835.7 819.4,838.3 820.4,840.9 821.5,843.5 822.5,846.0 823.6,848.6 824.6,851.2 825.7,853.9 826.7,856.6 827.8,859.5 828.8,862.6 829.9,865.8 830.9,869.3 832.0,873.0 833.0,876.9 834.1,880.8 835.1,884.7 836.2,888.4 837.2,892.0 838.3,895.3 839.3,898.5 840.4,901.3 841.4,903.9 842.5,906.1 843.5,907.9 844.6,909.1 845.6,909.8 846.7,909.9 847.7,909.5 848.8,908.4 849.8,906.3 850.9,903.1 851.9,898.7 853.0,893.3 854.1,887.2 855.1,880.3 856.2,872.5 857.2,863.9 858.3,854.9 859.3,845.9 860.4,837.4 861.4,829.3 862.5,821.4 863.5,813.7 864.6,806.4 865.6,799.4 866.7,792.8 867.7,786.8 868.8,781.4 869.8,776.7 870.9,772.7 871.9,769.3 873.0,766.4 874.0,763.8 875.1,761.7 876.1,760.0 877.2,758.6 878.2,757.5 879.3,756.6 880.3,756.1 881.4,755.8 882.4,755.7 883.5,756.0 884.5,756.7 885.6,757.8 886.6,759.4 887.7,761.3 888.7,763.4 889.8,765.8 890.8,768.3 891.9,770.8 892.9,773.3 894.0,775.8 895.1,778.1 896.1,780.4 897.2,782.4 898.2,784.3 899.3,785.9 900.3,787.3 901.4,788.4 902.4,789.4 903.5,790.1 904.5,790.7 905.6,791.1 906.6,791.5 907.7,791.8 908.7,792.0 909.8,792.3 910.8,792.7 911.9,793.0 912.9,793.5 914.0,794.1 915.0,794.8 916.1,795.8 917.1,796.9 918.2,798.3 919.2,800.0 920.3,802.0 921.3,804.2 922.4,806.7 923.4,809.4 924.5,812.2 925.5,815.0 926.6,817.9 927.6,820.8 928.7,823.7 929.7,826.5 930.8,829.3 931.8,832.1 932.9,834.9 934.0,837.6 935.0,840.4 936.1,843.2 937.1,846.0 938.2,848.9 939.2,851.8 940.3,854.8 941.3,857.9 942.4,861.0 943.4,864.3 944.5,867.7 945.5,871.2 946.6,874.8 947.6,878.5 948.7,882.2 949.7,885.9 950.8,889.6 951.8,893.2 952.9,896.7 953.9,900.0 955.0,903.2 956.0,906.2 957.1,908.8 958.1,911.0 959.2,912.6 960.2,913.7 961.3,914.3 962.3,914.3 963.4,913.7 964.4,912.2 965.5,909.6 966.5,905.8 967.6,901.1 968.6,895.8 969.7,889.6 970.7,882.6 971.8,874.5 972.9,865.9 973.9,857.4 975.0,849.4 976.0,842.0 977.1,835.1 978.1,828.8"/>
<path class="g" d="M810.9,804.8 812.0,807.5 813.0,810.3 814.1,813.1 815.2,815.9 816.2,818.7 817.3,821.6 818.3,824.4 819.4,827.1 820.4,829.9 821.5,832.5 822.5,835.2 823.6,837.9 824.6,840.6 825.7,843.3 826.7,846.2 827.8,849.1 828.8,852.2 829.9,855.6 830.9,859.1 832.0,862.9 833.0,866.9 834.1,870.9 835.1,874.8 836.2,878.7 837.2,882.3 838.3,885.7 839.3,888.8 840.4,891.7 841.4,894.3 842.5,896.5 843.5,898.2 844.6,899.4 845.6,900.0 846.7,900.0 847.7,899.5 848.8,898.3 849.8,896.0 850.9,892.5 851.9,887.7 853.0,882.0 854.1,875.5 855.1,868.1 856.2,859.9 857.2,850.7 858.3,841.2 859.3,831.7 860.4,822.7 861.4,814.2 862.5,805.9 863.5,798.0 864.6,790.4 865.6,783.1 866.7,776.3 867.7,770.2 868.8,764.6 869.8,759.9 870.9,755.9 871.9,752.5 873.0,749.7 874.0,747.2 875.1,745.2 876.1,743.6 877.2,742.3 878.2,741.3 879.3,740.6 880.3,740.2 881.4,740.1 882.4,740.2 883.5,740.7 884.5,741.7 885.6,743.2 886.6,745.1 887.7,747.5 888.7,750.1 889.8,753.0 890.8,756.1 891.9,759.2 892.9,762.3 894.0,765.4 895.1,768.4 896.1,771.2 897.2,773.9 898.2,776.3 899.3,778.6 900.3,780.5 901.4,782.2 902.4,783.6 903.5,784.9 904.5,785.9 905.6,786.7 906.6,787.5 907.7,788.1 908.7,788.7 909.8,789.2 910.8,789.7 911.9,790.2 912.9,790.8 914.0,791.4 915.0,792.1 916.1,793.0 917.1,794.1 918.2,795.3 919.2,796.8 920.3,798.6 921.3,800.7 922.4,802.9 923.4,805.3 924.5,807.7 925.5,810.2 926.6,812.7 927.6,815.1 928.7,817.5 929.7,819.9 930.8,822.1 931.8,824.3 932.9,826.5 934.0,828.7 935.0,830.8 936.1,833.0 937.1,835.2 938.2,837.5 939.2,839.9 940.3,842.3 941.3,844.9 942.4,847.6 943.4,850.5 944.5,853.5 945.5,856.8 946.6,860.1 947.6,863.6 948.7,867.2 949.7,870.9 950.8,874.5 951.8,878.2 952.9,881.8 953.9,885.2 955.0,888.6 956.0,891.7 957.1,894.6 958.1,897.0 959.2,898.8 960.2,900.1 961.3,900.9 962.3,901.1 963.4,900.7 964.4,899.3 965.5,896.8 966.5,893.0 967.6,888.1 968.6,882.3 969.7,875.5 970.7,867.6 971.8,858.4 972.9,848.4 973.9,838.4 975.0,828.8 976.0,819.7 977.1,810.9 978.1,802.6"/>
<path class="g" d="M810.9,815.2 812.0,817.8 813.0,820.3 814.1,822.9 815.2,825.4 816.2,827.9 817.3,830.4 818.3,832.9 819.4,835.4 820.4,837.8 821.5,840.1 822.5,842.5 823.6,844.8 824.6,847.2 825.7,849.6 826.7,852.2 827.8,854.9 828.8,857.7 829.9,860.7 830.9,864.0 832.0,867.5 833.0,871.2 834.1,874.9 835.1,878.6 836.2,882.2 837.2,885.6 838.3,888.7 839.3,891.7 840.4,894.4 841.4,896.7 842.5,898.8 843.5,900.3 844.6,901.3 845.6,901.8 846.7,901.7 847.7,901.1 848.8,899.8 849.8,897.5 850.9,893.9 851.9,889.2 853.0,883.6 854.1,877.1 855.1,869.9 856.2,861.7 857.2,852.8 858.3,843.4 859.3,834.1 860.4,825.3 861.4,817.0 862.5,809.0 863.5,801.2 864.6,793.8 865.6,786.7 866.7,780.2 867.7,774.2 868.8,768.9 869.8,764.4 870.9,760.6 871.9,757.5 873.0,754.9 874.0,752.7 875.1,751.0 876.1,749.6 877.2,748.6 878.2,747.9 879.3,747.6 880.3,747.5 881.4,747.7 882.4,748.1 883.5,749.0 884.5,750.2 885.6,752.0 886.6,754.3 887.7,756.9 888.7,759.7 889.8,762.9 890.8,766.1 891.9,769.4 892.9,772.6 894.0,775.8 895.1,778.9 896.1,781.8 897.2,784.5 898.2,786.9 899.3,789.1 900.3,791.0 901.4,792.6 902.4,794.0 903.5,795.1 904.5,796.0 905.6,796.7 906.6,797.2 907.7,797.6 908.7,798.0 909.8,798.3 910.8,798.5 911.9,798.8 912.9,799.1 914.0,799.5 915.0,799.9 916.1,800.5 917.1,801.3 918.2,802.3 919.2,803.6 920.3,805.1 921.3,806.9 922.4,809.0 923.4,811.1 924.5,813.4 925.5,815.7 926.6,818.0 927.6,820.4 928.7,822.7 929.7,824.9 930.8,827.1 931.8,829.3 932.9,831.4 934.0,833.6 935.0,835.8 936.1,838.0 937.1,840.2 938.2,842.5 939.2,844.9 940.3,847.4 941.3,850.0 942.4,852.7 943.4,855.6 944.5,858.6 945.5,861.8 946.6,865.1 947.6,868.5 948.7,872.1 949.7,875.6 950.8,879.2 951.8,882.7 952.9,886.2 953.9,889.6 955.0,892.9 956.0,895.9 957.1,898.6 958.1,901.0 959.2,902.8 960.2,904.1 961.3,904.9 962.3,905.1 963.4,904.8 964.4,903.5 965.5,901.1 966.5,897.6 967.6,893.1 968.6,888.1 969.7,882.5 970.7,876.0 971.8,868.6 972.9,860.7 973.9,853.1 975.0,846.2 976.0,840.0 977.1,834.5 978.1,829.6"/>
<path class="g" d="M810.9,819.6 812.0,822.0 813.0,824.4 814.1,826.8 815.2,829.2 816.2,831.7 817.3,834.1 818.3,836.4 819.4,838.8 820.4,841.1 821.5,843.4 822.5,845.7 823.6,847.9 824.6,850.2 825.7,852.6 826.7,855.1 827.8,857.7 828.8,860.4 829.9,863.4 830.9,866.5 832.0,869.9 833.0,873.4 834.1,877.0 835.1,880.5 836.2,884.0 837.2,887.2 838.3,890.3 839.3,893.1 840.4,895.7 841.4,898.0 842.5,900.0 843.5,901.5 844.6,902.5 845.6,902.9 846.7,902.9 847.7,902.4 848.8,901.2 849.8,899.0 850.9,895.8 851.9,891.4 853.0,886.1 854.1,880.1 855.1,873.3 856.2,865.7 857.2,857.4 858.3,848.6 859.3,839.9 860.4,831.6 861.4,823.8 862.5,816.2 863.5,808.8 864.6,801.7 865.6,795.0 866.7,788.7 867.7,783.0 868.8,777.9 869.8,773.5 870.9,769.8 871.9,766.7 873.0,764.1 874.0,761.9 875.1,760.1 876.1,758.8 877.2,757.7 878.2,757.0 879.3,756.6 880.3,756.5 881.4,756.7 882.4,757.1 883.5,758.0 884.5,759.2 885.6,760.9 886.6,763.1 887.7,765.6 888.7,768.5 889.8,771.5 890.8,774.6 891.9,777.9 892.9,781.1 894.0,784.2 895.1,787.3 896.1,790.2 897.2,792.9 898.2,795.4 899.3,797.7 900.3,799.6 901.4,801.4 902.4,802.8 903.5,804.0 904.5,805.0 905.6,805.9 906.6,806.5 907.7,807.1 908.7,807.5 909.8,807.9 910.8,808.3 911.9,808.6 912.9,808.9 914.0,809.3 915.0,809.8 916.1,810.4 917.1,811.2 918.2,812.1 919.2,813.2 920.3,814.6 921.3,816.3 922.4,818.1 923.4,820.1 924.5,822.1 925.5,824.2 926.6,826.3 927.6,828.3 928.7,830.4 929.7,832.4 930.8,834.4 931.8,836.3 932.9,838.2 934.0,840.1 935.0,842.0 936.1,843.9 937.1,845.9 938.2,847.9 939.2,850.0 940.3,852.1 941.3,854.3 942.4,856.7 943.4,859.1 944.5,861.7 945.5,864.5 946.6,867.3 947.6,870.3 948.7,873.3 949.7,876.3 950.8,879.3 951.8,882.3 952.9,885.2 953.9,888.1 955.0,890.8 956.0,893.3 957.1,895.5 958.1,897.4 959.2,898.8 960.2,899.8 961.3,900.3 962.3,900.3 963.4,899.8 964.4,898.5 965.5,896.1 966.5,892.8 967.6,888.6 968.6,883.8 969.7,878.3 970.7,872.1 971.8,864.9 972.9,857.2 973.9,849.7 975.0,842.7 976.0,836.4 977.1,830.6 978.1,825.3"/>
<path class="g" d="M810.9,813.9 812.0,816.0 813.0,818.2 814.1,820.3 815.2,822.5 816.2,824.7 817.3,826.8 818.3,829.0 819.4,831.1 820.4,833.2 821.5,835.4 822.5,837.5 823.6,839.6 824.6,841.8 825.7,844.1 826.7,846.5 827.8,849.0 828.8,851.7 829.9,854.6 830.9,857.7 832.0,861.0 833.0,864.5 834.1,868.1 835.1,871.7 836.2,875.1 837.2,878.4 838.3,881.5 839.3,884.4 840.4,887.1 841.4,889.5 842.5,891.5 843.5,893.1 844.6,894.2 845.6,894.8 846.7,894.9 847.7,894.5 848.8,893.4 849.8,891.4 850.9,888.3 851.9,884.1 853.0,879.0 854.1,873.2 855.1,866.7 856.2,859.3 857.2,851.1 858.3,842.6 859.3,834.1 860.4,826.1 861.4,818.4 862.5,810.9 863.5,803.7 864.6,796.8 865.6,790.2 866.7,784.1 867.7,778.5 868.8,773.5 869.8,769.1 870.9,765.5 871.9,762.4 873.0,759.7 874.0,757.5 875.1,755.7 876.1,754.2 877.2,753.1 878.2,752.3 879.3,751.8 880.3,751.5 881.4,751.5 882.4,751.7 883.5,752.3 884.5,753.3 885.6,754.8 886.6,756.7 887.7,758.9 888.7,761.4 889.8,764.1 890.8,766.9 891.9,769.7 892.9,772.6 894.0,775.4 895.1,778.1 896.1,780.6 897.2,783.0 898.2,785.1 899.3,787.0 900.3,788.7 901.4,790.1 902.4,791.3 903.5,792.2 904.5,793.0 905.6,793.6 906.6,794.1 907.7,794.5 908.7,794.8 909.8,795.1 910.8,795.3 911.9,795.6 912.9,795.9 914.0,796.4 915.0,796.9 916.1,797.5 917.1,798.4 918.2,799.5 919.2,800.8 920.3,802.3 921.3,804.1 922.4,806.2 923.4,808.4 924.5,810.6 925.5,813.0 926.6,815.3 927.6,817.7 928.7,820.1 929.7,822.4 930.8,824.7 931.8,826.9 932.9,829.1 934.0,831.4 935.0,833.6 936.1,835.8 937.1,838.1 938.2,840.4 939.2,842.7 940.3,845.1 941.3,847.6 942.4,850.2 943.4,852.9 944.5,855.7 945.5,858.6 946.6,861.6 947.6,864.7 948.7,867.8 949.7,870.9 950.8,874.0 951.8,877.1 952.9,880.1 953.9,883.0 955.0,885.7 956.0,888.3 957.1,890.5 958.1,892.4 959.2,893.8 960.2,894.7 961.3,895.2 962.3,895.2 963.4,894.7 964.4,893.4 965.5,891.0 966.5,887.6 967.6,883.5 968.6,878.9 969.7,873.7 970.7,867.8 971.8,861.1 972.9,854.0 973.9,847.1 975.0,840.9 976.0,835.4 977.1,830.5 978.1,826.3"/>
<path class="g" d="M810.9,818.4 812.0,820.8 813.0,823.3 814.1,825.8 815.2,828.4 816.2,830.8 817.3,833.3 818.3,835.8 819.4,838.2 820.4,840.6 821.5,842.9 822.5,845.3 823.6,847.6 824.6,849.9 825.7,852.4 826.7,854.9 827.8,857.6 828.8,860.4 829.9,863.4 830.9,866.7 832.0,870.2 833.0,873.9 834.1,877.7 835.1,881.4 836.2,885.1 837.2,888.5 838.3,891.8 839.3,894.8 840.4,897.6 841.4,900.2 842.5,902.4 843.5,904.2 844.6,905.4 845.6,906.0 846.7,906.2 847.7,905.9 848.8,904.8 849.8,902.8 850.9,899.6 851.9,895.2 853.0,889.9 854.1,883.8 855.1,876.9 856.2,869.2 857.2,860.6 858.3,851.6 859.3,842.6 860.4,834.1 861.4,826.0 862.5,818.1 863.5,810.5 864.6,803.2 865.6,796.2 866.7,789.7 867.7,783.7 868.8,778.3 869.8,773.7 870.9,769.8 871.9,766.4 873.0,763.6 874.0,761.1 875.1,759.1 876.1,757.5 877.2,756.2 878.2,755.2 879.3,754.5 880.3,754.0 881.4,753.9 882.4,754.0 883.5,754.6 884.5,755.5 885.6,757.0 886.6,758.9 887.7,761.2 888.7,763.9 889.8,766.7 890.8,769.8 891.9,772.8 892.9,775.9 894.0,779.0 895.1,782.0 896.1,784.8 897.2,787.5 898.2,789.9 899.3,792.1 900.3,794.1 901.4,795.8 902.4,797.2 903.5,798.5 904.5,799.5 905.6,800.3 906.6,801.0 907.7,801.6 908.7,802.1 909.8,802.5 910.8,803.0 911.9,803.4 912.9,803.8 914.0,804.3 915.0,805.0 916.1,805.7 917.1,806.6 918.2,807.7 919.2,809.0 920.3,810.6 921.3,812.5 922.4,814.5 923.4,816.7 924.5,819.0 925.5,821.3 926.6,823.6 927.6,826.0 928.7,828.3 929.7,830.5 930.8,832.8 931.8,834.9 932.9,837.1 934.0,839.3 935.0,841.4 936.1,843.6 937.1,845.9 938.2,848.2 939.2,850.6 940.3,853.1 941.3,855.7 942.4,858.4 943.4,861.2 944.5,864.2 945.5,867.4 946.6,870.7 947.6,874.0 948.7,877.5 949.7,880.9 950.8,884.4 951.8,887.8 952.9,891.1 953.9,894.3 955.0,897.4 956.0,900.3 957.1,902.8 958.1,904.9 959.2,906.5 960.2,907.5 961.3,908.1 962.3,908.1 963.4,907.5 964.4,906.1 965.5,903.5 966.5,899.7 967.6,895.2 968.6,890.0 969.7,884.2 970.7,877.6 971.8,870.1 972.9,862.1 973.9,854.4 975.0,847.3 976.0,841.0 977.1,835.3 978.1,830.4"/>
<path class="g" d="M810.9,818.2 812.0,820.8 813.0,823.4 814.1,826.0 815.2,828.6 816.2,831.1 817.3,833.6 818.3,836.1 819.4,838.4 820.4,840.8 821.5,843.0 822.5,845.2 823.6,847.4 824.6,849.5 825.7,851.8 826.7,854.0 827.8,856.4 828.8,859.0 829.9,861.7 830.9,864.7 832.0,867.9 833.0,871.3 834.1,874.7 835.1,878.1 836.2,881.4 837.2,884.6 838.3,887.6 839.3,890.4 840.4,892.9 841.4,895.3 842.5,897.3 843.5,899.0 844.6,900.1 845.6,900.7 846.7,900.9 847.7,900.6 848.8,899.6 849.8,897.8 850.9,894.7 851.9,890.6 853.0,885.5 854.1,879.8 855.1,873.2 856.2,865.8 857.2,857.6 858.3,849.0 859.3,840.5 860.4,832.4 861.4,824.7 862.5,817.3 863.5,810.0 864.6,803.1 865.6,796.5 866.7,790.3 867.7,784.7 868.8,779.6 869.8,775.2 870.9,771.5 871.9,768.3 873.0,765.6 874.0,763.3 875.1,761.4 876.1,759.8 877.2,758.5 878.2,757.5 879.3,756.8 880.3,756.4 881.4,756.1 882.4,756.2 883.5,756.6 884.5,757.5 885.6,758.8 886.6,760.6 887.7,762.8 888.7,765.2 889.8,767.9 890.8,770.8 891.9,773.7 892.9,776.7 894.0,779.6 895.1,782.4 896.1,785.1 897.2,787.6 898.2,789.9 899.3,792.0 900.3,793.9 901.4,795.5 902.4,796.8 903.5,797.9 904.5,798.8 905.6,799.5 906.6,800.1 907.7,800.6 908.7,801.0 909.8,801.3 910.8,801.5 911.9,801.8 912.9,802.1 914.0,802.4 915.0,802.7 916.1,803.2 917.1,803.9 918.2,804.7 919.2,805.8 920.3,807.0 921.3,808.6 922.4,810.3 923.4,812.1 924.5,814.1 925.5,816.1 926.6,818.1 927.6,820.1 928.7,822.1 929.7,824.0 930.8,826.0 931.8,827.9 932.9,829.8 934.0,831.8 935.0,833.8 936.1,835.9 937.1,838.0 938.2,840.3 939.2,842.6 940.3,845.1 941.3,847.8 942.4,850.6 943.4,853.5 944.5,856.6 945.5,860.0 946.6,863.5 947.6,867.1 948.7,870.8 949.7,874.5 950.8,878.2 951.8,882.0 952.9,885.6 953.9,889.2 955.0,892.6 956.0,895.8 957.1,898.6 958.1,901.1 959.2,903.0 960.2,904.3 961.3,905.2 962.3,905.5 963.4,905.2 964.4,904.0 965.5,901.6 966.5,898.1 967.6,893.7 968.6,888.5 969.7,882.5 970.7,875.7 971.8,867.8 972.9,859.3 973.9,850.8 975.0,843.0 976.0,835.7 977.1,828.9 978.1,822.7"/>
<path class="g" d="M810.9,813.1 812.0,815.3 813.0,817.6 814.1,819.9 815.2,822.1 816.2,824.3 817.3,826.5 818.3,828.6 819.4,830.8 820.4,832.8 821.5,834.8 822.5,836.8 823.6,838.9 824.6,840.9 825.7,843.0 826.7,845.2 827.8,847.5 828.8,850.0 829.9,852.8 830.9,855.7 832.0,858.9 833.0,862.3 834.1,865.7 835.1,869.2 836.2,872.5 837.2,875.7 838.3,878.8 839.3,881.6 840.4,884.2 841.4,886.6 842.5,888.7 843.5,890.4 844.6,891.5 845.6,892.2 846.7,892.3 847.7,892.0 848.8,891.1 849.8,889.2 850.9,886.1 851.9,882.0 853.0,877.0 854.1,871.2 855.1,864.7 856.2,857.4 857.2,849.2 858.3,840.7 859.3,832.2 860.4,824.2 861.4,816.5 862.5,809.1 863.5,801.9 864.6,795.0 865.6,788.5 866.7,782.4 867.7,776.8 868.8,771.8 869.8,767.5 870.9,763.9 871.9,760.8 873.0,758.2 874.0,756.0 875.1,754.3 876.1,752.8 877.2,751.7 878.2,751.0 879.3,750.4 880.3,750.2 881.4,750.2 882.4,750.5 883.5,751.1 884.5,752.2 885.6,753.7 886.6,755.7 887.7,758.0 888.7,760.6 889.8,763.4 890.8,766.4 891.9,769.4 892.9,772.4 894.0,775.3 895.1,778.1 896.1,780.8 897.2,783.3 898.2,785.6 899.3,787.6 900.3,789.3 901.4,790.8 902.4,792.1 903.5,793.0 904.5,793.8 905.6,794.4 906.6,794.9 907.7,795.2 908.7,795.5 909.8,795.6 910.8,795.8 911.9,796.0 912.9,796.1 914.0,796.4 915.0,796.7 916.1,797.2 917.1,797.8 918.2,798.6 919.2,799.7 920.3,801.0 921.3,802.6 922.4,804.4 923.4,806.4 924.5,808.4 925.5,810.5 926.6,812.7 927.6,814.9 928.7,817.0 929.7,819.2 930.8,821.3 931.8,823.4 932.9,825.5 934.0,827.7 935.0,829.8 936.1,832.1 937.1,834.3 938.2,836.7 939.2,839.1 940.3,841.7 941.3,844.3 942.4,847.1 943.4,850.0 944.5,853.1 945.5,856.3 946.6,859.6 947.6,863.0 948.7,866.5 949.7,870.0 950.8,873.5 951.8,876.9 952.9,880.3 953.9,883.5 955.0,886.6 956.0,889.5 957.1,892.0 958.1,894.2 959.2,895.8 960.2,897.0 961.3,897.6 962.3,897.8 963.4,897.3 964.4,895.9 965.5,893.5 966.5,890.0 967.6,885.7 968.6,880.6 969.7,874.9 970.7,868.3 971.8,860.7 972.9,852.6 973.9,844.7 975.0,837.3 976.0,830.4 977.1,824.2 978.1,818.5"/>
</g>
<path class="a" d="M811.0,734.2 L811.0,981.5 M810.5,981.0 L1082.0,981.0"/>
<path class="a" d="M907.3,981.0 L907.3,978.0 M1004.6,981.0 L1004.6,978.0 M811.0,734.2 L814.0,734.2 M811.0,816.6 L814.0,816.6 M811.0,898.8 L814.0,898.8"/>
<path class="b" d="M810.9,813.1 812.0,815.4 813.0,817.8 814.1,820.1 815.2,822.5 816.2,824.9 817.3,827.3 818.3,829.7 819.4,832.0 820.4,834.4 821.5,836.7 822.5,839.0 823.6,841.3 824.6,843.7 825.7,846.2 826.7,848.7 827.8,851.4 828.8,854.3 829.9,857.4 830.9,860.7 832.0,864.2 833.0,867.9 834.1,871.7 835.1,875.5 836.2,879.1 837.2,882.5 838.3,885.8 839.3,888.8 840.4,891.6 841.4,894.1 842.5,896.3 843.5,898.0 844.6,899.2 845.6,899.8 846.7,899.9 847.7,899.5 848.8,898.4 849.8,896.4 850.9,893.1 851.9,888.8 853.0,883.5 854.1,877.4 855.1,870.6 856.2,862.9 857.2,854.4 858.3,845.5 859.3,836.6 860.4,828.2 861.4,820.2 862.5,812.5 863.5,805.0 864.6,797.8 865.6,791.0 866.7,784.6 867.7,778.8 868.8,773.6 869.8,769.1 870.9,765.3 871.9,762.1 873.0,759.4 874.0,757.1 875.1,755.2 876.1,753.7 877.2,752.5 878.2,751.7 879.3,751.1 880.3,750.8 881.4,750.8 882.4,751.0 883.5,751.6 884.5,752.6 885.6,754.1 886.6,756.1 887.7,758.4 888.7,761.0 889.8,763.8 890.8,766.7 891.9,769.7 892.9,772.7 894.0,775.7 895.1,778.5 896.1,781.2 897.2,783.8 898.2,786.1 899.3,788.1 900.3,789.9 901.4,791.5 902.4,792.8 903.5,793.8 904.5,794.7 905.6,795.4 906.6,796.0 907.7,796.5 908.7,796.9 909.8,797.3 910.8,797.7 911.9,798.0 912.9,798.4 914.0,798.9 915.0,799.5 916.1,800.2 917.1,801.2 918.2,802.3 919.2,803.7 920.3,805.3 921.3,807.2 922.4,809.3 923.4,811.5 924.5,813.8 925.5,816.2 926.6,818.6 927.6,821.0 928.7,823.4 929.7,825.7 930.8,827.9 931.8,830.1 932.9,832.3 934.0,834.5 935.0,836.7 936.1,838.9 937.1,841.1 938.2,843.4 939.2,845.7 940.3,848.1 941.3,850.6 942.4,853.2 943.4,855.9 944.5,858.8 945.5,861.8 946.6,864.9 947.6,868.1 948.7,871.3 949.7,874.6 950.8,877.8 951.8,881.1 952.9,884.2 953.9,887.3 955.0,890.2 956.0,892.9 957.1,895.3 958.1,897.2 959.2,898.7 960.2,899.8 961.3,900.3 962.3,900.3 963.4,899.7 964.4,898.3 965.5,895.8 966.5,892.3 967.6,887.8 968.6,882.6 969.7,876.8 970.7,870.0 971.8,862.3 972.9,854.0 973.9,845.8 975.0,838.2 976.0,831.2 977.1,824.7 978.1,818.8"/>
<text class="t" transform="translate(810.2,1011.8) scale(1,1.05)" text-anchor="middle">0</text>
<text class="t" transform="translate(906.5,1011.8) scale(1,1.05)" text-anchor="middle">0.5</text>
<text class="t" transform="translate(1003.8,1011.8) scale(1,1.05)" text-anchor="middle">1</text>
<text class="t" transform="translate(802.2,743.6) scale(1,1.05)" text-anchor="end">1</text>
<text class="t" transform="translate(802.2,826.0) scale(1,1.05)" text-anchor="end">0</text>
<text class="t" transform="translate(802.2,908.2) scale(1,1.05)" text-anchor="end">-1</text>
<text class="t" transform="translate(802.2,990.3) scale(1,1.05)" text-anchor="end">-2</text>
<text class="l" transform="translate(946.5,1044.0) scale(1,1.05)" text-anchor="middle">time/s</text>
<text class="l" transform="translate(773.2,857.6) rotate(-90) scale(1,1.05)" text-anchor="middle">amplitude/a.u.</text>
<path d="M814.6,716.8 L826.7,728.4 M826.7,716.8 L814.6,728.4" stroke="#262626" stroke-width="1.25" fill="none"/>
<text class="t" transform="translate(831.0,729.4) scale(1,1.05)">10<tspan class="s" dy="-11.9">-3</tspan></text>
</g>
<g id="p12">
<clipPath id="c11"><rect x="1178.8" y="732.2" width="271.20000000000005" height="248.79999999999995"/></clipPath>
<g clip-path="url(#c11)">
<path class="g" d="M1178.7,806.0 1179.8,807.6 1180.8,809.4 1181.9,811.1 1182.9,812.9 1184.0,814.8 1185.0,816.7 1186.1,818.7 1187.1,820.7 1188.2,822.8 1189.2,825.0 1190.3,827.2 1191.3,829.5 1192.4,831.8 1193.4,834.2 1194.5,836.5 1195.5,839.0 1196.6,841.5 1197.7,844.3 1198.7,847.3 1199.8,850.6 1200.8,854.2 1201.9,857.9 1202.9,861.7 1204.0,865.6 1205.0,869.4 1206.1,873.1 1207.1,876.8 1208.2,880.4 1209.2,883.8 1210.3,886.9 1211.3,889.5 1212.4,891.5 1213.4,892.8 1214.5,893.4 1215.5,893.4 1216.6,892.7 1217.7,890.9 1218.7,887.9 1219.8,883.7 1220.8,878.4 1221.9,872.2 1222.9,865.1 1224.0,857.3 1225.0,848.6 1226.1,839.5 1227.1,830.2 1228.2,821.1 1229.2,812.4 1230.3,804.2 1231.3,796.7 1232.4,789.7 1233.4,783.3 1234.5,777.3 1235.6,771.6 1236.6,766.5 1237.7,762.0 1238.7,758.3 1239.8,755.2 1240.8,752.8 1241.9,750.9 1242.9,749.5 1244.0,748.5 1245.0,747.7 1246.1,747.1 1247.1,746.7 1248.2,746.5 1249.2,746.4 1250.3,746.6 1251.3,747.0 1252.4,747.8 1253.5,749.1 1254.5,750.9 1255.6,753.1 1256.6,755.7 1257.7,758.5 1258.7,761.6 1259.8,765.0 1260.8,768.4 1261.9,771.9 1262.9,775.4 1264.0,778.7 1265.0,781.8 1266.1,784.8 1267.1,787.5 1268.2,790.1 1269.2,792.4 1270.3,794.5 1271.4,796.3 1272.4,797.7 1273.5,799.0 1274.5,800.0 1275.6,800.8 1276.6,801.5 1277.7,802.1 1278.7,802.5 1279.8,802.8 1280.8,803.1 1281.9,803.4 1282.9,803.7 1284.0,804.0 1285.0,804.3 1286.1,804.8 1287.1,805.5 1288.2,806.5 1289.3,807.6 1290.3,809.0 1291.4,810.6 1292.4,812.2 1293.5,813.9 1294.5,815.7 1295.6,817.4 1296.6,819.2 1297.7,821.0 1298.7,822.8 1299.8,824.5 1300.8,826.2 1301.9,828.0 1302.9,829.7 1304.0,831.5 1305.0,833.3 1306.1,835.3 1307.2,837.3 1308.2,839.6 1309.3,842.0 1310.3,844.5 1311.4,847.3 1312.4,850.1 1313.5,853.2 1314.5,856.3 1315.6,859.6 1316.6,863.0 1317.7,866.5 1318.7,870.1 1319.8,873.7 1320.8,877.2 1321.9,880.6 1322.9,883.7 1324.0,886.6 1325.0,889.0 1326.1,891.0 1327.2,892.5 1328.2,893.4 1329.3,893.8 1330.3,893.5 1331.4,892.4 1332.4,890.3 1333.5,887.1 1334.5,882.8 1335.6,877.2 1336.6,870.3 1337.7,862.3 1338.7,853.4 1339.8,843.8 1340.8,833.8 1341.9,823.5 1342.9,813.0 1344.0,802.6 1345.1,792.4 1346.1,782.5"/>
<path class="g" d="M1178.7,813.0 1179.8,814.6 1180.8,816.2 1181.9,817.9 1182.9,819.6 1184.0,821.4 1185.0,823.3 1186.1,825.2 1187.1,827.2 1188.2,829.2 1189.2,831.4 1190.3,833.5 1191.3,835.8 1192.4,838.0 1193.4,840.3 1194.5,842.7 1195.5,845.1 1196.6,847.6 1197.7,850.4 1198.7,853.3 1199.8,856.6 1200.8,860.2 1201.9,863.9 1202.9,867.7 1204.0,871.5 1205.0,875.3 1206.1,879.1 1207.1,882.8 1208.2,886.3 1209.2,889.7 1210.3,892.8 1211.3,895.5 1212.4,897.5 1213.4,898.8 1214.5,899.4 1215.5,899.4 1216.6,898.7 1217.7,897.0 1218.7,894.1 1219.8,890.0 1220.8,884.7 1221.9,878.6 1222.9,871.7 1224.0,863.9 1225.0,855.5 1226.1,846.5 1227.1,837.4 1228.2,828.4 1229.2,819.8 1230.3,811.8 1231.3,804.4 1232.4,797.7 1233.4,791.4 1234.5,785.5 1235.6,780.0 1236.6,775.1 1237.7,770.8 1238.7,767.2 1239.8,764.3 1240.8,762.0 1241.9,760.3 1242.9,759.0 1244.0,758.0 1245.0,757.4 1246.1,756.9 1247.1,756.6 1248.2,756.4 1249.2,756.4 1250.3,756.6 1251.3,757.0 1252.4,757.7 1253.5,758.9 1254.5,760.5 1255.6,762.4 1256.6,764.7 1257.7,767.2 1258.7,769.9 1259.8,772.7 1260.8,775.6 1261.9,778.5 1262.9,781.3 1264.0,783.9 1265.0,786.3 1266.1,788.4 1267.1,790.3 1268.2,792.0 1269.2,793.3 1270.3,794.3 1271.4,795.0 1272.4,795.4 1273.5,795.4 1274.5,794.8 1275.6,793.7 1276.6,792.2 1277.7,790.4 1278.7,788.6 1279.8,786.8 1280.8,785.1 1281.9,783.7 1282.9,782.8 1284.0,782.4 1285.0,782.7 1286.1,784.0 1287.1,786.5 1288.2,790.0 1289.3,794.3 1290.3,799.1 1291.4,804.1 1292.4,809.1 1293.5,813.7 1294.5,817.7 1295.6,820.9 1296.6,823.8 1297.7,826.6 1298.7,829.2 1299.8,831.7 1300.8,834.1 1301.9,836.4 1302.9,838.6 1304.0,840.8 1305.0,842.9 1306.1,845.1 1307.2,847.3 1308.2,849.6 1309.3,852.1 1310.3,854.6 1311.4,857.3 1312.4,860.0 1313.5,862.9 1314.5,865.8 1315.6,868.9 1316.6,872.0 1317.7,875.2 1318.7,878.5 1319.8,881.8 1320.8,885.1 1321.9,888.1 1322.9,891.0 1324.0,893.5 1325.0,895.7 1326.1,897.5 1327.2,898.8 1328.2,899.6 1329.3,899.8 1330.3,899.5 1331.4,898.4 1332.4,896.5 1333.5,893.5 1334.5,889.5 1335.6,884.2 1336.6,877.8 1337.7,870.2 1338.7,861.9 1339.8,852.9 1340.8,843.4 1341.9,833.8 1342.9,824.0 1344.0,814.3 1345.1,804.7 1346.1,795.5"/>
<path class="g" d="M1178.7,828.0 1179.8,829.2 1180.8,830.6 1181.9,832.0 1182.9,833.4 1184.0,834.9 1185.0,836.5 1186.1,838.2 1187.1,839.9 1188.2,841.6 1189.2,843.5 1190.3,845.4 1191.3,847.4 1192.4,849.4 1193.4,851.5 1194.5,853.6 1195.5,855.8 1196.6,858.1 1197.7,860.6 1198.7,863.4 1199.8,866.5 1200.8,869.9 1201.9,873.4 1202.9,877.0 1204.0,880.7 1205.0,884.4 1206.1,888.0 1207.1,891.5 1208.2,894.9 1209.2,898.2 1210.3,901.2 1211.3,903.8 1212.4,905.7 1213.4,906.9 1214.5,907.4 1215.5,907.4 1216.6,906.5 1217.7,904.7 1218.7,901.6 1219.8,897.2 1220.8,891.8 1221.9,885.4 1222.9,878.2 1224.0,870.2 1225.0,861.4 1226.1,852.1 1227.1,842.7 1228.2,833.4 1229.2,824.5 1230.3,816.2 1231.3,808.5 1232.4,801.5 1233.4,794.9 1234.5,788.8 1235.6,783.0 1236.6,777.8 1237.7,773.3 1238.7,769.6 1239.8,766.5 1240.8,764.1 1241.9,762.3 1242.9,761.0 1244.0,760.0 1245.0,759.4 1246.1,759.0 1247.1,758.9 1248.2,758.9 1249.2,759.2 1250.3,759.7 1251.3,760.5 1252.4,761.8 1253.5,763.5 1254.5,765.7 1255.6,768.4 1256.6,771.5 1257.7,774.8 1258.7,778.4 1259.8,782.2 1260.8,786.2 1261.9,790.2 1262.9,794.1 1264.0,797.9 1265.0,801.5 1266.1,805.0 1267.1,808.2 1268.2,811.2 1269.2,813.9 1270.3,816.4 1271.4,818.5 1272.4,820.4 1273.5,821.9 1274.5,823.2 1275.6,824.3 1276.6,825.2 1277.7,825.9 1278.7,826.5 1279.8,826.9 1280.8,827.1 1281.9,827.2 1282.9,827.2 1284.0,827.2 1285.0,827.2 1286.1,827.3 1287.1,827.5 1288.2,828.0 1289.3,828.7 1290.3,829.7 1291.4,830.9 1292.4,832.3 1293.5,833.8 1294.5,835.4 1295.6,837.0 1296.6,838.6 1297.7,840.2 1298.7,841.8 1299.8,843.3 1300.8,844.9 1301.9,846.4 1302.9,848.0 1304.0,849.6 1305.0,851.2 1306.1,852.9 1307.2,854.7 1308.2,856.7 1309.3,858.8 1310.3,861.1 1311.4,863.5 1312.4,866.0 1313.5,868.7 1314.5,871.6 1315.6,874.6 1316.6,877.7 1317.7,880.9 1318.7,884.2 1319.8,887.6 1320.8,890.9 1321.9,894.0 1322.9,897.0 1324.0,899.6 1325.0,902.0 1326.1,903.9 1327.2,905.4 1328.2,906.3 1329.3,906.7 1330.3,906.6 1331.4,905.7 1332.4,904.0 1333.5,901.3 1334.5,897.6 1335.6,892.7 1336.6,886.6 1337.7,879.4 1338.7,871.5 1339.8,862.9 1340.8,853.9 1341.9,844.7 1342.9,835.4 1344.0,826.2 1345.1,817.2 1346.1,808.5"/>
<path class="g" d="M1178.7,846.0 1179.8,847.0 1180.8,848.0 1181.9,849.1 1182.9,850.2 1184.0,851.4 1185.0,852.7 1186.1,854.1 1187.1,855.6 1188.2,857.2 1189.2,858.9 1190.3,860.7 1191.3,862.5 1192.4,864.4 1193.4,866.3 1194.5,868.2 1195.5,870.2 1196.6,872.4 1197.7,874.7 1198.7,877.3 1199.8,880.2 1200.8,883.4 1201.9,886.7 1202.9,890.2 1204.0,893.7 1205.0,897.2 1206.1,900.6 1207.1,904.0 1208.2,907.3 1209.2,910.5 1210.3,913.4 1211.3,915.9 1212.4,917.7 1213.4,918.9 1214.5,919.4 1215.5,919.4 1216.6,918.6 1217.7,916.7 1218.7,913.7 1219.8,909.3 1220.8,903.8 1221.9,897.5 1222.9,890.3 1224.0,882.2 1225.0,873.4 1226.1,864.1 1227.1,854.6 1228.2,845.3 1229.2,836.3 1230.3,827.9 1231.3,820.1 1232.4,813.0 1233.4,806.3 1234.5,800.0 1235.6,794.2 1236.6,788.8 1237.7,784.1 1238.7,780.1 1239.8,776.9 1240.8,774.2 1241.9,772.1 1242.9,770.5 1244.0,769.3 1245.0,768.3 1246.1,767.6 1247.1,767.1 1248.2,766.7 1249.2,766.5 1250.3,766.6 1251.3,766.9 1252.4,767.5 1253.5,768.7 1254.5,770.3 1255.6,772.4 1256.6,774.8 1257.7,777.5 1258.7,780.5 1259.8,783.7 1260.8,787.0 1261.9,790.4 1262.9,793.7 1264.0,797.0 1265.0,800.0 1266.1,802.9 1267.1,805.7 1268.2,808.2 1269.2,810.6 1270.3,812.7 1271.4,814.5 1272.4,816.1 1273.5,817.5 1274.5,818.7 1275.6,819.8 1276.6,820.7 1277.7,821.6 1278.7,822.4 1279.8,823.2 1280.8,824.2 1281.9,825.5 1282.9,827.1 1284.0,828.8 1285.0,830.7 1286.1,832.7 1287.1,835.0 1288.2,837.4 1289.3,839.9 1290.3,842.4 1291.4,844.9 1292.4,847.1 1293.5,849.1 1294.5,850.7 1295.6,852.0 1296.6,853.0 1297.7,853.8 1298.7,854.4 1299.8,854.8 1300.8,855.2 1301.9,855.6 1302.9,856.1 1304.0,856.7 1305.0,857.6 1306.1,858.8 1307.2,860.4 1308.2,862.5 1309.3,864.8 1310.3,867.2 1311.4,869.9 1312.4,872.7 1313.5,875.7 1314.5,878.8 1315.6,882.1 1316.6,885.6 1317.7,889.2 1318.7,892.9 1319.8,896.7 1320.8,900.4 1321.9,904.0 1322.9,907.5 1324.0,910.6 1325.0,913.5 1326.1,915.9 1327.2,917.9 1328.2,919.5 1329.3,920.4 1330.3,920.9 1331.4,920.8 1332.4,920.0 1333.5,918.4 1334.5,915.9 1335.6,912.3 1336.6,907.7 1337.7,902.1 1338.7,895.7 1339.8,888.8 1340.8,881.6 1341.9,874.3 1342.9,866.8 1344.0,859.5 1345.1,852.3 1346.1,845.5"/>
<path class="g" d="M1178.7,833.0 1179.8,834.9 1180.8,836.8 1181.9,838.7 1182.9,840.7 1184.0,842.8 1185.0,844.9 1186.1,847.0 1187.1,849.2 1188.2,851.4 1189.2,853.7 1190.3,856.1 1191.3,858.5 1192.4,860.9 1193.4,863.4 1194.5,865.9 1195.5,868.4 1196.6,871.1 1197.7,873.9 1198.7,877.0 1199.8,880.4 1200.8,884.1 1201.9,887.9 1202.9,891.8 1204.0,895.7 1205.0,899.6 1206.1,903.5 1207.1,907.2 1208.2,910.9 1209.2,914.3 1210.3,917.5 1211.3,920.3 1212.4,922.3 1213.4,923.7 1214.5,924.4 1215.5,924.5 1216.6,923.8 1217.7,922.1 1218.7,919.2 1219.8,915.0 1220.8,909.7 1221.9,903.4 1222.9,896.4 1224.0,888.5 1225.0,879.8 1226.1,870.6 1227.1,861.3 1228.2,852.1 1229.2,843.3 1230.3,835.0 1231.3,827.4 1232.4,820.4 1233.4,813.8 1234.5,807.6 1235.6,801.9 1236.6,796.6 1237.7,792.0 1238.7,788.1 1239.8,784.9 1240.8,782.3 1241.9,780.3 1242.9,778.7 1244.0,777.5 1245.0,776.5 1246.1,775.8 1247.1,775.2 1248.2,774.8 1249.2,774.6 1250.3,774.5 1251.3,774.7 1252.4,775.1 1253.5,776.0 1254.5,777.2 1255.6,778.9 1256.6,780.8 1257.7,783.0 1258.7,785.3 1259.8,787.9 1260.8,790.6 1261.9,793.3 1262.9,795.9 1264.0,798.5 1265.0,800.8 1266.1,803.0 1267.1,805.0 1268.2,806.9 1269.2,808.6 1270.3,810.1 1271.4,811.3 1272.4,812.3 1273.5,813.2 1274.5,814.0 1275.6,814.6 1276.6,815.2 1277.7,815.8 1278.7,816.4 1279.8,817.1 1280.8,818.0 1281.9,819.1 1282.9,820.4 1284.0,821.9 1285.0,823.5 1286.1,825.4 1287.1,827.4 1288.2,829.6 1289.3,832.0 1290.3,834.4 1291.4,836.8 1292.4,839.1 1293.5,841.2 1294.5,843.2 1295.6,845.1 1296.6,846.8 1297.7,848.4 1298.7,849.9 1299.8,851.2 1300.8,852.5 1301.9,853.8 1302.9,855.0 1304.0,856.2 1305.0,857.5 1306.1,859.0 1307.2,860.5 1308.2,862.3 1309.3,864.3 1310.3,866.6 1311.4,869.2 1312.4,872.1 1313.5,875.2 1314.5,878.5 1315.6,882.1 1316.6,885.8 1317.7,889.8 1318.7,893.9 1319.8,898.0 1320.8,902.2 1321.9,906.3 1322.9,910.2 1324.0,913.8 1325.0,917.2 1326.1,920.1 1327.2,922.7 1328.2,924.7 1329.3,926.2 1330.3,927.1 1331.4,927.4 1332.4,926.9 1333.5,925.5 1334.5,923.1 1335.6,919.6 1336.6,915.0 1337.7,909.3 1338.7,902.8 1339.8,895.8 1340.8,888.5 1341.9,880.9 1342.9,873.3 1344.0,865.8 1345.1,858.5 1346.1,851.5"/>
<path class="g" d="M1178.7,823.0 1179.8,826.0 1180.8,829.1 1181.9,832.1 1182.9,835.1 1184.0,838.2 1185.0,841.2 1186.1,844.3 1187.1,847.3 1188.2,850.4 1189.2,853.4 1190.3,856.5 1191.3,859.6 1192.4,862.6 1193.4,865.7 1194.5,868.7 1195.5,871.8 1196.6,874.9 1197.7,878.2 1198.7,881.6 1199.8,885.4 1200.8,889.3 1201.9,893.4 1202.9,897.5 1204.0,901.6 1205.0,905.6 1206.1,909.5 1207.1,913.3 1208.2,916.9 1209.2,920.3 1210.3,923.4 1211.3,926.0 1212.4,927.9 1213.4,929.0 1214.5,929.5 1215.5,929.2 1216.6,928.0 1217.7,925.6 1218.7,921.7 1219.8,916.4 1220.8,909.9 1221.9,902.3 1222.9,893.8 1224.0,884.3 1225.0,874.0 1226.1,863.0 1227.1,851.8 1228.2,840.7 1229.2,830.0 1230.3,819.7 1231.3,810.1 1232.4,801.1 1233.4,792.5 1234.5,784.4 1235.6,776.7 1236.6,769.5 1237.7,763.1 1238.7,757.5 1239.8,752.6 1240.8,748.5 1241.9,745.0 1242.9,742.1 1244.0,739.7 1245.0,737.8 1246.1,736.2 1247.1,735.0 1248.2,734.1 1249.2,733.6 1250.3,733.5 1251.3,733.8 1252.4,734.6 1253.5,735.9 1254.5,737.8 1255.6,740.2 1256.6,743.0 1257.7,746.2 1258.7,749.7 1259.8,753.4 1260.8,757.3 1261.9,761.3 1262.9,765.3 1264.0,769.2 1265.0,773.0 1266.1,776.6 1267.1,780.0 1268.2,783.3 1269.2,786.3 1270.3,789.1 1271.4,791.7 1272.4,793.9 1273.5,795.9 1274.5,797.7 1275.6,799.3 1276.6,800.8 1277.7,802.1 1278.7,803.2 1279.8,804.3 1280.8,805.4 1281.9,806.5 1282.9,807.6 1284.0,808.8 1285.0,810.1 1286.1,811.6 1287.1,813.2 1288.2,815.1 1289.3,817.3 1290.3,819.7 1291.4,822.3 1292.4,825.0 1293.5,827.8 1294.5,830.6 1295.6,833.4 1296.6,836.2 1297.7,839.0 1298.7,841.8 1299.8,844.6 1300.8,847.3 1301.9,850.0 1302.9,852.7 1304.0,855.3 1305.0,858.1 1306.1,860.9 1307.2,863.7 1308.2,866.7 1309.3,869.9 1310.3,873.1 1311.4,876.5 1312.4,880.0 1313.5,883.6 1314.5,887.3 1315.6,891.1 1316.6,895.0 1317.7,899.0 1318.7,903.0 1319.8,907.1 1320.8,911.0 1321.9,914.8 1322.9,918.3 1324.0,921.5 1325.0,924.3 1326.1,926.7 1327.2,928.6 1328.2,929.9 1329.3,930.6 1330.3,930.7 1331.4,929.9 1332.4,928.2 1333.5,925.4 1334.5,921.4 1335.6,916.2 1336.6,909.7 1337.7,902.0 1338.7,893.5 1339.8,884.3 1340.8,874.6 1341.9,864.7 1342.9,854.7 1344.0,844.7 1345.1,834.9 1346.1,825.5"/>
<path class="g" d="M1178.7,818.0 1179.8,820.9 1180.8,823.9 1181.9,826.8 1182.9,829.8 1184.0,832.7 1185.0,835.7 1186.1,838.7 1187.1,841.7 1188.2,844.7 1189.2,847.8 1190.3,850.8 1191.3,853.9 1192.4,856.9 1193.4,860.0 1194.5,863.0 1195.5,866.1 1196.6,869.2 1197.7,872.5 1198.7,876.0 1199.8,879.8 1200.8,883.8 1201.9,887.8 1202.9,892.0 1204.0,896.1 1205.0,900.2 1206.1,904.1 1207.1,908.0 1208.2,911.6 1209.2,915.1 1210.3,918.2 1211.3,920.9 1212.4,922.8 1213.4,924.0 1214.5,924.5 1215.5,924.2 1216.6,923.1 1217.7,920.8 1218.7,917.1 1219.8,912.0 1220.8,905.7 1221.9,898.3 1222.9,890.0 1224.0,880.8 1225.0,870.8 1226.1,860.2 1227.1,849.3 1228.2,838.6 1229.2,828.2 1230.3,818.3 1231.3,809.0 1232.4,800.4 1233.4,792.2 1234.5,784.4 1235.6,777.1 1236.6,770.3 1237.7,764.3 1238.7,759.0 1239.8,754.4 1240.8,750.6 1241.9,747.5 1242.9,744.9 1244.0,742.8 1245.0,741.0 1246.1,739.6 1247.1,738.6 1248.2,737.9 1249.2,737.5 1250.3,737.6 1251.3,738.0 1252.4,738.9 1253.5,740.3 1254.5,742.4 1255.6,745.0 1256.6,747.9 1257.7,751.3 1258.7,754.9 1259.8,758.9 1260.8,763.0 1261.9,767.2 1262.9,771.4 1264.0,775.5 1265.0,779.5 1266.1,783.3 1267.1,787.0 1268.2,790.4 1269.2,793.6 1270.3,796.6 1271.4,799.2 1272.4,801.6 1273.5,803.7 1274.5,805.6 1275.6,807.3 1276.6,808.8 1277.7,810.1 1278.7,811.2 1279.8,812.3 1280.8,813.3 1281.9,814.2 1282.9,815.2 1284.0,816.2 1285.0,817.3 1286.1,818.6 1287.1,820.0 1288.2,821.6 1289.3,823.5 1290.3,825.6 1291.4,827.9 1292.4,830.2 1293.5,832.6 1294.5,835.1 1295.6,837.5 1296.6,840.0 1297.7,842.5 1298.7,844.9 1299.8,847.3 1300.8,849.7 1301.9,852.0 1302.9,854.4 1304.0,856.8 1305.0,859.2 1306.1,861.7 1307.2,864.4 1308.2,867.1 1309.3,870.1 1310.3,873.2 1311.4,876.4 1312.4,879.8 1313.5,883.3 1314.5,887.0 1315.6,890.8 1316.6,894.8 1317.7,898.9 1318.7,903.1 1319.8,907.3 1320.8,911.5 1321.9,915.6 1322.9,919.4 1324.0,923.1 1325.0,926.4 1326.1,929.3 1327.2,931.7 1328.2,933.7 1329.3,935.2 1330.3,936.1 1331.4,936.4 1332.4,935.9 1333.5,934.6 1334.5,932.2 1335.6,928.7 1336.6,924.1 1337.7,918.5 1338.7,912.1 1339.8,905.1 1340.8,897.7 1341.9,890.2 1342.9,882.5 1344.0,875.0 1345.1,867.6 1346.1,860.5"/>
<path class="g" d="M1178.7,826.0 1179.8,828.2 1180.8,830.4 1181.9,832.6 1182.9,834.9 1184.0,837.1 1185.0,839.5 1186.1,841.8 1187.1,844.2 1188.2,846.7 1189.2,849.1 1190.3,851.6 1191.3,854.2 1192.4,856.8 1193.4,859.3 1194.5,861.9 1195.5,864.6 1196.6,867.3 1197.7,870.2 1198.7,873.4 1199.8,876.8 1200.8,880.4 1201.9,884.3 1202.9,888.1 1204.0,892.0 1205.0,895.9 1206.1,899.7 1207.1,903.3 1208.2,906.9 1209.2,910.2 1210.3,913.3 1211.3,915.9 1212.4,917.8 1213.4,919.0 1214.5,919.4 1215.5,919.3 1216.6,918.3 1217.7,916.1 1218.7,912.6 1219.8,907.8 1220.8,901.8 1221.9,894.8 1222.9,886.8 1224.0,878.0 1225.0,868.4 1226.1,858.2 1227.1,847.8 1228.2,837.5 1229.2,827.6 1230.3,818.2 1231.3,809.4 1232.4,801.3 1233.4,793.6 1234.5,786.3 1235.6,779.4 1236.6,773.0 1237.7,767.4 1238.7,762.5 1239.8,758.3 1240.8,754.8 1241.9,751.9 1242.9,749.6 1244.0,747.7 1245.0,746.1 1246.1,744.8 1247.1,743.8 1248.2,743.1 1249.2,742.6 1250.3,742.5 1251.3,742.7 1252.4,743.3 1253.5,744.3 1254.5,745.9 1255.6,748.0 1256.6,750.4 1257.7,753.1 1258.7,756.1 1259.8,759.3 1260.8,762.7 1261.9,766.2 1262.9,769.6 1264.0,772.9 1265.0,776.0 1266.1,779.0 1267.1,781.8 1268.2,784.4 1269.2,786.8 1270.3,789.0 1271.4,790.9 1272.4,792.5 1273.5,793.9 1274.5,795.1 1275.6,796.1 1276.6,797.0 1277.7,797.7 1278.7,798.4 1279.8,799.0 1280.8,799.7 1281.9,800.3 1282.9,801.0 1284.0,801.9 1285.0,802.8 1286.1,803.9 1287.1,805.3 1288.2,807.0 1289.3,808.9 1290.3,811.0 1291.4,813.4 1292.4,815.9 1293.5,818.4 1294.5,821.1 1295.6,823.7 1296.6,826.4 1297.7,829.1 1298.7,831.8 1299.8,834.4 1300.8,837.1 1301.9,839.7 1302.9,842.3 1304.0,845.0 1305.0,847.6 1306.1,850.4 1307.2,853.3 1308.2,856.2 1309.3,859.4 1310.3,862.6 1311.4,866.0 1312.4,869.5 1313.5,873.1 1314.5,876.9 1315.6,880.7 1316.6,884.6 1317.7,888.7 1318.7,892.7 1319.8,896.8 1320.8,900.8 1321.9,904.6 1322.9,908.2 1324.0,911.4 1325.0,914.3 1326.1,916.7 1327.2,918.5 1328.2,919.9 1329.3,920.6 1330.3,920.7 1331.4,919.9 1332.4,918.2 1333.5,915.4 1334.5,911.4 1335.6,906.2 1336.6,899.7 1337.7,892.0 1338.7,883.5 1339.8,874.3 1340.8,864.6 1341.9,854.7 1342.9,844.7 1344.0,834.7 1345.1,824.9 1346.1,815.5"/>
<path class="g" d="M1178.7,817.3 1179.8,819.7 1180.8,822.2 1181.9,824.7 1182.9,827.3 1184.0,829.9 1185.0,832.6 1186.1,835.3 1187.1,838.1 1188.2,840.9 1189.2,843.9 1190.3,846.8 1191.3,849.9 1192.4,852.9 1193.4,856.0 1194.5,859.1 1195.5,862.3 1196.6,865.6 1197.7,869.1 1198.7,872.8 1199.8,876.9 1200.8,881.3 1201.9,885.8 1202.9,890.4 1204.0,895.0 1205.0,899.6 1206.1,904.0 1207.1,908.4 1208.2,912.5 1209.2,916.5 1210.3,920.0 1211.3,923.1 1212.4,925.3 1213.4,926.6 1214.5,927.1 1215.5,926.9 1216.6,925.7 1217.7,923.3 1218.7,919.3 1219.8,913.8 1220.8,907.0 1221.9,899.0 1222.9,890.0 1224.0,880.0 1225.0,869.1 1226.1,857.5 1227.1,845.8 1228.2,834.1 1229.2,822.9 1230.3,812.3 1231.3,802.5 1232.4,793.4 1233.4,784.8 1234.5,776.7 1235.6,769.1 1236.6,762.1 1237.7,755.9 1238.7,750.6 1239.8,746.2 1240.8,742.5 1241.9,739.5 1242.9,737.2 1244.0,735.3 1245.0,733.8 1246.1,732.7 1247.1,731.8 1248.2,731.3 1249.2,731.0 1250.3,731.1 1251.3,731.5 1252.4,732.5 1253.5,734.0 1254.5,736.1 1255.6,738.8 1256.6,741.9 1257.7,745.3 1258.7,749.1 1259.8,753.2 1260.8,757.4 1261.9,761.7 1262.9,766.0 1264.0,770.1 1265.0,774.0 1266.1,777.8 1267.1,781.3 1268.2,784.6 1269.2,787.6 1270.3,790.4 1271.4,792.8 1272.4,794.9 1273.5,796.6 1274.5,798.2 1275.6,799.5 1276.6,800.6 1277.7,801.6 1278.7,802.5 1279.8,803.2 1280.8,803.9 1281.9,804.6 1282.9,805.3 1284.0,806.1 1285.0,807.0 1286.1,808.0 1287.1,809.3 1288.2,810.9 1289.3,812.7 1290.3,814.8 1291.4,817.0 1292.4,819.4 1293.5,821.8 1294.5,824.3 1295.6,826.8 1296.6,829.3 1297.7,831.8 1298.7,834.2 1299.8,836.6 1300.8,839.0 1301.9,841.3 1302.9,843.6 1304.0,845.9 1305.0,848.3 1306.1,850.7 1307.2,853.3 1308.2,855.9 1309.3,858.8 1310.3,861.8 1311.4,865.0 1312.4,868.3 1313.5,871.8 1314.5,875.4 1315.6,879.2 1316.6,883.1 1317.7,887.1 1318.7,891.2 1319.8,895.4 1320.8,899.5 1321.9,903.4 1322.9,907.1 1324.0,910.5 1325.0,913.5 1326.1,916.0 1327.2,918.0 1328.2,919.5 1329.3,920.3 1330.3,920.4 1331.4,919.8 1332.4,918.2 1333.5,915.5 1334.5,911.6 1335.6,906.5 1336.6,900.3 1337.7,893.2 1338.7,885.4 1339.8,877.2 1340.8,868.8 1341.9,860.5 1342.9,852.3 1344.0,844.5 1345.1,837.2 1346.1,830.5"/>
<path class="g" d="M1178.7,828.4 1179.8,830.2 1180.8,832.1 1181.9,833.9 1182.9,835.7 1184.0,837.5 1185.0,839.4 1186.1,841.2 1187.1,843.1 1188.2,845.1 1189.2,847.1 1190.3,849.1 1191.3,851.2 1192.4,853.3 1193.4,855.5 1194.5,857.7 1195.5,860.0 1196.6,862.5 1197.7,865.1 1198.7,868.0 1199.8,871.3 1200.8,874.7 1201.9,878.4 1202.9,882.2 1204.0,886.0 1205.0,889.8 1206.1,893.5 1207.1,897.2 1208.2,900.7 1209.2,904.1 1210.3,907.2 1211.3,909.8 1212.4,911.8 1213.4,913.0 1214.5,913.6 1215.5,913.6 1216.6,912.7 1217.7,910.8 1218.7,907.6 1219.8,903.2 1220.8,897.6 1221.9,891.0 1222.9,883.6 1224.0,875.3 1225.0,866.3 1226.1,856.7 1227.1,846.8 1228.2,837.1 1229.2,827.7 1230.3,818.7 1231.3,810.4 1232.4,802.6 1233.4,795.3 1234.5,788.4 1235.6,781.9 1236.6,775.9 1237.7,770.6 1238.7,766.0 1239.8,762.2 1240.8,759.0 1241.9,756.5 1242.9,754.5 1244.0,753.0 1245.0,751.8 1246.1,751.0 1247.1,750.5 1248.2,750.3 1249.2,750.3 1250.3,750.7 1251.3,751.4 1252.4,752.6 1253.5,754.3 1254.5,756.5 1255.6,759.2 1256.6,762.2 1257.7,765.5 1258.7,769.1 1259.8,772.9 1260.8,776.9 1261.9,780.8 1262.9,784.7 1264.0,788.5 1265.0,792.0 1266.1,795.3 1267.1,798.4 1268.2,801.3 1269.2,803.9 1270.3,806.1 1271.4,808.1 1272.4,809.7 1273.5,811.0 1274.5,812.0 1275.6,812.8 1276.6,813.5 1277.7,813.9 1278.7,814.2 1279.8,814.4 1280.8,814.5 1281.9,814.6 1282.9,814.7 1284.0,814.8 1285.0,815.1 1286.1,815.4 1287.1,816.0 1288.2,816.9 1289.3,818.0 1290.3,819.3 1291.4,820.8 1292.4,822.5 1293.5,824.3 1294.5,826.1 1295.6,828.1 1296.6,830.1 1297.7,832.1 1298.7,834.1 1299.8,836.2 1300.8,838.2 1301.9,840.3 1302.9,842.4 1304.0,844.6 1305.0,846.8 1306.1,849.1 1307.2,851.5 1308.2,854.0 1309.3,856.6 1310.3,859.4 1311.4,862.2 1312.4,865.2 1313.5,868.3 1314.5,871.4 1315.6,874.6 1316.6,877.9 1317.7,881.3 1318.7,884.7 1319.8,888.1 1320.8,891.4 1321.9,894.5 1322.9,897.4 1324.0,900.1 1325.0,902.3 1326.1,904.2 1327.2,905.6 1328.2,906.6 1329.3,907.0 1330.3,906.9 1331.4,906.2 1332.4,904.7 1333.5,902.4 1334.5,899.0 1335.6,894.7 1336.6,889.4 1337.7,883.2 1338.7,876.3 1339.8,869.0 1340.8,861.4 1341.9,853.8 1342.9,846.2 1344.0,838.8 1345.1,831.6 1346.1,824.9"/>
<path class="g" d="M1178.7,827.2 1179.8,828.9 1180.8,830.7 1181.9,832.5 1182.9,834.3 1184.0,836.1 1185.0,838.0 1186.1,839.9 1187.1,841.9 1188.2,843.9 1189.2,846.0 1190.3,848.1 1191.3,850.3 1192.4,852.5 1193.4,854.8 1194.5,857.2 1195.5,859.6 1196.6,862.1 1197.7,864.9 1198.7,868.0 1199.8,871.3 1200.8,874.9 1201.9,878.7 1202.9,882.6 1204.0,886.5 1205.0,890.4 1206.1,894.3 1207.1,898.0 1208.2,901.7 1209.2,905.1 1210.3,908.3 1211.3,911.1 1212.4,913.1 1213.4,914.4 1214.5,915.0 1215.5,915.0 1216.6,914.2 1217.7,912.3 1218.7,909.1 1219.8,904.5 1220.8,898.9 1221.9,892.3 1222.9,884.7 1224.0,876.3 1225.0,867.1 1226.1,857.4 1227.1,847.5 1228.2,837.6 1229.2,828.1 1230.3,819.1 1231.3,810.8 1232.4,803.0 1233.4,795.7 1234.5,788.8 1235.6,782.2 1236.6,776.3 1237.7,771.0 1238.7,766.4 1239.8,762.6 1240.8,759.5 1241.9,756.9 1242.9,754.9 1244.0,753.3 1245.0,752.1 1246.1,751.2 1247.1,750.5 1248.2,750.1 1249.2,750.0 1250.3,750.1 1251.3,750.6 1252.4,751.5 1253.5,752.9 1254.5,754.8 1255.6,757.1 1256.6,759.8 1257.7,762.8 1258.7,766.0 1259.8,769.5 1260.8,773.0 1261.9,776.7 1262.9,780.2 1264.0,783.6 1265.0,786.8 1266.1,789.8 1267.1,792.6 1268.2,795.2 1269.2,797.5 1270.3,799.5 1271.4,801.2 1272.4,802.7 1273.5,803.8 1274.5,804.7 1275.6,805.5 1276.6,806.0 1277.7,806.4 1278.7,806.7 1279.8,807.0 1280.8,807.2 1281.9,807.4 1282.9,807.6 1284.0,807.9 1285.0,808.3 1286.1,808.9 1287.1,809.8 1288.2,810.9 1289.3,812.3 1290.3,813.9 1291.4,815.7 1292.4,817.7 1293.5,819.8 1294.5,822.0 1295.6,824.3 1296.6,826.6 1297.7,828.9 1298.7,831.2 1299.8,833.5 1300.8,835.8 1301.9,838.2 1302.9,840.5 1304.0,842.9 1305.0,845.4 1306.1,847.9 1307.2,850.5 1308.2,853.2 1309.3,856.1 1310.3,859.0 1311.4,862.1 1312.4,865.3 1313.5,868.7 1314.5,872.1 1315.6,875.6 1316.6,879.1 1317.7,882.8 1318.7,886.5 1319.8,890.2 1320.8,893.8 1321.9,897.2 1322.9,900.5 1324.0,903.4 1325.0,905.9 1326.1,908.1 1327.2,909.7 1328.2,910.9 1329.3,911.6 1330.3,911.6 1331.4,911.0 1332.4,909.6 1333.5,907.3 1334.5,903.9 1335.6,899.5 1336.6,894.0 1337.7,887.4 1338.7,880.2 1339.8,872.4 1340.8,864.3 1341.9,856.0 1342.9,847.7 1344.0,839.6 1345.1,831.7 1346.1,824.1"/>
<path class="g" d="M1178.7,822.4 1179.8,824.0 1180.8,825.7 1181.9,827.5 1182.9,829.2 1184.0,831.1 1185.0,833.0 1186.1,835.0 1187.1,837.0 1188.2,839.0 1189.2,841.1 1190.3,843.2 1191.3,845.4 1192.4,847.5 1193.4,849.6 1194.5,851.8 1195.5,853.9 1196.6,856.1 1197.7,858.4 1198.7,860.9 1199.8,863.5 1200.8,866.3 1201.9,869.2 1202.9,872.1 1204.0,875.0 1205.0,877.8 1206.1,880.6 1207.1,883.2 1208.2,885.8 1209.2,888.2 1210.3,890.3 1211.3,892.1 1212.4,893.3 1213.4,894.0 1214.5,894.2 1215.5,893.9 1216.6,893.0 1217.7,891.3 1218.7,888.6 1219.8,884.9 1220.8,880.3 1221.9,875.1 1222.9,869.2 1224.0,862.6 1225.0,855.5 1226.1,848.0 1227.1,840.5 1228.2,833.0 1229.2,825.9 1230.3,819.2 1231.3,813.1 1232.4,807.4 1233.4,802.2 1234.5,797.2 1235.6,792.6 1236.6,788.4 1237.7,784.7 1238.7,781.6 1239.8,779.1 1240.8,777.0 1241.9,775.4 1242.9,774.1 1244.0,773.1 1245.0,772.3 1246.1,771.7 1247.1,771.3 1248.2,771.0 1249.2,770.8 1250.3,770.8 1251.3,771.0 1252.4,771.4 1253.5,772.3 1254.5,773.5 1255.6,775.0 1256.6,776.8 1257.7,778.8 1258.7,781.0 1259.8,783.4 1260.8,785.9 1261.9,788.4 1262.9,791.0 1264.0,793.4 1265.0,795.8 1266.1,798.0 1267.1,800.2 1268.2,802.2 1269.2,804.0 1270.3,805.7 1271.4,807.2 1272.4,808.6 1273.5,809.8 1274.5,810.9 1275.6,811.8 1276.6,812.7 1277.7,813.5 1278.7,814.2 1279.8,814.9 1280.8,815.6 1281.9,816.3 1282.9,817.0 1284.0,817.8 1285.0,818.6 1286.1,819.5 1287.1,820.6 1288.2,821.9 1289.3,823.3 1290.3,824.9 1291.4,826.5 1292.4,828.2 1293.5,829.9 1294.5,831.7 1295.6,833.3 1296.6,835.0 1297.7,836.6 1298.7,838.1 1299.8,839.6 1300.8,841.0 1301.9,842.4 1302.9,843.8 1304.0,845.1 1305.0,846.5 1306.1,847.9 1307.2,849.4 1308.2,851.0 1309.3,852.7 1310.3,854.6 1311.4,856.5 1312.4,858.6 1313.5,860.8 1314.5,863.2 1315.6,865.7 1316.6,868.3 1317.7,871.1 1318.7,873.9 1319.8,876.8 1320.8,879.7 1321.9,882.5 1322.9,885.2 1324.0,887.7 1325.0,890.0 1326.1,892.0 1327.2,893.6 1328.2,894.9 1329.3,895.7 1330.3,896.0 1331.4,895.9 1332.4,895.1 1333.5,893.5 1334.5,891.0 1335.6,887.6 1336.6,883.3 1337.7,878.1 1338.7,872.3 1339.8,866.0 1340.8,859.3 1341.9,852.5 1342.9,845.5 1344.0,838.6 1345.1,831.8 1346.1,825.2"/>
<path class="g" d="M1178.7,816.1 1179.8,818.4 1180.8,820.8 1181.9,823.2 1182.9,825.7 1184.0,828.2 1185.0,830.8 1186.1,833.4 1187.1,836.0 1188.2,838.7 1189.2,841.4 1190.3,844.1 1191.3,846.9 1192.4,849.7 1193.4,852.5 1194.5,855.3 1195.5,858.2 1196.6,861.1 1197.7,864.3 1198.7,867.7 1199.8,871.5 1200.8,875.5 1201.9,879.7 1202.9,884.0 1204.0,888.4 1205.0,892.7 1206.1,897.0 1207.1,901.2 1208.2,905.2 1209.2,909.1 1210.3,912.7 1211.3,915.7 1212.4,918.1 1213.4,919.6 1214.5,920.4 1215.5,920.5 1216.6,919.6 1217.7,917.6 1218.7,914.2 1219.8,909.2 1220.8,903.0 1221.9,895.6 1222.9,887.3 1224.0,878.0 1225.0,867.8 1226.1,856.9 1227.1,845.9 1228.2,835.0 1229.2,824.5 1230.3,814.5 1231.3,805.3 1232.4,796.8 1233.4,788.7 1234.5,781.1 1235.6,773.9 1236.6,767.3 1237.7,761.4 1238.7,756.3 1239.8,752.0 1240.8,748.4 1241.9,745.4 1242.9,743.0 1244.0,741.0 1245.0,739.4 1246.1,738.0 1247.1,736.9 1248.2,736.0 1249.2,735.4 1250.3,735.1 1251.3,735.1 1252.4,735.6 1253.5,736.7 1254.5,738.4 1255.6,740.7 1256.6,743.3 1257.7,746.4 1258.7,749.8 1259.8,753.5 1260.8,757.4 1261.9,761.4 1262.9,765.4 1264.0,769.3 1265.0,773.1 1266.1,776.7 1267.1,780.1 1268.2,783.4 1269.2,786.4 1270.3,789.2 1271.4,791.7 1272.4,793.9 1273.5,795.8 1274.5,797.5 1275.6,799.0 1276.6,800.4 1277.7,801.5 1278.7,802.6 1279.8,803.5 1280.8,804.4 1281.9,805.3 1282.9,806.2 1284.0,807.1 1285.0,808.1 1286.1,809.3 1287.1,810.6 1288.2,812.2 1289.3,814.1 1290.3,816.2 1291.4,818.4 1292.4,820.7 1293.5,823.1 1294.5,825.6 1295.6,828.0 1296.6,830.4 1297.7,832.8 1298.7,835.1 1299.8,837.4 1300.8,839.7 1301.9,842.0 1302.9,844.2 1304.0,846.5 1305.0,848.9 1306.1,851.4 1307.2,854.0 1308.2,856.8 1309.3,859.7 1310.3,862.9 1311.4,866.2 1312.4,869.8 1313.5,873.5 1314.5,877.3 1315.6,881.3 1316.6,885.5 1317.7,889.8 1318.7,894.3 1319.8,898.7 1320.8,903.1 1321.9,907.3 1322.9,911.2 1324.0,914.8 1325.0,918.0 1326.1,920.6 1327.2,922.8 1328.2,924.2 1329.3,925.1 1330.3,925.2 1331.4,924.5 1332.4,922.8 1333.5,919.9 1334.5,915.7 1335.6,910.2 1336.6,903.1 1337.7,894.8 1338.7,885.4 1339.8,875.3 1340.8,864.6 1341.9,853.6 1342.9,842.5 1344.0,831.3 1345.1,820.3 1346.1,809.7"/>
<path class="g" d="M1178.7,824.0 1179.8,825.8 1180.8,827.6 1181.9,829.5 1182.9,831.4 1184.0,833.3 1185.0,835.3 1186.1,837.3 1187.1,839.4 1188.2,841.6 1189.2,843.9 1190.3,846.3 1191.3,848.7 1192.4,851.2 1193.4,853.8 1194.5,856.5 1195.5,859.2 1196.6,862.1 1197.7,865.3 1198.7,868.7 1199.8,872.5 1200.8,876.6 1201.9,880.9 1202.9,885.3 1204.0,889.8 1205.0,894.2 1206.1,898.6 1207.1,902.8 1208.2,907.0 1209.2,910.9 1210.3,914.5 1211.3,917.6 1212.4,920.0 1213.4,921.6 1214.5,922.3 1215.5,922.4 1216.6,921.6 1217.7,919.6 1218.7,916.1 1219.8,911.2 1220.8,905.0 1221.9,897.8 1222.9,889.6 1224.0,880.4 1225.0,870.3 1226.1,859.7 1227.1,848.8 1228.2,838.0 1229.2,827.7 1230.3,817.8 1231.3,808.7 1232.4,800.3 1233.4,792.4 1234.5,784.9 1235.6,777.8 1236.6,771.4 1237.7,765.7 1238.7,760.9 1239.8,756.8 1240.8,753.5 1241.9,750.9 1242.9,748.9 1244.0,747.3 1245.0,746.1 1246.1,745.3 1247.1,744.7 1248.2,744.4 1249.2,744.4 1250.3,744.7 1251.3,745.4 1252.4,746.5 1253.5,748.1 1254.5,750.3 1255.6,753.0 1256.6,756.1 1257.7,759.4 1258.7,763.1 1259.8,766.9 1260.8,770.9 1261.9,774.9 1262.9,778.9 1264.0,782.6 1265.0,786.2 1266.1,789.5 1267.1,792.6 1268.2,795.5 1269.2,798.0 1270.3,800.2 1271.4,802.1 1272.4,803.7 1273.5,805.0 1274.5,806.0 1275.6,806.8 1276.6,807.4 1277.7,807.9 1278.7,808.2 1279.8,808.5 1280.8,808.7 1281.9,809.0 1282.9,809.3 1284.0,809.7 1285.0,810.2 1286.1,810.9 1287.1,811.9 1288.2,813.1 1289.3,814.7 1290.3,816.6 1291.4,818.6 1292.4,820.9 1293.5,823.2 1294.5,825.7 1295.6,828.2 1296.6,830.7 1297.7,833.3 1298.7,835.8 1299.8,838.3 1300.8,840.9 1301.9,843.4 1302.9,845.9 1304.0,848.5 1305.0,851.1 1306.1,853.7 1307.2,856.5 1308.2,859.4 1309.3,862.4 1310.3,865.5 1311.4,868.8 1312.4,872.1 1313.5,875.6 1314.5,879.2 1315.6,882.8 1316.6,886.6 1317.7,890.4 1318.7,894.3 1319.8,898.2 1320.8,902.0 1321.9,905.6 1322.9,908.9 1324.0,911.9 1325.0,914.5 1326.1,916.7 1327.2,918.4 1328.2,919.5 1329.3,920.0 1330.3,919.9 1331.4,919.1 1332.4,917.4 1333.5,914.7 1334.5,910.8 1335.6,905.8 1336.6,899.7 1337.7,892.5 1338.7,884.5 1339.8,876.0 1340.8,867.2 1341.9,858.3 1342.9,849.4 1344.0,840.7 1345.1,832.4 1346.1,824.5"/>
<path class="g" d="M1178.7,820.9 1179.8,822.8 1180.8,824.7 1181.9,826.7 1182.9,828.7 1184.0,830.9 1185.0,833.1 1186.1,835.4 1187.1,837.8 1188.2,840.3 1189.2,842.8 1190.3,845.4 1191.3,848.1 1192.4,850.8 1193.4,853.6 1194.5,856.3 1195.5,859.1 1196.6,862.0 1197.7,865.1 1198.7,868.4 1199.8,871.9 1200.8,875.7 1201.9,879.6 1202.9,883.5 1204.0,887.4 1205.0,891.3 1206.1,895.0 1207.1,898.7 1208.2,902.1 1209.2,905.4 1210.3,908.4 1211.3,910.8 1212.4,912.7 1213.4,913.7 1214.5,914.1 1215.5,913.9 1216.6,912.9 1217.7,910.8 1218.7,907.5 1219.8,902.9 1220.8,897.2 1221.9,890.6 1222.9,883.1 1224.0,874.9 1225.0,865.9 1226.1,856.3 1227.1,846.7 1228.2,837.2 1229.2,828.0 1230.3,819.4 1231.3,811.5 1232.4,804.1 1233.4,797.3 1234.5,790.8 1235.6,784.8 1236.6,779.3 1237.7,774.4 1238.7,770.3 1239.8,766.8 1240.8,764.0 1241.9,761.8 1242.9,760.0 1244.0,758.6 1245.0,757.5 1246.1,756.6 1247.1,756.0 1248.2,755.5 1249.2,755.2 1250.3,755.2 1251.3,755.4 1252.4,756.0 1253.5,757.0 1254.5,758.6 1255.6,760.5 1256.6,762.7 1257.7,765.3 1258.7,768.0 1259.8,771.0 1260.8,774.1 1261.9,777.3 1262.9,780.4 1264.0,783.4 1265.0,786.3 1266.1,789.0 1267.1,791.6 1268.2,794.0 1269.2,796.2 1270.3,798.2 1271.4,800.0 1272.4,801.5 1273.5,802.9 1274.5,804.1 1275.6,805.1 1276.6,806.0 1277.7,806.9 1278.7,807.7 1279.8,808.5 1280.8,809.2 1281.9,810.0 1282.9,810.9 1284.0,811.8 1285.0,812.8 1286.1,814.0 1287.1,815.4 1288.2,817.0 1289.3,818.9 1290.3,821.0 1291.4,823.2 1292.4,825.6 1293.5,827.9 1294.5,830.3 1295.6,832.7 1296.6,835.0 1297.7,837.3 1298.7,839.5 1299.8,841.7 1300.8,843.8 1301.9,845.8 1302.9,847.8 1304.0,849.8 1305.0,851.7 1306.1,853.8 1307.2,855.9 1308.2,858.1 1309.3,860.4 1310.3,862.8 1311.4,865.4 1312.4,868.0 1313.5,870.9 1314.5,873.8 1315.6,876.8 1316.6,880.0 1317.7,883.3 1318.7,886.8 1319.8,890.2 1320.8,893.6 1321.9,896.9 1322.9,900.0 1324.0,902.9 1325.0,905.5 1326.1,907.6 1327.2,909.4 1328.2,910.7 1329.3,911.5 1330.3,911.7 1331.4,911.2 1332.4,910.0 1333.5,907.8 1334.5,904.6 1335.6,900.2 1336.6,894.7 1337.7,888.0 1338.7,880.4 1339.8,872.2 1340.8,863.6 1341.9,854.6 1342.9,845.5 1344.0,836.4 1345.1,827.4 1346.1,818.7"/>
</g>
<path class="a" d="M1178.8,734.2 L1178.8,981.5 M1178.3,981.0 L1450.0,981.0"/>
<path class="a" d="M1275.3,981.0 L1275.3,978.0 M1372.2,981.0 L1372.2,978.0 M1178.8,744.3 L1181.8,744.3 M1178.8,823.2 L1181.8,823.2 M1178.8,902.0 L1181.8,902.0"/>
<path class="b" d="M1178.7,823.0 1179.8,824.9 1180.8,826.9 1181.9,828.9 1182.9,830.9 1184.0,833.0 1185.0,835.1 1186.1,837.3 1187.1,839.5 1188.2,841.8 1189.2,844.1 1190.3,846.5 1191.3,848.9 1192.4,851.3 1193.4,853.8 1194.5,856.3 1195.5,858.8 1196.6,861.5 1197.7,864.3 1198.7,867.4 1199.8,870.8 1200.8,874.4 1201.9,878.1 1202.9,882.0 1204.0,885.9 1205.0,889.7 1206.1,893.5 1207.1,897.1 1208.2,900.7 1209.2,904.0 1210.3,907.1 1211.3,909.7 1212.4,911.7 1213.4,912.9 1214.5,913.4 1215.5,913.3 1216.6,912.4 1217.7,910.5 1218.7,907.2 1219.8,902.6 1220.8,896.9 1221.9,890.3 1222.9,882.7 1224.0,874.3 1225.0,865.1 1226.1,855.4 1227.1,845.5 1228.2,835.8 1229.2,826.4 1230.3,817.5 1231.3,809.3 1232.4,801.7 1233.4,794.6 1234.5,787.9 1235.6,781.6 1236.6,775.8 1237.7,770.7 1238.7,766.3 1239.8,762.7 1240.8,759.7 1241.9,757.3 1242.9,755.4 1244.0,753.9 1245.0,752.7 1246.1,751.8 1247.1,751.2 1248.2,750.7 1249.2,750.5 1250.3,750.6 1251.3,750.9 1252.4,751.7 1253.5,752.9 1254.5,754.7 1255.6,756.9 1256.6,759.5 1257.7,762.3 1258.7,765.5 1259.8,768.8 1260.8,772.3 1261.9,775.9 1262.9,779.4 1264.0,782.8 1265.0,786.0 1266.1,789.0 1267.1,791.9 1268.2,794.6 1269.2,797.0 1270.3,799.2 1271.4,801.1 1272.4,802.7 1273.5,804.1 1274.5,805.3 1275.6,806.3 1276.6,807.1 1277.7,807.8 1278.7,808.4 1279.8,809.0 1280.8,809.5 1281.9,810.0 1282.9,810.5 1284.0,811.1 1285.0,811.7 1286.1,812.6 1287.1,813.6 1288.2,814.9 1289.3,816.4 1290.3,818.2 1291.4,820.1 1292.4,822.1 1293.5,824.2 1294.5,826.4 1295.6,828.6 1296.6,830.8 1297.7,832.9 1298.7,835.1 1299.8,837.2 1300.8,839.3 1301.9,841.4 1302.9,843.4 1304.0,845.6 1305.0,847.7 1306.1,849.9 1307.2,852.3 1308.2,854.7 1309.3,857.3 1310.3,860.1 1311.4,863.0 1312.4,866.1 1313.5,869.2 1314.5,872.5 1315.6,876.0 1316.6,879.5 1317.7,883.2 1318.7,887.0 1319.8,890.8 1320.8,894.5 1321.9,898.1 1322.9,901.4 1324.0,904.5 1325.0,907.2 1326.1,909.6 1327.2,911.4 1328.2,912.8 1329.3,913.5 1330.3,913.7 1331.4,913.2 1332.4,911.9 1333.5,909.6 1334.5,906.2 1335.6,901.6 1336.6,895.9 1337.7,889.0 1338.7,881.4 1339.8,873.1 1340.8,864.4 1341.9,855.5 1342.9,846.6 1344.0,837.6 1345.1,828.9 1346.1,820.5"/>
<text class="t" transform="translate(1178.0,1011.8) scale(1,1.05)" text-anchor="middle">0</text>
<text class="t" transform="translate(1274.5,1011.8) scale(1,1.05)" text-anchor="middle">0.5</text>
<text class="t" transform="translate(1371.4,1011.8) scale(1,1.05)" text-anchor="middle">1</text>
<text class="t" transform="translate(1170.0,753.7) scale(1,1.05)" text-anchor="end">1</text>
<text class="t" transform="translate(1170.0,832.6) scale(1,1.05)" text-anchor="end">0</text>
<text class="t" transform="translate(1170.0,911.4) scale(1,1.05)" text-anchor="end">-1</text>
<text class="t" transform="translate(1170.0,990.2) scale(1,1.05)" text-anchor="end">-2</text>
<text class="l" transform="translate(1314.4,1044.0) scale(1,1.05)" text-anchor="middle">time/s</text>
<text class="l" transform="translate(1141.0,857.6) rotate(-90) scale(1,1.05)" text-anchor="middle">amplitude/a.u.</text>
<path d="M1182.4,716.8 L1194.5,728.4 M1194.5,716.8 L1182.4,728.4" stroke="#262626" stroke-width="1.25" fill="none"/>
<text class="t" transform="translate(1198.8,729.4) scale(1,1.05)">10<tspan class="s" dy="-11.9">-3</tspan></text>
</g>
</svg>
</body></html>
